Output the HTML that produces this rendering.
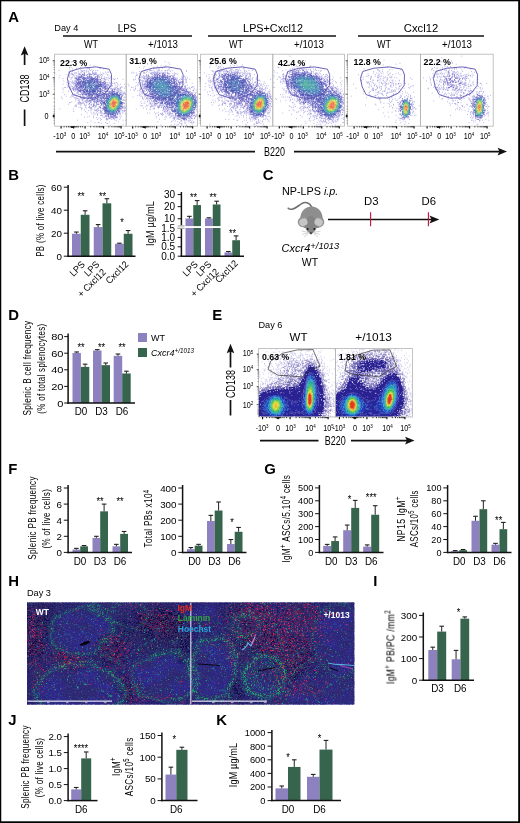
<!DOCTYPE html>
<html lang="en"><head><meta charset="utf-8"><title>Figure</title>
<style>html,body{margin:0;padding:0;background:#fff}svg{display:block}text{font-family:'Liberation Sans', sans-serif}</style>
</head><body>
<svg width="520" height="823" viewBox="0 0 520 823">
<rect x="0" y="0" width="520" height="823" fill="#fff"/>
<defs><filter id="idf" x="0" y="0" width="100%" height="100%" color-interpolation-filters="sRGB"><feOffset dx="0" dy="0"/></filter></defs>
<g filter="url(#idf)">
<text transform="translate(8.2 22.2) scale(1.02 1)" font-size="14.6" font-weight="bold" fill="#000">A</text>
<text transform="translate(8.2 180.4) scale(1.02 1)" font-size="14.6" font-weight="bold" fill="#000">B</text>
<text transform="translate(262.7 180.4) scale(1.02 1)" font-size="14.6" font-weight="bold" fill="#000">C</text>
<text transform="translate(8.2 320.2) scale(1.02 1)" font-size="14.6" font-weight="bold" fill="#000">D</text>
<text transform="translate(212.2 320.2) scale(1.02 1)" font-size="14.6" font-weight="bold" fill="#000">E</text>
<text transform="translate(8.2 474.4) scale(1.02 1)" font-size="14.6" font-weight="bold" fill="#000">F</text>
<text transform="translate(264.2 474.4) scale(1.02 1)" font-size="14.6" font-weight="bold" fill="#000">G</text>
<text transform="translate(8.2 585.7) scale(1.02 1)" font-size="14.6" font-weight="bold" fill="#000">H</text>
<text transform="translate(373.2 585.7) scale(1.02 1)" font-size="14.6" font-weight="bold" fill="#000">I</text>
<text transform="translate(8.2 724.7) scale(1.02 1)" font-size="14.6" font-weight="bold" fill="#000">J</text>
<text transform="translate(216.2 724.7) scale(1.02 1)" font-size="14.6" font-weight="bold" fill="#000">K</text>
<rect x="72" y="233.77" width="8.75" height="22.43" fill="#8e81bf"/>
<line x1="76.38" y1="233.77" x2="76.38" y2="232.05" stroke="#222" stroke-width="1"/>
<line x1="74.08" y1="232.05" x2="78.67" y2="232.05" stroke="#222" stroke-width="1.1"/>
<rect x="80.75" y="214.8" width="8.75" height="41.4" fill="#37644d"/>
<line x1="85.12" y1="214.8" x2="85.12" y2="210.77" stroke="#222" stroke-width="1"/>
<line x1="82.83" y1="210.77" x2="87.42" y2="210.77" stroke="#222" stroke-width="1.1"/>
<rect x="93.75" y="227.1" width="8.75" height="29.09" fill="#8e81bf"/>
<line x1="98.12" y1="227.1" x2="98.12" y2="224.57" stroke="#222" stroke-width="1"/>
<line x1="95.83" y1="224.57" x2="100.42" y2="224.57" stroke="#222" stroke-width="1.1"/>
<rect x="102.5" y="203.3" width="8.75" height="52.9" fill="#37644d"/>
<line x1="106.88" y1="203.3" x2="106.88" y2="198.7" stroke="#222" stroke-width="1"/>
<line x1="104.58" y1="198.7" x2="109.17" y2="198.7" stroke="#222" stroke-width="1.1"/>
<rect x="115" y="243.78" width="8.75" height="12.42" fill="#8e81bf"/>
<line x1="119.38" y1="243.78" x2="119.38" y2="243.2" stroke="#222" stroke-width="1"/>
<line x1="117.08" y1="243.2" x2="121.67" y2="243.2" stroke="#222" stroke-width="1.1"/>
<rect x="123.75" y="233.77" width="8.75" height="22.43" fill="#37644d"/>
<line x1="128.12" y1="233.77" x2="128.12" y2="230.55" stroke="#222" stroke-width="1"/>
<line x1="125.83" y1="230.55" x2="130.43" y2="230.55" stroke="#222" stroke-width="1.1"/>
<line x1="68.1" y1="185" x2="68.1" y2="256.95" stroke="#111" stroke-width="1.5"/>
<line x1="67.35" y1="256.2" x2="135.5" y2="256.2" stroke="#111" stroke-width="1.5"/>
<line x1="63.8" y1="187.2" x2="68" y2="187.2" stroke="#111" stroke-width="1"/>
<text transform="translate(62 190.73)" font-size="9.8" text-anchor="end">60</text>
<line x1="63.8" y1="210.2" x2="68" y2="210.2" stroke="#111" stroke-width="1"/>
<text transform="translate(62 213.73)" font-size="9.8" text-anchor="end">40</text>
<line x1="63.8" y1="233.2" x2="68" y2="233.2" stroke="#111" stroke-width="1"/>
<text transform="translate(62 236.73)" font-size="9.8" text-anchor="end">20</text>
<line x1="63.8" y1="256.2" x2="68" y2="256.2" stroke="#111" stroke-width="1"/>
<text transform="translate(62 259.73)" font-size="9.8" text-anchor="end">0</text>
<text transform="translate(81 200.4) scale(0.88 1)" font-size="10.5" text-anchor="middle">**</text>
<text transform="translate(102.5 200.4) scale(0.88 1)" font-size="10.5" text-anchor="middle">**</text>
<text transform="translate(122 226.4) scale(0.88 1)" font-size="10.5" text-anchor="middle">*</text>
<text transform="translate(43.9 220.5) rotate(-90) scale(0.72 1)" font-size="11" text-anchor="middle" letter-spacing="0.45">PB (% of live cells)</text>
<text transform="translate(85.5 265) rotate(-45) scale(0.95 1)" font-size="9.5" text-anchor="end">LPS</text>
<text transform="translate(100 265) rotate(-45) scale(0.95 1)" font-size="9.5" text-anchor="end">LPS</text>
<text transform="translate(106.5 272.8) rotate(-45) scale(0.95 1)" font-size="9.5" text-anchor="end">+ Cxcl12</text>
<text transform="translate(129 265) rotate(-45) scale(0.95 1)" font-size="9.5" text-anchor="end">Cxcl12</text>
<rect x="185.5" y="218.51" width="7.75" height="37.69" fill="#8e81bf"/>
<line x1="189.38" y1="218.51" x2="189.38" y2="216.33" stroke="#222" stroke-width="1"/>
<line x1="187.07" y1="216.33" x2="191.68" y2="216.33" stroke="#222" stroke-width="1.1"/>
<rect x="193.25" y="205.08" width="7.75" height="51.12" fill="#37644d"/>
<line x1="197.12" y1="205.08" x2="197.12" y2="200.6" stroke="#222" stroke-width="1"/>
<line x1="194.82" y1="200.6" x2="199.43" y2="200.6" stroke="#222" stroke-width="1.1"/>
<rect x="205" y="218.51" width="7.75" height="37.69" fill="#8e81bf"/>
<line x1="208.88" y1="218.51" x2="208.88" y2="217.78" stroke="#222" stroke-width="1"/>
<line x1="206.57" y1="217.78" x2="211.18" y2="217.78" stroke="#222" stroke-width="1.1"/>
<rect x="212.75" y="204.47" width="7.75" height="51.73" fill="#37644d"/>
<line x1="216.62" y1="204.47" x2="216.62" y2="201.21" stroke="#222" stroke-width="1"/>
<line x1="214.32" y1="201.21" x2="218.93" y2="201.21" stroke="#222" stroke-width="1.1"/>
<rect x="224.5" y="252.44" width="7.75" height="3.76" fill="#8e81bf"/>
<line x1="228.38" y1="252.44" x2="228.38" y2="251.5" stroke="#222" stroke-width="1"/>
<line x1="226.07" y1="251.5" x2="230.68" y2="251.5" stroke="#222" stroke-width="1.1"/>
<rect x="232.25" y="240.22" width="7.75" height="15.98" fill="#37644d"/>
<line x1="236.12" y1="240.22" x2="236.12" y2="235.9" stroke="#222" stroke-width="1"/>
<line x1="233.82" y1="235.9" x2="238.43" y2="235.9" stroke="#222" stroke-width="1.1"/>
<line x1="181.4" y1="192" x2="181.4" y2="256.95" stroke="#111" stroke-width="1.5"/>
<line x1="180.65" y1="256.2" x2="244" y2="256.2" stroke="#111" stroke-width="1.5"/>
<line x1="177.7" y1="194.55" x2="181.3" y2="194.55" stroke="#111" stroke-width="1"/>
<text transform="translate(175.1 198.15)" font-size="10" text-anchor="end">30</text>
<line x1="177.7" y1="206.65" x2="181.3" y2="206.65" stroke="#111" stroke-width="1"/>
<text transform="translate(175.1 210.25)" font-size="10" text-anchor="end">20</text>
<line x1="177.7" y1="218.75" x2="181.3" y2="218.75" stroke="#111" stroke-width="1"/>
<text transform="translate(175.1 222.35)" font-size="10" text-anchor="end">10</text>
<line x1="177.7" y1="228" x2="181.3" y2="228" stroke="#111" stroke-width="1"/>
<text transform="translate(175.1 231.6)" font-size="10" text-anchor="end">1.5</text>
<line x1="177.7" y1="237.4" x2="181.3" y2="237.4" stroke="#111" stroke-width="1"/>
<text transform="translate(175.1 241)" font-size="10" text-anchor="end">1.0</text>
<line x1="177.7" y1="246.8" x2="181.3" y2="246.8" stroke="#111" stroke-width="1"/>
<text transform="translate(175.1 250.4)" font-size="10" text-anchor="end">0.5</text>
<line x1="177.7" y1="256.2" x2="181.3" y2="256.2" stroke="#111" stroke-width="1"/>
<text transform="translate(175.1 259.8)" font-size="10" text-anchor="end">0.0</text>
<text transform="translate(193.5 201.4) scale(0.88 1)" font-size="10.5" text-anchor="middle">**</text>
<text transform="translate(213 201.4) scale(0.88 1)" font-size="10.5" text-anchor="middle">**</text>
<text transform="translate(232.5 236.9) scale(0.88 1)" font-size="10.5" text-anchor="middle">**</text>
<rect x="182.2" y="226.1" width="62" height="1.9" fill="#fff"/>
<rect x="177.8" y="225.3" width="6.8" height="3.4" fill="#fff"/>
<rect x="177.8" y="225.5" width="6.8" height="0.9" fill="#8a8a8a"/>
<rect x="177.8" y="227.8" width="6.8" height="0.9" fill="#8a8a8a"/>
<text transform="translate(154.3 223.5) rotate(-90) scale(0.87 1)" font-size="10.5" text-anchor="middle" letter-spacing="0.2">IgM &#181;g/mL</text>
<text transform="translate(198.5 265) rotate(-45) scale(0.95 1)" font-size="9.5" text-anchor="end">LPS</text>
<text transform="translate(212 265) rotate(-45) scale(0.95 1)" font-size="9.5" text-anchor="end">LPS</text>
<text transform="translate(219.5 272.5) rotate(-45) scale(0.95 1)" font-size="9.5" text-anchor="end">+ Cxcl12</text>
<text transform="translate(238.5 264) rotate(-45) scale(0.95 1)" font-size="9.5" text-anchor="end">Cxcl12</text>
<text transform="translate(282 195.2) scale(0.99 1)" font-size="10.9">NP-LPS <tspan font-style="italic">i.p.</tspan></text>
<line x1="328" y1="219.5" x2="433" y2="219.5" stroke="#111" stroke-width="1.4"/>
<path d="M439.3 219.5l-10-3.9 2.4 3.9-2.4 3.9z" fill="#111"/>
<line x1="370.6" y1="212.3" x2="370.6" y2="226.2" stroke="#c20f36" stroke-width="1.1"/>
<line x1="428.4" y1="212.3" x2="428.4" y2="226.2" stroke="#c20f36" stroke-width="1.1"/>
<text transform="translate(371.3 205.4) scale(1.08 1)" font-size="10.5" text-anchor="middle">D3</text>
<text transform="translate(428.8 205.4) scale(1.08 1)" font-size="10.5" text-anchor="middle">D6</text>
<text transform="translate(281.6 252.2) scale(1.02 1)" font-size="10.8" font-style="italic">Cxcr4<tspan font-size="9.2" dy="-3.4">+/1013</tspan></text>
<text transform="translate(310 266)" font-size="10.5" text-anchor="middle">WT</text>
<g id="mouse"><path d="M311.700 206.800c-2.500-4.500-6.500-5.300-10-3.200-3.500 2.200-6 5-9.500 5.600-1.800.300-3.200-.200-4-1" fill="none" stroke="#6e6e6e" stroke-width="1.600" stroke-linecap="round"/><path d="M300.200 219c0-7.500 5-12.600 11.300-12.600s11.300 5.100 11.300 12.600c0 4-2 7-4 9h-14.600c-2-2-4-5-4-9z" fill="#8e8e8e"/><ellipse cx="303.200" cy="222" rx="5.500" ry="5.200" fill="#949494"/><ellipse cx="318.800" cy="222" rx="5.500" ry="5.200" fill="#949494"/><path d="M307.800 217.500c1-2 5.400-2 6.400 0 2.200 3 3.400 7.500 2.400 10.500-1 2.800-3.400 5.400-5.600 6.400-2.200-1-4.600-3.600-5.600-6.400-1-3 .200-7.500 2.400-10.500z" fill="#848484"/><ellipse cx="303.400" cy="222.200" rx="4.200" ry="3.700" fill="#c6c6c6" transform="rotate(-25 303.400 222.200)"/><ellipse cx="318.600" cy="222.200" rx="4.200" ry="3.700" fill="#c6c6c6" transform="rotate(25 318.600 222.200)"/><circle cx="307.700" cy="229" r=".95" fill="#1a1a1a"/><circle cx="314.300" cy="229" r=".95" fill="#1a1a1a"/><path d="M309.700 232.600h2.600l-1.300 1.900z" fill="#2a2a2a"/><path d="M308 232.300l-6.500-1.200M308 233l-5.800 1.300M308.500 233.600l-4.500 3.200M314 232.300l6.500-1.200M314 233l5.800 1.300M313.500 233.600l4.500 3.200" stroke="#b0b0b0" stroke-width=".55" fill="none"/></g>
<rect x="72.5" y="352.95" width="8.4" height="50.05" fill="#8e81bf"/>
<line x1="76.7" y1="352.95" x2="76.7" y2="351.95" stroke="#222" stroke-width="1"/>
<line x1="74.4" y1="351.95" x2="79" y2="351.95" stroke="#222" stroke-width="1.1"/>
<rect x="80.9" y="366.89" width="8.4" height="36.11" fill="#37644d"/>
<line x1="85.1" y1="366.89" x2="85.1" y2="364.16" stroke="#222" stroke-width="1"/>
<line x1="82.8" y1="364.16" x2="87.4" y2="364.16" stroke="#222" stroke-width="1.1"/>
<rect x="93" y="350.54" width="8.5" height="52.46" fill="#8e81bf"/>
<line x1="97.25" y1="350.54" x2="97.25" y2="349.63" stroke="#222" stroke-width="1"/>
<line x1="94.95" y1="349.63" x2="99.55" y2="349.63" stroke="#222" stroke-width="1.1"/>
<rect x="101.5" y="365.15" width="8.5" height="37.85" fill="#37644d"/>
<line x1="105.75" y1="365.15" x2="105.75" y2="362.99" stroke="#222" stroke-width="1"/>
<line x1="103.45" y1="362.99" x2="108.05" y2="362.99" stroke="#222" stroke-width="1.1"/>
<rect x="113.7" y="355.86" width="8.5" height="47.14" fill="#8e81bf"/>
<line x1="117.95" y1="355.86" x2="117.95" y2="354.03" stroke="#222" stroke-width="1"/>
<line x1="115.65" y1="354.03" x2="120.25" y2="354.03" stroke="#222" stroke-width="1.1"/>
<rect x="122.2" y="373.45" width="8.5" height="29.55" fill="#37644d"/>
<line x1="126.45" y1="373.45" x2="126.45" y2="371.21" stroke="#222" stroke-width="1"/>
<line x1="124.15" y1="371.21" x2="128.75" y2="371.21" stroke="#222" stroke-width="1.1"/>
<line x1="68.1" y1="333.5" x2="68.1" y2="403.75" stroke="#111" stroke-width="1.5"/>
<line x1="67.35" y1="403" x2="135" y2="403" stroke="#111" stroke-width="1.5"/>
<line x1="64.2" y1="336.6" x2="68" y2="336.6" stroke="#111" stroke-width="1"/>
<text transform="translate(63.5 340.13) scale(1.13 1)" font-size="9.8" text-anchor="end">80</text>
<line x1="64.2" y1="353.2" x2="68" y2="353.2" stroke="#111" stroke-width="1"/>
<text transform="translate(63.5 356.73) scale(1.13 1)" font-size="9.8" text-anchor="end">60</text>
<line x1="64.2" y1="369.8" x2="68" y2="369.8" stroke="#111" stroke-width="1"/>
<text transform="translate(63.5 373.33) scale(1.13 1)" font-size="9.8" text-anchor="end">40</text>
<line x1="64.2" y1="386.4" x2="68" y2="386.4" stroke="#111" stroke-width="1"/>
<text transform="translate(63.5 389.93) scale(1.13 1)" font-size="9.8" text-anchor="end">20</text>
<line x1="64.2" y1="403" x2="68" y2="403" stroke="#111" stroke-width="1"/>
<text transform="translate(63.5 406.53) scale(1.13 1)" font-size="9.8" text-anchor="end">0</text>
<text transform="translate(81 415.3) scale(0.94 1)" font-size="10.5" text-anchor="middle">D0</text>
<text transform="translate(101.5 415.3) scale(0.94 1)" font-size="10.5" text-anchor="middle">D3</text>
<text transform="translate(122 415.3) scale(0.94 1)" font-size="10.5" text-anchor="middle">D6</text>
<text transform="translate(81 350.9) scale(0.88 1)" font-size="10.5" text-anchor="middle">**</text>
<text transform="translate(101.5 350.9) scale(0.88 1)" font-size="10.5" text-anchor="middle">**</text>
<text transform="translate(122 350.9) scale(0.88 1)" font-size="10.5" text-anchor="middle">**</text>
<text transform="translate(31 368) rotate(-90) scale(0.73 1)" font-size="11.2" text-anchor="middle" letter-spacing="0.45">Splenic B cell frequency</text>
<text transform="translate(44.8 368.6) rotate(-90) scale(0.71 1)" font-size="11.2" text-anchor="middle" letter-spacing="0.45">(% of total splenocytes)</text>
<rect x="138" y="333" width="9" height="9" fill="#8e81bf"/>
<rect x="138" y="348" width="9" height="9" fill="#37644d"/>
<text transform="translate(151 341)" font-size="9">WT</text>
<text transform="translate(151 356.3)" font-size="9" font-style="italic">Cxcr4<tspan font-size="6.3" dy="-3">+/1013</tspan></text>
<rect x="72.5" y="549.58" width="7.7" height="2.82" fill="#8e81bf"/>
<line x1="76.35" y1="549.58" x2="76.35" y2="548.38" stroke="#222" stroke-width="1"/>
<line x1="74.05" y1="548.38" x2="78.65" y2="548.38" stroke="#222" stroke-width="1.1"/>
<rect x="80.2" y="546.36" width="7.8" height="6.04" fill="#37644d"/>
<line x1="84.1" y1="546.36" x2="84.1" y2="545.56" stroke="#222" stroke-width="1"/>
<line x1="81.8" y1="545.56" x2="86.4" y2="545.56" stroke="#222" stroke-width="1.1"/>
<rect x="92.5" y="537.91" width="7.7" height="14.49" fill="#8e81bf"/>
<line x1="96.35" y1="537.91" x2="96.35" y2="536.3" stroke="#222" stroke-width="1"/>
<line x1="94.05" y1="536.3" x2="98.65" y2="536.3" stroke="#222" stroke-width="1.1"/>
<rect x="100.2" y="511.34" width="7.8" height="41.06" fill="#37644d"/>
<line x1="104.1" y1="511.34" x2="104.1" y2="504.1" stroke="#222" stroke-width="1"/>
<line x1="101.8" y1="504.1" x2="106.4" y2="504.1" stroke="#222" stroke-width="1.1"/>
<rect x="112.5" y="546.36" width="7.7" height="6.04" fill="#8e81bf"/>
<line x1="116.35" y1="546.36" x2="116.35" y2="544.35" stroke="#222" stroke-width="1"/>
<line x1="114.05" y1="544.35" x2="118.65" y2="544.35" stroke="#222" stroke-width="1.1"/>
<rect x="120.2" y="533.88" width="7.8" height="18.51" fill="#37644d"/>
<line x1="124.1" y1="533.88" x2="124.1" y2="531.47" stroke="#222" stroke-width="1"/>
<line x1="121.8" y1="531.47" x2="126.4" y2="531.47" stroke="#222" stroke-width="1.1"/>
<line x1="68.1" y1="485" x2="68.1" y2="553.15" stroke="#111" stroke-width="1.5"/>
<line x1="67.35" y1="552.4" x2="132" y2="552.4" stroke="#111" stroke-width="1.5"/>
<line x1="63.8" y1="488" x2="68" y2="488" stroke="#111" stroke-width="1"/>
<text transform="translate(62 491.53)" font-size="9.8" text-anchor="end">8</text>
<line x1="63.8" y1="504.1" x2="68" y2="504.1" stroke="#111" stroke-width="1"/>
<text transform="translate(62 507.63)" font-size="9.8" text-anchor="end">6</text>
<line x1="63.8" y1="520.2" x2="68" y2="520.2" stroke="#111" stroke-width="1"/>
<text transform="translate(62 523.73)" font-size="9.8" text-anchor="end">4</text>
<line x1="63.8" y1="536.3" x2="68" y2="536.3" stroke="#111" stroke-width="1"/>
<text transform="translate(62 539.83)" font-size="9.8" text-anchor="end">2</text>
<line x1="63.8" y1="552.4" x2="68" y2="552.4" stroke="#111" stroke-width="1"/>
<text transform="translate(62 555.93)" font-size="9.8" text-anchor="end">0</text>
<text transform="translate(80 564.8) scale(0.94 1)" font-size="10.5" text-anchor="middle">D0</text>
<text transform="translate(100 564.8) scale(0.94 1)" font-size="10.5" text-anchor="middle">D3</text>
<text transform="translate(120 564.8) scale(0.94 1)" font-size="10.5" text-anchor="middle">D6</text>
<text transform="translate(100 505.4) scale(0.88 1)" font-size="10.5" text-anchor="middle">**</text>
<text transform="translate(120 505.4) scale(0.88 1)" font-size="10.5" text-anchor="middle">**</text>
<text transform="translate(36.4 518) rotate(-90) scale(0.72 1)" font-size="11.2" text-anchor="middle" letter-spacing="0.45">Splenic PB frequency</text>
<text transform="translate(50 518.7) rotate(-90) scale(0.72 1)" font-size="11.2" text-anchor="middle" letter-spacing="0.45">(% of live cells)</text>
<rect x="187" y="549.18" width="7.7" height="3.22" fill="#8e81bf"/>
<line x1="190.85" y1="549.18" x2="190.85" y2="547.57" stroke="#222" stroke-width="1"/>
<line x1="188.55" y1="547.57" x2="193.15" y2="547.57" stroke="#222" stroke-width="1.1"/>
<rect x="194.7" y="545.64" width="7.8" height="6.76" fill="#37644d"/>
<line x1="198.6" y1="545.64" x2="198.6" y2="544.35" stroke="#222" stroke-width="1"/>
<line x1="196.3" y1="544.35" x2="200.9" y2="544.35" stroke="#222" stroke-width="1.1"/>
<rect x="207" y="521" width="7.7" height="31.39" fill="#8e81bf"/>
<line x1="210.85" y1="521" x2="210.85" y2="515.37" stroke="#222" stroke-width="1"/>
<line x1="208.55" y1="515.37" x2="213.15" y2="515.37" stroke="#222" stroke-width="1.1"/>
<rect x="214.7" y="510.54" width="7.8" height="41.86" fill="#37644d"/>
<line x1="218.6" y1="510.54" x2="218.6" y2="502.01" stroke="#222" stroke-width="1"/>
<line x1="216.3" y1="502.01" x2="220.9" y2="502.01" stroke="#222" stroke-width="1.1"/>
<rect x="227" y="544.03" width="7.7" height="8.37" fill="#8e81bf"/>
<line x1="230.85" y1="544.03" x2="230.85" y2="539.52" stroke="#222" stroke-width="1"/>
<line x1="228.55" y1="539.52" x2="233.15" y2="539.52" stroke="#222" stroke-width="1.1"/>
<rect x="234.7" y="531.79" width="7.8" height="20.61" fill="#37644d"/>
<line x1="238.6" y1="531.79" x2="238.6" y2="527.44" stroke="#222" stroke-width="1"/>
<line x1="236.3" y1="527.44" x2="240.9" y2="527.44" stroke="#222" stroke-width="1.1"/>
<line x1="182.6" y1="485" x2="182.6" y2="553.15" stroke="#111" stroke-width="1.5"/>
<line x1="181.85" y1="552.4" x2="246.5" y2="552.4" stroke="#111" stroke-width="1.5"/>
<line x1="178.3" y1="488" x2="182.5" y2="488" stroke="#111" stroke-width="1"/>
<text transform="translate(176.5 491.53)" font-size="9.8" text-anchor="end">400</text>
<line x1="178.3" y1="504.1" x2="182.5" y2="504.1" stroke="#111" stroke-width="1"/>
<text transform="translate(176.5 507.63)" font-size="9.8" text-anchor="end">300</text>
<line x1="178.3" y1="520.2" x2="182.5" y2="520.2" stroke="#111" stroke-width="1"/>
<text transform="translate(176.5 523.73)" font-size="9.8" text-anchor="end">200</text>
<line x1="178.3" y1="536.3" x2="182.5" y2="536.3" stroke="#111" stroke-width="1"/>
<text transform="translate(176.5 539.83)" font-size="9.8" text-anchor="end">100</text>
<line x1="178.3" y1="552.4" x2="182.5" y2="552.4" stroke="#111" stroke-width="1"/>
<text transform="translate(176.5 555.93)" font-size="9.8" text-anchor="end">0</text>
<text transform="translate(194.5 564.8) scale(0.94 1)" font-size="10.5" text-anchor="middle">D0</text>
<text transform="translate(214.5 564.8) scale(0.94 1)" font-size="10.5" text-anchor="middle">D3</text>
<text transform="translate(234.5 564.8) scale(0.94 1)" font-size="10.5" text-anchor="middle">D6</text>
<text transform="translate(232 526.1) scale(0.88 1)" font-size="10.5" text-anchor="middle">*</text>
<text transform="translate(152.3 518.5) rotate(-90) scale(0.73 1)" font-size="11.2" text-anchor="middle" letter-spacing="0.45">Total PBs x10<tspan font-size="8.2" dy="-3.6">4</tspan></text>
<rect x="323.2" y="545.95" width="8" height="6.45" fill="#8e81bf"/>
<line x1="327.2" y1="545.95" x2="327.2" y2="544.4" stroke="#222" stroke-width="1"/>
<line x1="324.9" y1="544.4" x2="329.5" y2="544.4" stroke="#222" stroke-width="1.1"/>
<rect x="331.2" y="541.05" width="7.8" height="11.35" fill="#37644d"/>
<line x1="335.1" y1="541.05" x2="335.1" y2="536.92" stroke="#222" stroke-width="1"/>
<line x1="332.8" y1="536.92" x2="337.4" y2="536.92" stroke="#222" stroke-width="1.1"/>
<rect x="343.2" y="530.21" width="8" height="22.19" fill="#8e81bf"/>
<line x1="347.2" y1="530.21" x2="347.2" y2="525.05" stroke="#222" stroke-width="1"/>
<line x1="344.9" y1="525.05" x2="349.5" y2="525.05" stroke="#222" stroke-width="1.1"/>
<rect x="351.2" y="507.89" width="8" height="44.5" fill="#37644d"/>
<line x1="355.2" y1="507.89" x2="355.2" y2="500.41" stroke="#222" stroke-width="1"/>
<line x1="352.9" y1="500.41" x2="357.5" y2="500.41" stroke="#222" stroke-width="1.1"/>
<rect x="363.2" y="546.6" width="8" height="5.8" fill="#8e81bf"/>
<line x1="367.2" y1="546.6" x2="367.2" y2="544.92" stroke="#222" stroke-width="1"/>
<line x1="364.9" y1="544.92" x2="369.5" y2="544.92" stroke="#222" stroke-width="1.1"/>
<rect x="371.2" y="514.73" width="8" height="37.67" fill="#37644d"/>
<line x1="375.2" y1="514.73" x2="375.2" y2="505.7" stroke="#222" stroke-width="1"/>
<line x1="372.9" y1="505.7" x2="377.5" y2="505.7" stroke="#222" stroke-width="1.1"/>
<line x1="319.4" y1="485" x2="319.4" y2="553.15" stroke="#111" stroke-width="1.5"/>
<line x1="318.65" y1="552.4" x2="383.5" y2="552.4" stroke="#111" stroke-width="1.5"/>
<line x1="315.1" y1="487.9" x2="319.3" y2="487.9" stroke="#111" stroke-width="1"/>
<text transform="translate(313.3 491.43) scale(0.93 1)" font-size="9.8" text-anchor="end">500</text>
<line x1="315.1" y1="500.8" x2="319.3" y2="500.8" stroke="#111" stroke-width="1"/>
<text transform="translate(313.3 504.33) scale(0.93 1)" font-size="9.8" text-anchor="end">400</text>
<line x1="315.1" y1="513.7" x2="319.3" y2="513.7" stroke="#111" stroke-width="1"/>
<text transform="translate(313.3 517.23) scale(0.93 1)" font-size="9.8" text-anchor="end">300</text>
<line x1="315.1" y1="526.6" x2="319.3" y2="526.6" stroke="#111" stroke-width="1"/>
<text transform="translate(313.3 530.13) scale(0.93 1)" font-size="9.8" text-anchor="end">200</text>
<line x1="315.1" y1="539.5" x2="319.3" y2="539.5" stroke="#111" stroke-width="1"/>
<text transform="translate(313.3 543.03) scale(0.93 1)" font-size="9.8" text-anchor="end">100</text>
<line x1="315.1" y1="552.4" x2="319.3" y2="552.4" stroke="#111" stroke-width="1"/>
<text transform="translate(313.3 555.93) scale(0.93 1)" font-size="9.8" text-anchor="end">0</text>
<text transform="translate(331.2 564.8) scale(0.94 1)" font-size="10.5" text-anchor="middle">D0</text>
<text transform="translate(351.2 564.8) scale(0.94 1)" font-size="10.5" text-anchor="middle">D3</text>
<text transform="translate(371.2 564.8) scale(0.94 1)" font-size="10.5" text-anchor="middle">D6</text>
<text transform="translate(349.5 502.9) scale(0.88 1)" font-size="10.5" text-anchor="middle">*</text>
<text transform="translate(371.2 501.4) scale(0.88 1)" font-size="10.5" text-anchor="middle">***</text>
<text transform="translate(289.7 518.7) rotate(-90) scale(0.74 1)" font-size="11.2" text-anchor="middle" letter-spacing="0.45">IgM<tspan font-size="8.2" dy="-3.6">+</tspan><tspan dy="3.6"> ASCs/5.10</tspan><tspan font-size="8.2" dy="-3.6">4</tspan><tspan dy="3.6"> cells</tspan></text>
<rect x="451.2" y="551.11" width="8" height="1.29" fill="#8e81bf"/>
<line x1="455.2" y1="551.11" x2="455.2" y2="550.59" stroke="#222" stroke-width="1"/>
<line x1="452.9" y1="550.59" x2="457.5" y2="550.59" stroke="#222" stroke-width="1.1"/>
<rect x="459.2" y="550.14" width="7.8" height="2.26" fill="#37644d"/>
<line x1="463.1" y1="550.14" x2="463.1" y2="549.5" stroke="#222" stroke-width="1"/>
<line x1="460.8" y1="549.5" x2="465.4" y2="549.5" stroke="#222" stroke-width="1.1"/>
<rect x="471.5" y="520.79" width="8" height="31.61" fill="#8e81bf"/>
<line x1="475.5" y1="520.79" x2="475.5" y2="516.28" stroke="#222" stroke-width="1"/>
<line x1="473.2" y1="516.28" x2="477.8" y2="516.28" stroke="#222" stroke-width="1.1"/>
<rect x="479.5" y="509.18" width="7.7" height="43.22" fill="#37644d"/>
<line x1="483.35" y1="509.18" x2="483.35" y2="500.8" stroke="#222" stroke-width="1"/>
<line x1="481.05" y1="500.8" x2="485.65" y2="500.8" stroke="#222" stroke-width="1.1"/>
<rect x="491.5" y="544.66" width="8" height="7.74" fill="#8e81bf"/>
<line x1="495.5" y1="544.66" x2="495.5" y2="543.37" stroke="#222" stroke-width="1"/>
<line x1="493.2" y1="543.37" x2="497.8" y2="543.37" stroke="#222" stroke-width="1.1"/>
<rect x="499.5" y="529.18" width="7.7" height="23.22" fill="#37644d"/>
<line x1="503.35" y1="529.18" x2="503.35" y2="522.41" stroke="#222" stroke-width="1"/>
<line x1="501.05" y1="522.41" x2="505.65" y2="522.41" stroke="#222" stroke-width="1.1"/>
<line x1="447.6" y1="485" x2="447.6" y2="553.15" stroke="#111" stroke-width="1.5"/>
<line x1="446.85" y1="552.4" x2="511.5" y2="552.4" stroke="#111" stroke-width="1.5"/>
<line x1="443.3" y1="487.9" x2="447.5" y2="487.9" stroke="#111" stroke-width="1"/>
<text transform="translate(441.5 491.43) scale(0.93 1)" font-size="9.8" text-anchor="end">100</text>
<line x1="443.3" y1="500.8" x2="447.5" y2="500.8" stroke="#111" stroke-width="1"/>
<text transform="translate(441.5 504.33) scale(0.93 1)" font-size="9.8" text-anchor="end">80</text>
<line x1="443.3" y1="513.7" x2="447.5" y2="513.7" stroke="#111" stroke-width="1"/>
<text transform="translate(441.5 517.23) scale(0.93 1)" font-size="9.8" text-anchor="end">60</text>
<line x1="443.3" y1="526.6" x2="447.5" y2="526.6" stroke="#111" stroke-width="1"/>
<text transform="translate(441.5 530.13) scale(0.93 1)" font-size="9.8" text-anchor="end">40</text>
<line x1="443.3" y1="539.5" x2="447.5" y2="539.5" stroke="#111" stroke-width="1"/>
<text transform="translate(441.5 543.03) scale(0.93 1)" font-size="9.8" text-anchor="end">20</text>
<line x1="443.3" y1="552.4" x2="447.5" y2="552.4" stroke="#111" stroke-width="1"/>
<text transform="translate(441.5 555.93) scale(0.93 1)" font-size="9.8" text-anchor="end">0</text>
<text transform="translate(459.2 564.8) scale(0.94 1)" font-size="10.5" text-anchor="middle">D0</text>
<text transform="translate(479.5 564.8) scale(0.94 1)" font-size="10.5" text-anchor="middle">D3</text>
<text transform="translate(499.5 564.8) scale(0.94 1)" font-size="10.5" text-anchor="middle">D6</text>
<text transform="translate(498.7 523.6) scale(0.88 1)" font-size="10.5" text-anchor="middle">**</text>
<text transform="translate(405 519) rotate(-90) scale(0.78 1)" font-size="11.2" text-anchor="middle" letter-spacing="0.45">NP15 IgM<tspan font-size="8.2" dy="-3.6">+</tspan></text>
<text transform="translate(417.5 518.7) rotate(-90) scale(0.71 1)" font-size="11.2" text-anchor="middle" letter-spacing="0.45">ASCs/10<tspan font-size="8.2" dy="-3.6">5</tspan><tspan dy="3.6"> cells</tspan></text>
<rect x="428.3" y="649.96" width="8.9" height="30.24" fill="#8e81bf"/>
<line x1="432.75" y1="649.96" x2="432.75" y2="647.15" stroke="#222" stroke-width="1"/>
<line x1="430.45" y1="647.15" x2="435.05" y2="647.15" stroke="#222" stroke-width="1.1"/>
<rect x="437.2" y="631.6" width="9" height="48.6" fill="#37644d"/>
<line x1="441.7" y1="631.6" x2="441.7" y2="626.2" stroke="#222" stroke-width="1"/>
<line x1="439.4" y1="626.2" x2="444" y2="626.2" stroke="#222" stroke-width="1.1"/>
<rect x="451.7" y="659.25" width="8.7" height="20.95" fill="#8e81bf"/>
<line x1="456.05" y1="659.25" x2="456.05" y2="650.39" stroke="#222" stroke-width="1"/>
<line x1="453.75" y1="650.39" x2="458.35" y2="650.39" stroke="#222" stroke-width="1.1"/>
<rect x="460.4" y="618.64" width="8.8" height="61.56" fill="#37644d"/>
<line x1="464.8" y1="618.64" x2="464.8" y2="616.91" stroke="#222" stroke-width="1"/>
<line x1="462.5" y1="616.91" x2="467.1" y2="616.91" stroke="#222" stroke-width="1.1"/>
<line x1="423.3" y1="612.5" x2="423.3" y2="680.95" stroke="#111" stroke-width="1.5"/>
<line x1="422.55" y1="680.2" x2="474" y2="680.2" stroke="#111" stroke-width="1.5"/>
<line x1="419" y1="615.4" x2="423.2" y2="615.4" stroke="#111" stroke-width="1"/>
<text transform="translate(417.2 618.93)" font-size="9.8" text-anchor="end">300</text>
<line x1="419" y1="637" x2="423.2" y2="637" stroke="#111" stroke-width="1"/>
<text transform="translate(417.2 640.53)" font-size="9.8" text-anchor="end">200</text>
<line x1="419" y1="658.6" x2="423.2" y2="658.6" stroke="#111" stroke-width="1"/>
<text transform="translate(417.2 662.13)" font-size="9.8" text-anchor="end">100</text>
<line x1="419" y1="680.2" x2="423.2" y2="680.2" stroke="#111" stroke-width="1"/>
<text transform="translate(417.2 683.73)" font-size="9.8" text-anchor="end">0</text>
<text transform="translate(437.5 692.3) scale(0.94 1)" font-size="10.5" text-anchor="middle">D3</text>
<text transform="translate(460.3 692.3) scale(0.94 1)" font-size="10.5" text-anchor="middle">D6</text>
<text transform="translate(458.5 616.4) scale(0.88 1)" font-size="10.5" text-anchor="middle">*</text>
<text transform="translate(394.4 647) rotate(-90) scale(0.77 1)" font-size="11.2" text-anchor="middle" letter-spacing="0.45">IgM<tspan font-size="8.2" dy="-3.6">+</tspan><tspan dy="3.6"> PB/PC /mm</tspan><tspan font-size="8.2" dy="-3.6">2</tspan></text>
<rect x="71.2" y="789.4" width="10" height="11.2" fill="#8e81bf"/>
<line x1="76.2" y1="789.4" x2="76.2" y2="787.48" stroke="#222" stroke-width="1"/>
<line x1="73.9" y1="787.48" x2="78.5" y2="787.48" stroke="#222" stroke-width="1.1"/>
<rect x="81.2" y="758.36" width="10" height="42.24" fill="#37644d"/>
<line x1="86.2" y1="758.36" x2="86.2" y2="751.96" stroke="#222" stroke-width="1"/>
<line x1="83.9" y1="751.96" x2="88.5" y2="751.96" stroke="#222" stroke-width="1.1"/>
<line x1="68.1" y1="733.5" x2="68.1" y2="801.35" stroke="#111" stroke-width="1.5"/>
<line x1="67.35" y1="800.6" x2="97.5" y2="800.6" stroke="#111" stroke-width="1.5"/>
<line x1="63.8" y1="736.6" x2="68" y2="736.6" stroke="#111" stroke-width="1"/>
<text transform="translate(62 740.13)" font-size="9.8" text-anchor="end">2.0</text>
<line x1="63.8" y1="752.6" x2="68" y2="752.6" stroke="#111" stroke-width="1"/>
<text transform="translate(62 756.13)" font-size="9.8" text-anchor="end">1.5</text>
<line x1="63.8" y1="768.6" x2="68" y2="768.6" stroke="#111" stroke-width="1"/>
<text transform="translate(62 772.13)" font-size="9.8" text-anchor="end">1.0</text>
<line x1="63.8" y1="784.6" x2="68" y2="784.6" stroke="#111" stroke-width="1"/>
<text transform="translate(62 788.13)" font-size="9.8" text-anchor="end">0.5</text>
<line x1="63.8" y1="800.6" x2="68" y2="800.6" stroke="#111" stroke-width="1"/>
<text transform="translate(62 804.13)" font-size="9.8" text-anchor="end">0.0</text>
<text transform="translate(81.2 813.3) scale(0.94 1)" font-size="10.5" text-anchor="middle">D6</text>
<text transform="translate(81 752.4) scale(0.88 1)" font-size="10.5" text-anchor="middle">****</text>
<text transform="translate(28.5 767) rotate(-90) scale(0.72 1)" font-size="11.2" text-anchor="middle" letter-spacing="0.45">Splenic PB frequency</text>
<text transform="translate(42.6 767.5) rotate(-90) scale(0.72 1)" font-size="11.2" text-anchor="middle" letter-spacing="0.45">(% of live cells)</text>
<rect x="165.5" y="774.56" width="10.8" height="26.04" fill="#8e81bf"/>
<line x1="170.9" y1="774.56" x2="170.9" y2="767.18" stroke="#222" stroke-width="1"/>
<line x1="168.6" y1="767.18" x2="173.2" y2="767.18" stroke="#222" stroke-width="1.1"/>
<rect x="176.3" y="749.82" width="11.2" height="50.78" fill="#37644d"/>
<line x1="181.9" y1="749.82" x2="181.9" y2="747.22" stroke="#222" stroke-width="1"/>
<line x1="179.6" y1="747.22" x2="184.2" y2="747.22" stroke="#222" stroke-width="1.1"/>
<line x1="161.9" y1="732.5" x2="161.9" y2="801.35" stroke="#111" stroke-width="1.5"/>
<line x1="161.15" y1="800.6" x2="197.5" y2="800.6" stroke="#111" stroke-width="1.5"/>
<line x1="157.6" y1="735.5" x2="161.8" y2="735.5" stroke="#111" stroke-width="1"/>
<text transform="translate(155.8 739.03)" font-size="9.8" text-anchor="end">150</text>
<line x1="157.6" y1="757.2" x2="161.8" y2="757.2" stroke="#111" stroke-width="1"/>
<text transform="translate(155.8 760.73)" font-size="9.8" text-anchor="end">100</text>
<line x1="157.6" y1="778.9" x2="161.8" y2="778.9" stroke="#111" stroke-width="1"/>
<text transform="translate(155.8 782.43)" font-size="9.8" text-anchor="end">50</text>
<line x1="157.6" y1="800.6" x2="161.8" y2="800.6" stroke="#111" stroke-width="1"/>
<text transform="translate(155.8 804.13)" font-size="9.8" text-anchor="end">0</text>
<text transform="translate(176.3 813.3) scale(0.94 1)" font-size="10.5" text-anchor="middle">D6</text>
<text transform="translate(174.3 742.9) scale(0.88 1)" font-size="10.5" text-anchor="middle">*</text>
<text transform="translate(119.5 766.5) rotate(-90) scale(0.75 1)" font-size="11.2" text-anchor="middle" letter-spacing="0.45">IgM<tspan font-size="8.2" dy="-3.6">+</tspan></text>
<text transform="translate(132.5 766.8) rotate(-90) scale(0.73 1)" font-size="11.2" text-anchor="middle" letter-spacing="0.45">ASCs/10<tspan font-size="8.2" dy="-3.6">5</tspan><tspan dy="3.6"> cells</tspan></text>
<rect x="275.5" y="788.36" width="12.5" height="12.24" fill="#8e81bf"/>
<line x1="281.75" y1="788.36" x2="281.75" y2="785.98" stroke="#222" stroke-width="1"/>
<line x1="279.45" y1="785.98" x2="284.05" y2="785.98" stroke="#222" stroke-width="1.1"/>
<rect x="288" y="766.94" width="12.5" height="33.66" fill="#37644d"/>
<line x1="294.25" y1="766.94" x2="294.25" y2="759.8" stroke="#222" stroke-width="1"/>
<line x1="291.95" y1="759.8" x2="296.55" y2="759.8" stroke="#222" stroke-width="1.1"/>
<rect x="307" y="776.8" width="12.5" height="23.8" fill="#8e81bf"/>
<line x1="313.25" y1="776.8" x2="313.25" y2="774.42" stroke="#222" stroke-width="1"/>
<line x1="310.95" y1="774.42" x2="315.55" y2="774.42" stroke="#222" stroke-width="1.1"/>
<rect x="319.5" y="749.6" width="13" height="51" fill="#37644d"/>
<line x1="326" y1="749.6" x2="326" y2="740.42" stroke="#222" stroke-width="1"/>
<line x1="323.7" y1="740.42" x2="328.3" y2="740.42" stroke="#222" stroke-width="1.1"/>
<line x1="271.9" y1="730" x2="271.9" y2="801.35" stroke="#111" stroke-width="1.5"/>
<line x1="271.15" y1="800.6" x2="341" y2="800.6" stroke="#111" stroke-width="1.5"/>
<line x1="267.6" y1="732.6" x2="271.8" y2="732.6" stroke="#111" stroke-width="1"/>
<text transform="translate(265.4 736.02) scale(0.98 1)" font-size="9.5" text-anchor="end">1000</text>
<line x1="267.6" y1="746.2" x2="271.8" y2="746.2" stroke="#111" stroke-width="1"/>
<text transform="translate(265.4 749.62) scale(0.98 1)" font-size="9.5" text-anchor="end">800</text>
<line x1="267.6" y1="759.8" x2="271.8" y2="759.8" stroke="#111" stroke-width="1"/>
<text transform="translate(265.4 763.22) scale(0.98 1)" font-size="9.5" text-anchor="end">600</text>
<line x1="267.6" y1="773.4" x2="271.8" y2="773.4" stroke="#111" stroke-width="1"/>
<text transform="translate(265.4 776.82) scale(0.98 1)" font-size="9.5" text-anchor="end">400</text>
<line x1="267.6" y1="787" x2="271.8" y2="787" stroke="#111" stroke-width="1"/>
<text transform="translate(265.4 790.42) scale(0.98 1)" font-size="9.5" text-anchor="end">200</text>
<line x1="267.6" y1="800.6" x2="271.8" y2="800.6" stroke="#111" stroke-width="1"/>
<text transform="translate(265.4 804.02) scale(0.98 1)" font-size="9.5" text-anchor="end">0</text>
<text transform="translate(288 813.3) scale(0.94 1)" font-size="10.5" text-anchor="middle">D0</text>
<text transform="translate(319.5 813.3) scale(0.94 1)" font-size="10.5" text-anchor="middle">D6</text>
<text transform="translate(288 760.9) scale(0.88 1)" font-size="10.5" text-anchor="middle">*</text>
<text transform="translate(319.5 741.9) scale(0.88 1)" font-size="10.5" text-anchor="middle">*</text>
<text transform="translate(236.8 765) rotate(-90) scale(0.86 1)" font-size="10.5" text-anchor="middle" letter-spacing="0.2">IgM &#181;g/mL</text>
<defs><filter id="soft" x="-5%" y="-5%" width="110%" height="110%"><feGaussianBlur stdDeviation="0.32"/></filter></defs>
<text transform="translate(54.3 30.6) scale(1.02 1)" font-size="9">Day 4</text>
<text transform="translate(127 32.3) scale(0.86 1)" font-size="11.5" text-anchor="middle">LPS</text>
<text transform="translate(273 32.3) scale(0.94 1)" font-size="11.5" text-anchor="middle">LPS+Cxcl12</text>
<text transform="translate(421 32.3) scale(0.98 1)" font-size="11.5" text-anchor="middle">Cxcl12</text>
<line x1="63" y1="36" x2="192" y2="36" stroke="#111" stroke-width="1.4"/>
<line x1="208" y1="36" x2="336" y2="36" stroke="#111" stroke-width="1.4"/>
<line x1="358" y1="36" x2="484" y2="36" stroke="#111" stroke-width="1.4"/>
<text transform="translate(91 48.2) scale(0.9 1)" font-size="10" text-anchor="middle">WT</text>
<text transform="translate(163 48.2) scale(0.97 1)" font-size="10" text-anchor="middle">+/1013</text>
<text transform="translate(236 48.2) scale(0.9 1)" font-size="10" text-anchor="middle">WT</text>
<text transform="translate(309 48.2) scale(0.97 1)" font-size="10" text-anchor="middle">+/1013</text>
<text transform="translate(384 48.2) scale(0.9 1)" font-size="10" text-anchor="middle">WT</text>
<text transform="translate(457 48.2) scale(0.97 1)" font-size="10" text-anchor="middle">+/1013</text>
<g transform="translate(54.6 54.2)" fill="none" filter="url(#soft)"><path stroke="#5649c0" stroke-width="0.8" stroke-opacity="0.62" d="M28 6.8h0.8M16.8 7.6h0.8M24.8 7.6h0.8M24.8 8.4h0.8M35.2 10.8h0.8M15.2 11.6h0.8M30.4 11.6h0.8M39.2 11.6h0.8M30.4 12.4h0.8M14.4 13.2h0.8M16 13.2h0.8M25.6 13.2h0.8M32 13.2h0.8M21.6 14h0.8M32.8 14h2.4M44.8 14h1.6M14.4 14.8h0.8M17.6 14.8h0.8M32 14.8h0.8M34.4 14.8h0.8M48.8 14.8h0.8M25.6 15.6h0.8M34.4 15.6h0.8M36.8 15.6h0.8M4 16.4h0.8M26.4 16.4h0.8M28 16.4h0.8M29.6 16.4h0.8M31.2 16.4h0.8M35.2 16.4h0.8M38.4 16.4h0.8M40.8 16.4h0.8M42.4 16.4h0.8M15.2 17.2h0.8M17.6 17.2h0.8M23.2 17.2h0.8M27.2 17.2h1.6M32 17.2h0.8M33.6 17.2h0.8M37.6 17.2h0.8M13.6 18h1.6M25.6 18h1.6M29.6 18h0.8M31.2 18h0.8M37.6 18h0.8M40 18h0.8M50.4 18h0.8M52.8 18h1.6M0 18.8h0.8M16.8 18.8h0.8M19.2 18.8h3.2M23.2 18.8h0.8M28.8 18.8h1.6M33.6 18.8h1.6M37.6 18.8h1.6M40 18.8h2.4M45.6 18.8h0.8M48 18.8h0.8M14.4 19.6h0.8M16 19.6h0.8M17.6 19.6h0.8M24 19.6h1.6M27.2 19.6h0.8M33.6 19.6h0.8M37.6 19.6h1.6M40.8 19.6h0.8M48.8 19.6h0.8M51.2 19.6h0.8M12 20.4h0.8M16.8 20.4h2.4M23.2 20.4h0.8M25.6 20.4h0.8M28.8 20.4h1.6M32 20.4h0.8M36 20.4h0.8M39.2 20.4h0.8M40.8 20.4h1.6M43.2 20.4h0.8M44.8 20.4h0.8M46.4 20.4h1.6M52.8 20.4h0.8M4.8 21.2h0.8M14.4 21.2h0.8M18.4 21.2h0.8M20 21.2h0.8M21.6 21.2h0.8M34.4 21.2h0.8M38.4 21.2h0.8M42.4 21.2h1.6M45.6 21.2h0.8M52.8 21.2h0.8M22.4 22h0.8M24 22h2.4M41.6 22h0.8M43.2 22h0.8M47.2 22h0.8M55.2 22h0.8M14.4 22.8h0.8M17.6 22.8h0.8M19.2 22.8h0.8M21.6 22.8h0.8M44.8 22.8h0.8M49.6 22.8h0.8M4 23.6h0.8M12.8 23.6h0.8M16 23.6h1.6M20 23.6h4M44.8 23.6h0.8M51.2 23.6h1.6M53.6 23.6h0.8M55.2 23.6h0.8M8 24.4h0.8M20 24.4h0.8M48 24.4h2.4M54.4 24.4h0.8M58.4 24.4h0.8M62.4 24.4h0.8M16 25.2h0.8M21.6 25.2h0.8M49.6 25.2h1.6M52 25.2h0.8M56.8 25.2h0.8M59.2 25.2h1.6M68 25.2h0.8M21.6 26h0.8M48 26h0.8M50.4 26h0.8M53.6 26h0.8M8.8 26.8h0.8M13.6 26.8h0.8M17.6 26.8h0.8M19.2 26.8h1.6M24.8 26.8h0.8M49.6 26.8h0.8M14.4 27.6h0.8M16 27.6h0.8M17.6 27.6h0.8M50.4 27.6h0.8M12 28.4h0.8M16.8 28.4h0.8M18.4 28.4h1.6M47.2 28.4h0.8M50.4 28.4h1.6M52.8 28.4h0.8M54.4 28.4h0.8M56.8 28.4h0.8M60 28.4h0.8M61.6 28.4h0.8M14.4 29.2h0.8M17.6 29.2h0.8M19.2 29.2h1.6M55.2 29.2h0.8M57.6 29.2h0.8M59.2 29.2h0.8M62.4 29.2h0.8M8 30h0.8M12 30h0.8M16 30h0.8M18.4 30h0.8M49.6 30h2.4M60 30h0.8M65.6 30h0.8M69.6 30h0.8M52.8 30.8h0.8M55.2 30.8h0.8M62.4 30.8h0.8M64 30.8h0.8M12.8 31.6h0.8M16 31.6h0.8M52.8 31.6h0.8M54.4 31.6h0.8M56 31.6h2.4M60.8 31.6h0.8M13.6 32.4h0.8M16.8 32.4h1.6M52.8 32.4h0.8M54.4 32.4h0.8M56 32.4h0.8M62.4 32.4h0.8M66.4 32.4h0.8M70.4 32.4h0.8M9.6 33.2h1.6M12.8 33.2h0.8M15.2 33.2h0.8M18.4 33.2h1.6M52 33.2h1.6M54.4 33.2h0.8M60 33.2h0.8M61.6 33.2h0.8M65.6 33.2h0.8M67.2 33.2h0.8M8 34h0.8M15.2 34h0.8M17.6 34h1.6M20.8 34h0.8M52.8 34h0.8M55.2 34h1.6M60 34h1.6M62.4 34h0.8M64 34h0.8M65.6 34h0.8M69.6 34h0.8M14.4 34.8h0.8M16.8 34.8h1.6M20 34.8h1.6M53.6 34.8h0.8M56.8 34.8h2.4M60.8 34.8h0.8M62.4 34.8h2.4M65.6 34.8h0.8M8 35.6h0.8M18.4 35.6h4M61.6 35.6h0.8M63.2 35.6h0.8M64.8 35.6h0.8M18.4 36.4h0.8M20.8 36.4h0.8M62.4 36.4h0.8M64 36.4h0.8M65.6 36.4h1.6M13.6 37.2h0.8M20 37.2h0.8M22.4 37.2h0.8M51.2 37.2h0.8M53.6 37.2h0.8M63.2 37.2h1.6M67.2 37.2h0.8M8 38h0.8M65.6 38h1.6M69.6 38h0.8M21.6 38.8h0.8M65.6 38.8h0.8M68 38.8h1.6M17.6 39.6h0.8M19.2 39.6h0.8M23.2 39.6h0.8M26.4 39.6h0.8M66.4 39.6h0.8M68 39.6h3.2M9.6 40.4h0.8M17.6 40.4h0.8M20.8 40.4h0.8M24 40.4h1.6M66.4 40.4h1.6M70.4 40.4h0.8M16.8 41.2h0.8M19.2 41.2h0.8M22.4 41.2h0.8M28 41.2h0.8M67.2 41.2h1.6M11.2 42h0.8M17.6 42h1.6M25.6 42h0.8M27.2 42h0.8M6.4 42.8h0.8M15.2 42.8h0.8M16.8 42.8h0.8M21.6 42.8h0.8M24.8 42.8h1.6M29.6 42.8h0.8M69.6 42.8h1.6M19.2 43.6h2.4M26.4 43.6h0.8M28 43.6h0.8M29.6 43.6h0.8M68.8 43.6h0.8M7.2 44.4h0.8M21.6 44.4h2.4M26.4 44.4h1.6M28.8 44.4h0.8M20.8 45.2h0.8M24 45.2h0.8M27.2 45.2h1.6M32.8 45.2h0.8M68.8 45.2h0.8M23.2 46h0.8M24.8 46h0.8M27.2 46h1.6M31.2 46h0.8M68.8 46h2.4M20.8 46.8h0.8M24 46.8h0.8M29.6 46.8h2.4M33.6 46.8h0.8M35.2 46.8h0.8M38.4 46.8h0.8M16.8 47.6h0.8M24 47.6h1.6M28 47.6h0.8M30.4 47.6h0.8M33.6 47.6h0.8M35.2 47.6h0.8M38.4 47.6h0.8M40.8 47.6h0.8M14.4 48.4h1.6M23.2 48.4h0.8M24.8 48.4h1.6M27.2 48.4h0.8M28.8 48.4h0.8M31.2 48.4h0.8M35.2 48.4h1.6M68.8 48.4h0.8M23.2 49.2h1.6M25.6 49.2h2.4M28.8 49.2h0.8M39.2 49.2h0.8M41.6 49.2h0.8M68.8 49.2h1.6M13.6 50h0.8M23.2 50h0.8M24.8 50h0.8M29.6 50h0.8M31.2 50h0.8M33.6 50h1.6M36 50h1.6M39.2 50h0.8M20.8 50.8h1.6M25.6 50.8h1.6M29.6 50.8h0.8M36 50.8h0.8M38.4 50.8h1.6M20 51.6h0.8M30.4 51.6h1.6M34.4 51.6h0.8M36.8 51.6h0.8M39.2 51.6h3.2M69.6 51.6h0.8M20 52.4h0.8M21.6 52.4h0.8M34.4 52.4h0.8M37.6 52.4h1.6M40.8 52.4h0.8M44 52.4h1.6M68.8 52.4h0.8M24 53.2h0.8M25.6 53.2h0.8M30.4 53.2h0.8M33.6 53.2h2.4M36.8 53.2h0.8M40 53.2h0.8M68 53.2h0.8M69.6 53.2h1.6M26.4 54h1.6M31.2 54h0.8M35.2 54h2.4M43.2 54h0.8M45.6 54h0.8M68.8 54h0.8M70.4 54h0.8M4.8 54.8h0.8M18.4 54.8h0.8M35.2 54.8h0.8M40 54.8h0.8M43.2 54.8h0.8M45.6 54.8h0.8M69.6 54.8h0.8M26.4 55.6h0.8M29.6 55.6h0.8M36.8 55.6h0.8M39.2 55.6h0.8M41.6 55.6h0.8M66.4 55.6h0.8M33.6 56.4h0.8M36 56.4h0.8M40 56.4h2.4M43.2 56.4h1.6M45.6 56.4h0.8M47.2 56.4h0.8M67.2 56.4h1.6M69.6 56.4h1.6M18.4 57.2h0.8M30.4 57.2h0.8M42.4 57.2h0.8M45.6 57.2h1.6M68 57.2h0.8M69.6 57.2h0.8M36 58h0.8M39.2 58h0.8M41.6 58h0.8M45.6 58h1.6M64.8 58h0.8M32 58.8h0.8M38.4 58.8h0.8M44 58.8h0.8M45.6 58.8h0.8M47.2 58.8h0.8M65.6 58.8h0.8M67.2 58.8h1.6M36.8 59.6h0.8M40.8 59.6h0.8M42.4 59.6h0.8M46.4 59.6h0.8M50.4 59.6h0.8M64.8 59.6h0.8M70.4 59.6h0.8M26.4 60.4h0.8M39.2 60.4h0.8M42.4 60.4h0.8M65.6 60.4h0.8M42.4 61.2h0.8M45.6 61.2h2.4M50.4 61.2h0.8M34.4 62h0.8M38.4 62h0.8M50.4 62h0.8M56 62h0.8M64.8 62h0.8M66.4 62h0.8M29.6 62.8h0.8M32.8 62.8h0.8M47.2 62.8h0.8M48.8 62.8h1.6M60 62.8h0.8M62.4 62.8h0.8M38.4 63.6h0.8M41.6 63.6h0.8M44 63.6h0.8M54.4 63.6h3.2M58.4 63.6h0.8M60 63.6h3.2M65.6 63.6h0.8M45.6 64.4h0.8M51.2 64.4h1.6M53.6 64.4h2.4M58.4 64.4h1.6M42.4 65.2h0.8M46.4 65.2h0.8M51.2 65.2h2.4M56.8 65.2h0.8M59.2 65.2h0.8M64.8 65.2h0.8M22.4 66h0.8M45.6 66h0.8M52 66h0.8M60 66h0.8M61.6 66h0.8M68 66h0.8M70.4 66h0.8M36 66.8h0.8M54.4 67.6h0.8M63.2 67.6h0.8M32.8 68.4h0.8M40 68.4h0.8M43.2 68.4h1.6M50.4 68.4h0.8M46.4 69.2h0.8M52 69.2h1.6M59.2 69.2h0.8M68 70h0.8M55.2 70.8h0.8M66.4 71.6h0.8"/><path stroke="#3730ae" stroke-width="0.8" stroke-opacity="0.85" d="M29.6 19.6h0.8M35.2 19.6h0.8M39.2 19.6h0.8M24.8 20.4h0.8M27.2 20.4h1.6M32.8 20.4h0.8M34.4 20.4h1.6M36.8 20.4h0.8M40 20.4h0.8M26.4 21.2h0.8M28.8 21.2h1.6M31.2 21.2h0.8M26.4 22h1.6M32.8 22h0.8M34.4 22h0.8M36 22h0.8M42.4 22h0.8M44 22h0.8M23.2 22.8h6.4M32 22.8h5.6M40 22.8h1.6M42.4 22.8h0.8M46.4 22.8h0.8M24 23.6h3.2M28 23.6h1.6M30.4 23.6h1.6M32.8 23.6h0.8M36 23.6h0.8M37.6 23.6h0.8M39.2 23.6h0.8M40.8 23.6h0.8M42.4 23.6h1.6M20.8 24.4h1.6M23.2 24.4h1.6M27.2 24.4h1.6M29.6 24.4h0.8M32.8 24.4h1.6M36 24.4h0.8M37.6 24.4h0.8M40 24.4h0.8M41.6 24.4h1.6M46.4 24.4h0.8M22.4 25.2h4M28 25.2h2.4M41.6 25.2h2.4M44.8 25.2h1.6M20.8 26h0.8M22.4 26h2.4M26.4 26h0.8M33.6 26h0.8M36 26h0.8M23.2 26.8h0.8M25.6 26.8h0.8M29.6 26.8h1.6M40.8 26.8h1.6M44.8 26.8h2.4M20.8 27.6h1.6M23.2 27.6h2.4M26.4 27.6h0.8M45.6 27.6h0.8M48.8 27.6h1.6M21.6 28.4h4M29.6 28.4h0.8M41.6 28.4h0.8M44.8 28.4h2.4M48 28.4h1.6M20.8 29.2h0.8M22.4 29.2h0.8M24 29.2h2.4M28 29.2h0.8M42.4 29.2h0.8M47.2 29.2h0.8M48.8 29.2h2.4M20.8 30h6.4M39.2 30h0.8M46.4 30h1.6M48.8 30h0.8M52.8 30h0.8M20 30.8h0.8M21.6 30.8h2.4M25.6 30.8h0.8M47.2 30.8h1.6M49.6 30.8h0.8M51.2 30.8h0.8M53.6 30.8h0.8M20 31.6h2.4M23.2 31.6h0.8M27.2 31.6h0.8M44.8 31.6h0.8M47.2 31.6h0.8M48.8 31.6h0.8M50.4 31.6h1.6M20 32.4h0.8M21.6 32.4h1.6M25.6 32.4h0.8M28 32.4h0.8M47.2 32.4h0.8M48.8 32.4h3.2M21.6 33.2h0.8M23.2 33.2h4M47.2 33.2h0.8M48.8 33.2h2.4M20 34h0.8M21.6 34h1.6M24 34h1.6M26.4 34h0.8M28 34h0.8M29.6 34h0.8M32.8 34h0.8M40.8 34h0.8M44 34h0.8M47.2 34h0.8M48.8 34h1.6M51.2 34h0.8M53.6 34h0.8M18.4 34.8h0.8M22.4 34.8h2.4M27.2 34.8h0.8M44.8 34.8h1.6M50.4 34.8h3.2M56 34.8h0.8M59.2 34.8h0.8M22.4 35.6h0.8M24 35.6h0.8M26.4 35.6h0.8M42.4 35.6h0.8M44 35.6h0.8M47.2 35.6h0.8M49.6 35.6h1.6M53.6 35.6h0.8M57.6 35.6h0.8M59.2 35.6h1.6M23.2 36.4h3.2M27.2 36.4h1.6M30.4 36.4h0.8M44 36.4h0.8M45.6 36.4h0.8M48.8 36.4h0.8M52 36.4h0.8M56.8 36.4h1.6M24 37.2h1.6M28 37.2h0.8M42.4 37.2h0.8M44 37.2h0.8M46.4 37.2h0.8M49.6 37.2h1.6M52 37.2h1.6M54.4 37.2h0.8M56 37.2h0.8M57.6 37.2h3.2M23.2 38h0.8M25.6 38h1.6M28 38h1.6M44.8 38h0.8M47.2 38h0.8M50.4 38h0.8M54.4 38h1.6M56.8 38h2.4M61.6 38h2.4M22.4 38.8h0.8M28 38.8h1.6M31.2 38.8h0.8M39.2 38.8h0.8M44.8 38.8h1.6M48.8 38.8h0.8M53.6 38.8h1.6M56.8 38.8h1.6M61.6 38.8h0.8M64.8 38.8h0.8M27.2 39.6h0.8M30.4 39.6h0.8M32 39.6h0.8M36.8 39.6h0.8M40 39.6h0.8M44 39.6h0.8M45.6 39.6h1.6M48 39.6h0.8M49.6 39.6h2.4M52.8 39.6h2.4M64.8 39.6h0.8M25.6 40.4h0.8M27.2 40.4h1.6M29.6 40.4h0.8M31.2 40.4h1.6M33.6 40.4h0.8M36 40.4h4M41.6 40.4h0.8M48 40.4h0.8M49.6 40.4h1.6M53.6 40.4h0.8M55.2 40.4h0.8M64.8 40.4h1.6M31.2 41.2h0.8M33.6 41.2h1.6M40 41.2h0.8M41.6 41.2h4M46.4 41.2h0.8M48 41.2h0.8M49.6 41.2h0.8M51.2 41.2h1.6M28 42h0.8M32.8 42h1.6M36 42h1.6M41.6 42h0.8M43.2 42h0.8M44.8 42h1.6M47.2 42h0.8M48.8 42h0.8M51.2 42h1.6M66.4 42h1.6M28.8 42.8h0.8M35.2 42.8h3.2M39.2 42.8h0.8M40.8 42.8h0.8M42.4 42.8h1.6M48 42.8h2.4M66.4 42.8h0.8M25.6 43.6h0.8M28.8 43.6h0.8M30.4 43.6h0.8M32 43.6h0.8M33.6 43.6h1.6M36 43.6h0.8M38.4 43.6h0.8M40 43.6h0.8M42.4 43.6h1.6M44.8 43.6h0.8M47.2 43.6h1.6M50.4 43.6h0.8M66.4 43.6h0.8M29.6 44.4h0.8M32.8 44.4h1.6M35.2 44.4h1.6M37.6 44.4h0.8M40 44.4h3.2M45.6 44.4h0.8M48 44.4h0.8M49.6 44.4h0.8M51.2 44.4h0.8M65.6 44.4h1.6M32 45.2h0.8M36.8 45.2h4M42.4 45.2h1.6M44.8 45.2h0.8M46.4 45.2h0.8M49.6 45.2h0.8M66.4 45.2h0.8M34.4 46h4M39.2 46h0.8M40.8 46h2.4M44 46h0.8M45.6 46h1.6M67.2 46h0.8M32 46.8h1.6M34.4 46.8h0.8M39.2 46.8h0.8M42.4 46.8h0.8M44 46.8h4M48.8 46.8h0.8M36 47.6h0.8M39.2 47.6h1.6M41.6 47.6h3.2M46.4 47.6h0.8M32 48.4h0.8M40 48.4h0.8M41.6 48.4h0.8M45.6 48.4h0.8M47.2 48.4h0.8M67.2 48.4h1.6M34.4 49.2h0.8M45.6 49.2h1.6M48 49.2h0.8M38.4 50h0.8M41.6 50h3.2M46.4 50h1.6M48.8 50h1.6M66.4 50h1.6M48.8 50.8h0.8M67.2 50.8h0.8M38.4 51.6h0.8M45.6 51.6h0.8M48 51.6h0.8M66.4 51.6h0.8M48.8 52.4h1.6M65.6 52.4h2.4M44.8 53.2h1.6M48.8 53.2h0.8M64.8 53.2h0.8M67.2 53.2h0.8M47.2 54h3.2M65.6 54h2.4M42.4 54.8h0.8M48 54.8h2.4M65.6 54.8h0.8M48.8 55.6h2.4M64.8 55.6h0.8M49.6 56.4h0.8M64.8 56.4h0.8M49.6 57.2h1.6M64 57.2h1.6M50.4 58h1.6M63.2 58h1.6M49.6 58.8h2.4M60 58.8h2.4M48 59.6h0.8M49.6 59.6h0.8M51.2 59.6h1.6M59.2 59.6h0.8M60.8 59.6h0.8M62.4 59.6h0.8M64 59.6h0.8M52.8 60.4h0.8M56 60.4h0.8M58.4 60.4h0.8M60.8 60.4h0.8M62.4 60.4h0.8M52 61.2h0.8M53.6 61.2h0.8M56 61.2h0.8M58.4 61.2h3.2M51.2 62h0.8M52.8 62h1.6M56.8 62h1.6M59.2 62h0.8M60.8 62h0.8M51.2 62.8h0.8M53.6 62.8h0.8M55.2 62.8h0.8M56.8 62.8h0.8M58.4 62.8h1.6M60.8 62.8h1.6M57.6 63.6h0.8"/><path stroke="#282ca5" stroke-width="0.8" d="M29.6 23.6h0.8M34.4 23.6h0.8M36.8 23.6h0.8M28.8 24.4h0.8M30.4 24.4h0.8M32 24.4h0.8M35.2 24.4h0.8M36.8 24.4h0.8M38.4 24.4h1.6M34.4 25.2h0.8M36 25.2h3.2M40 25.2h1.6M28.8 26h0.8M30.4 26h1.6M32.8 26h0.8M34.4 26h1.6M36.8 26h1.6M39.2 26h0.8M41.6 26h2.4M26.4 26.8h0.8M28.8 26.8h0.8M32 26.8h2.4M35.2 26.8h1.6M37.6 26.8h3.2M42.4 26.8h0.8M25.6 27.6h0.8M27.2 27.6h4M33.6 27.6h3.2M39.2 27.6h1.6M41.6 27.6h3.2M25.6 28.4h0.8M27.2 28.4h2.4M30.4 28.4h1.6M32.8 28.4h0.8M35.2 28.4h0.8M36.8 28.4h0.8M38.4 28.4h2.4M42.4 28.4h0.8M44 28.4h0.8M23.2 29.2h0.8M27.2 29.2h0.8M29.6 29.2h2.4M32.8 29.2h0.8M34.4 29.2h1.6M37.6 29.2h1.6M40.8 29.2h0.8M43.2 29.2h0.8M45.6 29.2h0.8M27.2 30h2.4M30.4 30h0.8M33.6 30h0.8M35.2 30h0.8M40 30h0.8M41.6 30h0.8M43.2 30h3.2M24 30.8h0.8M26.4 30.8h0.8M28 30.8h3.2M33.6 30.8h0.8M36 30.8h0.8M40 30.8h0.8M42.4 30.8h4.8M48.8 30.8h0.8M24.8 31.6h2.4M30.4 31.6h0.8M32 31.6h0.8M34.4 31.6h0.8M38.4 31.6h0.8M40.8 31.6h3.2M45.6 31.6h1.6M24.8 32.4h0.8M26.4 32.4h1.6M28.8 32.4h0.8M30.4 32.4h0.8M32.8 32.4h0.8M34.4 32.4h0.8M43.2 32.4h2.4M46.4 32.4h0.8M28 33.2h1.6M30.4 33.2h1.6M35.2 33.2h1.6M40 33.2h0.8M41.6 33.2h0.8M43.2 33.2h0.8M27.2 34h0.8M31.2 34h0.8M33.6 34h0.8M35.2 34h0.8M38.4 34h1.6M41.6 34h2.4M44.8 34h1.6M48 34h0.8M50.4 34h0.8M25.6 34.8h0.8M29.6 34.8h0.8M31.2 34.8h0.8M34.4 34.8h0.8M37.6 34.8h0.8M39.2 34.8h2.4M42.4 34.8h0.8M44 34.8h0.8M25.6 35.6h0.8M28 35.6h3.2M32 35.6h1.6M35.2 35.6h0.8M36.8 35.6h0.8M38.4 35.6h0.8M40.8 35.6h1.6M45.6 35.6h1.6M26.4 36.4h0.8M28.8 36.4h0.8M31.2 36.4h2.4M36.8 36.4h4M42.4 36.4h0.8M47.2 36.4h0.8M25.6 37.2h0.8M28.8 37.2h1.6M31.2 37.2h2.4M35.2 37.2h1.6M37.6 37.2h4M43.2 37.2h0.8M44.8 37.2h1.6M29.6 38h2.4M32.8 38h0.8M34.4 38h1.6M36.8 38h3.2M40.8 38h0.8M45.6 38h0.8M48 38h0.8M56 38h0.8M29.6 38.8h0.8M32.8 38.8h4M37.6 38.8h1.6M40 38.8h0.8M41.6 38.8h0.8M47.2 38.8h0.8M59.2 38.8h1.6M62.4 38.8h0.8M28.8 39.6h0.8M31.2 39.6h0.8M32.8 39.6h2.4M36 39.6h0.8M38.4 39.6h1.6M40.8 39.6h1.6M43.2 39.6h0.8M44.8 39.6h0.8M48.8 39.6h0.8M52 39.6h0.8M55.2 39.6h8M30.4 40.4h0.8M34.4 40.4h1.6M40.8 40.4h0.8M42.4 40.4h1.6M44.8 40.4h0.8M47.2 40.4h0.8M51.2 40.4h1.6M56.8 40.4h3.2M60.8 40.4h0.8M62.4 40.4h1.6M35.2 41.2h0.8M36.8 41.2h1.6M48.8 41.2h0.8M53.6 41.2h1.6M56 41.2h0.8M57.6 41.2h0.8M61.6 41.2h0.8M63.2 41.2h2.4M32 42h0.8M34.4 42h0.8M40 42h0.8M42.4 42h0.8M49.6 42h0.8M52.8 42h2.4M56 42h0.8M64 42h1.6M40 42.8h0.8M46.4 42.8h1.6M51.2 42.8h2.4M56 42.8h0.8M64 42.8h1.6M36.8 43.6h0.8M44 43.6h0.8M45.6 43.6h0.8M48.8 43.6h0.8M51.2 43.6h0.8M52.8 43.6h0.8M65.6 43.6h0.8M46.4 44.4h0.8M48.8 44.4h0.8M50.4 44.4h0.8M52 44.4h2.4M64.8 44.4h0.8M48 46h0.8M51.2 46h1.6M48 46.8h0.8M49.6 46.8h1.6M65.6 46.8h0.8M47.2 47.6h0.8M49.6 47.6h0.8M51.2 47.6h0.8M66.4 47.6h0.8M48 48.4h2.4M65.6 48.4h1.6M48.8 49.2h2.4M65.6 49.2h2.4M50.4 50h0.8M65.6 50h0.8M46.4 50.8h0.8M50.4 50.8h1.6M50.4 51.6h0.8M65.6 51.6h0.8M51.2 52.4h0.8M49.6 53.2h2.4M50.4 54h2.4M63.2 54h2.4M50.4 54.8h0.8M63.2 54.8h1.6M51.2 55.6h1.6M63.2 55.6h0.8M50.4 56.4h2.4M62.4 56.4h1.6M51.2 57.2h0.8M53.6 57.2h0.8M61.6 57.2h0.8M63.2 57.2h0.8M52 58h1.6M61.6 58h0.8M56.8 58.8h0.8M62.4 58.8h0.8M52.8 59.6h4M57.6 59.6h1.6M60 59.6h0.8M53.6 60.4h0.8M55.2 60.4h0.8M56.8 60.4h1.6M55.2 62h0.8"/><path stroke="#2050a8" stroke-width="0.8" d="M31.2 25.2h0.8M32 26h0.8M40 26h0.8M28 26.8h0.8M34.4 26.8h0.8M36.8 26.8h0.8M32 27.6h1.6M36.8 27.6h1.6M40.8 27.6h0.8M32 28.4h0.8M33.6 28.4h1.6M36 28.4h0.8M33.6 29.2h0.8M36 29.2h0.8M29.6 30h0.8M31.2 30h1.6M34.4 30h0.8M36.8 30h0.8M34.4 30.8h0.8M36.8 30.8h0.8M38.4 30.8h1.6M40.8 30.8h1.6M28 31.6h2.4M31.2 31.6h0.8M32.8 31.6h1.6M35.2 31.6h3.2M40 31.6h0.8M44 31.6h0.8M31.2 32.4h0.8M33.6 32.4h0.8M36 32.4h1.6M39.2 32.4h4M45.6 32.4h0.8M32.8 33.2h0.8M34.4 33.2h0.8M36.8 33.2h1.6M40.8 33.2h0.8M42.4 33.2h0.8M30.4 34h0.8M36 34h0.8M40 34h0.8M30.4 34.8h0.8M32.8 34.8h0.8M35.2 34.8h2.4M38.4 34.8h0.8M41.6 34.8h0.8M34.4 35.6h0.8M36 35.6h0.8M37.6 35.6h0.8M39.2 35.6h0.8M34.4 36.4h1.6M40.8 36.4h0.8M43.2 36.4h0.8M33.6 37.2h1.6M36.8 37.2h0.8M42.4 38h0.8M42.4 38.8h0.8M60 40.4h0.8M61.6 40.4h0.8M56.8 41.2h0.8M59.2 41.2h1.6M62.4 41.2h0.8M55.2 42h0.8M56.8 42h0.8M62.4 42h0.8M54.4 42.8h0.8M63.2 42.8h0.8M53.6 43.6h2.4M63.2 43.6h2.4M55.2 44.4h0.8M64 44.4h0.8M51.2 45.2h0.8M52.8 45.2h1.6M65.6 45.2h0.8M52.8 46h1.6M51.2 46.8h2.4M52 47.6h1.6M65.6 47.6h0.8M51.2 48.4h1.6M64.8 48.4h0.8M64.8 49.2h0.8M64.8 50h0.8M52 50.8h0.8M64.8 50.8h0.8M51.2 51.6h0.8M64 51.6h1.6M52 53.2h0.8M64 53.2h0.8M52.8 54h0.8M51.2 54.8h1.6M62.4 54.8h0.8M52.8 55.6h0.8M61.6 55.6h0.8M52.8 56.4h0.8M60.8 56.4h0.8M52 57.2h1.6M54.4 57.2h1.6M57.6 57.2h0.8M53.6 58h1.6M56 58h4.8M53.6 58.8h2.4M57.6 58.8h2.4M56.8 59.6h0.8"/><path stroke="#1b72a4" stroke-width="0.8" d="M37.6 30h0.8M35.2 30.8h0.8M32 33.2h0.8M36.8 34h0.8M40 35.6h0.8M58.4 41.2h0.8M57.6 42h4.8M63.2 42h0.8M56.8 42.8h1.6M59.2 42.8h0.8M62.4 42.8h0.8M54.4 45.2h0.8M64 46h1.6M64.8 47.6h0.8M52.8 48.4h1.6M52 49.2h2.4M52 50h0.8M64 50h0.8M52 51.6h2.4M63.2 51.6h0.8M52 52.4h0.8M63.2 52.4h0.8M64.8 52.4h0.8M62.4 54h0.8M53.6 55.6h0.8M60 55.6h0.8M62.4 55.6h0.8M53.6 56.4h3.2M58.4 56.4h1.6M56 57.2h0.8M58.4 57.2h1.6M60.8 57.2h0.8M55.2 58h0.8"/><path stroke="#198e99" stroke-width="0.8" d="M61.6 42.8h0.8M56 43.6h2.4M63.2 44.4h0.8M55.2 45.2h0.8M64.8 45.2h0.8M55.2 46h0.8M53.6 47.6h1.6M52.8 50h0.8M52.8 50.8h0.8M64 50.8h0.8M64 52.4h0.8M52.8 53.2h0.8M61.6 53.2h0.8M63.2 53.2h0.8M53.6 54.8h0.8M61.6 54.8h0.8M54.4 55.6h0.8M56 55.6h0.8M60 56.4h0.8M60 57.2h0.8"/><path stroke="#1f9e7e" stroke-width="0.8" d="M58.4 42.8h0.8M60 42.8h1.6M58.4 43.6h0.8M60 43.6h0.8M61.6 43.6h1.6M56 44.4h0.8M56 45.2h0.8M63.2 45.2h1.6M54.4 46h0.8M63.2 46h0.8M54.4 46.8h0.8M64 46.8h0.8M64 47.6h0.8M64 48.4h0.8M64 49.2h0.8M53.6 50h1.6M53.6 50.8h0.8M52.8 52.4h1.6M53.6 53.2h0.8M62.4 53.2h0.8M53.6 54h0.8M54.4 54.8h1.6M56.8 54.8h0.8M59.2 54.8h0.8M60.8 54.8h0.8M59.2 55.6h0.8M60.8 55.6h0.8M56.8 56.4h0.8M56.8 57.2h0.8"/><path stroke="#2aaa5a" stroke-width="0.8" d="M60.8 43.6h0.8M56.8 44.4h0.8M56.8 45.2h0.8M56 46h0.8M55.2 46.8h1.6M63.2 46.8h0.8M63.2 48.4h0.8M54.4 49.2h0.8M63.2 50h0.8M54.4 50.8h0.8M63.2 50.8h0.8M54.4 51.6h0.8M62.4 51.6h0.8M62.4 52.4h0.8M55.2 53.2h0.8M54.4 54h0.8M56 54h0.8M60.8 54h1.6M57.6 54.8h0.8M55.2 55.6h0.8M56.8 55.6h0.8M58.4 55.6h0.8M57.6 56.4h0.8"/><path stroke="#50b846" stroke-width="0.8" d="M59.2 43.6h0.8M57.6 44.4h0.8M60.8 44.4h1.6M61.6 45.2h0.8M62.4 46h0.8M55.2 48.4h0.8M62.4 48.4h0.8M63.2 49.2h0.8M55.2 51.6h0.8M61.6 52.4h0.8M54.4 53.2h0.8M56 53.2h0.8M60.8 53.2h0.8M55.2 54h0.8M59.2 54h1.6M58.4 54.8h0.8M57.6 55.6h0.8"/><path stroke="#7bc635" stroke-width="0.8" d="M58.4 44.4h0.8M62.4 44.4h0.8M57.6 45.2h0.8M59.2 45.2h0.8M62.4 45.2h0.8M56.8 46h0.8M62.4 50.8h0.8M61.6 51.6h0.8M54.4 52.4h0.8M60.8 52.4h0.8M56.8 54h0.8M56 54.8h0.8M60 54.8h0.8"/><path stroke="#abd32e" stroke-width="0.8" d="M60 44.4h0.8M60.8 45.2h0.8M57.6 46h0.8M62.4 46.8h0.8M55.2 47.6h0.8M63.2 47.6h0.8M54.4 48.4h0.8M56 48.4h0.8M55.2 49.2h0.8M62.4 49.2h0.8M56.8 53.2h0.8M58.4 53.2h1.6"/><path stroke="#dce029" stroke-width="0.8" d="M59.2 44.4h0.8M61.6 46.8h0.8M60.8 50h1.6M56.8 51.6h0.8M58.4 54h0.8"/><path stroke="#ebcc24" stroke-width="0.8" d="M60 46h0.8M61.6 46h0.8M56.8 46.8h0.8M56 47.6h1.6M56.8 48.4h0.8M56 50h0.8M55.2 50.8h0.8M57.6 50.8h0.8M61.6 50.8h0.8M56 51.6h0.8M55.2 52.4h0.8M57.6 53.2h0.8M60 53.2h0.8M57.6 54h0.8"/><path stroke="#f4b01f" stroke-width="0.8" d="M60 45.2h0.8M60 46.8h1.6M61.6 48.4h0.8M61.6 49.2h0.8M62.4 50h0.8M59.2 50.8h0.8M56.8 52.4h0.8"/><path stroke="#f38a1c" stroke-width="0.8" d="M58.4 45.2h0.8M58.4 46h1.6M60.8 46h0.8M57.6 46.8h0.8M59.2 46.8h0.8M60 47.6h3.2M56.8 49.2h0.8M60.8 49.2h0.8M56.8 50.8h0.8M60.8 50.8h0.8M60 51.6h1.6M56 52.4h0.8"/><path stroke="#ee601a" stroke-width="0.8" d="M58.4 47.6h0.8M56 49.2h0.8M59.2 49.2h0.8M55.2 50h0.8M57.6 52.4h0.8M60 52.4h0.8"/><path stroke="#e53e19" stroke-width="0.8" d="M58.4 46.8h0.8M57.6 47.6h0.8M59.2 47.6h0.8M57.6 48.4h4M57.6 49.2h1.6M60 49.2h0.8M56.8 50h4M56 50.8h0.8M58.4 50.8h0.8M60 50.8h0.8M57.6 51.6h2.4M58.4 52.4h1.6"/></g>
<rect x="54.6" y="54.2" width="71.6" height="72" fill="none" stroke="#b4b4b4" stroke-width=".8"/>
<path d="M61.1 126.2v2.2M73.6 126.2v2.2M85.1 126.2v2.2M103.6 126.2v2.2M121.1 126.2v2.2" stroke="#000" stroke-width="1.1" fill="none"/>
<path d="M90.67 126.2v1.2M93.93 126.2v1.2M96.24 126.2v1.2M98.03 126.2v1.2M99.5 126.2v1.2M100.73 126.2v1.2M101.81 126.2v1.2M102.75 126.2v1.2M108.87 126.2v1.2M111.95 126.2v1.2M114.14 126.2v1.2M115.83 126.2v1.2M117.22 126.2v1.2M118.39 126.2v1.2M119.4 126.2v1.2M120.3 126.2v1.2M64.1 126.2v1.2M66.6 126.2v1.2M68.6 126.2v1.2M70.1 126.2v1.2M71.1 126.2v1.2M72.1 126.2v1.2M72.8 126.2v1.2M74.4 126.2v1.2M75.1 126.2v1.2M76.1 126.2v1.2M77.1 126.2v1.2M78.6 126.2v1.2M80.6 126.2v1.2M82.6 126.2v1.2" stroke="#000" stroke-width=".8" fill="none"/>
<path d="M54.6 60.7h-1.9M54.6 77.7h-1.9M54.6 94.2h-1.9M54.6 116.2h-1.9" stroke="#222" stroke-width=".8" fill="none"/>
<path d="M54.6 89.23h-1.1M54.6 86.33h-1.1M54.6 84.27h-1.1M54.6 82.67h-1.1M54.6 81.36h-1.1M54.6 80.26h-1.1M54.6 79.3h-1.1M54.6 78.45h-1.1M54.6 72.58h-1.1M54.6 69.59h-1.1M54.6 67.46h-1.1M54.6 65.82h-1.1M54.6 64.47h-1.1M54.6 63.33h-1.1M54.6 62.35h-1.1M54.6 61.48h-1.1M54.6 98.2h-1.1M54.6 102.2h-1.1M54.6 106.2h-1.1M54.6 109.2h-1.1M54.6 111.7h-1.1M54.6 113.7h-1.1M54.6 115.2h-1.1M54.6 117.2h-1.1M54.6 118.7h-1.1M54.6 120.7h-1.1M54.6 123.2h-1.1" stroke="#444" stroke-width=".5" fill="none"/>
<rect x="71" y="126.4" width="2.6" height="1.5" fill="#111"/>
<rect x="52.9" y="114.7" width="1.5" height="2.6" fill="#111"/>
<path d="M67.4 78.5L69.7 71.5L80.8 68.2L96.2 66.9L109.2 69.2L111.5 74.6L111.2 85.4L105.4 93.1L94.6 98L83.8 98L73.1 94.6L69.2 86.9z" fill="none" stroke="#5a52b0" stroke-width=".9" stroke-linejoin="round"/>
<text transform="translate(60 65.9) scale(0.97 1)" font-size="9.1" font-weight="bold">22.3 %</text>
<text transform="translate(59.8 139) scale(0.85 1)" font-size="8.5" text-anchor="middle">-10<tspan font-size="5.27" dy="-2.6">3</tspan></text>
<text transform="translate(73.3 139) scale(0.85 1)" font-size="8.5" text-anchor="middle">0</text>
<text transform="translate(84.4 139) scale(0.85 1)" font-size="8.5" text-anchor="middle">10<tspan font-size="5.27" dy="-2.6">3</tspan></text>
<text transform="translate(103.1 139) scale(0.85 1)" font-size="8.5" text-anchor="middle">10<tspan font-size="5.27" dy="-2.6">4</tspan></text>
<text transform="translate(119.3 139) scale(0.85 1)" font-size="8.5" text-anchor="middle">10<tspan font-size="5.27" dy="-2.6">5</tspan></text>
<g transform="translate(126.2 54.2)" fill="none" filter="url(#soft)"><path stroke="#5649c0" stroke-width="0.8" stroke-opacity="0.62" d="M26.4 6.8h0.8M38.4 7.6h0.8M41.6 8.4h0.8M20.8 9.2h0.8M20.8 10h0.8M43.2 10h0.8M24.8 10.8h0.8M34.4 11.6h0.8M39.2 11.6h0.8M17.6 12.4h0.8M31.2 12.4h0.8M37.6 12.4h0.8M12.8 13.2h0.8M27.2 13.2h0.8M16.8 14h0.8M27.2 14h0.8M29.6 14h0.8M36 14h0.8M43.2 14h0.8M24 14.8h0.8M27.2 14.8h0.8M32 14.8h1.6M42.4 14.8h0.8M19.2 15.6h0.8M23.2 15.6h0.8M30.4 15.6h0.8M41.6 15.6h0.8M23.2 16.4h2.4M26.4 16.4h0.8M32 16.4h1.6M35.2 16.4h0.8M38.4 16.4h1.6M40.8 16.4h0.8M43.2 16.4h0.8M45.6 16.4h0.8M60 16.4h0.8M12.8 17.2h0.8M16 17.2h0.8M20.8 17.2h0.8M28 17.2h0.8M31.2 17.2h0.8M44 17.2h0.8M60 17.2h0.8M6.4 18h0.8M17.6 18h0.8M20 18h0.8M22.4 18h0.8M25.6 18h0.8M28 18h1.6M32 18h0.8M33.6 18h0.8M35.2 18h0.8M37.6 18h0.8M39.2 18h0.8M40.8 18h0.8M4.8 18.8h0.8M7.2 18.8h0.8M9.6 18.8h0.8M16.8 18.8h2.4M24 18.8h3.2M28.8 18.8h0.8M30.4 18.8h1.6M32.8 18.8h0.8M36 18.8h0.8M38.4 18.8h0.8M40.8 18.8h1.6M48 18.8h0.8M12.8 19.6h0.8M24 19.6h1.6M30.4 19.6h0.8M35.2 19.6h0.8M37.6 19.6h0.8M39.2 19.6h0.8M40.8 19.6h3.2M46.4 19.6h0.8M48.8 19.6h0.8M50.4 19.6h0.8M10.4 20.4h0.8M20 20.4h0.8M21.6 20.4h0.8M48 20.4h0.8M51.2 20.4h0.8M9.6 21.2h1.6M16.8 21.2h0.8M20 21.2h0.8M39.2 21.2h0.8M44.8 21.2h0.8M46.4 21.2h0.8M48 21.2h0.8M12.8 22h0.8M15.2 22h0.8M17.6 22h0.8M19.2 22h1.6M22.4 22h0.8M41.6 22h0.8M45.6 22h0.8M57.6 22h0.8M8.8 22.8h0.8M13.6 22.8h0.8M16 22.8h3.2M20.8 22.8h0.8M22.4 22.8h0.8M41.6 22.8h0.8M55.2 22.8h0.8M57.6 22.8h0.8M59.2 22.8h0.8M12.8 23.6h1.6M15.2 23.6h0.8M17.6 23.6h0.8M20 23.6h1.6M45.6 23.6h0.8M48 23.6h1.6M50.4 23.6h0.8M60.8 23.6h0.8M16.8 24.4h1.6M48.8 24.4h0.8M50.4 24.4h0.8M54.4 24.4h0.8M59.2 24.4h0.8M7.2 25.2h0.8M8.8 25.2h0.8M13.6 25.2h0.8M18.4 25.2h0.8M50.4 25.2h0.8M52.8 25.2h0.8M54.4 25.2h1.6M58.4 25.2h0.8M60 25.2h0.8M63.2 25.2h0.8M7.2 26h0.8M13.6 26h1.6M16 26h0.8M18.4 26h0.8M59.2 26h0.8M15.2 26.8h0.8M51.2 26.8h0.8M53.6 26.8h0.8M60 26.8h0.8M16 27.6h0.8M52 27.6h0.8M53.6 27.6h4M59.2 27.6h0.8M9.6 28.4h0.8M12 28.4h0.8M14.4 28.4h0.8M16 28.4h0.8M20 28.4h0.8M53.6 28.4h3.2M60 28.4h0.8M13.6 29.2h0.8M16 29.2h0.8M54.4 29.2h0.8M58.4 29.2h0.8M65.6 29.2h0.8M1.6 30h0.8M11.2 30h0.8M14.4 30h0.8M16 30h1.6M56.8 30h0.8M12 30.8h0.8M18.4 30.8h0.8M60.8 30.8h0.8M2.4 31.6h0.8M10.4 31.6h0.8M15.2 31.6h0.8M16.8 31.6h1.6M55.2 31.6h0.8M58.4 31.6h1.6M8.8 32.4h0.8M16 32.4h0.8M17.6 32.4h0.8M55.2 32.4h0.8M57.6 32.4h1.6M65.6 32.4h0.8M67.2 32.4h0.8M4.8 33.2h0.8M6.4 33.2h0.8M15.2 33.2h0.8M17.6 33.2h1.6M58.4 33.2h1.6M62.4 33.2h0.8M64.8 33.2h1.6M8.8 34h0.8M13.6 34h0.8M15.2 34h0.8M18.4 34h0.8M58.4 34h0.8M60.8 34h0.8M63.2 34h0.8M68 34h0.8M8.8 34.8h0.8M13.6 34.8h2.4M59.2 34.8h2.4M62.4 34.8h0.8M64 34.8h0.8M4 35.6h0.8M7.2 35.6h0.8M13.6 35.6h0.8M67.2 35.6h0.8M69.6 35.6h0.8M8 36.4h0.8M11.2 36.4h0.8M12.8 36.4h0.8M16.8 36.4h1.6M66.4 36.4h1.6M14.4 37.2h0.8M16 37.2h0.8M63.2 37.2h0.8M14.4 38h0.8M16 38h0.8M64 38h0.8M67.2 38h0.8M69.6 38h0.8M12.8 38.8h0.8M16 38.8h1.6M20.8 38.8h0.8M68.8 38.8h0.8M15.2 39.6h0.8M17.6 39.6h0.8M68.8 39.6h0.8M13.6 40.4h0.8M17.6 40.4h2.4M11.2 41.2h0.8M12.8 41.2h0.8M18.4 41.2h0.8M20 41.2h1.6M22.4 41.2h0.8M13.6 42h0.8M15.2 42h0.8M18.4 42h1.6M20.8 42h1.6M24 42h0.8M6.4 42.8h0.8M16 42.8h0.8M21.6 42.8h0.8M70.4 42.8h0.8M16 43.6h0.8M17.6 43.6h0.8M20 43.6h1.6M23.2 43.6h0.8M69.6 43.6h0.8M16 44.4h0.8M20 44.4h1.6M22.4 44.4h3.2M70.4 44.4h0.8M16.8 45.2h0.8M19.2 45.2h0.8M21.6 45.2h0.8M24 45.2h0.8M23.2 46h0.8M24.8 46h0.8M27.2 46h0.8M69.6 46h0.8M20.8 46.8h0.8M22.4 46.8h0.8M24.8 46.8h0.8M26.4 46.8h0.8M14.4 47.6h0.8M18.4 47.6h0.8M20.8 47.6h0.8M23.2 47.6h0.8M25.6 47.6h0.8M28 47.6h0.8M24 48.4h0.8M28 48.4h0.8M31.2 48.4h0.8M33.6 48.4h0.8M15.2 49.2h0.8M17.6 49.2h0.8M23.2 49.2h1.6M25.6 49.2h0.8M28 49.2h0.8M24 50h1.6M26.4 50h0.8M28 50h1.6M20 50.8h0.8M22.4 50.8h0.8M28 50.8h0.8M30.4 50.8h0.8M32.8 50.8h0.8M13.6 51.6h0.8M15.2 51.6h1.6M20.8 51.6h0.8M24.8 51.6h2.4M28 51.6h1.6M31.2 51.6h0.8M32.8 51.6h0.8M35.2 51.6h0.8M40.8 51.6h0.8M19.2 52.4h0.8M24 52.4h1.6M26.4 52.4h0.8M31.2 52.4h2.4M35.2 52.4h0.8M70.4 52.4h0.8M24 53.2h0.8M31.2 53.2h2.4M34.4 53.2h1.6M70.4 53.2h0.8M16.8 54h0.8M27.2 54h1.6M32 54h0.8M37.6 54h0.8M40.8 54h0.8M9.6 54.8h0.8M20 54.8h0.8M23.2 54.8h0.8M26.4 54.8h0.8M28 54.8h0.8M36.8 54.8h0.8M24 55.6h0.8M36.8 55.6h0.8M39.2 55.6h0.8M40.8 55.6h0.8M42.4 55.6h0.8M36 56.4h0.8M39.2 56.4h0.8M40.8 56.4h1.6M44.8 56.4h0.8M37.6 57.2h1.6M40 57.2h1.6M43.2 57.2h0.8M70.4 57.2h0.8M28 58h0.8M32 58h0.8M37.6 58h0.8M39.2 58h0.8M43.2 58h0.8M20.8 58.8h0.8M23.2 58.8h0.8M30.4 58.8h0.8M36 58.8h0.8M40.8 58.8h1.6M44 58.8h0.8M28.8 59.6h0.8M33.6 59.6h3.2M39.2 59.6h0.8M40.8 59.6h0.8M42.4 59.6h0.8M44 59.6h3.2M66.4 59.6h0.8M68 59.6h0.8M32 60.4h0.8M35.2 60.4h0.8M36.8 60.4h0.8M42.4 60.4h1.6M65.6 60.4h0.8M69.6 60.4h0.8M32 61.2h0.8M36 61.2h0.8M41.6 61.2h0.8M43.2 61.2h0.8M45.6 61.2h0.8M47.2 61.2h0.8M66.4 61.2h2.4M69.6 61.2h0.8M29.6 62h0.8M39.2 62h0.8M64 62h1.6M67.2 62h0.8M68.8 62h1.6M40 62.8h0.8M44 62.8h0.8M46.4 62.8h2.4M64 62.8h0.8M65.6 62.8h0.8M68.8 62.8h0.8M29.6 63.6h0.8M38.4 63.6h0.8M43.2 63.6h0.8M48 63.6h0.8M49.6 63.6h0.8M51.2 63.6h0.8M64 63.6h1.6M68 63.6h0.8M46.4 64.4h2.4M51.2 64.4h1.6M61.6 64.4h0.8M63.2 64.4h0.8M64.8 64.4h1.6M68 64.4h0.8M32.8 65.2h0.8M38.4 65.2h0.8M48 65.2h0.8M50.4 65.2h0.8M52 65.2h2.4M47.2 66h0.8M55.2 66h0.8M57.6 66h0.8M60 66h0.8M62.4 66h2.4M65.6 66h0.8M45.6 66.8h0.8M48.8 66.8h0.8M55.2 66.8h0.8M57.6 66.8h0.8M59.2 66.8h0.8M61.6 66.8h0.8M31.2 67.6h0.8M44.8 67.6h0.8M51.2 67.6h0.8M62.4 67.6h0.8M64.8 67.6h0.8M67.2 67.6h0.8M52.8 68.4h0.8M58.4 68.4h0.8M64 68.4h1.6M66.4 68.4h1.6M53.6 69.2h0.8M55.2 69.2h0.8M58.4 69.2h0.8M48 70h0.8M52 70h0.8M55.2 70h0.8M65.6 70h0.8M34.4 70.8h0.8M44.8 70.8h0.8M49.6 70.8h0.8M51.2 70.8h0.8M55.2 70.8h0.8M60 70.8h0.8M44 71.6h0.8M60 71.6h0.8"/><path stroke="#3730ae" stroke-width="0.8" stroke-opacity="0.85" d="M30.4 18h0.8M27.2 18.8h0.8M36.8 18.8h0.8M28 19.6h0.8M29.6 19.6h0.8M31.2 19.6h0.8M32.8 19.6h1.6M36 19.6h1.6M25.6 20.4h0.8M28 20.4h1.6M30.4 20.4h0.8M36 20.4h0.8M37.6 20.4h1.6M21.6 21.2h0.8M27.2 21.2h0.8M28.8 21.2h0.8M30.4 21.2h1.6M32.8 21.2h1.6M36 21.2h3.2M40.8 21.2h0.8M21.6 22h0.8M25.6 22h0.8M31.2 22h0.8M32.8 22h0.8M36.8 22h1.6M39.2 22h0.8M40.8 22h0.8M42.4 22h2.4M46.4 22h0.8M21.6 22.8h0.8M23.2 22.8h0.8M24.8 22.8h0.8M28 22.8h0.8M29.6 22.8h0.8M39.2 22.8h2.4M43.2 22.8h1.6M46.4 22.8h1.6M24 23.6h0.8M26.4 23.6h0.8M29.6 23.6h0.8M33.6 23.6h0.8M36.8 23.6h1.6M41.6 23.6h0.8M43.2 23.6h0.8M47.2 23.6h0.8M18.4 24.4h0.8M20 24.4h0.8M21.6 24.4h1.6M24.8 24.4h0.8M26.4 24.4h0.8M41.6 24.4h0.8M43.2 24.4h0.8M44.8 24.4h3.2M20.8 25.2h1.6M24 25.2h0.8M41.6 25.2h0.8M43.2 25.2h0.8M44.8 25.2h0.8M46.4 25.2h3.2M20 26h2.4M47.2 26h1.6M49.6 26h1.6M16.8 26.8h0.8M19.2 26.8h0.8M20.8 26.8h0.8M46.4 26.8h2.4M52 26.8h0.8M18.4 27.6h4M45.6 27.6h0.8M48.8 27.6h1.6M20.8 28.4h1.6M47.2 28.4h1.6M49.6 28.4h0.8M52 28.4h1.6M18.4 29.2h0.8M46.4 29.2h0.8M49.6 29.2h1.6M52.8 29.2h0.8M17.6 30h5.6M48 30h0.8M49.6 30h0.8M51.2 30h0.8M52.8 30h1.6M16 30.8h0.8M48 30.8h0.8M49.6 30.8h2.4M19.2 31.6h0.8M48.8 31.6h2.4M52.8 31.6h0.8M18.4 32.4h0.8M20 32.4h0.8M21.6 32.4h0.8M49.6 32.4h4M54.4 32.4h0.8M56 32.4h0.8M20.8 33.2h1.6M48 33.2h0.8M53.6 33.2h0.8M55.2 33.2h0.8M16.8 34h0.8M19.2 34h0.8M22.4 34h0.8M51.2 34h2.4M54.4 34h2.4M17.6 34.8h0.8M19.2 34.8h1.6M22.4 34.8h0.8M50.4 34.8h0.8M52 34.8h0.8M54.4 34.8h0.8M56.8 34.8h2.4M21.6 35.6h1.6M53.6 35.6h4M59.2 35.6h1.6M20 36.4h0.8M21.6 36.4h0.8M23.2 36.4h0.8M55.2 36.4h4M60 36.4h0.8M18.4 37.2h0.8M22.4 37.2h1.6M24.8 37.2h0.8M53.6 37.2h0.8M58.4 37.2h4M20.8 38h0.8M23.2 38h2.4M56 38h0.8M57.6 38h1.6M60 38h4M23.2 38.8h0.8M25.6 38.8h0.8M50.4 38.8h0.8M52.8 38.8h0.8M54.4 38.8h0.8M59.2 38.8h0.8M62.4 38.8h0.8M64.8 38.8h1.6M19.2 39.6h1.6M23.2 39.6h0.8M56.8 39.6h0.8M60 39.6h0.8M61.6 39.6h0.8M64 39.6h0.8M65.6 39.6h0.8M21.6 40.4h0.8M23.2 40.4h4.8M52.8 40.4h0.8M64 40.4h1.6M68 40.4h0.8M25.6 41.2h0.8M27.2 41.2h1.6M66.4 41.2h1.6M68.8 41.2h0.8M24.8 42h3.2M67.2 42h1.6M25.6 42.8h1.6M28.8 42.8h2.4M32 42.8h0.8M67.2 42.8h0.8M68.8 42.8h1.6M24 43.6h0.8M25.6 43.6h0.8M27.2 43.6h0.8M29.6 43.6h2.4M66.4 43.6h0.8M68 43.6h0.8M25.6 44.4h2.4M28.8 44.4h2.4M42.4 44.4h0.8M47.2 44.4h0.8M48.8 44.4h0.8M50.4 44.4h0.8M68.8 44.4h0.8M28 45.2h1.6M30.4 45.2h2.4M35.2 45.2h0.8M38.4 45.2h0.8M42.4 45.2h0.8M68 45.2h1.6M28 46h2.4M31.2 46h1.6M34.4 46h0.8M36.8 46h0.8M70.4 46h0.8M27.2 46.8h0.8M28.8 46.8h2.4M34.4 46.8h1.6M40 46.8h0.8M41.6 46.8h0.8M68.8 46.8h1.6M27.2 47.6h0.8M29.6 47.6h1.6M32.8 47.6h0.8M35.2 47.6h1.6M37.6 47.6h0.8M39.2 47.6h0.8M40.8 47.6h0.8M44.8 47.6h0.8M46.4 47.6h0.8M68 47.6h2.4M32 48.4h0.8M34.4 48.4h0.8M38.4 48.4h3.2M43.2 48.4h1.6M68.8 48.4h2.4M28.8 49.2h1.6M31.2 49.2h0.8M34.4 49.2h2.4M37.6 49.2h2.4M41.6 49.2h0.8M44.8 49.2h2.4M70.4 49.2h0.8M29.6 50h0.8M39.2 50h0.8M41.6 50h3.2M45.6 50h0.8M33.6 50.8h1.6M36 50.8h1.6M38.4 50.8h0.8M40 50.8h1.6M69.6 50.8h0.8M40 51.6h0.8M43.2 51.6h3.2M47.2 51.6h0.8M69.6 51.6h0.8M37.6 52.4h1.6M40 52.4h1.6M42.4 52.4h0.8M46.4 52.4h1.6M68.8 52.4h0.8M36.8 53.2h0.8M39.2 53.2h0.8M40.8 53.2h0.8M42.4 53.2h1.6M44.8 53.2h0.8M46.4 53.2h0.8M68.8 53.2h0.8M36.8 54h0.8M39.2 54h0.8M41.6 54h0.8M44.8 54h0.8M47.2 54h1.6M68.8 54h0.8M40 54.8h0.8M42.4 54.8h0.8M44 54.8h0.8M37.6 55.6h0.8M44.8 55.6h2.4M67.2 55.6h1.6M69.6 55.6h0.8M45.6 56.4h1.6M48 56.4h0.8M65.6 56.4h0.8M45.6 57.2h2.4M67.2 57.2h0.8M46.4 58h0.8M48 58h0.8M66.4 58h2.4M43.2 58.8h0.8M48.8 58.8h1.6M64.8 58.8h3.2M48.8 59.6h0.8M63.2 59.6h0.8M64.8 59.6h1.6M48.8 60.4h0.8M62.4 60.4h0.8M48.8 61.2h0.8M50.4 61.2h0.8M52 61.2h0.8M60.8 61.2h0.8M62.4 61.2h0.8M64.8 61.2h0.8M44.8 62h0.8M50.4 62h1.6M52.8 62h0.8M60.8 62h3.2M48.8 62.8h0.8M52 62.8h1.6M55.2 62.8h1.6M60.8 62.8h0.8M63.2 62.8h0.8M53.6 63.6h0.8M56 63.6h3.2M60 63.6h0.8M61.6 63.6h0.8M55.2 64.4h4.8M56.8 65.2h2.4M60 65.2h0.8M54.4 66.8h0.8"/><path stroke="#282ca5" stroke-width="0.8" d="M32 20.4h0.8M28 22h0.8M30.4 22h0.8M33.6 22h0.8M35.2 22h1.6M26.4 22.8h0.8M28.8 22.8h0.8M30.4 22.8h1.6M32.8 22.8h0.8M34.4 22.8h4M25.6 23.6h0.8M27.2 23.6h2.4M30.4 23.6h3.2M36 23.6h0.8M38.4 23.6h3.2M23.2 24.4h0.8M25.6 24.4h0.8M27.2 24.4h0.8M28.8 24.4h0.8M30.4 24.4h0.8M33.6 24.4h1.6M36 24.4h0.8M39.2 24.4h0.8M25.6 25.2h0.8M27.2 25.2h3.2M31.2 25.2h0.8M37.6 25.2h3.2M23.2 26h3.2M27.2 26h1.6M31.2 26h0.8M33.6 26h0.8M36 26h2.4M43.2 26h2.4M23.2 26.8h1.6M25.6 26.8h1.6M29.6 26.8h0.8M32 26.8h0.8M36.8 26.8h0.8M41.6 26.8h2.4M44.8 26.8h0.8M22.4 27.6h2.4M28 27.6h0.8M31.2 27.6h0.8M41.6 27.6h0.8M43.2 27.6h0.8M44.8 27.6h0.8M46.4 27.6h0.8M48 27.6h0.8M22.4 28.4h2.4M25.6 28.4h0.8M39.2 28.4h1.6M41.6 28.4h3.2M46.4 28.4h0.8M20.8 29.2h0.8M22.4 29.2h2.4M32.8 29.2h0.8M40.8 29.2h0.8M42.4 29.2h1.6M44.8 29.2h1.6M47.2 29.2h1.6M24 30h2.4M43.2 30h0.8M48.8 30h0.8M20.8 30.8h6.4M46.4 30.8h0.8M20 31.6h2.4M24 31.6h0.8M44.8 31.6h1.6M47.2 31.6h1.6M19.2 32.4h0.8M20.8 32.4h0.8M22.4 32.4h2.4M46.4 32.4h3.2M20 33.2h0.8M22.4 33.2h2.4M28.8 33.2h0.8M44.8 33.2h0.8M47.2 33.2h0.8M48.8 33.2h1.6M51.2 33.2h0.8M52.8 33.2h0.8M23.2 34h0.8M24.8 34h0.8M44 34h0.8M45.6 34h2.4M48.8 34h2.4M20.8 34.8h0.8M23.2 34.8h1.6M44.8 34.8h0.8M47.2 34.8h0.8M48.8 34.8h0.8M52.8 34.8h0.8M24 35.6h1.6M26.4 35.6h0.8M30.4 35.6h0.8M44 35.6h0.8M45.6 35.6h1.6M48 35.6h1.6M50.4 35.6h2.4M26.4 36.4h0.8M32.8 36.4h0.8M44 36.4h1.6M47.2 36.4h0.8M49.6 36.4h2.4M25.6 37.2h1.6M29.6 37.2h1.6M32 37.2h0.8M40 37.2h0.8M48 37.2h0.8M49.6 37.2h0.8M51.2 37.2h0.8M52.8 37.2h0.8M26.4 38h0.8M28.8 38h0.8M46.4 38h4.8M52 38h3.2M56.8 38h0.8M26.4 38.8h2.4M29.6 38.8h2.4M33.6 38.8h0.8M42.4 38.8h0.8M46.4 38.8h4M51.2 38.8h0.8M58.4 38.8h0.8M61.6 38.8h0.8M24 39.6h3.2M28 39.6h0.8M29.6 39.6h0.8M33.6 39.6h0.8M36.8 39.6h0.8M40 39.6h0.8M43.2 39.6h2.4M47.2 39.6h2.4M51.2 39.6h1.6M53.6 39.6h0.8M55.2 39.6h1.6M57.6 39.6h0.8M59.2 39.6h0.8M62.4 39.6h0.8M29.6 40.4h0.8M31.2 40.4h1.6M43.2 40.4h0.8M46.4 40.4h0.8M48.8 40.4h0.8M51.2 40.4h1.6M53.6 40.4h1.6M56 40.4h4M60.8 40.4h0.8M63.2 40.4h0.8M65.6 40.4h0.8M28.8 41.2h1.6M32.8 41.2h0.8M40 41.2h0.8M44 41.2h0.8M47.2 41.2h2.4M50.4 41.2h0.8M53.6 41.2h2.4M56.8 41.2h0.8M64 41.2h0.8M65.6 41.2h0.8M28 42h1.6M31.2 42h0.8M32.8 42h1.6M41.6 42h0.8M46.4 42h2.4M51.2 42h2.4M65.6 42h1.6M27.2 42.8h0.8M31.2 42.8h0.8M32.8 42.8h0.8M35.2 42.8h0.8M37.6 42.8h0.8M39.2 42.8h0.8M42.4 42.8h1.6M44.8 42.8h0.8M47.2 42.8h0.8M50.4 42.8h1.6M66.4 42.8h0.8M32 43.6h1.6M34.4 43.6h0.8M36 43.6h0.8M37.6 43.6h1.6M41.6 43.6h2.4M47.2 43.6h0.8M50.4 43.6h1.6M31.2 44.4h0.8M32.8 44.4h0.8M35.2 44.4h0.8M36.8 44.4h3.2M41.6 44.4h0.8M43.2 44.4h1.6M45.6 44.4h1.6M51.2 44.4h0.8M52.8 44.4h0.8M67.2 44.4h0.8M32.8 45.2h0.8M34.4 45.2h0.8M36 45.2h2.4M39.2 45.2h1.6M43.2 45.2h4M50.4 45.2h0.8M67.2 45.2h0.8M32.8 46h1.6M35.2 46h1.6M38.4 46h1.6M41.6 46h4M47.2 46h2.4M50.4 46h1.6M68 46h1.6M36.8 46.8h0.8M38.4 46.8h0.8M40.8 46.8h0.8M43.2 46.8h3.2M48 46.8h1.6M68 46.8h0.8M40 47.6h0.8M41.6 47.6h1.6M48 47.6h2.4M35.2 48.4h1.6M42.4 48.4h0.8M44.8 48.4h3.2M68 48.4h0.8M33.6 49.2h0.8M40.8 49.2h0.8M42.4 49.2h1.6M47.2 49.2h2.4M68 49.2h1.6M40 50h1.6M44.8 50h0.8M46.4 50h0.8M48 50h0.8M49.6 50h1.6M68 50h1.6M42.4 50.8h1.6M44.8 50.8h0.8M46.4 50.8h0.8M48 50.8h1.6M68 50.8h1.6M48.8 51.6h0.8M67.2 51.6h0.8M68.8 51.6h0.8M45.6 52.4h0.8M49.6 52.4h0.8M44 53.2h0.8M45.6 53.2h0.8M48.8 53.2h0.8M67.2 53.2h1.6M45.6 54h0.8M67.2 54h0.8M68 54.8h0.8M48 55.6h1.6M51.2 55.6h0.8M66.4 55.6h0.8M47.2 56.4h0.8M48.8 56.4h0.8M66.4 56.4h0.8M48 57.2h2.4M51.2 57.2h0.8M63.2 57.2h0.8M64.8 57.2h0.8M52 58h0.8M64.8 58h1.6M50.4 58.8h1.6M64 58.8h0.8M49.6 59.6h0.8M51.2 59.6h1.6M62.4 59.6h0.8M52 60.4h0.8M53.6 60.4h0.8M60 60.4h0.8M63.2 60.4h0.8M51.2 61.2h0.8M52.8 61.2h1.6M56 61.2h1.6M58.4 61.2h0.8M60 61.2h0.8M61.6 61.2h0.8M52 62h0.8M53.6 62h1.6M56.8 62h2.4M60 62h0.8M59.2 62.8h0.8M54.4 63.6h0.8"/><path stroke="#2050a8" stroke-width="0.8" d="M38.4 22.8h0.8M35.2 23.6h0.8M29.6 24.4h0.8M31.2 24.4h0.8M32.8 24.4h0.8M36.8 24.4h0.8M40.8 24.4h0.8M30.4 25.2h0.8M32 25.2h5.6M42.4 25.2h0.8M28.8 26h1.6M32.8 26h0.8M34.4 26h1.6M38.4 26h0.8M40.8 26h1.6M24.8 26.8h0.8M28 26.8h0.8M30.4 26.8h1.6M33.6 26.8h2.4M37.6 26.8h1.6M40 26.8h1.6M26.4 27.6h1.6M28.8 27.6h1.6M32 27.6h0.8M34.4 27.6h1.6M38.4 27.6h1.6M40.8 27.6h0.8M42.4 27.6h0.8M26.4 28.4h1.6M29.6 28.4h0.8M31.2 28.4h0.8M36.8 28.4h0.8M38.4 28.4h0.8M40.8 28.4h0.8M24.8 29.2h2.4M28 29.2h0.8M29.6 29.2h1.6M34.4 29.2h0.8M36 29.2h1.6M38.4 29.2h1.6M23.2 30h0.8M26.4 30h1.6M28.8 30h2.4M36 30h2.4M40 30h3.2M44 30h1.6M27.2 30.8h0.8M28.8 30.8h0.8M30.4 30.8h0.8M32 30.8h1.6M34.4 30.8h0.8M37.6 30.8h0.8M40 30.8h3.2M44 30.8h1.6M23.2 31.6h0.8M24.8 31.6h4M29.6 31.6h0.8M38.4 31.6h0.8M40 31.6h0.8M41.6 31.6h1.6M44 31.6h0.8M24.8 32.4h0.8M26.4 32.4h1.6M28.8 32.4h0.8M31.2 32.4h0.8M36.8 32.4h0.8M40.8 32.4h4M45.6 32.4h0.8M25.6 33.2h3.2M29.6 33.2h2.4M32.8 33.2h1.6M36 33.2h0.8M38.4 33.2h0.8M40.8 33.2h0.8M42.4 33.2h2.4M45.6 33.2h1.6M24 34h0.8M26.4 34h1.6M29.6 34h1.6M41.6 34h1.6M44.8 34h0.8M25.6 34.8h2.4M28.8 34.8h0.8M30.4 34.8h1.6M33.6 34.8h0.8M36 34.8h0.8M38.4 34.8h2.4M41.6 34.8h3.2M45.6 34.8h1.6M48 34.8h0.8M25.6 35.6h0.8M27.2 35.6h3.2M31.2 35.6h2.4M34.4 35.6h2.4M37.6 35.6h1.6M40 35.6h0.8M41.6 35.6h0.8M43.2 35.6h0.8M47.2 35.6h0.8M24 36.4h0.8M27.2 36.4h2.4M31.2 36.4h0.8M33.6 36.4h0.8M36 36.4h0.8M37.6 36.4h0.8M39.2 36.4h0.8M41.6 36.4h0.8M45.6 36.4h0.8M48.8 36.4h0.8M27.2 37.2h2.4M31.2 37.2h0.8M32.8 37.2h1.6M35.2 37.2h2.4M39.2 37.2h0.8M41.6 37.2h5.6M50.4 37.2h0.8M28 38h0.8M32 38h4M36.8 38h0.8M38.4 38h0.8M41.6 38h0.8M43.2 38h2.4M28.8 38.8h0.8M32 38.8h0.8M34.4 38.8h1.6M40.8 38.8h0.8M43.2 38.8h2.4M28.8 39.6h0.8M30.4 39.6h1.6M32.8 39.6h0.8M35.2 39.6h1.6M37.6 39.6h2.4M40.8 39.6h2.4M45.6 39.6h0.8M49.6 39.6h1.6M30.4 40.4h0.8M33.6 40.4h0.8M35.2 40.4h0.8M36.8 40.4h4M42.4 40.4h0.8M44 40.4h0.8M45.6 40.4h0.8M55.2 40.4h0.8M62.4 40.4h0.8M32 41.2h0.8M33.6 41.2h3.2M37.6 41.2h1.6M40.8 41.2h1.6M43.2 41.2h0.8M44.8 41.2h2.4M51.2 41.2h2.4M56 41.2h0.8M58.4 41.2h2.4M61.6 41.2h1.6M32 42h0.8M34.4 42h3.2M38.4 42h2.4M43.2 42h3.2M50.4 42h0.8M53.6 42h1.6M56 42h1.6M63.2 42h0.8M33.6 42.8h1.6M36.8 42.8h0.8M38.4 42.8h0.8M40 42.8h0.8M41.6 42.8h0.8M45.6 42.8h0.8M48 42.8h0.8M49.6 42.8h0.8M52 42.8h2.4M61.6 42.8h0.8M64.8 42.8h1.6M35.2 43.6h0.8M36.8 43.6h0.8M39.2 43.6h2.4M44 43.6h0.8M45.6 43.6h1.6M52 43.6h0.8M54.4 43.6h1.6M65.6 43.6h0.8M67.2 43.6h0.8M33.6 44.4h0.8M44.8 44.4h0.8M49.6 44.4h0.8M53.6 44.4h0.8M55.2 44.4h0.8M64.8 44.4h0.8M66.4 44.4h0.8M41.6 45.2h0.8M48 45.2h0.8M49.6 45.2h0.8M51.2 45.2h2.4M66.4 45.2h0.8M45.6 46h0.8M52 46h0.8M53.6 46h0.8M65.6 46h0.8M46.4 46.8h1.6M50.4 46.8h2.4M50.4 47.6h3.2M67.2 47.6h0.8M49.6 48.4h3.2M49.6 49.2h2.4M67.2 49.2h0.8M52.8 50h0.8M67.2 50h0.8M49.6 50.8h3.2M66.4 50.8h1.6M49.6 51.6h2.4M50.4 52.4h1.6M65.6 52.4h1.6M50.4 53.2h0.8M66.4 53.2h0.8M49.6 54h0.8M51.2 54h0.8M66.4 54h0.8M48 54.8h1.6M51.2 54.8h0.8M65.6 54.8h0.8M49.6 55.6h1.6M52.8 55.6h0.8M65.6 55.6h0.8M49.6 56.4h0.8M51.2 56.4h0.8M52.8 56.4h0.8M64 56.4h1.6M52 57.2h0.8M50.4 58h1.6M62.4 58h2.4M52 58.8h2.4M56 58.8h0.8M61.6 58.8h2.4M52.8 59.6h3.2M60.8 59.6h1.6M52.8 60.4h0.8M54.4 60.4h1.6M56.8 60.4h3.2M60.8 60.4h0.8M55.2 61.2h0.8M57.6 61.2h0.8M59.2 61.2h0.8"/><path stroke="#1b72a4" stroke-width="0.8" d="M28.8 26.8h0.8M36 26.8h0.8M30.4 27.6h0.8M32.8 27.6h1.6M36.8 27.6h1.6M40 27.6h0.8M24.8 28.4h0.8M30.4 28.4h0.8M32 28.4h2.4M35.2 28.4h1.6M37.6 28.4h0.8M28.8 29.2h0.8M31.2 29.2h0.8M33.6 29.2h0.8M35.2 29.2h0.8M37.6 29.2h0.8M40 29.2h0.8M31.2 30h4M38.4 30h1.6M28 30.8h0.8M29.6 30.8h0.8M35.2 30.8h2.4M39.2 30.8h0.8M30.4 31.6h2.4M34.4 31.6h4M39.2 31.6h0.8M28 32.4h0.8M30.4 32.4h0.8M32 32.4h2.4M37.6 32.4h0.8M40 32.4h0.8M34.4 33.2h1.6M37.6 33.2h0.8M39.2 33.2h1.6M41.6 33.2h0.8M28.8 34h0.8M31.2 34h1.6M33.6 34h1.6M36 34h0.8M38.4 34h2.4M43.2 34h0.8M29.6 34.8h0.8M32 34.8h1.6M34.4 34.8h1.6M36.8 34.8h1.6M33.6 35.6h0.8M36.8 35.6h0.8M42.4 35.6h0.8M35.2 36.4h0.8M38.4 36.4h0.8M40 36.4h0.8M46.4 36.4h0.8M37.6 37.2h0.8M40.8 37.2h0.8M30.4 38h1.6M37.6 38h0.8M39.2 38h1.6M42.4 38h0.8M36 38.8h3.2M40 38.8h0.8M34.4 39.6h0.8M36 40.4h0.8M40.8 40.4h1.6M44.8 40.4h0.8M50.4 40.4h0.8M57.6 42h0.8M60 42h3.2M36 42.8h0.8M44 42.8h0.8M56 42.8h0.8M59.2 42.8h2.4M53.6 43.6h0.8M56 43.6h1.6M58.4 43.6h0.8M54.4 44.4h0.8M56 44.4h0.8M65.6 44.4h0.8M53.6 45.2h1.6M56 45.2h0.8M65.6 45.2h0.8M55.2 46h0.8M66.4 46h0.8M52.8 46.8h0.8M66.4 46.8h0.8M65.6 48.4h0.8M67.2 48.4h0.8M52 49.2h0.8M51.2 50h1.6M65.6 50.8h0.8M66.4 51.6h0.8M52 52.4h0.8M65.6 54h0.8M50.4 54.8h0.8M52 54.8h1.6M64 54.8h1.6M64 55.6h1.6M52 56.4h0.8M53.6 56.4h0.8M62.4 57.2h0.8M54.4 58h0.8M60 58.8h1.6M56.8 59.6h0.8M58.4 59.6h2.4"/><path stroke="#198e99" stroke-width="0.8" d="M35.2 30h0.8M33.6 30.8h0.8M38.4 30.8h0.8M28.8 31.6h0.8M32.8 31.6h1.6M40.8 31.6h0.8M29.6 32.4h0.8M34.4 32.4h0.8M38.4 32.4h1.6M32 33.2h0.8M36.8 33.2h0.8M32.8 34h0.8M36.8 34h1.6M40.8 34h0.8M40.8 34.8h0.8M39.2 35.6h0.8M34.4 36.4h0.8M36.8 36.4h0.8M40.8 36.4h0.8M60.8 41.2h0.8M59.2 42h0.8M57.6 42.8h1.6M62.4 42.8h2.4M57.6 43.6h0.8M60.8 43.6h0.8M63.2 43.6h0.8M64.8 43.6h0.8M56.8 44.4h0.8M64 44.4h0.8M64.8 45.2h0.8M53.6 46.8h0.8M54.4 47.6h0.8M65.6 47.6h1.6M52.8 48.4h1.6M66.4 48.4h0.8M52.8 50.8h0.8M52 51.6h0.8M53.6 51.6h0.8M65.6 51.6h0.8M52.8 52.4h0.8M52 53.2h0.8M65.6 53.2h0.8M52 54h0.8M64.8 54h0.8M52 55.6h0.8M53.6 55.6h0.8M63.2 56.4h0.8M53.6 57.2h0.8M53.6 58h0.8M60 58h0.8M61.6 58h0.8M54.4 58.8h1.6M56.8 58.8h1.6M59.2 58.8h0.8M57.6 59.6h0.8"/><path stroke="#1f9e7e" stroke-width="0.8" d="M35.2 32.4h0.8M59.2 43.6h0.8M64 43.6h0.8M57.6 44.4h0.8M63.2 44.4h0.8M55.2 45.2h0.8M57.6 45.2h0.8M64 45.2h0.8M56 46h0.8M64 46h1.6M54.4 46.8h0.8M56 46.8h0.8M65.6 46.8h0.8M64.8 47.6h0.8M53.6 49.2h0.8M65.6 49.2h1.6M53.6 50h0.8M66.4 50h0.8M53.6 52.4h0.8M52.8 53.2h0.8M64 53.2h1.6M52.8 54h0.8M53.6 54.8h0.8M63.2 54.8h0.8M63.2 55.6h0.8M62.4 56.4h0.8M54.4 57.2h1.6M59.2 57.2h0.8M61.6 57.2h0.8M55.2 58h1.6M58.4 58h1.6M58.4 58.8h0.8"/><path stroke="#2aaa5a" stroke-width="0.8" d="M60 43.6h0.8M61.6 43.6h0.8M58.4 44.4h2.4M62.4 44.4h0.8M63.2 45.2h0.8M54.4 46h0.8M56.8 46h0.8M64 46.8h0.8M54.4 48.4h0.8M52.8 49.2h0.8M64.8 49.2h0.8M64.8 50h1.6M64.8 50.8h0.8M52.8 51.6h0.8M64.8 51.6h0.8M54.4 52.4h0.8M64.8 52.4h0.8M54.4 53.2h0.8M53.6 54h0.8M63.2 54h1.6M54.4 54.8h0.8M62.4 55.6h0.8M56.8 56.4h0.8M60.8 56.4h1.6M52.8 57.2h0.8M60 57.2h0.8M56.8 58h0.8M60.8 58h0.8"/><path stroke="#50b846" stroke-width="0.8" d="M61.6 44.4h0.8M56.8 45.2h0.8M59.2 45.2h1.6M61.6 45.2h1.6M58.4 46h0.8M61.6 46h2.4M55.2 46.8h0.8M56.8 46.8h0.8M64.8 46.8h0.8M54.4 49.2h0.8M53.6 50.8h0.8M64 52.4h0.8M54.4 54h0.8M54.4 55.6h0.8M54.4 56.4h2.4M60 56.4h0.8M56.8 57.2h0.8M60.8 57.2h0.8M57.6 58h0.8"/><path stroke="#7bc635" stroke-width="0.8" d="M60.8 44.4h0.8M58.4 45.2h0.8M60.8 45.2h0.8M55.2 47.6h0.8M58.4 47.6h0.8M63.2 47.6h1.6M56 48.4h0.8M64 48.4h0.8M54.4 50h0.8M64 50h0.8M64 50.8h0.8M53.6 53.2h0.8M62.4 54h0.8M61.6 54.8h1.6M58.4 55.6h0.8M60.8 55.6h1.6M56 57.2h0.8M58.4 57.2h0.8"/><path stroke="#abd32e" stroke-width="0.8" d="M57.6 46h0.8M59.2 46h2.4M57.6 46.8h0.8M56 47.6h1.6M55.2 48.4h0.8M64.8 48.4h0.8M55.2 50.8h0.8M63.2 50.8h0.8M54.4 51.6h0.8M64 51.6h0.8M55.2 55.6h0.8M60 55.6h0.8M59.2 56.4h0.8"/><path stroke="#dce029" stroke-width="0.8" d="M59.2 46.8h0.8M56.8 48.4h0.8M62.4 48.4h1.6M55.2 49.2h1.6M64 49.2h0.8M55.2 50h0.8M55.2 52.4h0.8M62.4 53.2h1.6M56 54h0.8M60.8 54.8h0.8M59.2 55.6h0.8M57.6 56.4h1.6"/><path stroke="#ebcc24" stroke-width="0.8" d="M58.4 46.8h0.8M57.6 47.6h0.8M59.2 47.6h0.8M63.2 49.2h0.8M56 50h0.8M63.2 50h0.8M54.4 50.8h0.8M55.2 51.6h0.8M63.2 51.6h0.8M56 52.4h0.8M55.2 53.2h1.6M60 53.2h0.8M55.2 54h0.8M55.2 54.8h0.8M60 54.8h0.8M56.8 55.6h0.8M57.6 57.2h0.8"/><path stroke="#f4b01f" stroke-width="0.8" d="M61.6 46.8h0.8M63.2 46.8h0.8M62.4 47.6h0.8M57.6 49.2h0.8M56 50.8h0.8M56.8 52.4h0.8M62.4 52.4h0.8M56.8 53.2h0.8M57.6 54h0.8M60.8 54h0.8M56 54.8h0.8M58.4 54.8h0.8M56 55.6h0.8M57.6 55.6h0.8"/><path stroke="#f38a1c" stroke-width="0.8" d="M60 46.8h0.8M62.4 46.8h0.8M60 47.6h2.4M57.6 48.4h0.8M58.4 49.2h0.8M61.6 50h0.8M56.8 51.6h0.8M61.6 51.6h0.8M63.2 52.4h0.8M61.6 53.2h0.8M57.6 54.8h0.8M59.2 54.8h0.8"/><path stroke="#ee601a" stroke-width="0.8" d="M60.8 46.8h0.8M60 49.2h0.8M62.4 50h0.8M57.6 50.8h0.8M62.4 50.8h0.8M56 51.6h0.8M58.4 52.4h0.8M60.8 52.4h0.8M60.8 53.2h0.8M56.8 54h0.8M61.6 54h0.8"/><path stroke="#e53e19" stroke-width="0.8" d="M58.4 48.4h4M56.8 49.2h0.8M59.2 49.2h0.8M60.8 49.2h2.4M56.8 50h4.8M56.8 50.8h0.8M58.4 50.8h4M57.6 51.6h4M62.4 51.6h0.8M57.6 52.4h0.8M59.2 52.4h1.6M61.6 52.4h0.8M57.6 53.2h2.4M58.4 54h2.4M56.8 54.8h0.8"/></g>
<rect x="126.2" y="54.2" width="71.4" height="72" fill="none" stroke="#b4b4b4" stroke-width=".8"/>
<path d="M132.7 126.2v2.2M145.2 126.2v2.2M156.7 126.2v2.2M175.2 126.2v2.2M192.7 126.2v2.2" stroke="#000" stroke-width="1.1" fill="none"/>
<path d="M162.27 126.2v1.2M165.53 126.2v1.2M167.84 126.2v1.2M169.63 126.2v1.2M171.1 126.2v1.2M172.33 126.2v1.2M173.41 126.2v1.2M174.35 126.2v1.2M180.47 126.2v1.2M183.55 126.2v1.2M185.74 126.2v1.2M187.43 126.2v1.2M188.82 126.2v1.2M189.99 126.2v1.2M191 126.2v1.2M191.9 126.2v1.2M135.7 126.2v1.2M138.2 126.2v1.2M140.2 126.2v1.2M141.7 126.2v1.2M142.7 126.2v1.2M143.7 126.2v1.2M144.4 126.2v1.2M146 126.2v1.2M146.7 126.2v1.2M147.7 126.2v1.2M148.7 126.2v1.2M150.2 126.2v1.2M152.2 126.2v1.2M154.2 126.2v1.2" stroke="#000" stroke-width=".8" fill="none"/>
<rect x="142.6" y="126.4" width="2.6" height="1.5" fill="#111"/>
<path d="M139 78.5L141.3 71.5L152.4 68.2L167.8 66.9L180.8 69.2L183.1 74.6L182.8 85.4L177 93.1L166.2 98L155.4 98L144.7 94.6L140.8 86.9z" fill="none" stroke="#5a52b0" stroke-width=".9" stroke-linejoin="round"/>
<text transform="translate(129.3 64.4) scale(0.97 1)" font-size="9.1" font-weight="bold">31.9 %</text>
<text transform="translate(131.4 139) scale(0.85 1)" font-size="8.5" text-anchor="middle">-10<tspan font-size="5.27" dy="-2.6">3</tspan></text>
<text transform="translate(144.9 139) scale(0.85 1)" font-size="8.5" text-anchor="middle">0</text>
<text transform="translate(156 139) scale(0.85 1)" font-size="8.5" text-anchor="middle">10<tspan font-size="5.27" dy="-2.6">3</tspan></text>
<text transform="translate(174.7 139) scale(0.85 1)" font-size="8.5" text-anchor="middle">10<tspan font-size="5.27" dy="-2.6">4</tspan></text>
<text transform="translate(190.9 139) scale(0.85 1)" font-size="8.5" text-anchor="middle">10<tspan font-size="5.27" dy="-2.6">5</tspan></text>
<g transform="translate(200.6 54.2)" fill="none" filter="url(#soft)"><path stroke="#5649c0" stroke-width="0.8" stroke-opacity="0.62" d="M28.8 6h0.8M28.8 7.6h0.8M31.2 7.6h0.8M30.4 8.4h0.8M34.4 8.4h0.8M24.8 9.2h0.8M34.4 9.2h0.8M15.2 10h0.8M9.6 10.8h0.8M20.8 10.8h0.8M32 10.8h0.8M36 10.8h0.8M41.6 10.8h0.8M15.2 11.6h0.8M29.6 11.6h0.8M33.6 11.6h0.8M17.6 12.4h0.8M19.2 12.4h0.8M40.8 12.4h0.8M8.8 13.2h0.8M18.4 13.2h0.8M22.4 13.2h0.8M30.4 13.2h0.8M32.8 13.2h0.8M16.8 14h1.6M20 14h0.8M28 14h0.8M42.4 14h1.6M49.6 14h0.8M24.8 14.8h1.6M29.6 14.8h0.8M38.4 14.8h0.8M20 15.6h0.8M22.4 15.6h1.6M30.4 15.6h1.6M34.4 15.6h3.2M43.2 15.6h0.8M52 15.6h0.8M11.2 16.4h0.8M16.8 16.4h0.8M20.8 16.4h1.6M24 16.4h0.8M25.6 16.4h0.8M28.8 16.4h1.6M32.8 16.4h0.8M37.6 16.4h0.8M39.2 16.4h0.8M44 16.4h0.8M48 16.4h0.8M51.2 16.4h0.8M11.2 17.2h0.8M12.8 17.2h0.8M16 17.2h1.6M18.4 17.2h2.4M22.4 17.2h0.8M24 17.2h0.8M25.6 17.2h0.8M27.2 17.2h0.8M30.4 17.2h0.8M34.4 17.2h0.8M36.8 17.2h0.8M43.2 17.2h0.8M45.6 17.2h0.8M15.2 18h0.8M17.6 18h1.6M24 18h0.8M28 18h0.8M30.4 18h0.8M33.6 18h0.8M35.2 18h0.8M36.8 18h1.6M40 18h0.8M44 18h0.8M3.2 18.8h0.8M12.8 18.8h0.8M20 18.8h0.8M22.4 18.8h0.8M25.6 18.8h0.8M33.6 18.8h0.8M36.8 18.8h0.8M38.4 18.8h0.8M40 18.8h0.8M41.6 18.8h1.6M44 18.8h0.8M46.4 18.8h0.8M48 18.8h0.8M13.6 19.6h1.6M17.6 19.6h2.4M24 19.6h0.8M36 19.6h0.8M38.4 19.6h1.6M43.2 19.6h1.6M45.6 19.6h0.8M48 19.6h2.4M8 20.4h0.8M11.2 20.4h0.8M14.4 20.4h1.6M18.4 20.4h0.8M41.6 20.4h0.8M46.4 20.4h0.8M48.8 20.4h0.8M53.6 20.4h0.8M12.8 21.2h1.6M15.2 21.2h0.8M42.4 21.2h0.8M44.8 21.2h1.6M49.6 21.2h0.8M5.6 22h0.8M41.6 22h0.8M44.8 22h1.6M48.8 22h1.6M56 22h0.8M8.8 22.8h0.8M12.8 22.8h2.4M47.2 22.8h1.6M12.8 23.6h1.6M44 23.6h1.6M47.2 23.6h0.8M49.6 23.6h0.8M52 23.6h0.8M56 23.6h0.8M8 24.4h0.8M12 24.4h0.8M13.6 24.4h0.8M16.8 24.4h1.6M48 24.4h0.8M51.2 24.4h0.8M55.2 24.4h0.8M15.2 25.2h0.8M44.8 25.2h1.6M51.2 25.2h0.8M55.2 25.2h0.8M69.6 25.2h0.8M7.2 26h0.8M9.6 26h0.8M11.2 26h0.8M13.6 26h0.8M15.2 26h1.6M17.6 26h0.8M56.8 26h2.4M8 26.8h0.8M9.6 26.8h0.8M12 26.8h0.8M14.4 26.8h0.8M46.4 26.8h0.8M51.2 26.8h0.8M56.8 26.8h0.8M59.2 26.8h0.8M8 27.6h0.8M10.4 27.6h0.8M12 27.6h0.8M19.2 27.6h0.8M48.8 27.6h0.8M54.4 27.6h0.8M63.2 27.6h0.8M9.6 28.4h0.8M12.8 28.4h0.8M14.4 28.4h0.8M48 28.4h0.8M51.2 28.4h0.8M53.6 28.4h1.6M4.8 29.2h0.8M12.8 29.2h0.8M14.4 29.2h0.8M16.8 29.2h0.8M50.4 29.2h0.8M56.8 29.2h0.8M58.4 29.2h0.8M64 29.2h0.8M12 30h0.8M52 30h1.6M55.2 30h0.8M59.2 30h0.8M60.8 30h0.8M62.4 30h0.8M8 30.8h0.8M12 30.8h0.8M16 30.8h2.4M52 30.8h1.6M57.6 30.8h0.8M60 30.8h0.8M8.8 31.6h0.8M13.6 31.6h0.8M15.2 31.6h1.6M51.2 31.6h0.8M52.8 31.6h0.8M54.4 31.6h2.4M57.6 31.6h0.8M60 31.6h0.8M63.2 31.6h0.8M65.6 31.6h0.8M67.2 31.6h0.8M4 32.4h0.8M11.2 32.4h0.8M14.4 32.4h0.8M56.8 32.4h0.8M58.4 32.4h0.8M61.6 32.4h0.8M8.8 33.2h0.8M10.4 33.2h0.8M13.6 33.2h2.4M17.6 33.2h1.6M52.8 33.2h2.4M59.2 33.2h0.8M64.8 33.2h0.8M10.4 34h0.8M13.6 34h0.8M15.2 34h2.4M56.8 34h0.8M58.4 34h0.8M60 34h0.8M61.6 34h0.8M64.8 34h0.8M66.4 34h0.8M11.2 34.8h0.8M14.4 34.8h0.8M17.6 34.8h0.8M51.2 34.8h0.8M52.8 34.8h0.8M55.2 34.8h1.6M58.4 34.8h4M63.2 34.8h0.8M64.8 34.8h0.8M4 35.6h0.8M16 35.6h1.6M60.8 35.6h0.8M62.4 35.6h0.8M68.8 35.6h0.8M11.2 36.4h1.6M15.2 36.4h0.8M19.2 36.4h0.8M20.8 36.4h0.8M52 36.4h0.8M56 36.4h0.8M57.6 36.4h1.6M61.6 36.4h0.8M64.8 36.4h0.8M8.8 37.2h0.8M15.2 37.2h0.8M16.8 37.2h0.8M18.4 37.2h0.8M22.4 37.2h0.8M60 37.2h0.8M67.2 37.2h0.8M68.8 37.2h0.8M6.4 38h0.8M17.6 38h1.6M20.8 38h0.8M24 38h0.8M68.8 38h0.8M12 38.8h0.8M23.2 38.8h0.8M66.4 38.8h0.8M68 38.8h0.8M24.8 39.6h0.8M65.6 39.6h1.6M68 39.6h1.6M7.2 40.4h0.8M16 40.4h0.8M18.4 40.4h0.8M23.2 40.4h1.6M69.6 40.4h0.8M9.6 41.2h0.8M13.6 41.2h0.8M20 41.2h0.8M22.4 41.2h0.8M24.8 41.2h2.4M68 41.2h0.8M12 42h0.8M22.4 42h0.8M25.6 42h0.8M68 42h3.2M18.4 42.8h0.8M20 42.8h1.6M23.2 42.8h1.6M28 42.8h1.6M67.2 42.8h0.8M69.6 42.8h0.8M17.6 43.6h0.8M20 43.6h0.8M21.6 43.6h0.8M29.6 43.6h0.8M31.2 43.6h1.6M68.8 43.6h1.6M16.8 44.4h0.8M24 44.4h0.8M28.8 44.4h1.6M31.2 44.4h0.8M40.8 44.4h0.8M69.6 44.4h1.6M17.6 45.2h0.8M29.6 45.2h0.8M70.4 45.2h0.8M12 46h0.8M18.4 46h0.8M24 46h0.8M25.6 46h0.8M30.4 46h0.8M32 46h0.8M68 46h0.8M71.2 46h0.8M14.4 46.8h0.8M17.6 46.8h0.8M20.8 46.8h1.6M26.4 46.8h2.4M29.6 46.8h0.8M31.2 46.8h0.8M69.6 46.8h0.8M23.2 47.6h0.8M27.2 47.6h0.8M30.4 47.6h1.6M70.4 47.6h1.6M10.4 48.4h0.8M12.8 48.4h0.8M22.4 48.4h0.8M24 48.4h0.8M34.4 48.4h0.8M38.4 48.4h0.8M40.8 48.4h0.8M21.6 49.2h0.8M23.2 49.2h2.4M28.8 49.2h2.4M33.6 49.2h0.8M35.2 49.2h3.2M68 49.2h2.4M21.6 50h0.8M28.8 50h0.8M30.4 50h0.8M33.6 50h0.8M35.2 50h0.8M36.8 50h0.8M38.4 50h2.4M69.6 50h0.8M71.2 50h0.8M11.2 50.8h0.8M18.4 50.8h0.8M20.8 50.8h1.6M24.8 50.8h0.8M28.8 50.8h1.6M32.8 50.8h1.6M44 50.8h0.8M17.6 51.6h0.8M32 51.6h0.8M33.6 51.6h2.4M39.2 51.6h1.6M68 51.6h0.8M69.6 51.6h0.8M26.4 52.4h0.8M28.8 52.4h0.8M32 52.4h0.8M33.6 52.4h0.8M36 52.4h1.6M68 52.4h0.8M70.4 52.4h1.6M30.4 53.2h3.2M36 53.2h1.6M41.6 53.2h1.6M67.2 53.2h1.6M32.8 54h0.8M34.4 54h0.8M36 54h0.8M43.2 54h0.8M67.2 54h0.8M69.6 54h0.8M18.4 54.8h0.8M23.2 54.8h0.8M29.6 54.8h0.8M32.8 54.8h0.8M34.4 54.8h0.8M39.2 54.8h0.8M68 54.8h0.8M28.8 55.6h0.8M30.4 55.6h0.8M38.4 55.6h0.8M44.8 55.6h1.6M68.8 55.6h0.8M21.6 56.4h0.8M30.4 56.4h0.8M34.4 56.4h1.6M44 56.4h0.8M48 56.4h0.8M67.2 56.4h0.8M69.6 56.4h0.8M24.8 57.2h0.8M27.2 57.2h0.8M31.2 57.2h0.8M36.8 57.2h0.8M39.2 57.2h0.8M42.4 57.2h1.6M44.8 57.2h1.6M28.8 58h0.8M31.2 58h0.8M36 58h1.6M40 58h2.4M44 58h0.8M45.6 58h0.8M47.2 58h0.8M66.4 58h0.8M68 58h1.6M36 58.8h2.4M40 58.8h0.8M43.2 58.8h1.6M46.4 58.8h0.8M48 58.8h0.8M67.2 58.8h0.8M37.6 59.6h0.8M39.2 59.6h1.6M44 59.6h0.8M45.6 59.6h0.8M63.2 59.6h0.8M66.4 59.6h0.8M68 59.6h0.8M28 60.4h0.8M32 60.4h0.8M48 60.4h0.8M36.8 61.2h0.8M40.8 61.2h0.8M42.4 61.2h0.8M45.6 61.2h0.8M61.6 61.2h0.8M63.2 61.2h2.4M35.2 62h0.8M48.8 62h0.8M58.4 62h0.8M61.6 62h1.6M64.8 62h0.8M67.2 62h0.8M68.8 62h0.8M38.4 62.8h0.8M42.4 62.8h0.8M50.4 62.8h0.8M52.8 62.8h0.8M55.2 62.8h0.8M57.6 62.8h0.8M60 62.8h0.8M62.4 62.8h0.8M65.6 62.8h0.8M45.6 63.6h0.8M48.8 63.6h0.8M50.4 63.6h1.6M54.4 63.6h0.8M56 63.6h1.6M69.6 63.6h0.8M48.8 64.4h0.8M52.8 64.4h2.4M64.8 64.4h0.8M24.8 65.2h0.8M28 65.2h0.8M32.8 65.2h0.8M49.6 65.2h0.8M52 65.2h0.8M54.4 65.2h1.6M57.6 65.2h0.8M62.4 65.2h0.8M64 65.2h0.8M66.4 65.2h0.8M36 66h1.6M43.2 66h0.8M45.6 66h0.8M53.6 66h0.8M57.6 66h0.8M67.2 66h0.8M49.6 66.8h0.8M51.2 66.8h0.8M57.6 66.8h0.8M59.2 66.8h0.8M61.6 66.8h0.8M41.6 67.6h0.8M55.2 67.6h1.6M61.6 67.6h0.8M68 67.6h0.8M46.4 68.4h0.8M55.2 68.4h0.8M57.6 68.4h1.6M55.2 69.2h2.4M60 69.2h0.8M8.8 70h0.8M44.8 70h0.8M52.8 70h1.6M62.4 70h0.8M45.6 70.8h0.8M37.6 71.6h0.8M55.2 71.6h0.8M63.2 71.6h0.8"/><path stroke="#3730ae" stroke-width="0.8" stroke-opacity="0.85" d="M26.4 17.2h0.8M26.4 18h0.8M28.8 18h0.8M32 18h0.8M36 18h0.8M30.4 18.8h0.8M32 18.8h0.8M34.4 18.8h0.8M36 18.8h0.8M23.2 19.6h0.8M24.8 19.6h1.6M27.2 19.6h1.6M29.6 19.6h0.8M31.2 19.6h0.8M33.6 19.6h1.6M36.8 19.6h0.8M20.8 20.4h1.6M24 20.4h1.6M26.4 20.4h0.8M28 20.4h0.8M29.6 20.4h0.8M32 20.4h2.4M36 20.4h0.8M18.4 21.2h0.8M20.8 21.2h0.8M22.4 21.2h3.2M27.2 21.2h0.8M28.8 21.2h1.6M32 21.2h0.8M33.6 21.2h1.6M36.8 21.2h0.8M39.2 21.2h0.8M18.4 22h0.8M20 22h0.8M21.6 22h3.2M26.4 22h2.4M33.6 22h0.8M35.2 22h1.6M39.2 22h2.4M17.6 22.8h0.8M20 22.8h2.4M23.2 22.8h0.8M26.4 22.8h0.8M30.4 22.8h0.8M36 22.8h0.8M37.6 22.8h0.8M44.8 22.8h0.8M18.4 23.6h0.8M22.4 23.6h1.6M24.8 23.6h0.8M34.4 23.6h1.6M39.2 23.6h0.8M16 24.4h0.8M23.2 24.4h1.6M25.6 24.4h0.8M38.4 24.4h3.2M42.4 24.4h0.8M44.8 24.4h2.4M16 25.2h1.6M21.6 25.2h2.4M24.8 25.2h0.8M28.8 25.2h0.8M36 25.2h0.8M41.6 25.2h3.2M47.2 25.2h0.8M48.8 25.2h0.8M19.2 26h1.6M44.8 26h0.8M46.4 26h0.8M49.6 26h0.8M19.2 26.8h1.6M23.2 26.8h1.6M40 26.8h0.8M44.8 26.8h0.8M47.2 26.8h0.8M16 27.6h1.6M20 27.6h1.6M40 27.6h0.8M41.6 27.6h0.8M47.2 27.6h1.6M17.6 28.4h1.6M20 28.4h1.6M23.2 28.4h0.8M45.6 28.4h0.8M48.8 28.4h0.8M21.6 29.2h0.8M23.2 29.2h0.8M42.4 29.2h0.8M44 29.2h0.8M45.6 29.2h0.8M48 29.2h0.8M18.4 30h3.2M42.4 30h0.8M44 30h0.8M45.6 30h0.8M48 30h2.4M20.8 30.8h0.8M23.2 30.8h0.8M44 30.8h0.8M48 30.8h2.4M17.6 31.6h0.8M19.2 31.6h0.8M20.8 31.6h0.8M22.4 31.6h0.8M40.8 31.6h0.8M45.6 31.6h0.8M47.2 31.6h1.6M49.6 31.6h1.6M17.6 32.4h4M22.4 32.4h0.8M30.4 32.4h0.8M45.6 32.4h0.8M47.2 32.4h0.8M49.6 32.4h2.4M20 33.2h0.8M21.6 33.2h0.8M23.2 33.2h0.8M47.2 33.2h1.6M50.4 33.2h1.6M17.6 34h0.8M19.2 34h0.8M22.4 34h0.8M44.8 34h0.8M46.4 34h0.8M48.8 34h4M19.2 34.8h0.8M20.8 34.8h3.2M26.4 34.8h1.6M44 34.8h0.8M48.8 34.8h0.8M53.6 34.8h0.8M19.2 35.6h0.8M20.8 35.6h3.2M27.2 35.6h0.8M28.8 35.6h0.8M41.6 35.6h0.8M45.6 35.6h0.8M47.2 35.6h1.6M49.6 35.6h1.6M53.6 35.6h2.4M20 36.4h0.8M24 36.4h1.6M28 36.4h2.4M44 36.4h0.8M47.2 36.4h2.4M51.2 36.4h0.8M56.8 36.4h0.8M59.2 36.4h0.8M20.8 37.2h0.8M23.2 37.2h3.2M27.2 37.2h0.8M45.6 37.2h1.6M48.8 37.2h3.2M54.4 37.2h0.8M56.8 37.2h3.2M60.8 37.2h0.8M21.6 38h0.8M24.8 38h1.6M27.2 38h1.6M31.2 38h0.8M39.2 38h0.8M45.6 38h0.8M49.6 38h1.6M52 38h2.4M56 38h1.6M58.4 38h2.4M61.6 38h0.8M63.2 38h0.8M24.8 38.8h4.8M32.8 38.8h0.8M41.6 38.8h0.8M43.2 38.8h3.2M49.6 38.8h0.8M51.2 38.8h2.4M55.2 38.8h2.4M58.4 38.8h0.8M60.8 38.8h0.8M62.4 38.8h2.4M27.2 39.6h2.4M31.2 39.6h0.8M41.6 39.6h3.2M45.6 39.6h1.6M48.8 39.6h0.8M50.4 39.6h0.8M53.6 39.6h1.6M58.4 39.6h0.8M62.4 39.6h1.6M64.8 39.6h0.8M25.6 40.4h0.8M28 40.4h0.8M30.4 40.4h0.8M37.6 40.4h0.8M39.2 40.4h0.8M41.6 40.4h0.8M43.2 40.4h0.8M48 40.4h0.8M50.4 40.4h2.4M53.6 40.4h0.8M60.8 40.4h0.8M66.4 40.4h0.8M28 41.2h0.8M30.4 41.2h0.8M34.4 41.2h0.8M36 41.2h0.8M40 41.2h0.8M41.6 41.2h3.2M46.4 41.2h1.6M48.8 41.2h1.6M51.2 41.2h3.2M66.4 41.2h0.8M27.2 42h0.8M28.8 42h3.2M32.8 42h0.8M35.2 42h0.8M36.8 42h1.6M40 42h0.8M41.6 42h4M46.4 42h0.8M48.8 42h0.8M51.2 42h1.6M64.8 42h0.8M66.4 42h0.8M30.4 42.8h2.4M36.8 42.8h2.4M40 42.8h1.6M42.4 42.8h1.6M44.8 42.8h0.8M46.4 42.8h0.8M51.2 42.8h0.8M64.8 42.8h0.8M66.4 42.8h0.8M28 43.6h1.6M32.8 43.6h0.8M38.4 43.6h3.2M44 43.6h0.8M45.6 43.6h2.4M67.2 43.6h0.8M32 44.4h0.8M35.2 44.4h0.8M37.6 44.4h1.6M40 44.4h0.8M42.4 44.4h1.6M45.6 44.4h0.8M47.2 44.4h4M65.6 44.4h2.4M32 45.2h0.8M33.6 45.2h2.4M38.4 45.2h0.8M40 45.2h3.2M44 45.2h2.4M47.2 45.2h1.6M68 45.2h0.8M33.6 46h2.4M39.2 46h4M44 46h0.8M45.6 46h0.8M50.4 46h0.8M36.8 46.8h0.8M39.2 46.8h1.6M41.6 46.8h3.2M45.6 46.8h2.4M68 46.8h0.8M32.8 47.6h0.8M35.2 47.6h0.8M38.4 47.6h0.8M40 47.6h1.6M43.2 47.6h1.6M45.6 47.6h3.2M66.4 47.6h0.8M68 47.6h0.8M33.6 48.4h0.8M36 48.4h0.8M37.6 48.4h0.8M39.2 48.4h0.8M44.8 48.4h0.8M47.2 48.4h1.6M67.2 48.4h0.8M38.4 49.2h1.6M40.8 49.2h0.8M44.8 49.2h2.4M49.6 49.2h0.8M36 50h0.8M41.6 50h0.8M44.8 50h0.8M46.4 50h0.8M48 50h0.8M67.2 50h0.8M36 50.8h0.8M37.6 50.8h0.8M41.6 50.8h0.8M44.8 50.8h1.6M48 50.8h0.8M68 50.8h0.8M40.8 51.6h0.8M43.2 51.6h0.8M46.4 51.6h1.6M67.2 51.6h0.8M43.2 52.4h1.6M47.2 52.4h0.8M66.4 52.4h0.8M40 53.2h0.8M46.4 53.2h0.8M48 53.2h1.6M66.4 53.2h0.8M42.4 54h0.8M45.6 54h1.6M48 54h0.8M65.6 54h0.8M46.4 54.8h0.8M48 54.8h1.6M65.6 54.8h1.6M48 55.6h2.4M64.8 55.6h0.8M46.4 56.4h0.8M49.6 56.4h0.8M64 56.4h0.8M49.6 57.2h0.8M64.8 57.2h0.8M48.8 58h4M64.8 58h0.8M49.6 58.8h0.8M62.4 58.8h1.6M48.8 59.6h0.8M52 59.6h1.6M62.4 59.6h0.8M49.6 60.4h3.2M60 60.4h3.2M52.8 61.2h4M57.6 61.2h0.8M59.2 61.2h1.6M62.4 61.2h0.8M52 62h1.6M55.2 62h0.8M56.8 62h0.8M59.2 62h1.6M53.6 62.8h1.6M61.6 62.8h0.8M52 63.6h0.8M55.2 63.6h0.8"/><path stroke="#282ca5" stroke-width="0.8" d="M27.2 20.4h0.8M31.2 20.4h0.8M28 21.2h0.8M30.4 21.2h0.8M35.2 21.2h0.8M25.6 22h0.8M28.8 22h1.6M31.2 22h2.4M34.4 22h0.8M38.4 22h0.8M24 22.8h0.8M25.6 22.8h0.8M27.2 22.8h0.8M31.2 22.8h3.2M36.8 22.8h0.8M38.4 22.8h0.8M21.6 23.6h0.8M25.6 23.6h0.8M27.2 23.6h1.6M29.6 23.6h4.8M36.8 23.6h1.6M22.4 24.4h0.8M26.4 24.4h1.6M30.4 24.4h1.6M32.8 24.4h0.8M35.2 24.4h3.2M24 25.2h0.8M28 25.2h0.8M29.6 25.2h4M34.4 25.2h1.6M23.2 26h0.8M24.8 26h0.8M26.4 26h1.6M29.6 26h1.6M32 26h1.6M36.8 26h1.6M39.2 26h5.6M20.8 26.8h0.8M24.8 26.8h0.8M26.4 26.8h4.8M32 26.8h0.8M35.2 26.8h0.8M36.8 26.8h0.8M38.4 26.8h1.6M41.6 26.8h0.8M43.2 26.8h1.6M21.6 27.6h0.8M23.2 27.6h4.8M30.4 27.6h1.6M33.6 27.6h0.8M36.8 27.6h0.8M40.8 27.6h0.8M42.4 27.6h3.2M24 28.4h0.8M25.6 28.4h1.6M34.4 28.4h1.6M36.8 28.4h0.8M39.2 28.4h4.8M44.8 28.4h0.8M24 29.2h1.6M27.2 29.2h0.8M28.8 29.2h1.6M32 29.2h0.8M39.2 29.2h0.8M40.8 29.2h1.6M22.4 30h4M27.2 30h0.8M28.8 30h0.8M32 30h0.8M33.6 30h0.8M36 30h1.6M38.4 30h0.8M40 30h0.8M41.6 30h0.8M43.2 30h0.8M44.8 30h0.8M46.4 30h0.8M24 30.8h2.4M30.4 30.8h1.6M32.8 30.8h0.8M37.6 30.8h3.2M41.6 30.8h2.4M46.4 30.8h0.8M23.2 31.6h3.2M28 31.6h0.8M29.6 31.6h0.8M32.8 31.6h0.8M34.4 31.6h0.8M36.8 31.6h1.6M39.2 31.6h0.8M41.6 31.6h4M46.4 31.6h0.8M24 32.4h0.8M26.4 32.4h0.8M28 32.4h2.4M31.2 32.4h0.8M33.6 32.4h0.8M37.6 32.4h2.4M41.6 32.4h1.6M44 32.4h0.8M48.8 32.4h0.8M22.4 33.2h0.8M24 33.2h6.4M31.2 33.2h0.8M36 33.2h0.8M39.2 33.2h1.6M42.4 33.2h1.6M44.8 33.2h1.6M24.8 34h1.6M28 34h1.6M31.2 34h1.6M34.4 34h1.6M36.8 34h0.8M38.4 34h1.6M40.8 34h0.8M42.4 34h0.8M47.2 34h1.6M24.8 34.8h1.6M31.2 34.8h0.8M32.8 34.8h0.8M34.4 34.8h0.8M36.8 34.8h1.6M40 34.8h3.2M44.8 34.8h3.2M24 35.6h2.4M29.6 35.6h1.6M32 35.6h0.8M34.4 35.6h0.8M36 35.6h0.8M38.4 35.6h0.8M42.4 35.6h0.8M44.8 35.6h0.8M46.4 35.6h0.8M25.6 36.4h0.8M30.4 36.4h4M38.4 36.4h0.8M40 36.4h0.8M44.8 36.4h1.6M26.4 37.2h0.8M30.4 37.2h3.2M35.2 37.2h0.8M38.4 37.2h0.8M40 37.2h0.8M41.6 37.2h1.6M44.8 37.2h0.8M47.2 37.2h0.8M26.4 38h0.8M32.8 38h6.4M41.6 38h4M46.4 38h1.6M55.2 38h0.8M31.2 38.8h1.6M34.4 38.8h1.6M36.8 38.8h2.4M40.8 38.8h0.8M47.2 38.8h0.8M59.2 38.8h1.6M61.6 38.8h0.8M34.4 39.6h1.6M36.8 39.6h3.2M40.8 39.6h0.8M44.8 39.6h0.8M56 39.6h2.4M60.8 39.6h1.6M34.4 40.4h0.8M36 40.4h0.8M40 40.4h1.6M46.4 40.4h1.6M48.8 40.4h1.6M56 40.4h0.8M58.4 40.4h0.8M64.8 40.4h0.8M37.6 41.2h2.4M50.4 41.2h0.8M54.4 41.2h0.8M56 41.2h0.8M57.6 41.2h0.8M62.4 41.2h0.8M64 41.2h1.6M33.6 42h1.6M39.2 42h0.8M45.6 42h0.8M53.6 42h2.4M62.4 42h0.8M41.6 42.8h0.8M45.6 42.8h0.8M47.2 42.8h0.8M48.8 42.8h0.8M52 42.8h3.2M64 42.8h0.8M65.6 42.8h0.8M51.2 43.6h0.8M52.8 43.6h0.8M64.8 43.6h0.8M41.6 44.4h0.8M49.6 45.2h2.4M48 46h0.8M65.6 46h1.6M37.6 46.8h0.8M48 46.8h0.8M50.4 46.8h0.8M52 46.8h1.6M65.6 46.8h1.6M51.2 47.6h0.8M65.6 47.6h0.8M49.6 48.4h2.4M65.6 48.4h1.6M48.8 49.2h0.8M50.4 49.2h0.8M49.6 50h1.6M65.6 50h1.6M49.6 50.8h0.8M51.2 50.8h0.8M66.4 50.8h0.8M48.8 51.6h1.6M65.6 51.6h0.8M50.4 52.4h0.8M49.6 53.2h1.6M64.8 53.2h0.8M49.6 54h1.6M50.4 54.8h1.6M64 54.8h1.6M62.4 55.6h0.8M64 55.6h0.8M50.4 56.4h1.6M52.8 56.4h0.8M62.4 56.4h1.6M64.8 56.4h0.8M48.8 57.2h0.8M50.4 57.2h2.4M62.4 57.2h1.6M61.6 58h2.4M50.4 58.8h0.8M52 58.8h0.8M54.4 58.8h0.8M60 58.8h0.8M53.6 59.6h0.8M55.2 59.6h1.6M58.4 59.6h0.8M60 59.6h1.6M52.8 60.4h0.8M55.2 60.4h0.8M56.8 60.4h3.2M56.8 61.2h0.8"/><path stroke="#2050a8" stroke-width="0.8" d="M36.8 22h0.8M29.6 22.8h0.8M36 23.6h0.8M38.4 23.6h0.8M32 24.4h0.8M33.6 24.4h1.6M26.4 25.2h1.6M36.8 25.2h0.8M28 26h1.6M31.2 26h0.8M33.6 26h0.8M35.2 26h1.6M25.6 26.8h0.8M31.2 26.8h0.8M32.8 26.8h1.6M36 26.8h0.8M37.6 26.8h0.8M40.8 26.8h0.8M42.4 26.8h0.8M29.6 27.6h0.8M32.8 27.6h0.8M34.4 27.6h2.4M37.6 27.6h2.4M27.2 28.4h2.4M30.4 28.4h1.6M32.8 28.4h0.8M36 28.4h0.8M38.4 28.4h0.8M26.4 29.2h0.8M28 29.2h0.8M30.4 29.2h1.6M33.6 29.2h2.4M36.8 29.2h0.8M38.4 29.2h0.8M28 30h0.8M29.6 30h2.4M32.8 30h0.8M34.4 30h1.6M37.6 30h0.8M40.8 30h0.8M27.2 30.8h3.2M33.6 30.8h2.4M40.8 30.8h0.8M27.2 31.6h0.8M30.4 31.6h2.4M33.6 31.6h0.8M35.2 31.6h1.6M40 31.6h0.8M24.8 32.4h0.8M32 32.4h1.6M34.4 32.4h1.6M40.8 32.4h0.8M32.8 33.2h0.8M35.2 33.2h0.8M37.6 33.2h1.6M40.8 33.2h1.6M27.2 34h0.8M29.6 34h1.6M32.8 34h1.6M36 34h0.8M37.6 34h0.8M40 34h0.8M28 34.8h0.8M30.4 34.8h0.8M32 34.8h0.8M35.2 34.8h1.6M38.4 34.8h0.8M31.2 35.6h0.8M32.8 35.6h1.6M35.2 35.6h0.8M37.6 35.6h0.8M39.2 35.6h0.8M44 35.6h0.8M34.4 36.4h4M42.4 36.4h0.8M29.6 37.2h0.8M36 37.2h0.8M39.2 37.2h0.8M40.8 37.2h0.8M32 38h0.8M40 39.6h0.8M60 39.6h0.8M57.6 40.4h0.8M59.2 40.4h1.6M55.2 41.2h0.8M58.4 41.2h2.4M61.6 41.2h0.8M63.2 41.2h0.8M56.8 42h2.4M60.8 42h0.8M64 42h0.8M56 42.8h0.8M61.6 42.8h0.8M63.2 42.8h0.8M53.6 43.6h1.6M64 43.6h0.8M51.2 44.4h0.8M52.8 44.4h1.6M64 44.4h1.6M52 45.2h1.6M54.4 45.2h0.8M64.8 45.2h1.6M51.2 46h1.6M64 46h1.6M49.6 46.8h0.8M52 47.6h1.6M64.8 48.4h0.8M51.2 49.2h1.6M64.8 49.2h1.6M51.2 50h0.8M64.8 50h0.8M52 50.8h0.8M64.8 50.8h1.6M50.4 51.6h1.6M64.8 51.6h0.8M49.6 52.4h0.8M51.2 52.4h1.6M64 52.4h1.6M51.2 53.2h0.8M52 54h0.8M63.2 54h1.6M52 54.8h0.8M51.2 55.6h1.6M63.2 55.6h0.8M52 56.4h0.8M53.6 57.2h1.6M60.8 57.2h1.6M52.8 58h0.8M52.8 58.8h1.6M56 58.8h4M54.4 59.6h0.8M57.6 59.6h0.8M56 60.4h0.8"/><path stroke="#1b72a4" stroke-width="0.8" d="M33.6 25.2h0.8M34.4 26.8h0.8M29.6 28.4h0.8M32 28.4h0.8M32.8 29.2h0.8M36 29.2h0.8M36 30.8h0.8M30.4 33.2h0.8M36.8 33.2h0.8M33.6 34.8h0.8M60.8 41.2h0.8M56 42h0.8M59.2 42h1.6M61.6 42h0.8M63.2 42h0.8M57.6 42.8h0.8M59.2 42.8h1.6M62.4 42.8h0.8M55.2 43.6h2.4M63.2 43.6h0.8M54.4 44.4h2.4M63.2 44.4h0.8M64 45.2h0.8M64.8 46.8h0.8M64.8 47.6h0.8M52 48.4h0.8M52.8 49.2h0.8M64 50.8h0.8M52 51.6h0.8M52 53.2h0.8M63.2 53.2h0.8M51.2 54h0.8M52.8 54h0.8M62.4 54h0.8M52.8 54.8h0.8M61.6 54.8h2.4M52.8 55.6h1.6M61.6 55.6h0.8M54.4 56.4h0.8M61.6 56.4h0.8M55.2 57.2h0.8M60 57.2h0.8M56 58h1.6M58.4 58h0.8M60 58h0.8"/><path stroke="#198e99" stroke-width="0.8" d="M38.4 31.6h0.8M56.8 42.8h0.8M58.4 42.8h0.8M60.8 42.8h0.8M60.8 43.6h0.8M62.4 43.6h0.8M56.8 44.4h0.8M62.4 44.4h0.8M56 45.2h0.8M53.6 46h1.6M56 46h0.8M63.2 46.8h1.6M53.6 47.6h0.8M64 47.6h0.8M64 48.4h0.8M52.8 50h0.8M63.2 50h0.8M52.8 51.6h0.8M63.2 52.4h0.8M52.8 53.2h0.8M53.6 54.8h0.8M60.8 55.6h0.8M53.6 56.4h0.8M55.2 56.4h1.6M58.4 56.4h3.2M56 57.2h2.4M59.2 57.2h0.8M55.2 58h0.8M59.2 58h0.8"/><path stroke="#1f9e7e" stroke-width="0.8" d="M57.6 43.6h2.4M61.6 43.6h0.8M60.8 44.4h0.8M55.2 45.2h0.8M63.2 45.2h0.8M55.2 46h0.8M62.4 46h1.6M53.6 46.8h0.8M54.4 47.6h0.8M63.2 47.6h0.8M52.8 48.4h0.8M63.2 48.4h0.8M63.2 49.2h1.6M52.8 50.8h1.6M52.8 52.4h0.8M62.4 52.4h0.8M53.6 53.2h0.8M60 54.8h0.8M54.4 55.6h0.8M56.8 56.4h1.6M58.4 57.2h0.8M57.6 58h0.8"/><path stroke="#2aaa5a" stroke-width="0.8" d="M60.8 45.2h0.8M54.4 46.8h0.8M62.4 46.8h0.8M53.6 48.4h0.8M64 50h0.8M63.2 50.8h0.8M63.2 51.6h0.8M53.6 52.4h0.8M62.4 53.2h0.8M53.6 54h0.8M60.8 54h1.6M59.2 54.8h0.8M55.2 55.6h3.2M60 55.6h0.8"/><path stroke="#50b846" stroke-width="0.8" d="M60 43.6h0.8M61.6 44.4h0.8M56.8 45.2h0.8M55.2 46.8h0.8M56.8 46.8h0.8M54.4 48.4h0.8M56 48.4h0.8M53.6 49.2h2.4M53.6 51.6h0.8M54.4 52.4h0.8M61.6 52.4h0.8M58.4 55.6h1.6"/><path stroke="#7bc635" stroke-width="0.8" d="M57.6 44.4h1.6M58.4 45.2h0.8M60 45.2h0.8M61.6 45.2h1.6M55.2 47.6h0.8M62.4 48.4h0.8M53.6 50h1.6M55.2 53.2h1.6M61.6 53.2h0.8M54.4 54h0.8M54.4 54.8h2.4M60.8 54.8h0.8"/><path stroke="#abd32e" stroke-width="0.8" d="M59.2 44.4h1.6M57.6 45.2h0.8M59.2 45.2h0.8M56.8 46h0.8M56 46.8h0.8M62.4 49.2h0.8M61.6 50h1.6M54.4 50.8h0.8M61.6 50.8h0.8M54.4 51.6h0.8M62.4 51.6h0.8M60.8 53.2h0.8M56.8 54.8h0.8"/><path stroke="#dce029" stroke-width="0.8" d="M57.6 46.8h0.8M56.8 47.6h0.8M55.2 48.4h0.8M61.6 48.4h0.8M62.4 50.8h0.8M54.4 53.2h0.8M57.6 54.8h1.6"/><path stroke="#ebcc24" stroke-width="0.8" d="M57.6 46h0.8M59.2 46.8h0.8M61.6 46.8h0.8M61.6 47.6h1.6M60.8 51.6h1.6M58.4 53.2h0.8M55.2 54h0.8M57.6 54h1.6M60 54h0.8"/><path stroke="#f4b01f" stroke-width="0.8" d="M58.4 46h0.8M60 46h1.6M56 49.2h0.8M58.4 49.2h0.8M60.8 49.2h1.6M55.2 50.8h1.6M60.8 50.8h0.8M55.2 52.4h0.8M56.8 52.4h0.8M58.4 52.4h0.8M60.8 52.4h0.8M57.6 53.2h0.8M60 53.2h0.8"/><path stroke="#f38a1c" stroke-width="0.8" d="M59.2 46h0.8M61.6 46h0.8M58.4 46.8h0.8M60 46.8h0.8M56 47.6h0.8M57.6 47.6h0.8M59.2 47.6h0.8M60 48.4h0.8M60 50h0.8M55.2 51.6h0.8M56 52.4h0.8M57.6 52.4h0.8M60 52.4h0.8M56.8 53.2h0.8M56 54h1.6M59.2 54h0.8"/><path stroke="#ee601a" stroke-width="0.8" d="M60.8 46.8h0.8M60 47.6h1.6M56.8 48.4h0.8M56.8 49.2h0.8M58.4 50.8h0.8M58.4 51.6h1.6M59.2 53.2h0.8"/><path stroke="#e53e19" stroke-width="0.8" d="M58.4 47.6h0.8M57.6 48.4h2.4M60.8 48.4h0.8M57.6 49.2h0.8M59.2 49.2h1.6M55.2 50h4.8M60.8 50h0.8M56.8 50.8h1.6M59.2 50.8h1.6M56 51.6h2.4M60 51.6h0.8M59.2 52.4h0.8"/></g>
<rect x="200.6" y="54.2" width="72.2" height="72" fill="none" stroke="#b4b4b4" stroke-width=".8"/>
<path d="M207.1 126.2v2.2M219.6 126.2v2.2M231.1 126.2v2.2M249.6 126.2v2.2M267.1 126.2v2.2" stroke="#000" stroke-width="1.1" fill="none"/>
<path d="M236.67 126.2v1.2M239.93 126.2v1.2M242.24 126.2v1.2M244.03 126.2v1.2M245.5 126.2v1.2M246.73 126.2v1.2M247.81 126.2v1.2M248.75 126.2v1.2M254.87 126.2v1.2M257.95 126.2v1.2M260.14 126.2v1.2M261.83 126.2v1.2M263.22 126.2v1.2M264.39 126.2v1.2M265.4 126.2v1.2M266.3 126.2v1.2M210.1 126.2v1.2M212.6 126.2v1.2M214.6 126.2v1.2M216.1 126.2v1.2M217.1 126.2v1.2M218.1 126.2v1.2M218.8 126.2v1.2M220.4 126.2v1.2M221.1 126.2v1.2M222.1 126.2v1.2M223.1 126.2v1.2M224.6 126.2v1.2M226.6 126.2v1.2M228.6 126.2v1.2" stroke="#000" stroke-width=".8" fill="none"/>
<path d="M200.6 60.7h-1.9M200.6 77.7h-1.9M200.6 94.2h-1.9M200.6 116.2h-1.9" stroke="#222" stroke-width=".8" fill="none"/>
<path d="M200.6 89.23h-1.1M200.6 86.33h-1.1M200.6 84.27h-1.1M200.6 82.67h-1.1M200.6 81.36h-1.1M200.6 80.26h-1.1M200.6 79.3h-1.1M200.6 78.45h-1.1M200.6 72.58h-1.1M200.6 69.59h-1.1M200.6 67.46h-1.1M200.6 65.82h-1.1M200.6 64.47h-1.1M200.6 63.33h-1.1M200.6 62.35h-1.1M200.6 61.48h-1.1M200.6 98.2h-1.1M200.6 102.2h-1.1M200.6 106.2h-1.1M200.6 109.2h-1.1M200.6 111.7h-1.1M200.6 113.7h-1.1M200.6 115.2h-1.1M200.6 117.2h-1.1M200.6 118.7h-1.1M200.6 120.7h-1.1M200.6 123.2h-1.1" stroke="#444" stroke-width=".5" fill="none"/>
<rect x="217" y="126.4" width="2.6" height="1.5" fill="#111"/>
<rect x="198.9" y="114.7" width="1.5" height="2.6" fill="#111"/>
<path d="M213.4 78.5L215.7 71.5L226.8 68.2L242.2 66.9L255.2 69.2L257.5 74.6L257.2 85.4L251.4 93.1L240.6 98L229.8 98L219.1 94.6L215.2 86.9z" fill="none" stroke="#5a52b0" stroke-width=".9" stroke-linejoin="round"/>
<text transform="translate(209.3 63.8) scale(0.97 1)" font-size="9.1" font-weight="bold">25.6 %</text>
<text transform="translate(205.8 139) scale(0.85 1)" font-size="8.5" text-anchor="middle">-10<tspan font-size="5.27" dy="-2.6">3</tspan></text>
<text transform="translate(219.3 139) scale(0.85 1)" font-size="8.5" text-anchor="middle">0</text>
<text transform="translate(230.4 139) scale(0.85 1)" font-size="8.5" text-anchor="middle">10<tspan font-size="5.27" dy="-2.6">3</tspan></text>
<text transform="translate(249.1 139) scale(0.85 1)" font-size="8.5" text-anchor="middle">10<tspan font-size="5.27" dy="-2.6">4</tspan></text>
<text transform="translate(265.3 139) scale(0.85 1)" font-size="8.5" text-anchor="middle">10<tspan font-size="5.27" dy="-2.6">5</tspan></text>
<g transform="translate(272.8 54.2)" fill="none" filter="url(#soft)"><path stroke="#5649c0" stroke-width="0.8" stroke-opacity="0.62" d="M16.8 2h0.8M32 6.8h0.8M29.6 8.4h0.8M28.8 10h1.6M14.4 10.8h0.8M18.4 10.8h0.8M21.6 10.8h0.8M30.4 10.8h1.6M8.8 11.6h0.8M18.4 11.6h0.8M21.6 11.6h0.8M23.2 11.6h0.8M29.6 11.6h0.8M37.6 11.6h0.8M24 12.4h0.8M25.6 12.4h0.8M36.8 12.4h0.8M4.8 13.2h1.6M30.4 13.2h0.8M36 13.2h0.8M45.6 13.2h0.8M19.2 14h0.8M20.8 14h1.6M24 14h0.8M27.2 14h1.6M40 14h0.8M17.6 14.8h0.8M26.4 14.8h0.8M28 14.8h2.4M31.2 14.8h0.8M33.6 14.8h0.8M36.8 14.8h0.8M42.4 14.8h0.8M12.8 15.6h0.8M16.8 15.6h0.8M19.2 15.6h0.8M24.8 15.6h0.8M26.4 15.6h0.8M29.6 15.6h1.6M32.8 15.6h0.8M35.2 15.6h0.8M37.6 15.6h0.8M40.8 15.6h0.8M42.4 15.6h0.8M0.8 16.4h0.8M9.6 16.4h0.8M20 16.4h0.8M21.6 16.4h0.8M23.2 16.4h3.2M27.2 16.4h0.8M33.6 16.4h0.8M37.6 16.4h0.8M43.2 16.4h0.8M45.6 16.4h0.8M48 16.4h0.8M14.4 17.2h0.8M17.6 17.2h0.8M19.2 17.2h1.6M32 17.2h0.8M33.6 17.2h1.6M38.4 17.2h0.8M40 17.2h0.8M47.2 17.2h0.8M1.6 18h0.8M16.8 18h0.8M18.4 18h0.8M20.8 18h0.8M37.6 18h1.6M40 18h0.8M4 18.8h0.8M13.6 18.8h1.6M16 18.8h1.6M38.4 18.8h0.8M42.4 18.8h2.4M46.4 18.8h0.8M10.4 19.6h0.8M16 19.6h0.8M42.4 19.6h1.6M44.8 19.6h0.8M47.2 19.6h0.8M9.6 20.4h1.6M16.8 20.4h0.8M44.8 20.4h0.8M50.4 20.4h0.8M52.8 20.4h1.6M0.8 21.2h0.8M12 21.2h0.8M48.8 21.2h0.8M54.4 21.2h0.8M9.6 22h1.6M12 22h2.4M52 22h1.6M0.8 22.8h0.8M5.6 22.8h1.6M10.4 22.8h0.8M12.8 22.8h0.8M47.2 22.8h0.8M48.8 22.8h0.8M51.2 22.8h0.8M54.4 22.8h1.6M60 22.8h0.8M7.2 23.6h0.8M10.4 23.6h0.8M49.6 23.6h0.8M52 23.6h0.8M54.4 23.6h0.8M67.2 23.6h0.8M9.6 24.4h4.8M50.4 24.4h0.8M52.8 24.4h0.8M4 25.2h0.8M8 25.2h0.8M9.6 25.2h0.8M53.6 25.2h1.6M57.6 25.2h0.8M59.2 25.2h0.8M10.4 26h0.8M12 26h0.8M53.6 26h1.6M56.8 26h0.8M7.2 26.8h0.8M9.6 26.8h0.8M12.8 26.8h0.8M52.8 26.8h0.8M54.4 26.8h1.6M56.8 26.8h0.8M60 26.8h0.8M68.8 26.8h0.8M8 27.6h0.8M10.4 27.6h1.6M12.8 27.6h0.8M54.4 27.6h1.6M62.4 27.6h0.8M0.8 28.4h0.8M7.2 28.4h0.8M53.6 28.4h1.6M57.6 28.4h0.8M63.2 28.4h0.8M67.2 28.4h0.8M9.6 29.2h0.8M12 29.2h0.8M16 29.2h0.8M56 29.2h2.4M59.2 29.2h0.8M54.4 30h0.8M57.6 30h0.8M68 30h0.8M60 30.8h0.8M13.6 31.6h0.8M60 31.6h0.8M68 31.6h0.8M12.8 32.4h0.8M15.2 32.4h0.8M57.6 32.4h1.6M60 32.4h0.8M64 32.4h0.8M0 33.2h0.8M1.6 33.2h0.8M15.2 33.2h0.8M56.8 33.2h1.6M59.2 33.2h0.8M61.6 33.2h1.6M9.6 34h0.8M13.6 34h2.4M56 34h0.8M60 34h1.6M62.4 34h1.6M11.2 34.8h0.8M14.4 34.8h0.8M16.8 34.8h0.8M63.2 34.8h1.6M65.6 34.8h0.8M68.8 34.8h0.8M10.4 35.6h0.8M64 35.6h0.8M67.2 35.6h0.8M12 36.4h0.8M13.6 36.4h0.8M62.4 36.4h1.6M64.8 36.4h0.8M13.6 37.2h0.8M15.2 37.2h0.8M16.8 37.2h0.8M64.8 37.2h0.8M68.8 37.2h0.8M12.8 38h0.8M16 38h0.8M18.4 38h1.6M66.4 38h1.6M12.8 38.8h0.8M15.2 38.8h1.6M17.6 38.8h0.8M20.8 38.8h0.8M67.2 38.8h0.8M17.6 39.6h2.4M22.4 39.6h1.6M66.4 39.6h0.8M68 39.6h0.8M70.4 39.6h0.8M7.2 40.4h0.8M9.6 40.4h0.8M20 40.4h1.6M70.4 40.4h0.8M17.6 41.2h0.8M19.2 41.2h1.6M21.6 41.2h0.8M68.8 41.2h0.8M16 42h0.8M20.8 42h1.6M67.2 42h0.8M8.8 42.8h0.8M10.4 42.8h0.8M12 42.8h0.8M14.4 42.8h0.8M18.4 42.8h0.8M23.2 42.8h0.8M16 43.6h1.6M24.8 43.6h0.8M68.8 43.6h2.4M2.4 44.4h0.8M20.8 44.4h0.8M24 44.4h0.8M3.2 45.2h0.8M17.6 45.2h0.8M19.2 45.2h0.8M24 45.2h0.8M25.6 45.2h0.8M30.4 45.2h0.8M12.8 46h0.8M17.6 46h0.8M21.6 46h0.8M24.8 46h2.4M7.2 46.8h0.8M16.8 46.8h0.8M24 46.8h1.6M26.4 46.8h0.8M28 46.8h0.8M30.4 46.8h0.8M33.6 46.8h0.8M23.2 47.6h0.8M26.4 47.6h0.8M28 47.6h0.8M19.2 48.4h1.6M27.2 48.4h2.4M31.2 48.4h0.8M70.4 48.4h0.8M26.4 49.2h1.6M36.8 49.2h1.6M70.4 49.2h0.8M21.6 50h0.8M27.2 50h0.8M28.8 50h0.8M30.4 50h1.6M35.2 50h0.8M69.6 50h1.6M30.4 50.8h0.8M16 51.6h0.8M20.8 51.6h0.8M32 51.6h0.8M37.6 51.6h1.6M16.8 52.4h0.8M22.4 52.4h0.8M28 52.4h0.8M29.6 52.4h0.8M31.2 52.4h0.8M35.2 52.4h0.8M39.2 52.4h0.8M69.6 52.4h0.8M18.4 53.2h0.8M20 53.2h0.8M27.2 53.2h0.8M30.4 53.2h0.8M32 53.2h1.6M36 53.2h1.6M70.4 53.2h0.8M26.4 54h0.8M29.6 54h0.8M31.2 54h0.8M33.6 54h0.8M69.6 54h0.8M27.2 54.8h0.8M28.8 54.8h0.8M30.4 54.8h0.8M35.2 54.8h0.8M40.8 54.8h0.8M68.8 54.8h0.8M70.4 54.8h0.8M20 55.6h0.8M36 55.6h0.8M37.6 55.6h0.8M40 55.6h0.8M68.8 55.6h1.6M16 56.4h0.8M20.8 56.4h0.8M28 56.4h0.8M30.4 56.4h0.8M36 56.4h0.8M37.6 56.4h0.8M40 56.4h2.4M44 56.4h0.8M69.6 56.4h1.6M25.6 57.2h0.8M32 57.2h0.8M34.4 57.2h0.8M37.6 57.2h0.8M40 57.2h4M67.2 57.2h0.8M23.2 58h0.8M24.8 58h0.8M31.2 58h0.8M36 58h0.8M41.6 58h0.8M44.8 58h0.8M69.6 58h0.8M9.6 58.8h0.8M30.4 58.8h0.8M37.6 58.8h0.8M41.6 58.8h1.6M44 58.8h1.6M66.4 58.8h1.6M69.6 58.8h0.8M35.2 59.6h0.8M36.8 59.6h2.4M18.4 60.4h0.8M34.4 60.4h0.8M36.8 60.4h0.8M44 60.4h1.6M64.8 60.4h0.8M66.4 60.4h1.6M68.8 60.4h1.6M27.2 61.2h0.8M40 61.2h0.8M41.6 61.2h1.6M44.8 61.2h0.8M64.8 61.2h0.8M66.4 61.2h0.8M68 61.2h0.8M36.8 62h0.8M40 62h0.8M43.2 62h1.6M48 62h0.8M65.6 62h1.6M28.8 62.8h0.8M37.6 62.8h0.8M40 62.8h0.8M41.6 62.8h0.8M43.2 62.8h0.8M46.4 62.8h2.4M60.8 62.8h0.8M64 62.8h1.6M41.6 63.6h0.8M46.4 63.6h0.8M48 63.6h0.8M49.6 63.6h0.8M59.2 63.6h0.8M62.4 63.6h0.8M64.8 63.6h0.8M70.4 63.6h0.8M23.2 64.4h0.8M36 64.4h1.6M43.2 64.4h1.6M48 64.4h1.6M50.4 64.4h2.4M54.4 64.4h0.8M56 64.4h0.8M57.6 64.4h0.8M60 64.4h0.8M65.6 64.4h0.8M68.8 64.4h0.8M41.6 65.2h0.8M54.4 65.2h0.8M56.8 65.2h0.8M58.4 65.2h0.8M60 65.2h0.8M64 65.2h1.6M70.4 65.2h0.8M36 66h0.8M40 66h0.8M45.6 66h0.8M47.2 66h0.8M50.4 66h0.8M52 66h0.8M56 66h0.8M59.2 66h0.8M60.8 66h0.8M62.4 66h0.8M64 66h0.8M37.6 66.8h0.8M48 66.8h0.8M50.4 66.8h0.8M52 66.8h0.8M55.2 66.8h0.8M58.4 66.8h1.6M64.8 66.8h0.8M32 67.6h0.8M46.4 67.6h0.8M48 67.6h0.8M49.6 67.6h0.8M51.2 67.6h2.4M60 67.6h1.6M62.4 67.6h1.6M44 68.4h0.8M49.6 68.4h0.8M53.6 68.4h0.8M56.8 68.4h0.8M60 68.4h0.8M69.6 68.4h1.6M32.8 69.2h0.8M40.8 69.2h0.8M53.6 69.2h0.8M55.2 69.2h0.8M58.4 69.2h0.8M45.6 70h0.8M47.2 70h0.8M28 70.8h0.8M43.2 70.8h0.8M52 70.8h0.8M62.4 70.8h0.8M67.2 70.8h0.8M48 71.6h0.8M59.2 71.6h0.8M64.8 71.6h0.8"/><path stroke="#3730ae" stroke-width="0.8" stroke-opacity="0.85" d="M29.6 16.4h1.6M20.8 17.2h0.8M22.4 17.2h0.8M25.6 17.2h0.8M31.2 17.2h0.8M19.2 18h0.8M21.6 18h0.8M23.2 18h2.4M29.6 18h0.8M31.2 18h0.8M32.8 18h0.8M34.4 18h0.8M19.2 18.8h1.6M21.6 18.8h2.4M26.4 18.8h1.6M28.8 18.8h2.4M32 18.8h4.8M19.2 19.6h4M25.6 19.6h0.8M31.2 19.6h1.6M36.8 19.6h0.8M38.4 19.6h0.8M40.8 19.6h0.8M17.6 20.4h3.2M23.2 20.4h0.8M28 20.4h0.8M30.4 20.4h0.8M36 20.4h1.6M42.4 20.4h0.8M19.2 21.2h0.8M20.8 21.2h0.8M22.4 21.2h0.8M40 21.2h0.8M43.2 21.2h0.8M15.2 22h1.6M19.2 22h0.8M37.6 22h0.8M41.6 22h4M46.4 22h0.8M15.2 22.8h4M20.8 22.8h1.6M43.2 22.8h2.4M48 22.8h0.8M16 23.6h1.6M45.6 23.6h1.6M18.4 24.4h0.8M44 24.4h3.2M48 24.4h1.6M12 25.2h0.8M14.4 25.2h0.8M16 25.2h1.6M44 25.2h0.8M45.6 25.2h1.6M48 25.2h1.6M51.2 25.2h0.8M15.2 26h1.6M17.6 26h1.6M50.4 26h0.8M13.6 26.8h2.4M48 26.8h0.8M51.2 26.8h1.6M13.6 27.6h2.4M16.8 27.6h0.8M49.6 27.6h0.8M51.2 27.6h2.4M13.6 28.4h0.8M15.2 28.4h0.8M16.8 28.4h0.8M49.6 28.4h1.6M13.6 29.2h2.4M51.2 29.2h1.6M14.4 30h2.4M49.6 30h1.6M52 30h1.6M56 30h0.8M14.4 30.8h1.6M18.4 30.8h0.8M52 30.8h2.4M14.4 31.6h2.4M17.6 31.6h0.8M52 31.6h2.4M16 32.4h1.6M19.2 32.4h0.8M52.8 32.4h0.8M56 32.4h0.8M17.6 33.2h1.6M20 33.2h0.8M53.6 33.2h1.6M16.8 34h0.8M18.4 34h1.6M20.8 34h0.8M54.4 34h0.8M57.6 34h2.4M18.4 34.8h0.8M20 34.8h0.8M21.6 34.8h0.8M51.2 34.8h0.8M52.8 34.8h3.2M58.4 34.8h1.6M23.2 35.6h0.8M53.6 35.6h0.8M55.2 35.6h1.6M58.4 35.6h1.6M60.8 35.6h0.8M18.4 36.4h0.8M20.8 36.4h1.6M53.6 36.4h0.8M56 36.4h0.8M57.6 36.4h0.8M59.2 36.4h1.6M22.4 37.2h0.8M50.4 37.2h2.4M54.4 37.2h1.6M56.8 37.2h1.6M60.8 37.2h1.6M63.2 37.2h0.8M20.8 38h1.6M23.2 38h0.8M24.8 38h1.6M52 38h0.8M56.8 38h0.8M60 38h2.4M64.8 38h0.8M21.6 38.8h0.8M23.2 38.8h1.6M26.4 38.8h1.6M60 38.8h0.8M61.6 38.8h0.8M21.6 39.6h0.8M28.8 39.6h0.8M64 39.6h0.8M65.6 39.6h0.8M67.2 39.6h0.8M21.6 40.4h2.4M25.6 40.4h0.8M27.2 40.4h0.8M31.2 40.4h0.8M60 40.4h0.8M64.8 40.4h1.6M23.2 41.2h2.4M27.2 41.2h1.6M32.8 41.2h0.8M39.2 41.2h0.8M51.2 41.2h0.8M64.8 41.2h0.8M66.4 41.2h0.8M24 42h0.8M25.6 42h0.8M27.2 42h0.8M28.8 42h0.8M30.4 42h0.8M32.8 42h1.6M44 42h0.8M52.8 42h0.8M65.6 42h0.8M68 42h0.8M24.8 42.8h0.8M28.8 42.8h1.6M32 42.8h0.8M39.2 42.8h0.8M67.2 42.8h2.4M28 43.6h0.8M29.6 43.6h0.8M31.2 43.6h0.8M33.6 43.6h1.6M36 43.6h0.8M68 43.6h0.8M26.4 44.4h0.8M28.8 44.4h0.8M31.2 44.4h2.4M36.8 44.4h0.8M41.6 44.4h0.8M44.8 44.4h0.8M46.4 44.4h0.8M67.2 44.4h1.6M26.4 45.2h1.6M29.6 45.2h0.8M31.2 45.2h1.6M33.6 45.2h2.4M36.8 45.2h0.8M39.2 45.2h0.8M40.8 45.2h0.8M44 45.2h0.8M46.4 45.2h0.8M67.2 45.2h0.8M68.8 45.2h0.8M27.2 46h0.8M31.2 46h2.4M34.4 46h1.6M37.6 46h0.8M39.2 46h0.8M44 46h0.8M47.2 46h0.8M67.2 46h1.6M70.4 46h0.8M29.6 46.8h0.8M31.2 46.8h0.8M32.8 46.8h0.8M34.4 46.8h0.8M36 46.8h0.8M37.6 46.8h0.8M46.4 46.8h0.8M67.2 46.8h0.8M68.8 46.8h0.8M30.4 47.6h0.8M32 47.6h1.6M36 47.6h1.6M38.4 47.6h0.8M40 47.6h4.8M68 47.6h2.4M29.6 48.4h1.6M32 48.4h1.6M34.4 48.4h1.6M37.6 48.4h0.8M39.2 48.4h0.8M42.4 48.4h0.8M44 48.4h0.8M45.6 48.4h0.8M68.8 48.4h0.8M30.4 49.2h1.6M36 49.2h0.8M39.2 49.2h0.8M40.8 49.2h1.6M44 49.2h0.8M48 49.2h0.8M68.8 49.2h0.8M34.4 50h0.8M37.6 50h3.2M41.6 50h2.4M44.8 50h1.6M37.6 50.8h0.8M39.2 50.8h1.6M44 50.8h0.8M45.6 50.8h1.6M68 50.8h0.8M36 51.6h0.8M40 51.6h0.8M41.6 51.6h1.6M44 51.6h0.8M45.6 51.6h0.8M68 51.6h1.6M40 52.4h0.8M41.6 52.4h2.4M68 52.4h0.8M34.4 53.2h0.8M39.2 53.2h1.6M41.6 53.2h3.2M46.4 53.2h1.6M67.2 53.2h1.6M40 54h0.8M42.4 54h0.8M44.8 54h2.4M67.2 54h0.8M39.2 54.8h0.8M42.4 54.8h0.8M44 54.8h1.6M46.4 54.8h0.8M48.8 54.8h0.8M39.2 55.6h0.8M44.8 55.6h2.4M66.4 55.6h0.8M68 55.6h0.8M43.2 56.4h0.8M44.8 56.4h1.6M47.2 56.4h0.8M66.4 56.4h1.6M44 57.2h4M50.4 57.2h0.8M65.6 57.2h1.6M45.6 58h0.8M47.2 58h0.8M64.8 58h1.6M67.2 58h0.8M45.6 58.8h4M64 58.8h0.8M47.2 59.6h2.4M63.2 59.6h0.8M64.8 59.6h1.6M46.4 60.4h0.8M48.8 60.4h2.4M62.4 60.4h0.8M47.2 61.2h2.4M51.2 61.2h2.4M54.4 61.2h1.6M60 61.2h1.6M62.4 61.2h1.6M49.6 62h0.8M52.8 62h0.8M56 62h0.8M60.8 62h0.8M64.8 62h0.8M52 62.8h2.4M57.6 62.8h3.2M61.6 62.8h0.8M63.2 62.8h0.8M55.2 63.6h1.6M57.6 63.6h0.8M60 63.6h0.8M55.2 64.4h0.8M56.8 64.4h0.8M52.8 65.2h0.8M56 65.2h0.8M57.6 65.2h0.8"/><path stroke="#282ca5" stroke-width="0.8" d="M25.6 18h0.8M24.8 18.8h0.8M28 18.8h0.8M31.2 18.8h0.8M23.2 19.6h0.8M24.8 19.6h0.8M28.8 19.6h2.4M32.8 19.6h0.8M37.6 19.6h0.8M21.6 20.4h1.6M24 20.4h4M28.8 20.4h0.8M31.2 20.4h1.6M34.4 20.4h1.6M37.6 20.4h0.8M21.6 21.2h0.8M23.2 21.2h0.8M24.8 21.2h0.8M26.4 21.2h0.8M28 21.2h0.8M29.6 21.2h2.4M33.6 21.2h0.8M36.8 21.2h2.4M18.4 22h0.8M20 22h3.2M24 22h3.2M28.8 22h3.2M36 22h1.6M38.4 22h0.8M40 22h1.6M19.2 22.8h1.6M22.4 22.8h1.6M30.4 22.8h0.8M34.4 22.8h0.8M36 22.8h1.6M38.4 22.8h2.4M41.6 22.8h1.6M18.4 23.6h0.8M20 23.6h1.6M22.4 23.6h0.8M24 23.6h0.8M27.2 23.6h0.8M36.8 23.6h0.8M38.4 23.6h0.8M41.6 23.6h0.8M43.2 23.6h0.8M44.8 23.6h0.8M19.2 24.4h1.6M22.4 24.4h0.8M40.8 24.4h0.8M42.4 24.4h1.6M17.6 25.2h0.8M22.4 25.2h0.8M40 25.2h1.6M47.2 25.2h0.8M19.2 26h0.8M20.8 26h1.6M40.8 26h0.8M44 26h1.6M16.8 26.8h0.8M18.4 26.8h1.6M20.8 26.8h0.8M43.2 26.8h0.8M45.6 26.8h2.4M20 27.6h3.2M44.8 27.6h1.6M47.2 27.6h1.6M17.6 28.4h2.4M20.8 28.4h2.4M43.2 28.4h0.8M44.8 28.4h0.8M47.2 28.4h2.4M17.6 29.2h3.2M21.6 29.2h0.8M48 29.2h1.6M50.4 29.2h0.8M16.8 30h0.8M18.4 30h0.8M44.8 30h0.8M47.2 30h2.4M51.2 30h0.8M17.6 30.8h0.8M19.2 30.8h2.4M22.4 30.8h1.6M48 30.8h2.4M18.4 31.6h0.8M20 31.6h3.2M24 31.6h0.8M44.8 31.6h0.8M48 31.6h0.8M49.6 31.6h0.8M18.4 32.4h0.8M20.8 32.4h1.6M27.2 32.4h0.8M48.8 32.4h0.8M50.4 32.4h0.8M20.8 33.2h1.6M25.6 33.2h0.8M48 33.2h0.8M49.6 33.2h0.8M21.6 34h2.4M25.6 34h0.8M48 34h0.8M49.6 34h0.8M20.8 34.8h0.8M24.8 34.8h0.8M48 34.8h2.4M52 34.8h0.8M22.4 35.6h0.8M47.2 35.6h6.4M24.8 36.4h2.4M29.6 36.4h1.6M49.6 36.4h1.6M52.8 36.4h0.8M24 37.2h0.8M25.6 37.2h3.2M31.2 37.2h0.8M45.6 37.2h1.6M48.8 37.2h1.6M53.6 37.2h0.8M56 37.2h0.8M26.4 38h0.8M28 38h1.6M30.4 38h0.8M36 38h0.8M44.8 38h0.8M46.4 38h1.6M50.4 38h1.6M52.8 38h0.8M55.2 38h0.8M57.6 38h1.6M62.4 38h0.8M28 38.8h2.4M32.8 38.8h1.6M48 38.8h0.8M52 38.8h0.8M56 38.8h0.8M57.6 38.8h0.8M63.2 38.8h0.8M26.4 39.6h1.6M29.6 39.6h1.6M32 39.6h0.8M33.6 39.6h1.6M36.8 39.6h0.8M39.2 39.6h2.4M44.8 39.6h8M53.6 39.6h0.8M55.2 39.6h0.8M56.8 39.6h3.2M60.8 39.6h0.8M62.4 39.6h1.6M28 40.4h3.2M32 40.4h1.6M35.2 40.4h1.6M43.2 40.4h0.8M45.6 40.4h0.8M47.2 40.4h4.8M53.6 40.4h0.8M56 40.4h0.8M58.4 40.4h1.6M60.8 40.4h0.8M64 40.4h0.8M28.8 41.2h2.4M32 41.2h0.8M33.6 41.2h5.6M40.8 41.2h0.8M42.4 41.2h1.6M44.8 41.2h4M49.6 41.2h0.8M52 41.2h0.8M53.6 41.2h0.8M56 41.2h0.8M58.4 41.2h2.4M61.6 41.2h3.2M31.2 42h0.8M34.4 42h5.6M40.8 42h0.8M42.4 42h1.6M48 42h0.8M49.6 42h1.6M58.4 42h0.8M64.8 42h0.8M66.4 42h0.8M31.2 42.8h0.8M34.4 42.8h0.8M36 42.8h0.8M37.6 42.8h1.6M40.8 42.8h1.6M43.2 42.8h0.8M44.8 42.8h4.8M50.4 42.8h0.8M52 42.8h0.8M64.8 42.8h2.4M32.8 43.6h0.8M35.2 43.6h0.8M37.6 43.6h4.8M43.2 43.6h0.8M46.4 43.6h2.4M49.6 43.6h0.8M64.8 43.6h0.8M66.4 43.6h0.8M34.4 44.4h2.4M37.6 44.4h1.6M40 44.4h1.6M43.2 44.4h1.6M45.6 44.4h0.8M47.2 44.4h0.8M48.8 44.4h2.4M65.6 44.4h0.8M32.8 45.2h0.8M38.4 45.2h0.8M40 45.2h0.8M42.4 45.2h1.6M44.8 45.2h1.6M47.2 45.2h1.6M50.4 45.2h1.6M66.4 45.2h0.8M68 45.2h0.8M36 46h0.8M43.2 46h0.8M44.8 46h2.4M48 46h0.8M38.4 46.8h0.8M40 46.8h1.6M42.4 46.8h0.8M44 46.8h2.4M47.2 46.8h2.4M50.4 46.8h0.8M35.2 47.6h0.8M39.2 47.6h0.8M44.8 47.6h2.4M48 47.6h0.8M67.2 47.6h0.8M41.6 48.4h0.8M46.4 48.4h4M67.2 48.4h0.8M40 49.2h0.8M43.2 49.2h0.8M48.8 49.2h0.8M44 50h0.8M47.2 50h2.4M42.4 50.8h0.8M44.8 50.8h0.8M47.2 50.8h1.6M67.2 50.8h0.8M39.2 51.6h0.8M46.4 51.6h0.8M67.2 51.6h0.8M44.8 52.4h1.6M47.2 52.4h1.6M66.4 52.4h0.8M45.6 53.2h0.8M48 53.2h1.6M66.4 53.2h0.8M49.6 54h0.8M65.6 54h1.6M48 54.8h0.8M49.6 54.8h0.8M47.2 55.6h0.8M48.8 55.6h0.8M48 56.4h3.2M65.6 56.4h0.8M51.2 57.2h0.8M64 57.2h1.6M48.8 58h3.2M63.2 58h0.8M51.2 58.8h0.8M52.8 58.8h0.8M52 59.6h1.6M54.4 59.6h0.8M60 59.6h1.6M62.4 59.6h0.8M51.2 60.4h3.2M55.2 60.4h0.8M56.8 60.4h0.8M60.8 60.4h1.6M53.6 61.2h0.8M56 61.2h1.6M58.4 61.2h0.8M54.4 62h1.6M57.6 62h2.4M55.2 62.8h0.8M56.8 62.8h0.8"/><path stroke="#2050a8" stroke-width="0.8" d="M27.2 21.2h0.8M28.8 21.2h0.8M32 21.2h0.8M34.4 21.2h0.8M27.2 22h1.6M33.6 22h2.4M39.2 22h0.8M24 22.8h0.8M25.6 22.8h1.6M29.6 22.8h0.8M31.2 22.8h1.6M33.6 22.8h0.8M35.2 22.8h0.8M37.6 22.8h0.8M23.2 23.6h0.8M24.8 23.6h2.4M28 23.6h0.8M30.4 23.6h2.4M37.6 23.6h0.8M39.2 23.6h0.8M40.8 23.6h0.8M21.6 24.4h0.8M23.2 24.4h2.4M27.2 24.4h0.8M31.2 24.4h0.8M33.6 24.4h1.6M37.6 24.4h0.8M39.2 24.4h1.6M19.2 25.2h3.2M24 25.2h1.6M27.2 25.2h0.8M33.6 25.2h0.8M35.2 25.2h1.6M41.6 25.2h0.8M43.2 25.2h0.8M20 26h0.8M22.4 26h1.6M33.6 26h0.8M36.8 26h0.8M38.4 26h0.8M42.4 26h0.8M46.4 26h0.8M20 26.8h0.8M28 26.8h0.8M41.6 26.8h0.8M17.6 27.6h0.8M35.2 27.6h0.8M39.2 27.6h0.8M42.4 27.6h2.4M20 28.4h0.8M24.8 28.4h1.6M40.8 28.4h1.6M44 28.4h0.8M46.4 28.4h0.8M22.4 29.2h4.8M36 29.2h0.8M38.4 29.2h0.8M42.4 29.2h0.8M44.8 29.2h2.4M20 30h0.8M21.6 30h0.8M24.8 30h0.8M26.4 30h0.8M44 30h0.8M45.6 30h1.6M21.6 30.8h0.8M24.8 30.8h1.6M37.6 30.8h0.8M44 30.8h1.6M47.2 30.8h0.8M23.2 31.6h0.8M24.8 31.6h0.8M26.4 31.6h0.8M43.2 31.6h1.6M46.4 31.6h0.8M48.8 31.6h0.8M22.4 32.4h3.2M26.4 32.4h0.8M40 32.4h0.8M41.6 32.4h0.8M45.6 32.4h2.4M49.6 32.4h0.8M23.2 33.2h2.4M26.4 33.2h1.6M44 33.2h0.8M46.4 33.2h1.6M48.8 33.2h0.8M26.4 34h0.8M28.8 34h0.8M31.2 34h0.8M37.6 34h0.8M42.4 34h0.8M44 34h4M50.4 34h0.8M24 34.8h0.8M25.6 34.8h3.2M29.6 34.8h0.8M34.4 34.8h0.8M37.6 34.8h0.8M42.4 34.8h0.8M47.2 34.8h0.8M25.6 35.6h4.8M32.8 35.6h0.8M38.4 35.6h0.8M43.2 35.6h1.6M46.4 35.6h0.8M24 36.4h0.8M28 36.4h0.8M31.2 36.4h3.2M39.2 36.4h0.8M42.4 36.4h0.8M45.6 36.4h0.8M47.2 36.4h1.6M29.6 37.2h1.6M32.8 37.2h0.8M35.2 37.2h2.4M43.2 37.2h0.8M47.2 37.2h0.8M31.2 38h0.8M32.8 38h3.2M36.8 38h1.6M40.8 38h0.8M42.4 38h2.4M45.6 38h0.8M48 38h1.6M53.6 38h0.8M30.4 38.8h1.6M35.2 38.8h1.6M37.6 38.8h0.8M39.2 38.8h1.6M42.4 38.8h0.8M44 38.8h4M32.8 39.6h0.8M37.6 39.6h1.6M41.6 39.6h3.2M33.6 40.4h1.6M37.6 40.4h0.8M40 40.4h3.2M44.8 40.4h0.8M46.4 40.4h0.8M54.4 40.4h1.6M40 41.2h0.8M41.6 41.2h0.8M44 41.2h0.8M50.4 41.2h0.8M52.8 41.2h0.8M54.4 41.2h0.8M56.8 41.2h1.6M60.8 41.2h0.8M40 42h0.8M41.6 42h0.8M44.8 42h1.6M47.2 42h0.8M52 42h0.8M53.6 42h0.8M55.2 42h2.4M59.2 42h3.2M64 42h0.8M42.4 42.8h0.8M51.2 42.8h0.8M54.4 42.8h1.6M58.4 42.8h0.8M62.4 42.8h0.8M51.2 43.6h3.2M55.2 43.6h1.6M62.4 43.6h1.6M65.6 43.6h0.8M48 44.4h0.8M51.2 44.4h0.8M52.8 44.4h1.6M49.6 45.2h0.8M52 45.2h2.4M65.6 45.2h0.8M49.6 46h2.4M49.6 46.8h0.8M51.2 46.8h1.6M64.8 46.8h1.6M49.6 47.6h4M66.4 47.6h0.8M49.6 49.2h1.6M52 49.2h0.8M66.4 49.2h0.8M49.6 50h2.4M65.6 50h1.6M48.8 50.8h3.2M66.4 50.8h0.8M50.4 51.6h0.8M66.4 51.6h0.8M50.4 52.4h0.8M65.6 52.4h0.8M67.2 52.4h0.8M49.6 53.2h0.8M65.6 53.2h0.8M47.2 54h2.4M51.2 54h0.8M50.4 54.8h0.8M64 54.8h2.4M49.6 55.6h1.6M52 55.6h0.8M64.8 55.6h0.8M64 56.4h1.6M48.8 57.2h1.6M52 57.2h0.8M63.2 57.2h0.8M52 58h2.4M61.6 58h1.6M52 58.8h0.8M53.6 58.8h1.6M60.8 58.8h1.6M53.6 59.6h0.8M55.2 59.6h0.8M56.8 59.6h1.6M59.2 59.6h0.8M61.6 59.6h0.8M54.4 60.4h0.8M56 60.4h0.8M57.6 60.4h3.2M57.6 61.2h0.8"/><path stroke="#1b72a4" stroke-width="0.8" d="M27.2 22.8h2.4M28.8 23.6h0.8M32.8 23.6h3.2M20.8 24.4h0.8M25.6 24.4h1.6M28 24.4h3.2M32.8 24.4h0.8M35.2 24.4h2.4M38.4 24.4h0.8M41.6 24.4h0.8M25.6 25.2h1.6M28 25.2h0.8M29.6 25.2h0.8M31.2 25.2h2.4M34.4 25.2h0.8M36.8 25.2h2.4M24 26h1.6M28 26h0.8M29.6 26h1.6M34.4 26h0.8M40 26h0.8M41.6 26h0.8M22.4 26.8h0.8M24 26.8h0.8M25.6 26.8h2.4M28.8 26.8h0.8M30.4 26.8h0.8M32.8 26.8h0.8M36.8 26.8h3.2M40.8 26.8h0.8M23.2 27.6h2.4M27.2 27.6h0.8M29.6 27.6h1.6M32.8 27.6h0.8M36 27.6h0.8M37.6 27.6h1.6M40.8 27.6h0.8M24 28.4h0.8M26.4 28.4h4M36.8 28.4h0.8M38.4 28.4h0.8M40 28.4h0.8M42.4 28.4h0.8M32.8 29.2h0.8M37.6 29.2h0.8M39.2 29.2h0.8M40.8 29.2h0.8M22.4 30h2.4M25.6 30h0.8M28 30h0.8M31.2 30h0.8M33.6 30h0.8M35.2 30h0.8M37.6 30h0.8M40 30h0.8M41.6 30h2.4M28.8 30.8h1.6M42.4 30.8h0.8M46.4 30.8h0.8M25.6 31.6h0.8M27.2 31.6h0.8M29.6 31.6h0.8M35.2 31.6h0.8M38.4 31.6h1.6M40.8 31.6h2.4M45.6 31.6h0.8M25.6 32.4h0.8M28 32.4h2.4M32.8 32.4h0.8M36.8 32.4h0.8M38.4 32.4h0.8M40.8 32.4h0.8M42.4 32.4h2.4M48 32.4h0.8M28 33.2h2.4M32 33.2h0.8M34.4 33.2h0.8M42.4 33.2h1.6M27.2 34h1.6M29.6 34h1.6M32 34h0.8M35.2 34h0.8M38.4 34h0.8M40 34h0.8M41.6 34h0.8M43.2 34h0.8M32.8 34.8h1.6M36.8 34.8h0.8M38.4 34.8h3.2M44 34.8h0.8M45.6 34.8h1.6M32 35.6h0.8M34.4 35.6h0.8M39.2 35.6h4M44.8 35.6h1.6M28.8 36.4h0.8M34.4 36.4h3.2M38.4 36.4h0.8M40 36.4h0.8M41.6 36.4h0.8M43.2 36.4h2.4M32 37.2h0.8M37.6 37.2h0.8M39.2 37.2h4M44.8 37.2h0.8M38.4 38h2.4M41.6 38h0.8M38.4 38.8h0.8M43.2 38.8h0.8M54.4 42h0.8M56 42.8h2.4M60 42.8h2.4M63.2 42.8h1.6M56.8 43.6h0.8M56 44.4h1.6M64 44.4h0.8M54.4 45.2h0.8M64.8 45.2h0.8M52.8 46h1.6M64.8 46h1.6M52.8 46.8h1.6M55.2 46.8h0.8M66.4 46.8h0.8M53.6 47.6h0.8M65.6 47.6h0.8M51.2 48.4h0.8M51.2 49.2h0.8M65.6 49.2h0.8M52 50h0.8M65.6 50.8h0.8M49.6 51.6h0.8M51.2 51.6h0.8M65.6 51.6h0.8M51.2 52.4h0.8M50.4 53.2h0.8M52 53.2h0.8M51.2 54.8h1.6M51.2 55.6h0.8M62.4 55.6h0.8M64 55.6h0.8M51.2 56.4h0.8M52.8 56.4h0.8M62.4 56.4h0.8M53.6 57.2h0.8M62.4 57.2h0.8M60.8 58h0.8M55.2 58.8h0.8M56.8 58.8h2.4M60 58.8h0.8M58.4 59.6h0.8"/><path stroke="#198e99" stroke-width="0.8" d="M29.6 23.6h0.8M40 23.6h0.8M32 24.4h0.8M30.4 25.2h0.8M39.2 25.2h0.8M25.6 26h0.8M28.8 26h0.8M31.2 26h2.4M35.2 26h1.6M39.2 26h0.8M29.6 26.8h0.8M32 26.8h0.8M33.6 26.8h0.8M35.2 26.8h1.6M40 26.8h0.8M25.6 27.6h1.6M31.2 27.6h1.6M34.4 27.6h0.8M40 27.6h0.8M41.6 27.6h0.8M30.4 28.4h1.6M33.6 28.4h3.2M37.6 28.4h0.8M39.2 28.4h0.8M27.2 29.2h0.8M28.8 29.2h2.4M34.4 29.2h1.6M36.8 29.2h0.8M40 29.2h0.8M41.6 29.2h0.8M43.2 29.2h0.8M32 30h0.8M36 30h0.8M40.8 30h0.8M24 30.8h0.8M26.4 30.8h1.6M30.4 30.8h1.6M32.8 30.8h1.6M35.2 30.8h1.6M39.2 30.8h0.8M40.8 30.8h0.8M28 31.6h0.8M30.4 31.6h0.8M32 31.6h2.4M40 31.6h0.8M30.4 32.4h2.4M34.4 32.4h0.8M36 32.4h0.8M37.6 32.4h0.8M31.2 33.2h0.8M33.6 33.2h0.8M35.2 33.2h3.2M40 33.2h0.8M41.6 33.2h0.8M44.8 33.2h0.8M24.8 34h0.8M32.8 34h2.4M36.8 34h0.8M30.4 34.8h2.4M35.2 34.8h0.8M41.6 34.8h0.8M43.2 34.8h0.8M30.4 35.6h0.8M33.6 35.6h0.8M35.2 35.6h3.2M34.4 37.2h0.8M59.2 42.8h0.8M57.6 43.6h1.6M55.2 44.4h0.8M57.6 44.4h0.8M55.2 45.2h2.4M62.4 45.2h1.6M54.4 46h1.6M54.4 46.8h0.8M52.8 48.4h0.8M54.4 48.4h0.8M52 50.8h0.8M52 51.6h0.8M64.8 52.4h0.8M51.2 53.2h0.8M52 54h1.6M63.2 54.8h0.8M52 56.4h0.8M63.2 56.4h0.8M52.8 57.2h0.8M54.4 57.2h0.8M60.8 57.2h1.6M54.4 58h0.8M58.4 58h1.6M56 58.8h0.8M59.2 58.8h0.8"/><path stroke="#1f9e7e" stroke-width="0.8" d="M37.6 26h0.8M28 27.6h1.6M33.6 27.6h0.8M36.8 27.6h0.8M32 28.4h1.6M28.8 30h2.4M32.8 30h0.8M34.4 30h0.8M36.8 30h0.8M38.4 30h1.6M34.4 30.8h0.8M36.8 30.8h0.8M38.4 30.8h0.8M31.2 31.6h0.8M34.4 31.6h0.8M36 31.6h2.4M33.6 32.4h0.8M35.2 32.4h0.8M39.2 32.4h0.8M39.2 33.2h0.8M40.8 33.2h0.8M36 34h0.8M39.2 34h0.8M36 34.8h0.8M37.6 36.4h0.8M59.2 43.6h3.2M60.8 44.4h2.4M57.6 45.2h0.8M61.6 45.2h0.8M64 45.2h0.8M56 46h0.8M64 47.6h1.6M53.6 48.4h0.8M63.2 48.4h0.8M64.8 48.4h1.6M52.8 49.2h1.6M64.8 49.2h0.8M52.8 50h0.8M52.8 50.8h1.6M64.8 50.8h0.8M52.8 51.6h0.8M64 51.6h1.6M52 52.4h0.8M52.8 53.2h1.6M64 53.2h1.6M64 54h0.8M52.8 54.8h1.6M52.8 55.6h1.6M63.2 55.6h0.8M53.6 56.4h1.6M60.8 56.4h0.8M56.8 57.2h0.8M60 57.2h0.8M55.2 58h3.2"/><path stroke="#2aaa5a" stroke-width="0.8" d="M34.4 26.8h0.8M28 29.2h0.8M32 29.2h0.8M33.6 29.2h0.8M27.2 30h0.8M32 30.8h0.8M41.6 30.8h0.8M32.8 33.2h0.8M58.4 44.4h0.8M60 44.4h0.8M56.8 46h0.8M64 46h0.8M64 46.8h0.8M54.4 47.6h1.6M55.2 48.4h0.8M64 49.2h0.8M64.8 50h0.8M64 50.8h0.8M53.6 51.6h0.8M63.2 51.6h0.8M52.8 52.4h0.8M63.2 52.4h0.8M54.4 53.2h0.8M53.6 54h0.8M62.4 54h0.8M61.6 54.8h0.8M54.4 55.6h0.8M60.8 55.6h1.6M55.2 56.4h0.8M56.8 56.4h0.8M55.2 57.2h1.6M57.6 57.2h2.4"/><path stroke="#50b846" stroke-width="0.8" d="M31.2 29.2h0.8M59.2 44.4h0.8M58.4 45.2h3.2M62.4 46h0.8M56 46.8h0.8M56 48.4h0.8M53.6 50h1.6M54.4 50.8h0.8M63.2 50.8h0.8M64 52.4h0.8M62.4 53.2h1.6M63.2 54h0.8M62.4 54.8h0.8M56 55.6h0.8M57.6 55.6h0.8M61.6 56.4h0.8"/><path stroke="#7bc635" stroke-width="0.8" d="M63.2 44.4h0.8M57.6 46h1.6M56.8 46.8h0.8M60.8 46.8h0.8M62.4 46.8h0.8M63.2 47.6h0.8M64 48.4h0.8M54.4 49.2h0.8M56 49.2h0.8M63.2 50h0.8M55.2 50.8h0.8M53.6 52.4h0.8M54.4 54.8h0.8M58.4 54.8h0.8M59.2 55.6h1.6M57.6 56.4h0.8M60 56.4h0.8"/><path stroke="#abd32e" stroke-width="0.8" d="M59.2 46h0.8M60.8 46h0.8M58.4 46.8h1.6M56 47.6h0.8M55.2 50h0.8M64 50h0.8M62.4 51.6h0.8M62.4 52.4h0.8M55.2 54h0.8M61.6 54h0.8M55.2 54.8h0.8M60.8 54.8h0.8M56.8 55.6h0.8M56 56.4h0.8M59.2 56.4h0.8"/><path stroke="#dce029" stroke-width="0.8" d="M60 46h0.8M61.6 46h0.8M57.6 46.8h0.8M63.2 46.8h0.8M62.4 47.6h0.8M55.2 49.2h0.8M62.4 49.2h1.6M56 50h0.8M54.4 51.6h1.6M61.6 53.2h0.8M56 54h0.8M56 54.8h0.8M58.4 55.6h0.8M58.4 56.4h0.8"/><path stroke="#ebcc24" stroke-width="0.8" d="M61.6 46.8h0.8M60.8 47.6h0.8M56.8 48.4h1.6M62.4 48.4h0.8M57.6 49.2h0.8M61.6 49.2h0.8M61.6 50h1.6M54.4 52.4h0.8M55.2 53.2h0.8M54.4 54h0.8M57.6 54.8h0.8M59.2 54.8h0.8"/><path stroke="#f4b01f" stroke-width="0.8" d="M60 46.8h0.8M60 47.6h0.8M61.6 47.6h0.8M59.2 48.4h0.8M61.6 48.4h0.8M56.8 49.2h0.8M59.2 50.8h0.8M61.6 51.6h0.8M56 52.4h0.8M56.8 53.2h0.8M60.8 54h0.8M56.8 54.8h0.8M55.2 55.6h0.8"/><path stroke="#f38a1c" stroke-width="0.8" d="M56.8 47.6h0.8M58.4 47.6h0.8M58.4 48.4h0.8M56 50.8h0.8M56 51.6h0.8M57.6 51.6h0.8M60 51.6h0.8M59.2 52.4h0.8M61.6 52.4h0.8M57.6 53.2h0.8"/><path stroke="#ee601a" stroke-width="0.8" d="M57.6 47.6h0.8M59.2 47.6h0.8M60 48.4h0.8M59.2 49.2h0.8M60.8 49.2h0.8M56.8 50h0.8M60.8 50h0.8M57.6 50.8h1.6M61.6 50.8h0.8M56.8 51.6h0.8M60.8 51.6h0.8M60 52.4h1.6M56 53.2h0.8M60.8 53.2h0.8M57.6 54h2.4"/><path stroke="#e53e19" stroke-width="0.8" d="M60.8 48.4h0.8M58.4 49.2h0.8M60 49.2h0.8M57.6 50h3.2M56.8 50.8h0.8M60 50.8h1.6M62.4 50.8h0.8M58.4 51.6h1.6M55.2 52.4h0.8M56.8 52.4h2.4M58.4 53.2h2.4M56.8 54h0.8M60 54h0.8M60 54.8h0.8"/></g>
<rect x="272.8" y="54.2" width="71.6" height="72" fill="none" stroke="#b4b4b4" stroke-width=".8"/>
<path d="M279.3 126.2v2.2M291.8 126.2v2.2M303.3 126.2v2.2M321.8 126.2v2.2M339.3 126.2v2.2" stroke="#000" stroke-width="1.1" fill="none"/>
<path d="M308.87 126.2v1.2M312.13 126.2v1.2M314.44 126.2v1.2M316.23 126.2v1.2M317.7 126.2v1.2M318.93 126.2v1.2M320.01 126.2v1.2M320.95 126.2v1.2M327.07 126.2v1.2M330.15 126.2v1.2M332.34 126.2v1.2M334.03 126.2v1.2M335.42 126.2v1.2M336.59 126.2v1.2M337.6 126.2v1.2M338.5 126.2v1.2M282.3 126.2v1.2M284.8 126.2v1.2M286.8 126.2v1.2M288.3 126.2v1.2M289.3 126.2v1.2M290.3 126.2v1.2M291 126.2v1.2M292.6 126.2v1.2M293.3 126.2v1.2M294.3 126.2v1.2M295.3 126.2v1.2M296.8 126.2v1.2M298.8 126.2v1.2M300.8 126.2v1.2" stroke="#000" stroke-width=".8" fill="none"/>
<rect x="289.2" y="126.4" width="2.6" height="1.5" fill="#111"/>
<path d="M285.6 78.5L287.9 71.5L299 68.2L314.4 66.9L327.4 69.2L329.7 74.6L329.4 85.4L323.6 93.1L312.8 98L302 98L291.3 94.6L287.4 86.9z" fill="none" stroke="#5a52b0" stroke-width=".9" stroke-linejoin="round"/>
<text transform="translate(278 65.9) scale(0.97 1)" font-size="9.1" font-weight="bold">42.4 %</text>
<text transform="translate(278 139) scale(0.85 1)" font-size="8.5" text-anchor="middle">-10<tspan font-size="5.27" dy="-2.6">3</tspan></text>
<text transform="translate(291.5 139) scale(0.85 1)" font-size="8.5" text-anchor="middle">0</text>
<text transform="translate(302.6 139) scale(0.85 1)" font-size="8.5" text-anchor="middle">10<tspan font-size="5.27" dy="-2.6">3</tspan></text>
<text transform="translate(321.3 139) scale(0.85 1)" font-size="8.5" text-anchor="middle">10<tspan font-size="5.27" dy="-2.6">4</tspan></text>
<text transform="translate(337.5 139) scale(0.85 1)" font-size="8.5" text-anchor="middle">10<tspan font-size="5.27" dy="-2.6">5</tspan></text>
<g transform="translate(347.6 54.2)" fill="none" filter="url(#soft)"><path stroke="#5649c0" stroke-width="0.8" stroke-opacity="0.62" d="M13.6 5.2h0.8M36 6h0.8M52 9.2h0.8M48 10h0.8M35.2 10.8h0.8M39.2 13.2h0.8M16 14.8h0.8M29.6 15.6h1.6M34.4 15.6h0.8M41.6 15.6h0.8M44 15.6h0.8M52.8 15.6h0.8M31.2 16.4h0.8M25.6 17.2h0.8M31.2 17.2h0.8M34.4 17.2h0.8M40 17.2h0.8M32.8 18h0.8M25.6 18.8h0.8M28.8 18.8h0.8M35.2 18.8h0.8M39.2 18.8h0.8M42.4 18.8h0.8M50.4 18.8h0.8M20 19.6h0.8M30.4 19.6h0.8M33.6 19.6h0.8M41.6 19.6h0.8M48 19.6h0.8M55.2 19.6h0.8M10.4 20.4h0.8M27.2 20.4h0.8M31.2 20.4h0.8M40.8 20.4h0.8M44.8 20.4h0.8M52 20.4h0.8M20.8 21.2h0.8M30.4 21.2h0.8M40 21.2h0.8M18.4 22h0.8M20 22h0.8M23.2 22h0.8M27.2 22h0.8M29.6 22h0.8M32 22h0.8M33.6 22h0.8M43.2 22h0.8M15.2 22.8h0.8M23.2 22.8h0.8M30.4 22.8h0.8M32 22.8h0.8M35.2 22.8h0.8M37.6 22.8h0.8M41.6 22.8h0.8M44 22.8h0.8M13.6 23.6h0.8M23.2 23.6h0.8M29.6 23.6h1.6M36.8 23.6h0.8M39.2 23.6h0.8M42.4 23.6h1.6M46.4 23.6h0.8M48.8 23.6h0.8M62.4 23.6h0.8M22.4 24.4h0.8M32.8 24.4h0.8M35.2 24.4h0.8M39.2 24.4h0.8M15.2 25.2h0.8M22.4 25.2h0.8M32 25.2h0.8M39.2 25.2h0.8M64 25.2h0.8M13.6 26h0.8M24.8 26h1.6M29.6 26h1.6M35.2 26h0.8M39.2 26h0.8M44 26h1.6M51.2 26h0.8M13.6 26.8h0.8M29.6 26.8h0.8M32 26.8h0.8M35.2 26.8h0.8M38.4 26.8h0.8M41.6 26.8h0.8M47.2 26.8h0.8M51.2 26.8h0.8M56 26.8h0.8M18.4 27.6h0.8M20.8 27.6h0.8M22.4 27.6h0.8M24 27.6h0.8M36.8 27.6h0.8M44.8 27.6h0.8M19.2 28.4h1.6M24.8 28.4h0.8M31.2 28.4h0.8M33.6 28.4h0.8M37.6 28.4h0.8M42.4 28.4h1.6M20 29.2h0.8M21.6 29.2h0.8M25.6 29.2h0.8M33.6 29.2h1.6M36 29.2h0.8M38.4 29.2h0.8M40.8 29.2h0.8M44.8 29.2h1.6M48 29.2h0.8M50.4 29.2h1.6M52.8 29.2h0.8M57.6 29.2h0.8M5.6 30h0.8M21.6 30h0.8M27.2 30h0.8M37.6 30h1.6M40 30h0.8M43.2 30h0.8M48 30h0.8M50.4 30h0.8M60.8 30h0.8M23.2 30.8h0.8M26.4 30.8h0.8M31.2 30.8h0.8M34.4 30.8h0.8M45.6 30.8h0.8M48 30.8h0.8M53.6 30.8h0.8M21.6 31.6h0.8M26.4 31.6h0.8M28.8 31.6h0.8M36.8 31.6h1.6M42.4 31.6h1.6M45.6 31.6h0.8M52 31.6h0.8M64 31.6h0.8M65.6 31.6h0.8M23.2 32.4h0.8M28.8 32.4h0.8M32 32.4h0.8M33.6 32.4h0.8M42.4 32.4h0.8M51.2 32.4h1.6M62.4 32.4h0.8M20.8 33.2h0.8M29.6 33.2h0.8M31.2 33.2h0.8M38.4 33.2h0.8M44 33.2h0.8M48 33.2h0.8M60.8 33.2h0.8M8 34h0.8M24.8 34h1.6M29.6 34h0.8M32 34h0.8M33.6 34h0.8M37.6 34h0.8M51.2 34h0.8M56 34h0.8M61.6 34h0.8M24.8 34.8h0.8M28.8 34.8h0.8M40 34.8h2.4M48.8 34.8h0.8M50.4 34.8h0.8M24 35.6h0.8M25.6 35.6h0.8M27.2 35.6h1.6M33.6 35.6h0.8M37.6 35.6h0.8M44 35.6h0.8M46.4 35.6h0.8M52.8 35.6h0.8M24.8 36.4h1.6M32 36.4h0.8M36.8 36.4h0.8M43.2 36.4h0.8M45.6 36.4h0.8M47.2 36.4h0.8M15.2 37.2h0.8M22.4 37.2h0.8M30.4 37.2h0.8M34.4 37.2h0.8M36 37.2h1.6M44 37.2h0.8M45.6 37.2h0.8M47.2 37.2h0.8M54.4 37.2h0.8M21.6 38h0.8M28 38h0.8M29.6 38h0.8M39.2 38h0.8M41.6 38h1.6M44 38h0.8M50.4 38h0.8M52 38h0.8M57.6 38h0.8M65.6 38h0.8M20.8 38.8h0.8M30.4 38.8h1.6M32.8 38.8h0.8M39.2 38.8h1.6M48 38.8h0.8M59.2 38.8h0.8M15.2 39.6h0.8M33.6 39.6h1.6M38.4 39.6h0.8M45.6 39.6h0.8M54.4 39.6h0.8M21.6 40.4h0.8M29.6 40.4h0.8M34.4 40.4h0.8M45.6 40.4h0.8M48 40.4h0.8M60.8 40.4h0.8M27.2 41.2h1.6M35.2 41.2h0.8M38.4 41.2h0.8M45.6 41.2h0.8M52.8 41.2h0.8M58.4 41.2h0.8M62.4 41.2h0.8M3.2 42h0.8M22.4 42h0.8M44 42h0.8M53.6 42h0.8M62.4 42h0.8M23.2 42.8h0.8M27.2 42.8h0.8M30.4 42.8h0.8M39.2 42.8h1.6M43.2 42.8h0.8M52 42.8h1.6M66.4 42.8h0.8M18.4 43.6h0.8M41.6 43.6h0.8M44 43.6h0.8M52.8 43.6h0.8M62.4 43.6h0.8M31.2 44.4h2.4M47.2 44.4h0.8M51.2 44.4h0.8M62.4 44.4h2.4M31.2 45.2h0.8M41.6 45.2h0.8M44.8 45.2h0.8M32 46h0.8M48 46h0.8M49.6 46h0.8M63.2 46h0.8M41.6 46.8h0.8M44 46.8h0.8M64.8 46.8h0.8M32.8 47.6h0.8M43.2 47.6h0.8M52 47.6h1.6M64.8 47.6h0.8M66.4 47.6h0.8M32.8 48.4h0.8M42.4 48.4h0.8M49.6 48.4h1.6M64.8 48.4h0.8M36 49.2h0.8M40 49.2h0.8M64 49.2h0.8M27.2 50h0.8M41.6 50h0.8M45.6 50h0.8M51.2 50h1.6M64 50h0.8M65.6 50h0.8M17.6 50.8h0.8M28 50.8h0.8M45.6 50.8h0.8M50.4 50.8h0.8M52 50.8h0.8M64.8 50.8h0.8M43.2 51.6h0.8M71.2 51.6h0.8M41.6 52.4h0.8M51.2 52.4h0.8M64.8 52.4h0.8M35.2 53.2h0.8M44.8 53.2h0.8M64.8 53.2h0.8M66.4 53.2h0.8M44.8 54h0.8M48.8 54h0.8M65.6 54h0.8M50.4 54.8h0.8M64.8 54.8h0.8M67.2 54.8h1.6M30.4 55.6h0.8M52 55.6h0.8M64 55.6h0.8M47.2 56.4h0.8M48 57.2h0.8M50.4 57.2h0.8M65.6 57.2h0.8M40 58h0.8M44 58h0.8M64.8 58h0.8M35.2 58.8h0.8M64.8 58.8h0.8M51.2 59.6h0.8M52 60.4h1.6M48 61.2h0.8M62.4 61.2h0.8M64 61.2h0.8M66.4 61.2h0.8M68 61.2h0.8M36.8 62h0.8M40.8 62.8h0.8M53.6 62.8h0.8M50.4 63.6h0.8M52 64.4h2.4M60 64.4h0.8M54.4 65.2h0.8M61.6 65.2h0.8M48 66h0.8M52 66h0.8M55.2 66.8h0.8M57.6 67.6h0.8M48 68.4h0.8M52.8 68.4h0.8M60.8 69.2h0.8M56.8 70h0.8"/><path stroke="#3730ae" stroke-width="0.8" stroke-opacity="0.85" d="M56.8 42.8h0.8M60 42.8h0.8M54.4 44.4h0.8M54.4 46h0.8M61.6 46h0.8M53.6 46.8h1.6M61.6 46.8h1.6M52.8 48.4h0.8M52 49.2h0.8M63.2 50h0.8M53.6 50.8h0.8M63.2 50.8h0.8M64 51.6h0.8M52 52.4h1.6M52 54h1.6M52 54.8h0.8M63.2 55.6h0.8M52 56.4h1.6M52.8 57.2h0.8M62.4 58h0.8M52.8 59.6h0.8M62.4 59.6h0.8M60.8 60.4h1.6M53.6 61.2h0.8M60 62h0.8M59.2 62.8h2.4M54.4 63.6h3.2M56.8 64.4h0.8M56 65.2h0.8"/><path stroke="#282ca5" stroke-width="0.8" d="M59.2 44.4h0.8M55.2 46h0.8M56.8 46h1.6M55.2 46.8h1.6M55.2 47.6h1.6M61.6 48.4h0.8M54.4 49.2h0.8M61.6 50h1.6M52.8 51.6h0.8M62.4 52.4h0.8M52.8 53.2h1.6M62.4 53.2h0.8M62.4 54h0.8M53.6 54.8h0.8M61.6 54.8h1.6M53.6 55.6h0.8M60.8 58.8h1.6M54.4 60.4h0.8M55.2 62h0.8M56 62.8h0.8"/><path stroke="#2050a8" stroke-width="0.8" d="M56.8 45.2h0.8M59.2 45.2h0.8M58.4 46h1.6M56.8 46.8h0.8M59.2 46.8h0.8M55.2 48.4h1.6M60.8 49.2h1.6M54.4 50h0.8M61.6 50.8h0.8M53.6 52.4h0.8M61.6 52.4h0.8M54.4 53.2h0.8M61.6 53.2h0.8M54.4 54h0.8M61.6 55.6h0.8M60.8 56.4h1.6M54.4 57.2h0.8M61.6 57.2h0.8M54.4 58h0.8M60.8 58h1.6M54.4 58.8h0.8M54.4 59.6h0.8M60.8 59.6h0.8M60 60.4h0.8M59.2 61.2h0.8M58.4 62h0.8M57.6 62.8h1.6"/><path stroke="#1b72a4" stroke-width="0.8" d="M57.6 46.8h1.6M60 47.6h0.8M56.8 48.4h0.8M60.8 48.4h0.8M56 49.2h0.8M55.2 50h0.8M55.2 50.8h0.8M60.8 51.6h1.6M54.4 52.4h0.8M60.8 54h1.6M54.4 54.8h0.8M54.4 55.6h0.8M55.2 58.8h0.8M55.2 59.6h0.8M60 59.6h0.8M55.2 60.4h0.8M58.4 60.4h1.6M56 61.2h0.8M57.6 61.2h0.8M56.8 62h0.8"/><path stroke="#198e99" stroke-width="0.8" d="M56.8 47.6h2.4M60 48.4h0.8M60.8 50h0.8M60.8 50.8h0.8M60.8 52.4h0.8M55.2 53.2h0.8M60.8 53.2h0.8M60.8 54.8h0.8M60.8 57.2h0.8M55.2 58h0.8M60 58h0.8M60 58.8h0.8M59.2 59.6h0.8M56 60.4h0.8M57.6 60.4h0.8M56.8 61.2h0.8M58.4 61.2h0.8"/><path stroke="#1f9e7e" stroke-width="0.8" d="M59.2 47.6h0.8M59.2 48.4h0.8M60 49.2h0.8M56 50h0.8M60 50.8h0.8M55.2 51.6h0.8M55.2 52.4h0.8M55.2 54h0.8M55.2 55.6h0.8M60.8 55.6h0.8M55.2 57.2h0.8M60 57.2h0.8M56 59.6h1.6M57.6 62h0.8"/><path stroke="#2aaa5a" stroke-width="0.8" d="M58.4 48.4h0.8M56.8 49.2h0.8M59.2 49.2h0.8M59.2 50h0.8M56 50.8h0.8M60 51.6h0.8M56 52.4h0.8M56 54h0.8M55.2 54.8h0.8M60 55.6h0.8M59.2 57.2h0.8M56 58h0.8M59.2 58h0.8M57.6 59.6h1.6"/><path stroke="#50b846" stroke-width="0.8" d="M57.6 48.4h0.8M58.4 49.2h0.8M57.6 50h0.8M56 56.4h0.8M60 56.4h0.8M56 57.2h0.8M59.2 58.8h0.8M56.8 60.4h0.8"/><path stroke="#7bc635" stroke-width="0.8" d="M57.6 49.2h0.8M60 50h0.8M56.8 50.8h0.8M59.2 50.8h0.8M60 52.4h0.8M60 53.2h0.8M59.2 55.6h0.8M59.2 56.4h0.8M56 58.8h0.8M58.4 58.8h0.8"/><path stroke="#abd32e" stroke-width="0.8" d="M56.8 50h0.8M58.4 50h0.8M57.6 50.8h0.8M56 51.6h0.8M59.2 51.6h0.8M56.8 52.4h0.8M56 53.2h0.8M60 54h0.8M60 54.8h0.8M56.8 55.6h0.8M56.8 56.4h0.8M57.6 57.2h0.8"/><path stroke="#dce029" stroke-width="0.8" d="M56 55.6h0.8M56.8 57.2h0.8M56.8 58h0.8M58.4 58h0.8"/><path stroke="#ebcc24" stroke-width="0.8" d="M56.8 51.6h0.8M57.6 54.8h0.8M57.6 58h0.8"/><path stroke="#f4b01f" stroke-width="0.8" d="M58.4 50.8h0.8M58.4 54h0.8M57.6 56.4h0.8M58.4 57.2h0.8M57.6 58.8h0.8"/><path stroke="#f38a1c" stroke-width="0.8" d="M58.4 51.6h0.8M59.2 52.4h0.8M57.6 53.2h0.8M56.8 54h1.6M59.2 54h0.8M56.8 54.8h0.8M58.4 54.8h1.6M56.8 58.8h0.8"/><path stroke="#ee601a" stroke-width="0.8" d="M58.4 53.2h0.8M56 54.8h0.8M57.6 55.6h0.8M58.4 56.4h0.8"/><path stroke="#e53e19" stroke-width="0.8" d="M57.6 51.6h0.8M57.6 52.4h1.6M56.8 53.2h0.8M59.2 53.2h0.8M58.4 55.6h0.8"/></g>
<rect x="347.6" y="54.2" width="73" height="72" fill="none" stroke="#b4b4b4" stroke-width=".8"/>
<path d="M354.1 126.2v2.2M366.6 126.2v2.2M378.1 126.2v2.2M396.6 126.2v2.2M414.1 126.2v2.2" stroke="#000" stroke-width="1.1" fill="none"/>
<path d="M383.67 126.2v1.2M386.93 126.2v1.2M389.24 126.2v1.2M391.03 126.2v1.2M392.5 126.2v1.2M393.73 126.2v1.2M394.81 126.2v1.2M395.75 126.2v1.2M401.87 126.2v1.2M404.95 126.2v1.2M407.14 126.2v1.2M408.83 126.2v1.2M410.22 126.2v1.2M411.39 126.2v1.2M412.4 126.2v1.2M413.3 126.2v1.2M357.1 126.2v1.2M359.6 126.2v1.2M361.6 126.2v1.2M363.1 126.2v1.2M364.1 126.2v1.2M365.1 126.2v1.2M365.8 126.2v1.2M367.4 126.2v1.2M368.1 126.2v1.2M369.1 126.2v1.2M370.1 126.2v1.2M371.6 126.2v1.2M373.6 126.2v1.2M375.6 126.2v1.2" stroke="#000" stroke-width=".8" fill="none"/>
<path d="M347.6 60.7h-1.9M347.6 77.7h-1.9M347.6 94.2h-1.9M347.6 116.2h-1.9" stroke="#222" stroke-width=".8" fill="none"/>
<path d="M347.6 89.23h-1.1M347.6 86.33h-1.1M347.6 84.27h-1.1M347.6 82.67h-1.1M347.6 81.36h-1.1M347.6 80.26h-1.1M347.6 79.3h-1.1M347.6 78.45h-1.1M347.6 72.58h-1.1M347.6 69.59h-1.1M347.6 67.46h-1.1M347.6 65.82h-1.1M347.6 64.47h-1.1M347.6 63.33h-1.1M347.6 62.35h-1.1M347.6 61.48h-1.1M347.6 98.2h-1.1M347.6 102.2h-1.1M347.6 106.2h-1.1M347.6 109.2h-1.1M347.6 111.7h-1.1M347.6 113.7h-1.1M347.6 115.2h-1.1M347.6 117.2h-1.1M347.6 118.7h-1.1M347.6 120.7h-1.1M347.6 123.2h-1.1" stroke="#444" stroke-width=".5" fill="none"/>
<rect x="364" y="126.4" width="2.6" height="1.5" fill="#111"/>
<rect x="345.9" y="114.7" width="1.5" height="2.6" fill="#111"/>
<path d="M360.4 78.5L362.7 71.5L373.8 68.2L389.2 66.9L402.2 69.2L404.5 74.6L404.2 85.4L398.4 93.1L387.6 98L376.8 98L366.1 94.6L362.2 86.9z" fill="none" stroke="#5a52b0" stroke-width=".9" stroke-linejoin="round"/>
<text transform="translate(353.5 65.2) scale(0.97 1)" font-size="9.1" font-weight="bold">12.8 %</text>
<text transform="translate(352.8 139) scale(0.85 1)" font-size="8.5" text-anchor="middle">-10<tspan font-size="5.27" dy="-2.6">3</tspan></text>
<text transform="translate(366.3 139) scale(0.85 1)" font-size="8.5" text-anchor="middle">0</text>
<text transform="translate(377.4 139) scale(0.85 1)" font-size="8.5" text-anchor="middle">10<tspan font-size="5.27" dy="-2.6">3</tspan></text>
<text transform="translate(396.1 139) scale(0.85 1)" font-size="8.5" text-anchor="middle">10<tspan font-size="5.27" dy="-2.6">4</tspan></text>
<text transform="translate(412.3 139) scale(0.85 1)" font-size="8.5" text-anchor="middle">10<tspan font-size="5.27" dy="-2.6">5</tspan></text>
<g transform="translate(420.6 54.2)" fill="none" filter="url(#soft)"><path stroke="#5649c0" stroke-width="0.8" stroke-opacity="0.62" d="M40.8 2h0.8M20.8 3.6h0.8M9.6 6h0.8M30.4 6.8h0.8M16 7.6h0.8M19.2 7.6h0.8M20.8 7.6h0.8M24.8 7.6h0.8M31.2 8.4h0.8M16 9.2h0.8M31.2 9.2h0.8M27.2 10h1.6M35.2 10h0.8M23.2 10.8h1.6M16 11.6h0.8M20 11.6h0.8M24 12.4h0.8M26.4 12.4h0.8M29.6 12.4h0.8M44.8 12.4h0.8M13.6 13.2h0.8M21.6 13.2h0.8M11.2 14h0.8M15.2 14h0.8M16.8 14h0.8M27.2 14h0.8M33.6 14h0.8M35.2 14h0.8M39.2 14h0.8M43.2 14h0.8M11.2 14.8h0.8M19.2 14.8h0.8M21.6 14.8h0.8M24.8 14.8h1.6M28.8 14.8h0.8M31.2 14.8h0.8M33.6 14.8h0.8M35.2 14.8h0.8M49.6 14.8h0.8M10.4 15.6h0.8M23.2 15.6h0.8M40.8 15.6h0.8M12.8 16.4h0.8M16 16.4h0.8M17.6 16.4h0.8M20 16.4h0.8M24 16.4h0.8M25.6 16.4h0.8M28 16.4h0.8M30.4 16.4h0.8M27.2 17.2h1.6M32 17.2h0.8M33.6 17.2h0.8M36.8 17.2h0.8M41.6 17.2h0.8M50.4 17.2h0.8M16 18h0.8M20.8 18h0.8M24.8 18h0.8M32 18h1.6M35.2 18h0.8M53.6 18h0.8M16 18.8h0.8M19.2 18.8h0.8M28.8 18.8h0.8M33.6 18.8h1.6M36 18.8h0.8M37.6 18.8h0.8M40 18.8h0.8M12 19.6h0.8M15.2 19.6h0.8M17.6 19.6h0.8M19.2 19.6h0.8M20.8 19.6h1.6M39.2 19.6h0.8M47.2 19.6h0.8M51.2 19.6h0.8M56.8 19.6h0.8M15.2 20.4h0.8M16.8 20.4h0.8M26.4 20.4h0.8M31.2 20.4h1.6M36.8 20.4h0.8M44 20.4h0.8M45.6 20.4h0.8M12.8 21.2h0.8M37.6 21.2h0.8M39.2 21.2h0.8M40.8 21.2h0.8M42.4 21.2h0.8M47.2 21.2h1.6M49.6 21.2h0.8M52 21.2h0.8M12.8 22h0.8M16 22h0.8M18.4 22h0.8M20.8 22h0.8M23.2 22h0.8M25.6 22h0.8M33.6 22h0.8M40 22h1.6M44 22h2.4M49.6 22h0.8M13.6 22.8h0.8M16.8 22.8h0.8M19.2 22.8h0.8M24 22.8h0.8M36.8 22.8h2.4M44.8 22.8h0.8M46.4 22.8h0.8M51.2 22.8h0.8M2.4 23.6h0.8M8.8 23.6h0.8M11.2 23.6h0.8M16.8 23.6h0.8M20 23.6h0.8M36 23.6h1.6M41.6 23.6h2.4M44.8 23.6h0.8M34.4 24.4h0.8M38.4 24.4h0.8M43.2 24.4h0.8M44.8 24.4h1.6M47.2 24.4h0.8M9.6 25.2h0.8M19.2 25.2h1.6M41.6 25.2h0.8M44 25.2h0.8M56.8 25.2h0.8M9.6 26h0.8M16 26h0.8M21.6 26h0.8M29.6 26h0.8M37.6 26h1.6M44.8 26h0.8M48.8 26h0.8M5.6 26.8h0.8M18.4 26.8h0.8M44.8 26.8h0.8M18.4 27.6h0.8M24 27.6h0.8M41.6 27.6h0.8M48.8 27.6h0.8M52 27.6h0.8M9.6 28.4h0.8M20 28.4h0.8M40 28.4h1.6M43.2 28.4h0.8M44.8 28.4h0.8M52 28.4h0.8M56.8 28.4h0.8M16 29.2h0.8M22.4 29.2h0.8M24.8 29.2h0.8M43.2 29.2h0.8M44.8 29.2h0.8M59.2 29.2h1.6M65.6 29.2h0.8M10.4 30h0.8M18.4 30h0.8M24.8 30h0.8M40 30h0.8M42.4 30h0.8M44.8 30h0.8M47.2 30h0.8M52 30h0.8M10.4 30.8h0.8M14.4 30.8h0.8M17.6 30.8h0.8M22.4 30.8h1.6M43.2 30.8h0.8M44.8 30.8h0.8M48 30.8h0.8M49.6 30.8h0.8M52.8 30.8h0.8M60.8 30.8h0.8M17.6 31.6h0.8M20 31.6h0.8M28.8 31.6h0.8M31.2 31.6h0.8M35.2 31.6h0.8M45.6 31.6h0.8M49.6 31.6h1.6M56.8 31.6h0.8M13.6 32.4h0.8M22.4 32.4h0.8M35.2 32.4h0.8M42.4 32.4h0.8M47.2 32.4h1.6M57.6 32.4h0.8M12.8 33.2h0.8M15.2 33.2h2.4M18.4 33.2h0.8M20.8 33.2h0.8M22.4 33.2h0.8M25.6 33.2h0.8M36 33.2h0.8M43.2 33.2h0.8M59.2 33.2h0.8M7.2 34h0.8M14.4 34h0.8M16 34h0.8M23.2 34h0.8M28 34h0.8M42.4 34h0.8M45.6 34h0.8M47.2 34h0.8M56 34h0.8M59.2 34h0.8M61.6 34h0.8M7.2 34.8h0.8M14.4 34.8h0.8M17.6 34.8h3.2M21.6 34.8h1.6M25.6 34.8h2.4M31.2 34.8h0.8M36 34.8h0.8M49.6 34.8h0.8M16 35.6h1.6M22.4 35.6h0.8M24 35.6h1.6M31.2 35.6h0.8M33.6 35.6h0.8M40 35.6h2.4M60 35.6h0.8M17.6 36.4h0.8M26.4 36.4h1.6M32 36.4h0.8M33.6 36.4h0.8M36 36.4h0.8M39.2 36.4h0.8M40.8 36.4h0.8M44 36.4h1.6M47.2 36.4h0.8M49.6 36.4h1.6M52.8 36.4h0.8M18.4 37.2h0.8M35.2 37.2h0.8M48 37.2h1.6M50.4 37.2h0.8M52.8 37.2h0.8M56 37.2h0.8M58.4 37.2h1.6M60.8 37.2h0.8M62.4 37.2h0.8M18.4 38h0.8M21.6 38h0.8M37.6 38h0.8M40.8 38h0.8M42.4 38h0.8M48 38h0.8M49.6 38h0.8M62.4 38h0.8M11.2 38.8h0.8M24.8 38.8h0.8M27.2 38.8h0.8M30.4 38.8h0.8M32 38.8h0.8M34.4 38.8h1.6M36.8 38.8h0.8M42.4 38.8h1.6M51.2 38.8h0.8M57.6 38.8h1.6M24 39.6h0.8M28.8 39.6h0.8M42.4 39.6h0.8M44 39.6h0.8M46.4 39.6h0.8M48.8 39.6h0.8M61.6 39.6h0.8M20.8 40.4h0.8M23.2 40.4h0.8M25.6 40.4h0.8M30.4 40.4h0.8M32 40.4h0.8M33.6 40.4h0.8M36 40.4h0.8M39.2 40.4h0.8M45.6 40.4h0.8M47.2 40.4h2.4M29.6 41.2h0.8M31.2 41.2h0.8M32.8 41.2h1.6M39.2 41.2h2.4M45.6 41.2h0.8M48.8 41.2h0.8M52.8 41.2h0.8M64 41.2h0.8M69.6 41.2h0.8M23.2 42h0.8M27.2 42h0.8M30.4 42h0.8M36 42h0.8M39.2 42h1.6M42.4 42h1.6M51.2 42h0.8M52.8 42h1.6M66.4 42h1.6M18.4 42.8h0.8M27.2 42.8h0.8M35.2 42.8h0.8M36.8 42.8h0.8M44.8 42.8h0.8M51.2 42.8h0.8M52.8 42.8h1.6M36 43.6h0.8M39.2 43.6h0.8M42.4 43.6h0.8M47.2 43.6h0.8M52 43.6h0.8M64 43.6h0.8M21.6 44.4h0.8M31.2 44.4h0.8M37.6 44.4h0.8M40 44.4h1.6M43.2 44.4h0.8M48.8 44.4h0.8M67.2 44.4h0.8M20.8 45.2h0.8M27.2 45.2h0.8M38.4 45.2h1.6M48 45.2h0.8M51.2 45.2h1.6M64.8 45.2h0.8M31.2 46h0.8M34.4 46h0.8M40.8 46h0.8M48.8 46h1.6M12.8 46.8h0.8M32 46.8h1.6M36.8 46.8h0.8M64 46.8h1.6M26.4 47.6h0.8M49.6 47.6h1.6M52 47.6h0.8M36.8 48.4h1.6M40 48.4h0.8M65.6 48.4h0.8M28.8 49.2h0.8M31.2 49.2h0.8M33.6 49.2h1.6M34.4 50h0.8M36 50h0.8M45.6 50h0.8M64.8 50h0.8M29.6 50.8h0.8M46.4 50.8h0.8M66.4 50.8h0.8M36.8 51.6h0.8M40.8 51.6h1.6M49.6 51.6h0.8M41.6 52.4h0.8M48.8 52.4h0.8M50.4 52.4h0.8M64.8 52.4h1.6M67.2 52.4h1.6M38.4 53.2h0.8M43.2 53.2h0.8M36 54h0.8M39.2 54h0.8M66.4 54h0.8M36.8 54.8h0.8M48 54.8h0.8M34.4 55.6h0.8M38.4 55.6h0.8M40.8 55.6h0.8M64.8 55.6h0.8M44 56.4h0.8M66.4 56.4h0.8M47.2 57.2h0.8M50.4 57.2h0.8M64 57.2h0.8M49.6 58h0.8M51.2 58h0.8M68 58h0.8M49.6 58.8h0.8M51.2 58.8h0.8M66.4 58.8h1.6M51.2 59.6h0.8M65.6 59.6h0.8M46.4 60.4h0.8M49.6 60.4h0.8M62.4 60.4h0.8M67.2 60.4h0.8M29.6 61.2h0.8M64 61.2h0.8M50.4 62h0.8M63.2 62h0.8M67.2 62h0.8M49.6 63.6h0.8M51.2 63.6h1.6M56 65.2h0.8M64.8 65.2h0.8M50.4 66h1.6M52.8 66h0.8M58.4 66h1.6M61.6 66h0.8M68 66h0.8M54.4 66.8h0.8M58.4 66.8h0.8M52.8 67.6h0.8M48 68.4h0.8M62.4 68.4h0.8M56.8 70h0.8M56 70.8h0.8"/><path stroke="#3730ae" stroke-width="0.8" stroke-opacity="0.85" d="M27.2 18h0.8M27.2 18.8h1.6M23.2 19.6h0.8M31.2 19.6h1.6M28 20.4h0.8M33.6 20.4h0.8M36 20.4h0.8M28.8 21.2h0.8M33.6 21.2h0.8M22.4 22h0.8M26.4 22h0.8M28 22h1.6M31.2 22h1.6M35.2 22h0.8M23.2 22.8h0.8M24.8 22.8h0.8M28 22.8h0.8M33.6 22.8h0.8M30.4 23.6h1.6M34.4 23.6h1.6M24.8 24.4h1.6M27.2 24.4h0.8M28.8 24.4h1.6M35.2 24.4h0.8M36.8 24.4h0.8M39.2 24.4h0.8M41.6 24.4h0.8M24 25.2h0.8M25.6 25.2h0.8M28.8 25.2h1.6M33.6 25.2h0.8M38.4 25.2h0.8M23.2 26h0.8M25.6 26h1.6M28 26h1.6M31.2 26h0.8M33.6 26h0.8M20 26.8h0.8M25.6 26.8h0.8M30.4 26.8h1.6M32.8 26.8h0.8M34.4 26.8h0.8M37.6 26.8h0.8M40 26.8h0.8M22.4 27.6h1.6M24.8 27.6h0.8M26.4 27.6h0.8M29.6 27.6h0.8M31.2 27.6h1.6M36 27.6h0.8M37.6 27.6h0.8M24 28.4h0.8M26.4 28.4h1.6M28.8 28.4h1.6M32 28.4h0.8M34.4 28.4h1.6M39.2 28.4h0.8M26.4 29.2h0.8M28 29.2h0.8M38.4 29.2h2.4M22.4 30h0.8M27.2 30h0.8M29.6 30h1.6M37.6 30h0.8M41.6 30h0.8M43.2 30h0.8M26.4 30.8h1.6M28.8 30.8h0.8M31.2 30.8h2.4M35.2 30.8h0.8M38.4 30.8h0.8M30.4 31.6h0.8M33.6 31.6h0.8M39.2 31.6h0.8M44 31.6h0.8M29.6 32.4h1.6M32 32.4h0.8M36.8 32.4h0.8M27.2 33.2h2.4M32 33.2h1.6M40 33.2h0.8M34.4 34h2.4M38.4 34h0.8M32.8 34.8h0.8M34.4 35.6h0.8M37.6 35.6h1.6M44 35.6h0.8M36.8 36.4h0.8M40 38h0.8M56 38.8h0.8M56 40.4h1.6M56.8 41.2h3.2M60.8 41.2h0.8M61.6 42h0.8M55.2 42.8h1.6M54.4 43.6h1.6M62.4 43.6h1.6M52.8 44.4h0.8M63.2 44.4h0.8M52.8 45.2h0.8M54.4 45.2h0.8M63.2 45.2h0.8M52 46h0.8M64 46h0.8M52 46.8h1.6M53.6 47.6h0.8M52 48.4h0.8M53.6 48.4h0.8M64 48.4h0.8M50.4 49.2h1.6M64 49.2h0.8M52 50h1.6M64 50h0.8M51.2 50.8h1.6M52 51.6h1.6M63.2 51.6h0.8M51.2 52.4h0.8M52.8 52.4h0.8M51.2 53.2h0.8M52 54.8h0.8M64 55.6h0.8M52.8 56.4h0.8M63.2 56.4h1.6M52.8 57.2h0.8M52.8 58h0.8M52.8 58.8h0.8M62.4 58.8h1.6M52.8 59.6h0.8M61.6 59.6h1.6M52.8 60.4h0.8M54.4 60.4h0.8M63.2 60.4h0.8M61.6 61.2h0.8M52.8 62h0.8M54.4 62h0.8M54.4 62.8h0.8M60 62.8h2.4M55.2 63.6h0.8M56.8 63.6h0.8M59.2 63.6h1.6M54.4 64.4h0.8M60 64.4h0.8M56.8 65.2h1.6"/><path stroke="#282ca5" stroke-width="0.8" d="M32.8 27.6h0.8M60 42h0.8M56.8 42.8h0.8M58.4 42.8h4M56 43.6h0.8M60 43.6h0.8M56 44.4h0.8M53.6 45.2h0.8M56 45.2h0.8M62.4 45.2h0.8M56 46h0.8M54.4 46.8h0.8M62.4 46.8h1.6M54.4 47.6h1.6M63.2 48.4h0.8M52.8 49.2h0.8M63.2 49.2h0.8M53.6 50h1.6M53.6 50.8h0.8M53.6 52.4h0.8M53.6 53.2h0.8M52.8 54.8h0.8M63.2 54.8h0.8M53.6 56.4h0.8M53.6 58h1.6M62.4 58h1.6M54.4 61.2h0.8M60.8 61.2h0.8M55.2 62h1.6M60.8 62h0.8M56.8 62.8h0.8M59.2 62.8h0.8M58.4 63.6h0.8"/><path stroke="#2050a8" stroke-width="0.8" d="M57.6 43.6h0.8M56.8 44.4h0.8M58.4 44.4h1.6M60.8 44.4h0.8M55.2 45.2h0.8M56.8 45.2h1.6M60 45.2h1.6M55.2 46h0.8M56.8 46h0.8M62.4 46h0.8M61.6 46.8h0.8M55.2 48.4h0.8M62.4 48.4h0.8M61.6 50h0.8M62.4 50.8h1.6M54.4 51.6h0.8M62.4 51.6h0.8M62.4 52.4h0.8M62.4 53.2h0.8M62.4 54h0.8M62.4 54.8h0.8M53.6 55.6h0.8M54.4 56.4h0.8M62.4 56.4h0.8M61.6 57.2h0.8M61.6 58h0.8M54.4 58.8h1.6M61.6 58.8h0.8M54.4 59.6h0.8M56 60.4h0.8M55.2 61.2h3.2M59.2 61.2h1.6M56.8 62h0.8M59.2 62h0.8M57.6 62.8h0.8"/><path stroke="#1b72a4" stroke-width="0.8" d="M59.2 43.6h0.8M57.6 44.4h0.8M56 46.8h0.8M62.4 49.2h0.8M55.2 51.6h0.8M54.4 52.4h0.8M54.4 54h0.8M54.4 54.8h0.8M61.6 55.6h0.8M61.6 56.4h0.8M54.4 57.2h1.6M60.8 58.8h0.8M56 59.6h0.8M60 59.6h0.8M60 60.4h0.8M58.4 62h0.8"/><path stroke="#198e99" stroke-width="0.8" d="M60 44.4h0.8M58.4 45.2h1.6M59.2 46h1.6M60.8 46.8h0.8M56 47.6h0.8M61.6 47.6h0.8M56 48.4h0.8M55.2 50h0.8M55.2 50.8h0.8M61.6 50.8h0.8M61.6 51.6h0.8M61.6 52.4h0.8M55.2 53.2h0.8M61.6 53.2h0.8M55.2 54h0.8M54.4 55.6h0.8M55.2 56.4h0.8M60.8 58h0.8M59.2 59.6h0.8M56.8 60.4h0.8M58.4 61.2h0.8"/><path stroke="#1f9e7e" stroke-width="0.8" d="M55.2 46.8h0.8M60.8 47.6h0.8M56.8 48.4h0.8M60.8 48.4h0.8M56 49.2h0.8M56 50h0.8M61.6 54h0.8M55.2 54.8h0.8M60.8 54.8h1.6M55.2 55.6h0.8M56 56.4h0.8M56 57.2h0.8M55.2 58h0.8M60 58h0.8M56.8 58.8h0.8M59.2 58.8h1.6M56.8 59.6h0.8M58.4 60.4h1.6"/><path stroke="#2aaa5a" stroke-width="0.8" d="M58.4 46h0.8M59.2 46.8h0.8M56.8 47.6h0.8M60.8 49.2h0.8M56 54h0.8M60.8 55.6h0.8M60.8 56.4h0.8M56 58h0.8M56 58.8h0.8M57.6 59.6h1.6M57.6 60.4h0.8"/><path stroke="#50b846" stroke-width="0.8" d="M57.6 46.8h0.8M60 46.8h0.8M57.6 47.6h0.8M56.8 49.2h0.8M56.8 50h0.8M60.8 50h0.8M60.8 50.8h0.8M60.8 51.6h0.8M55.2 52.4h0.8M60.8 52.4h0.8M56 53.2h0.8M60.8 53.2h0.8M59.2 58h0.8"/><path stroke="#7bc635" stroke-width="0.8" d="M58.4 46.8h0.8M58.4 47.6h2.4M57.6 48.4h0.8M59.2 48.4h0.8M60 50.8h0.8M56 51.6h1.6M56 52.4h0.8M60.8 54h0.8M60 54.8h0.8M56.8 56.4h0.8M56.8 57.2h0.8M57.6 58h1.6"/><path stroke="#abd32e" stroke-width="0.8" d="M60 48.4h0.8M57.6 49.2h0.8M60 49.2h0.8M56 50.8h0.8M56 54.8h0.8M60 55.6h0.8M60 56.4h0.8M60 57.2h0.8M57.6 58.8h0.8"/><path stroke="#dce029" stroke-width="0.8" d="M60 51.6h0.8M57.6 53.2h0.8M56.8 54.8h0.8M57.6 57.2h0.8"/><path stroke="#ebcc24" stroke-width="0.8" d="M58.4 48.4h0.8M58.4 49.2h1.6M59.2 50h0.8M57.6 50.8h0.8M58.4 52.4h0.8M60 52.4h0.8M60 53.2h0.8M56 55.6h0.8M58.4 56.4h1.6M58.4 57.2h1.6"/><path stroke="#f4b01f" stroke-width="0.8" d="M60 50h0.8M56.8 50.8h0.8M58.4 54h0.8M57.6 54.8h0.8M56.8 55.6h1.6M59.2 55.6h0.8M56.8 58h0.8"/><path stroke="#f38a1c" stroke-width="0.8" d="M57.6 50h1.6M58.4 50.8h0.8M56.8 52.4h0.8M56.8 53.2h0.8M56.8 54h0.8M59.2 54h1.6M58.4 54.8h1.6M57.6 56.4h0.8"/><path stroke="#ee601a" stroke-width="0.8" d="M59.2 50.8h0.8M58.4 51.6h1.6"/><path stroke="#e53e19" stroke-width="0.8" d="M57.6 51.6h0.8M57.6 52.4h0.8M59.2 52.4h0.8M58.4 53.2h1.6M57.6 54h0.8M58.4 55.6h0.8"/></g>
<rect x="420.6" y="54.2" width="72.6" height="72" fill="none" stroke="#b4b4b4" stroke-width=".8"/>
<path d="M427.1 126.2v2.2M439.6 126.2v2.2M451.1 126.2v2.2M469.6 126.2v2.2M487.1 126.2v2.2" stroke="#000" stroke-width="1.1" fill="none"/>
<path d="M456.67 126.2v1.2M459.93 126.2v1.2M462.24 126.2v1.2M464.03 126.2v1.2M465.5 126.2v1.2M466.73 126.2v1.2M467.81 126.2v1.2M468.75 126.2v1.2M474.87 126.2v1.2M477.95 126.2v1.2M480.14 126.2v1.2M481.83 126.2v1.2M483.22 126.2v1.2M484.39 126.2v1.2M485.4 126.2v1.2M486.3 126.2v1.2M430.1 126.2v1.2M432.6 126.2v1.2M434.6 126.2v1.2M436.1 126.2v1.2M437.1 126.2v1.2M438.1 126.2v1.2M438.8 126.2v1.2M440.4 126.2v1.2M441.1 126.2v1.2M442.1 126.2v1.2M443.1 126.2v1.2M444.6 126.2v1.2M446.6 126.2v1.2M448.6 126.2v1.2" stroke="#000" stroke-width=".8" fill="none"/>
<rect x="437" y="126.4" width="2.6" height="1.5" fill="#111"/>
<path d="M433.4 78.5L435.7 71.5L446.8 68.2L462.2 66.9L475.2 69.2L477.5 74.6L477.2 85.4L471.4 93.1L460.6 98L449.8 98L439.1 94.6L435.2 86.9z" fill="none" stroke="#5a52b0" stroke-width=".9" stroke-linejoin="round"/>
<text transform="translate(423.5 64.6) scale(0.97 1)" font-size="9.1" font-weight="bold">22.2 %</text>
<text transform="translate(425.8 139) scale(0.85 1)" font-size="8.5" text-anchor="middle">-10<tspan font-size="5.27" dy="-2.6">3</tspan></text>
<text transform="translate(439.3 139) scale(0.85 1)" font-size="8.5" text-anchor="middle">0</text>
<text transform="translate(450.4 139) scale(0.85 1)" font-size="8.5" text-anchor="middle">10<tspan font-size="5.27" dy="-2.6">3</tspan></text>
<text transform="translate(469.1 139) scale(0.85 1)" font-size="8.5" text-anchor="middle">10<tspan font-size="5.27" dy="-2.6">4</tspan></text>
<text transform="translate(485.3 139) scale(0.85 1)" font-size="8.5" text-anchor="middle">10<tspan font-size="5.27" dy="-2.6">5</tspan></text>
<text transform="translate(49.5 63.3) scale(0.85 1)" font-size="8.5" text-anchor="end">10<tspan font-size="5.27" dy="-2.6">5</tspan></text>
<text transform="translate(49.5 80.3) scale(0.85 1)" font-size="8.5" text-anchor="end">10<tspan font-size="5.27" dy="-2.6">4</tspan></text>
<text transform="translate(49.5 96.8) scale(0.85 1)" font-size="8.5" text-anchor="end">10<tspan font-size="5.27" dy="-2.6">3</tspan></text>
<text transform="translate(48.5 119) scale(0.85 1)" font-size="8.5" text-anchor="end">0</text>
<line x1="24.6" y1="53" x2="24.6" y2="65" stroke="#111" stroke-width="1.7"/>
<path d="M24.600 46.200l3.800 9.400-3.800-1.800-3.800 1.800z" fill="#111"/>
<line x1="24.6" y1="109.5" x2="24.6" y2="126" stroke="#111" stroke-width="1.7"/>
<text transform="translate(28.7 88.5) rotate(-90) scale(0.75 1)" font-size="12" text-anchor="middle">CD138</text>
<line x1="56" y1="151.6" x2="255" y2="151.6" stroke="#111" stroke-width="1.7"/>
<text transform="translate(274.5 155.6) scale(0.75 1)" font-size="12" text-anchor="middle">B220</text>
<line x1="294" y1="151.6" x2="500" y2="151.6" stroke="#111" stroke-width="1.7"/>
<path d="M507 151.600l-9.400-3.800 1.800 3.800-1.800 3.800z" fill="#111"/>
<text transform="translate(258.5 328) scale(1.02 1)" font-size="9">Day 6</text>
<text transform="translate(298.5 341)" font-size="11.5" text-anchor="middle">WT</text>
<text transform="translate(373.6 341) scale(1.03 1)" font-size="11.5" text-anchor="middle">+/1013</text>
<g transform="translate(258.6 348.6)" fill="none" filter="url(#soft)"><path stroke="#584ab9" stroke-width="0.8" stroke-opacity="0.42" d="M12 0.4h0.8M57.6 0.4h0.8M17.6 1.2h0.8M40 1.2h0.8M42.4 1.2h0.8M48.8 1.2h0.8M52 1.2h0.8M54.4 1.2h0.8M75.2 1.2h0.8M42.4 2h0.8M50.4 2h0.8M62.4 2h0.8M8 2.8h0.8M20 2.8h0.8M24 2.8h0.8M48 2.8h0.8M49.6 2.8h0.8M60 2.8h0.8M14.4 3.6h0.8M16 3.6h0.8M20.8 3.6h0.8M31.2 3.6h0.8M41.6 3.6h0.8M61.6 3.6h0.8M23.2 4.4h0.8M32 4.4h2.4M35.2 4.4h0.8M46.4 4.4h0.8M60 4.4h0.8M35.2 5.2h2.4M41.6 5.2h1.6M53.6 5.2h0.8M21.6 6h0.8M24 6h0.8M26.4 6h1.6M30.4 6h0.8M33.6 6h0.8M43.2 6h0.8M46.4 6h0.8M48 6h1.6M53.6 6h0.8M55.2 6h0.8M9.6 6.8h0.8M34.4 6.8h0.8M36.8 6.8h0.8M39.2 6.8h0.8M40.8 6.8h1.6M43.2 6.8h1.6M50.4 6.8h0.8M52.8 6.8h0.8M58.4 6.8h0.8M16 7.6h0.8M19.2 7.6h0.8M22.4 7.6h0.8M26.4 7.6h0.8M32 7.6h1.6M41.6 7.6h0.8M50.4 7.6h0.8M52.8 7.6h0.8M61.6 7.6h0.8M15.2 8.4h0.8M23.2 8.4h1.6M28 8.4h0.8M32.8 8.4h0.8M37.6 8.4h0.8M40 8.4h1.6M44 8.4h0.8M48 8.4h1.6M52 8.4h2.4M57.6 8.4h0.8M22.4 9.2h0.8M26.4 9.2h0.8M28.8 9.2h0.8M30.4 9.2h0.8M32 9.2h0.8M38.4 9.2h2.4M44 9.2h0.8M57.6 9.2h0.8M60 9.2h0.8M62.4 9.2h0.8M65.6 9.2h0.8M15.2 10h0.8M16.8 10h0.8M18.4 10h0.8M21.6 10h0.8M28.8 10h0.8M32 10h2.4M36 10h0.8M41.6 10h0.8M44.8 10h1.6M52.8 10h0.8M18.4 10.8h0.8M20 10.8h0.8M21.6 10.8h0.8M27.2 10.8h0.8M31.2 10.8h0.8M41.6 10.8h0.8M57.6 10.8h0.8M59.2 10.8h0.8M60.8 10.8h0.8M62.4 10.8h0.8M74.4 10.8h0.8M16 11.6h0.8M17.6 11.6h0.8M25.6 11.6h0.8M27.2 11.6h0.8M63.2 11.6h0.8M72 11.6h0.8M9.6 12.4h0.8M20.8 12.4h0.8M24.8 12.4h0.8M26.4 12.4h0.8M30.4 12.4h0.8M59.2 12.4h1.6M63.2 12.4h0.8M3.2 13.2h0.8M21.6 13.2h0.8M28 13.2h0.8M58.4 13.2h0.8M62.4 13.2h0.8M20.8 14h0.8M22.4 14h0.8M24 14h0.8M25.6 14h0.8M28 14h0.8M29.6 14h0.8M58.4 14h0.8M60.8 14h0.8M62.4 14h0.8M5.6 14.8h0.8M10.4 14.8h0.8M12 14.8h0.8M16.8 14.8h0.8M21.6 14.8h1.6M25.6 14.8h0.8M60.8 14.8h0.8M62.4 14.8h0.8M64 14.8h0.8M65.6 14.8h0.8M5.6 15.6h0.8M12 15.6h0.8M19.2 15.6h0.8M24 15.6h0.8M25.6 15.6h0.8M60.8 15.6h1.6M17.6 16.4h0.8M19.2 16.4h2.4M22.4 16.4h0.8M24.8 16.4h0.8M65.6 16.4h0.8M6.4 17.2h0.8M12 17.2h0.8M18.4 17.2h0.8M63.2 17.2h0.8M9.6 18h0.8M13.6 18h0.8M19.2 18h0.8M63.2 18h1.6M65.6 18h0.8M68.8 18h0.8M8.8 18.8h0.8M18.4 18.8h0.8M23.2 18.8h0.8M14.4 19.6h0.8M20 19.6h0.8M22.4 19.6h0.8M64 19.6h0.8M65.6 19.6h0.8M67.2 19.6h0.8M4 20.4h0.8M6.4 20.4h0.8M16.8 20.4h0.8M19.2 20.4h0.8M21.6 20.4h0.8M64 20.4h0.8M75.2 20.4h0.8M5.6 21.2h0.8M11.2 21.2h1.6M14.4 21.2h0.8M17.6 21.2h1.6M20 21.2h0.8M64 21.2h1.6M70.4 21.2h0.8M5.6 22h0.8M12 22h1.6M68.8 22h0.8M19.2 22.8h0.8M21.6 22.8h0.8M0.8 23.6h0.8M11.2 23.6h1.6M17.6 23.6h0.8M19.2 23.6h0.8M21.6 23.6h1.6M64.8 23.6h0.8M70.4 23.6h0.8M0 24.4h0.8M4 24.4h0.8M9.6 24.4h0.8M15.2 24.4h1.6M18.4 24.4h0.8M24 24.4h0.8M66.4 24.4h0.8M12 25.2h0.8M13.6 25.2h1.6M16 25.2h0.8M19.2 25.2h0.8M64.8 25.2h1.6M68 25.2h1.6M73.6 25.2h0.8M0.8 26h0.8M4.8 26h0.8M12.8 26h0.8M17.6 26h0.8M65.6 26h0.8M12 26.8h0.8M16.8 26.8h0.8M19.2 26.8h0.8M69.6 26.8h0.8M0.8 27.6h0.8M66.4 27.6h0.8M9.6 28.4h0.8M16 28.4h0.8M17.6 28.4h1.6M0.8 29.2h0.8M4.8 29.2h0.8M11.2 29.2h3.2M2.4 30h0.8M15.2 30h0.8M16.8 30h1.6M6.4 30.8h0.8M8 30.8h0.8M10.4 30.8h1.6M12.8 30.8h0.8M66.4 30.8h0.8M69.6 30.8h1.6M7.2 31.6h0.8M13.6 31.6h0.8M67.2 31.6h1.6M2.4 32.4h0.8M8 32.4h0.8M10.4 32.4h1.6M15.2 32.4h0.8M67.2 32.4h1.6M6.4 33.2h0.8M8.8 33.2h0.8M13.6 33.2h1.6M3.2 34h0.8M69.6 34h1.6M75.2 34h0.8M4 34.8h1.6M6.4 34.8h0.8M1.6 35.6h0.8M3.2 35.6h1.6M6.4 35.6h0.8M72.8 35.6h0.8M4 36.4h0.8M1.6 37.2h0.8M73.6 37.2h0.8M1.6 38h0.8M72 38h0.8M68.8 38.8h1.6M69.6 39.6h0.8M68.8 41.2h0.8M73.6 41.2h0.8M74.4 42h0.8M70.4 42.8h0.8M76 42.8h0.8M70.4 43.6h0.8M72.8 43.6h0.8M72 44.4h0.8M75.2 44.4h0.8M70.4 45.2h0.8M72 45.2h2.4M75.2 45.2h0.8M70.4 46h0.8M73.6 46h0.8M70.4 46.8h0.8M74.4 46.8h0.8M73.6 47.6h0.8M71.2 48.4h0.8M72 49.2h1.6M74.4 49.2h0.8M76 49.2h0.8M72 50h0.8M75.2 50h0.8M73.6 50.8h1.6M74.4 51.6h0.8M74.4 52.4h0.8M76 52.4h0.8M74.4 53.2h0.8M76 53.2h0.8M76 54h0.8M73.6 54.8h1.6M74.4 55.6h1.6M73.6 56.4h0.8M74.4 57.2h1.6M74.4 58h1.6M75.2 60.4h0.8M73.6 61.2h0.8M75.2 62h0.8M73.6 62.8h0.8M75.2 63.6h0.8M72.8 67.6h0.8M76 67.6h0.8"/><path stroke="#37299b" stroke-width="0.8" stroke-opacity="0.62" d="M35.2 10h0.8M51.2 10h0.8M34.4 10.8h0.8M48.8 10.8h0.8M51.2 10.8h0.8M52.8 10.8h1.6M34.4 11.6h0.8M37.6 11.6h0.8M41.6 11.6h0.8M44 11.6h0.8M45.6 11.6h3.2M52 11.6h0.8M55.2 11.6h0.8M31.2 12.4h0.8M32.8 12.4h1.6M35.2 12.4h0.8M36.8 12.4h0.8M38.4 12.4h0.8M40 12.4h0.8M43.2 12.4h0.8M47.2 12.4h4M55.2 12.4h1.6M57.6 12.4h0.8M28.8 13.2h0.8M30.4 13.2h0.8M32 13.2h0.8M36.8 13.2h0.8M43.2 13.2h1.6M48.8 13.2h3.2M52.8 13.2h0.8M54.4 13.2h0.8M32.8 14h0.8M36.8 14h2.4M40 14h0.8M42.4 14h0.8M46.4 14h1.6M50.4 14h0.8M52 14h1.6M55.2 14h0.8M56.8 14h0.8M28.8 14.8h2.4M32 14.8h0.8M35.2 14.8h0.8M39.2 14.8h0.8M40.8 14.8h0.8M43.2 14.8h2.4M48 14.8h2.4M53.6 14.8h2.4M56.8 14.8h0.8M27.2 15.6h0.8M29.6 15.6h0.8M31.2 15.6h0.8M32.8 15.6h1.6M35.2 15.6h1.6M37.6 15.6h0.8M39.2 15.6h0.8M41.6 15.6h0.8M44 15.6h0.8M47.2 15.6h1.6M55.2 15.6h0.8M56.8 15.6h1.6M29.6 16.4h0.8M32.8 16.4h0.8M34.4 16.4h1.6M38.4 16.4h2.4M41.6 16.4h0.8M43.2 16.4h0.8M46.4 16.4h1.6M57.6 16.4h0.8M27.2 17.2h1.6M32 17.2h1.6M34.4 17.2h0.8M36.8 17.2h4M43.2 17.2h1.6M45.6 17.2h3.2M59.2 17.2h2.4M25.6 18h1.6M29.6 18h2.4M32.8 18h0.8M34.4 18h0.8M38.4 18h1.6M40.8 18h0.8M44.8 18h2.4M60 18h1.6M24 18.8h1.6M28.8 18.8h0.8M32 18.8h0.8M33.6 18.8h1.6M36 18.8h2.4M43.2 18.8h2.4M59.2 18.8h1.6M25.6 19.6h0.8M28 19.6h0.8M30.4 19.6h0.8M35.2 19.6h1.6M41.6 19.6h0.8M44 19.6h1.6M26.4 20.4h0.8M28.8 20.4h0.8M30.4 20.4h0.8M32.8 20.4h1.6M36 20.4h0.8M38.4 20.4h1.6M42.4 20.4h1.6M60 20.4h0.8M28 21.2h1.6M32.8 21.2h0.8M35.2 21.2h3.2M40.8 21.2h1.6M61.6 21.2h0.8M21.6 22h0.8M24.8 22h1.6M27.2 22h3.2M33.6 22h0.8M36 22h1.6M38.4 22h5.6M60.8 22h1.6M63.2 22h0.8M25.6 22.8h0.8M28.8 22.8h1.6M32 22.8h0.8M34.4 22.8h0.8M36 22.8h1.6M39.2 22.8h1.6M41.6 22.8h0.8M44 22.8h0.8M24 23.6h0.8M25.6 23.6h0.8M27.2 23.6h1.6M33.6 23.6h0.8M40 23.6h0.8M42.4 23.6h1.6M61.6 23.6h0.8M63.2 23.6h0.8M20.8 24.4h0.8M28 24.4h1.6M32 24.4h2.4M35.2 24.4h1.6M37.6 24.4h0.8M40 24.4h0.8M42.4 24.4h0.8M62.4 24.4h1.6M21.6 25.2h0.8M23.2 25.2h1.6M26.4 25.2h1.6M28.8 25.2h0.8M33.6 25.2h0.8M35.2 25.2h2.4M41.6 25.2h0.8M64 25.2h0.8M25.6 26h0.8M28.8 26h1.6M31.2 26h2.4M34.4 26h1.6M38.4 26h1.6M41.6 26h0.8M62.4 26h2.4M21.6 26.8h2.4M25.6 26.8h4M30.4 26.8h0.8M32.8 26.8h2.4M37.6 26.8h0.8M41.6 26.8h0.8M63.2 26.8h2.4M22.4 27.6h0.8M25.6 27.6h0.8M27.2 27.6h1.6M31.2 27.6h2.4M36.8 27.6h1.6M64.8 27.6h0.8M19.2 28.4h0.8M22.4 28.4h0.8M24.8 28.4h0.8M27.2 28.4h1.6M29.6 28.4h0.8M31.2 28.4h0.8M33.6 28.4h4.8M39.2 28.4h1.6M63.2 28.4h2.4M21.6 29.2h0.8M23.2 29.2h0.8M26.4 29.2h0.8M28 29.2h2.4M31.2 29.2h2.4M34.4 29.2h0.8M36 29.2h0.8M39.2 29.2h0.8M40.8 29.2h0.8M64 29.2h0.8M19.2 30h2.4M24 30h1.6M27.2 30h0.8M28.8 30h0.8M30.4 30h1.6M32.8 30h1.6M36 30h0.8M38.4 30h1.6M64 30h0.8M19.2 30.8h1.6M21.6 30.8h0.8M23.2 30.8h0.8M27.2 30.8h0.8M30.4 30.8h5.6M37.6 30.8h0.8M40 30.8h0.8M64 30.8h1.6M16 31.6h0.8M20 31.6h4M24.8 31.6h0.8M26.4 31.6h0.8M29.6 31.6h0.8M31.2 31.6h0.8M33.6 31.6h0.8M36.8 31.6h0.8M65.6 31.6h0.8M18.4 32.4h0.8M22.4 32.4h0.8M24 32.4h0.8M28.8 32.4h1.6M31.2 32.4h1.6M65.6 32.4h1.6M17.6 33.2h4.8M24 33.2h0.8M25.6 33.2h1.6M28 33.2h0.8M64.8 33.2h0.8M67.2 33.2h0.8M12.8 34h0.8M16 34h2.4M20 34h0.8M24.8 34h0.8M12.8 34.8h1.6M15.2 34.8h1.6M17.6 34.8h0.8M20 34.8h4M24.8 34.8h0.8M8.8 35.6h0.8M10.4 35.6h3.2M15.2 35.6h0.8M16.8 35.6h0.8M18.4 35.6h2.4M23.2 35.6h0.8M65.6 35.6h0.8M8.8 36.4h0.8M12 36.4h1.6M16.8 36.4h0.8M65.6 36.4h1.6M8 37.2h2.4M11.2 37.2h0.8M14.4 37.2h0.8M16 37.2h0.8M19.2 37.2h0.8M20.8 37.2h0.8M65.6 37.2h1.6M68 37.2h0.8M8.8 38h1.6M11.2 38h1.6M13.6 38h0.8M65.6 38h1.6M2.4 38.8h0.8M4.8 38.8h0.8M6.4 38.8h5.6M66.4 38.8h0.8M0.8 39.6h1.6M3.2 39.6h0.8M5.6 39.6h0.8M7.2 39.6h0.8M0 40.4h0.8M3.2 40.4h2.4M66.4 40.4h2.4M0 41.2h0.8M2.4 41.2h1.6M67.2 41.2h0.8M0 42h0.8M67.2 42h1.6M0 42.8h0.8M66.4 43.6h0.8M68 43.6h1.6M66.4 44.4h0.8M68 45.2h0.8M69.6 45.2h0.8M68 46h0.8M69.6 46h0.8M68.8 46.8h0.8M67.2 47.6h0.8M68 48.4h1.6M70.4 48.4h0.8M68 49.2h1.6M70.4 49.2h1.6M68.8 50h0.8M70.4 50h0.8M68 50.8h3.2M72 51.6h0.8M66.4 52.4h0.8M68.8 52.4h2.4M68.8 53.2h0.8M71.2 53.2h0.8M68.8 54h1.6M72 54h0.8M69.6 54.8h1.6M68 55.6h0.8M71.2 55.6h1.6M68.8 56.4h2.4M72 56.4h0.8M68.8 57.2h3.2M69.6 58h0.8M71.2 58h2.4M67.2 58.8h0.8M68.8 58.8h1.6M68.8 60.4h0.8M72 60.4h0.8M68 61.2h0.8M69.6 61.2h0.8M71.2 61.2h1.6M68 62h0.8M70.4 62h2.4M67.2 62.8h1.6M69.6 62.8h0.8M71.2 62.8h0.8M68 63.6h2.4M70.4 64.4h0.8M67.2 65.2h0.8M69.6 65.2h0.8M71.2 65.2h0.8M67.2 66h0.8M65.6 66.8h1.6M68 66.8h0.8M69.6 66.8h0.8M65.6 67.6h1.6M69.6 67.6h0.8M71.2 67.6h0.8"/><path stroke="#2f2393" stroke-width="0.8" stroke-opacity="0.85" d="M51.2 14h0.8M50.4 14.8h0.8M52.8 14.8h0.8M49.6 15.6h0.8M52 15.6h0.8M53.6 15.6h1.6M48.8 16.4h3.2M52.8 16.4h1.6M55.2 16.4h0.8M49.6 17.2h0.8M55.2 17.2h1.6M48 18h0.8M54.4 18h2.4M57.6 18h0.8M47.2 18.8h1.6M56 18.8h0.8M57.6 18.8h0.8M47.2 19.6h1.6M57.6 19.6h0.8M47.2 20.4h1.6M57.6 20.4h2.4M45.6 21.2h1.6M57.6 21.2h2.4M45.6 22h1.6M58.4 22h0.8M60 22h0.8M45.6 22.8h1.6M58.4 22.8h2.4M44 23.6h2.4M59.2 23.6h2.4M44 24.4h2.4M60 24.4h2.4M43.2 25.2h0.8M44.8 25.2h1.6M60.8 25.2h0.8M44.8 26h0.8M60.8 26h0.8M42.4 26.8h0.8M44.8 26.8h0.8M61.6 26.8h0.8M41.6 27.6h0.8M44 27.6h1.6M62.4 27.6h0.8M42.4 28.4h2.4M61.6 28.4h0.8M41.6 29.2h3.2M61.6 29.2h1.6M40 30h3.2M62.4 30h0.8M39.2 30.8h0.8M40.8 30.8h1.6M62.4 30.8h0.8M32 31.6h0.8M35.2 31.6h1.6M40.8 31.6h2.4M63.2 31.6h1.6M27.2 32.4h0.8M32.8 32.4h1.6M36 32.4h2.4M39.2 32.4h1.6M29.6 33.2h4M34.4 33.2h0.8M36.8 33.2h0.8M38.4 33.2h0.8M40.8 33.2h0.8M63.2 33.2h0.8M26.4 34h0.8M28 34h4M35.2 34h0.8M38.4 34h2.4M63.2 34h1.6M30.4 34.8h0.8M32 34.8h1.6M35.2 34.8h2.4M39.2 34.8h1.6M63.2 34.8h1.6M24 35.6h1.6M26.4 35.6h5.6M33.6 35.6h5.6M40 35.6h0.8M63.2 35.6h1.6M20 36.4h0.8M21.6 36.4h0.8M24.8 36.4h1.6M28 36.4h3.2M32 36.4h0.8M34.4 36.4h1.6M38.4 36.4h1.6M64 36.4h1.6M20 37.2h0.8M22.4 37.2h1.6M28 37.2h4M33.6 37.2h3.2M38.4 37.2h1.6M64 37.2h1.6M14.4 38h0.8M16 38h1.6M18.4 38h4.8M26.4 38h3.2M31.2 38h0.8M32.8 38h0.8M34.4 38h0.8M36 38h1.6M64.8 38h0.8M12 38.8h0.8M13.6 38.8h2.4M16.8 38.8h5.6M23.2 38.8h0.8M24.8 38.8h0.8M28 38.8h2.4M64.8 38.8h0.8M8 39.6h0.8M10.4 39.6h2.4M13.6 39.6h1.6M16 39.6h4.8M22.4 39.6h1.6M64.8 39.6h1.6M5.6 40.4h4.8M11.2 40.4h0.8M13.6 40.4h0.8M65.6 40.4h0.8M4 41.2h2.4M7.2 41.2h1.6M9.6 41.2h0.8M64.8 41.2h1.6M2.4 42h5.6M65.6 42h0.8M0.8 42.8h1.6M3.2 42.8h0.8M4.8 42.8h0.8M64.8 42.8h0.8M0 43.6h1.6M2.4 43.6h1.6M64.8 43.6h1.6M0 44.4h0.8M1.6 44.4h0.8M64.8 44.4h0.8M0 45.2h1.6M64.8 45.2h0.8M65.6 46h1.6M64.8 46.8h1.6M66.4 47.6h0.8M66.4 48.4h0.8M65.6 49.2h1.6M65.6 50h2.4M66.4 50.8h0.8M65.6 51.6h2.4M67.2 52.4h0.8M65.6 53.2h3.2M67.2 54h1.6M67.2 54.8h0.8M68.8 54.8h0.8M66.4 55.6h0.8M66.4 56.4h2.4M65.6 57.2h1.6M65.6 58h3.2M66.4 58.8h0.8M68 59.6h0.8M64.8 60.4h1.6M64.8 61.2h0.8M66.4 61.2h0.8M64 62h4M64.8 62.8h0.8M66.4 62.8h0.8M64.8 63.6h0.8M64 64.4h0.8M65.6 64.4h1.6M63.2 65.2h2.4M64.8 66.8h0.8M61.6 67.6h0.8M63.2 67.6h2.4"/><path stroke="#2a2092" stroke-width="1.05" d="M52 16.4h0.8M50.4 17.2h2.4M53.6 17.2h0.8M49.6 18h0.8M51.2 18h1.6M49.6 18.8h6.4M48.8 19.6h8M49.6 20.4h7.2M48 21.2h8M48 22h10.4M47.2 22.8h10.4M46.4 23.6h4.8M52 23.6h7.2M46.4 24.4h4.8M52.8 24.4h7.2M46.4 25.2h3.2M55.2 25.2h3.2M59.2 25.2h0.8M45.6 26h1.6M48 26h1.6M54.4 26h2.4M57.6 26h0.8M59.2 26h1.6M45.6 26.8h4M55.2 26.8h5.6M45.6 27.6h3.2M56 27.6h1.6M58.4 27.6h2.4M44.8 28.4h3.2M56 28.4h4.8M44.8 29.2h4M56 29.2h5.6M43.2 30h0.8M44.8 30h3.2M56.8 30h5.6M43.2 30.8h2.4M46.4 30.8h1.6M56.8 30.8h5.6M43.2 31.6h4.8M57.6 31.6h3.2M61.6 31.6h0.8M42.4 32.4h4.8M57.6 32.4h5.6M42.4 33.2h4.8M58.4 33.2h4.8M41.6 34h2.4M44.8 34h2.4M58.4 34h4.8M40.8 34.8h1.6M43.2 34.8h4M58.4 34.8h4M40.8 35.6h5.6M58.4 35.6h3.2M40 36.4h6.4M58.4 36.4h4M63.2 36.4h0.8M36.8 37.2h1.6M40 37.2h5.6M59.2 37.2h4.8M35.2 38h0.8M37.6 38h2.4M41.6 38h4M59.2 38h5.6M25.6 38.8h0.8M27.2 38.8h0.8M30.4 38.8h6.4M37.6 38.8h0.8M39.2 38.8h6.4M60 38.8h3.2M64 38.8h0.8M21.6 39.6h0.8M24 39.6h1.6M28 39.6h0.8M30.4 39.6h2.4M34.4 39.6h11.2M60 39.6h4.8M14.4 40.4h0.8M16.8 40.4h1.6M19.2 40.4h2.4M22.4 40.4h4M27.2 40.4h4M32 40.4h4.8M37.6 40.4h2.4M40.8 40.4h4.8M60 40.4h4M12 41.2h8.8M21.6 41.2h2.4M24.8 41.2h4.8M30.4 41.2h14.4M59.2 41.2h5.6M8.8 42h8M17.6 42h0.8M19.2 42h25.6M60 42h4.8M6.4 42.8h0.8M8 42.8h3.2M12 42.8h2.4M15.2 42.8h15.2M31.2 42.8h1.6M33.6 42.8h6.4M41.6 42.8h3.2M60 42.8h4.8M4 43.6h4.8M9.6 43.6h1.6M12 43.6h10.4M23.2 43.6h21.6M60 43.6h4.8M3.2 44.4h4.8M8.8 44.4h12.8M22.4 44.4h2.4M25.6 44.4h4.8M32 44.4h6.4M39.2 44.4h5.6M61.6 44.4h3.2M1.6 45.2h16.8M19.2 45.2h24M60 45.2h4.8M1.6 46h12.8M22.4 46h20.8M60.8 46h0.8M62.4 46h0.8M64 46h1.6M0 46.8h10.4M23.2 46.8h9.6M33.6 46.8h10.4M60 46.8h4.8M0 47.6h0.8M2.4 47.6h7.2M25.6 47.6h16.8M60.8 47.6h4M0 48.4h9.6M25.6 48.4h17.6M60 48.4h4.8M0 49.2h8M28 49.2h14.4M60.8 49.2h0.8M62.4 49.2h2.4M0 50h5.6M27.2 50h0.8M28.8 50h12M60 50h5.6M0 50.8h5.6M29.6 50.8h0.8M31.2 50.8h11.2M60 50.8h2.4M63.2 50.8h3.2M0.8 51.6h4M31.2 51.6h2.4M34.4 51.6h6.4M60 51.6h2.4M63.2 51.6h1.6M0 52.4h4M28.8 52.4h0.8M32.8 52.4h0.8M34.4 52.4h2.4M37.6 52.4h1.6M60 52.4h4.8M0 53.2h2.4M3.2 53.2h0.8M33.6 53.2h0.8M36.8 53.2h0.8M40.8 53.2h0.8M60 53.2h4.8M0 54h3.2M32.8 54h0.8M36 54h0.8M37.6 54h1.6M60 54h5.6M0 54.8h1.6M32.8 54.8h0.8M34.4 54.8h0.8M36.8 54.8h0.8M60 54.8h5.6M0 55.6h1.6M32.8 55.6h0.8M38.4 55.6h0.8M59.2 55.6h6.4M0 56.4h1.6M39.2 56.4h0.8M60 56.4h1.6M62.4 56.4h2.4M0 57.2h2.4M35.2 57.2h0.8M60 57.2h5.6M0 58h2.4M58.4 58h6.4M0 58.8h2.4M59.2 58.8h6.4M0 59.6h1.6M58.4 59.6h7.2M0.8 60.4h1.6M31.2 60.4h0.8M58.4 60.4h6.4M0 61.2h3.2M37.6 61.2h0.8M57.6 61.2h7.2M0 62h2.4M36.8 62h0.8M38.4 62h0.8M56.8 62h7.2M0 62.8h3.2M32 62.8h0.8M33.6 62.8h0.8M38.4 62.8h0.8M40 62.8h0.8M56.8 62.8h8M0 63.6h4M33.6 63.6h0.8M35.2 63.6h1.6M38.4 63.6h0.8M40 63.6h0.8M42.4 63.6h0.8M56.8 63.6h2.4M60 63.6h3.2M0 64.4h4M4.8 64.4h0.8M30.4 64.4h0.8M32 64.4h1.6M34.4 64.4h0.8M36 64.4h0.8M37.6 64.4h2.4M40.8 64.4h1.6M44 64.4h0.8M55.2 64.4h4.8M60.8 64.4h0.8M62.4 64.4h1.6M0 65.2h5.6M28 65.2h0.8M31.2 65.2h1.6M33.6 65.2h5.6M40.8 65.2h4.8M54.4 65.2h8.8M0 66h4.8M5.6 66h1.6M26.4 66h1.6M28.8 66h6.4M36 66h8.8M45.6 66h0.8M55.2 66h4.8M61.6 66h0.8M0 66.8h6.4M26.4 66.8h20.8M52.8 66.8h10.4M0 67.6h1.6M2.4 67.6h7.2M22.4 67.6h0.8M24 67.6h11.2M36 67.6h13.6M52 67.6h1.6M54.4 67.6h5.6M60.8 67.6h0.8"/><path stroke="#26289d" stroke-width="1.05" d="M51.2 23.6h0.8M51.2 24.4h1.6M49.6 25.2h2.4M52.8 25.2h2.4M49.6 26h1.6M53.6 26h0.8M49.6 26.8h0.8M54.4 26.8h0.8M48.8 27.6h0.8M54.4 27.6h1.6M48 28.4h1.6M55.2 28.4h0.8M55.2 29.2h0.8M48 30h0.8M55.2 30h1.6M48 30.8h0.8M56 30.8h0.8M56 31.6h1.6M47.2 32.4h0.8M56.8 32.4h0.8M47.2 33.2h0.8M56.8 33.2h1.6M47.2 34h0.8M56.8 34h1.6M57.6 34.8h0.8M46.4 35.6h0.8M57.6 35.6h0.8M57.6 36.4h0.8M45.6 37.2h1.6M57.6 37.2h1.6M45.6 38h0.8M57.6 38h1.6M45.6 38.8h0.8M57.6 38.8h2.4M45.6 39.6h0.8M57.6 39.6h2.4M45.6 40.4h0.8M58.4 40.4h1.6M44.8 41.2h1.6M58.4 41.2h0.8M44.8 42h0.8M58.4 42h1.6M44.8 42.8h0.8M59.2 42.8h0.8M44.8 43.6h0.8M58.4 43.6h1.6M44.8 44.4h1.6M59.2 44.4h1.6M18.4 45.2h0.8M43.2 45.2h2.4M59.2 45.2h0.8M14.4 46h8M43.2 46h1.6M58.4 46h2.4M10.4 46.8h4M15.2 46.8h0.8M16.8 46.8h1.6M20 46.8h3.2M44 46.8h0.8M58.4 46.8h1.6M9.6 47.6h1.6M22.4 47.6h3.2M42.4 47.6h2.4M59.2 47.6h1.6M9.6 48.4h1.6M23.2 48.4h2.4M43.2 48.4h1.6M58.4 48.4h1.6M8 49.2h2.4M23.2 49.2h4.8M42.4 49.2h2.4M59.2 49.2h1.6M5.6 50h4M25.6 50h1.6M28 50h0.8M40.8 50h4M59.2 50h0.8M5.6 50.8h2.4M25.6 50.8h4M30.4 50.8h0.8M42.4 50.8h0.8M58.4 50.8h1.6M4.8 51.6h3.2M25.6 51.6h5.6M33.6 51.6h0.8M40.8 51.6h3.2M59.2 51.6h0.8M4 52.4h2.4M26.4 52.4h2.4M29.6 52.4h3.2M33.6 52.4h0.8M36.8 52.4h0.8M39.2 52.4h4M44 52.4h0.8M58.4 52.4h1.6M2.4 53.2h0.8M4 53.2h0.8M5.6 53.2h0.8M27.2 53.2h6.4M34.4 53.2h2.4M37.6 53.2h3.2M41.6 53.2h3.2M57.6 53.2h2.4M3.2 54h2.4M28.8 54h4M33.6 54h2.4M36.8 54h0.8M39.2 54h4.8M58.4 54h1.6M1.6 54.8h4M28 54.8h4.8M33.6 54.8h0.8M35.2 54.8h1.6M37.6 54.8h6.4M58.4 54.8h1.6M2.4 55.6h2.4M27.2 55.6h5.6M33.6 55.6h4.8M39.2 55.6h4M44.8 55.6h0.8M57.6 55.6h1.6M1.6 56.4h4M29.6 56.4h9.6M40 56.4h3.2M57.6 56.4h2.4M2.4 57.2h1.6M28 57.2h0.8M29.6 57.2h5.6M36 57.2h8M57.6 57.2h2.4M2.4 58h3.2M27.2 58h0.8M29.6 58h14.4M57.6 58h0.8M2.4 58.8h0.8M4 58.8h0.8M28 58.8h16M56.8 58.8h2.4M1.6 59.6h4M28.8 59.6h0.8M30.4 59.6h14.4M56.8 59.6h1.6M2.4 60.4h2.4M29.6 60.4h1.6M32 60.4h13.6M56 60.4h2.4M3.2 61.2h1.6M5.6 61.2h0.8M28.8 61.2h0.8M30.4 61.2h7.2M38.4 61.2h7.2M56 61.2h1.6M2.4 62h3.2M6.4 62h0.8M28.8 62h8M37.6 62h0.8M39.2 62h5.6M46.4 62h0.8M56 62h0.8M3.2 62.8h3.2M26.4 62.8h5.6M32.8 62.8h0.8M34.4 62.8h4M39.2 62.8h0.8M40.8 62.8h2.4M44 62.8h2.4M54.4 62.8h2.4M4 63.6h3.2M26.4 63.6h7.2M34.4 63.6h0.8M36.8 63.6h1.6M39.2 63.6h0.8M40.8 63.6h1.6M43.2 63.6h3.2M53.6 63.6h3.2M5.6 64.4h1.6M25.6 64.4h4.8M31.2 64.4h0.8M33.6 64.4h0.8M35.2 64.4h0.8M36.8 64.4h0.8M40 64.4h0.8M42.4 64.4h1.6M44.8 64.4h2.4M53.6 64.4h1.6M5.6 65.2h3.2M24.8 65.2h3.2M28.8 65.2h2.4M39.2 65.2h1.6M45.6 65.2h2.4M52.8 65.2h0.8M4.8 66h0.8M7.2 66h3.2M24 66h2.4M28 66h0.8M35.2 66h0.8M44.8 66h0.8M46.4 66h3.2M51.2 66h4M6.4 66.8h4.8M22.4 66.8h0.8M24 66.8h2.4M47.2 66.8h5.6M9.6 67.6h4.8M19.2 67.6h3.2M23.2 67.6h0.8M49.6 67.6h2.4M53.6 67.6h0.8"/><path stroke="#223bb2" stroke-width="1.05" d="M52 25.2h0.8M51.2 26h2.4M50.4 26.8h0.8M52 26.8h2.4M49.6 27.6h1.6M53.6 27.6h0.8M54.4 28.4h0.8M48.8 29.2h0.8M48.8 30h0.8M54.4 30h0.8M54.4 30.8h1.6M48 31.6h0.8M55.2 31.6h0.8M48 32.4h0.8M56 32.4h0.8M55.2 33.2h1.6M56 34h0.8M47.2 34.8h0.8M56 34.8h1.6M47.2 35.6h0.8M56 35.6h1.6M46.4 36.4h1.6M56.8 36.4h0.8M47.2 37.2h0.8M56.8 37.2h0.8M46.4 38h0.8M56.8 38h0.8M46.4 38.8h0.8M46.4 39.6h0.8M56.8 39.6h0.8M46.4 40.4h0.8M56.8 40.4h1.6M46.4 41.2h0.8M57.6 41.2h0.8M45.6 42h0.8M57.6 42h0.8M45.6 42.8h1.6M56.8 42.8h2.4M45.6 43.6h0.8M56.8 43.6h1.6M57.6 44.4h1.6M45.6 45.2h0.8M57.6 45.2h1.6M44.8 46h1.6M57.6 46h0.8M14.4 46.8h0.8M16 46.8h0.8M18.4 46.8h1.6M44.8 46.8h1.6M57.6 46.8h0.8M11.2 47.6h4.8M18.4 47.6h4M44.8 47.6h1.6M57.6 47.6h1.6M11.2 48.4h1.6M20.8 48.4h2.4M44.8 48.4h1.6M57.6 48.4h0.8M10.4 49.2h1.6M21.6 49.2h1.6M44.8 49.2h0.8M56.8 49.2h2.4M9.6 50h1.6M23.2 50h2.4M44.8 50h0.8M57.6 50h1.6M8 50.8h2.4M24 50.8h1.6M43.2 50.8h2.4M56.8 50.8h1.6M8 51.6h2.4M24.8 51.6h0.8M44 51.6h1.6M56.8 51.6h2.4M6.4 52.4h2.4M24.8 52.4h1.6M43.2 52.4h0.8M44.8 52.4h1.6M56.8 52.4h1.6M4.8 53.2h0.8M6.4 53.2h2.4M25.6 53.2h1.6M44.8 53.2h1.6M56.8 53.2h0.8M5.6 54h2.4M26.4 54h2.4M44 54h1.6M57.6 54h0.8M5.6 54.8h1.6M26.4 54.8h1.6M44 54.8h0.8M56.8 54.8h1.6M4.8 55.6h1.6M26.4 55.6h0.8M43.2 55.6h1.6M45.6 55.6h0.8M56.8 55.6h0.8M5.6 56.4h1.6M25.6 56.4h0.8M27.2 56.4h2.4M43.2 56.4h2.4M56 56.4h1.6M4 57.2h1.6M6.4 57.2h0.8M25.6 57.2h2.4M28.8 57.2h0.8M44 57.2h2.4M56 57.2h1.6M5.6 58h1.6M26.4 58h0.8M28 58h1.6M44 58h2.4M55.2 58h2.4M3.2 58.8h0.8M4.8 58.8h2.4M25.6 58.8h2.4M44 58.8h3.2M55.2 58.8h1.6M5.6 59.6h0.8M25.6 59.6h3.2M29.6 59.6h0.8M44.8 59.6h1.6M55.2 59.6h1.6M4.8 60.4h1.6M8 60.4h0.8M25.6 60.4h4M45.6 60.4h0.8M55.2 60.4h0.8M4.8 61.2h0.8M6.4 61.2h1.6M25.6 61.2h0.8M27.2 61.2h1.6M29.6 61.2h0.8M45.6 61.2h1.6M54.4 61.2h1.6M5.6 62h0.8M7.2 62h1.6M24 62h1.6M26.4 62h2.4M44.8 62h1.6M54.4 62h1.6M6.4 62.8h1.6M8.8 62.8h0.8M24.8 62.8h1.6M46.4 62.8h2.4M53.6 62.8h0.8M7.2 63.6h2.4M24 63.6h0.8M25.6 63.6h0.8M46.4 63.6h2.4M7.2 64.4h4M23.2 64.4h2.4M47.2 64.4h2.4M52 64.4h1.6M8.8 65.2h3.2M21.6 65.2h3.2M48 65.2h4.8M53.6 65.2h0.8M10.4 66h1.6M20 66h0.8M21.6 66h2.4M49.6 66h1.6M11.2 66.8h2.4M14.4 66.8h1.6M16.8 66.8h0.8M18.4 66.8h4M23.2 66.8h0.8M14.4 67.6h4.8"/><path stroke="#1e5ac2" stroke-width="1.05" d="M51.2 26.8h0.8M51.2 27.6h2.4M49.6 28.4h1.6M52 28.4h2.4M49.6 29.2h5.6M49.6 30h0.8M52 30h2.4M48.8 30.8h1.6M53.6 30.8h0.8M48.8 31.6h0.8M54.4 31.6h0.8M48.8 32.4h0.8M55.2 32.4h0.8M48 33.2h1.6M54.4 33.2h0.8M48 34h0.8M55.2 34h0.8M48 34.8h0.8M55.2 34.8h0.8M48 35.6h0.8M55.2 35.6h0.8M56 36.4h0.8M56 37.2h0.8M47.2 38h0.8M56 38h0.8M47.2 38.8h0.8M56 38.8h1.6M47.2 39.6h0.8M56 39.6h0.8M47.2 41.2h0.8M56 41.2h1.6M46.4 42h0.8M56.8 42h0.8M56 42.8h0.8M46.4 43.6h0.8M46.4 44.4h0.8M56.8 44.4h0.8M46.4 45.2h0.8M56 45.2h1.6M46.4 46h0.8M56 46h1.6M46.4 46.8h0.8M56.8 46.8h0.8M16 47.6h2.4M56 47.6h1.6M12.8 48.4h2.4M16 48.4h0.8M17.6 48.4h3.2M56.8 48.4h0.8M12 49.2h2.4M20.8 49.2h0.8M45.6 49.2h1.6M56 49.2h0.8M11.2 50h1.6M20.8 50h2.4M45.6 50h1.6M56.8 50h0.8M10.4 50.8h1.6M22.4 50.8h1.6M45.6 50.8h0.8M56 50.8h0.8M10.4 51.6h1.6M22.4 51.6h2.4M45.6 51.6h0.8M56 51.6h0.8M8.8 52.4h2.4M23.2 52.4h1.6M56 52.4h0.8M8.8 53.2h1.6M23.2 53.2h2.4M46.4 53.2h0.8M56 53.2h0.8M8 54h2.4M23.2 54h3.2M45.6 54h1.6M56 54h1.6M7.2 54.8h3.2M24 54.8h2.4M45.6 54.8h0.8M55.2 54.8h1.6M6.4 55.6h3.2M24.8 55.6h1.6M46.4 55.6h0.8M55.2 55.6h1.6M7.2 56.4h2.4M24 56.4h1.6M26.4 56.4h0.8M45.6 56.4h1.6M55.2 56.4h0.8M5.6 57.2h0.8M7.2 57.2h2.4M24.8 57.2h0.8M46.4 57.2h0.8M55.2 57.2h0.8M7.2 58h2.4M24.8 58h1.6M46.4 58h0.8M54.4 58h0.8M7.2 58.8h1.6M24.8 58.8h0.8M47.2 58.8h0.8M6.4 59.6h3.2M24 59.6h1.6M46.4 59.6h0.8M54.4 59.6h0.8M6.4 60.4h1.6M8.8 60.4h1.6M23.2 60.4h2.4M46.4 60.4h1.6M53.6 60.4h1.6M8 61.2h2.4M24 61.2h1.6M26.4 61.2h0.8M47.2 61.2h0.8M53.6 61.2h0.8M8.8 62h2.4M23.2 62h0.8M25.6 62h0.8M47.2 62h1.6M52.8 62h1.6M8 62.8h0.8M9.6 62.8h2.4M22.4 62.8h2.4M48.8 62.8h0.8M52.8 62.8h0.8M9.6 63.6h3.2M22.4 63.6h1.6M24.8 63.6h0.8M48.8 63.6h1.6M51.2 63.6h2.4M11.2 64.4h1.6M20.8 64.4h2.4M49.6 64.4h2.4M12 65.2h2.4M19.2 65.2h0.8M20.8 65.2h0.8M12 66h5.6M18.4 66h1.6M20.8 66h0.8M13.6 66.8h0.8M16 66.8h0.8M17.6 66.8h0.8"/><path stroke="#1c82c9" stroke-width="1.05" d="M51.2 28.4h0.8M50.4 30h1.6M50.4 30.8h1.6M52.8 30.8h0.8M49.6 31.6h0.8M52 31.6h0.8M53.6 31.6h0.8M49.6 32.4h0.8M53.6 32.4h1.6M48.8 34h0.8M54.4 34h0.8M48.8 34.8h0.8M54.4 35.6h0.8M48 36.4h0.8M55.2 36.4h0.8M48 37.2h0.8M54.4 37.2h1.6M48 38h0.8M55.2 38h0.8M55.2 38.8h0.8M55.2 39.6h0.8M47.2 40.4h0.8M55.2 40.4h1.6M47.2 42h0.8M56 42h0.8M47.2 42.8h0.8M47.2 43.6h0.8M56 43.6h0.8M56 44.4h0.8M47.2 45.2h0.8M55.2 46h0.8M55.2 46.8h1.6M46.4 47.6h0.8M15.2 48.4h0.8M16.8 48.4h0.8M46.4 48.4h0.8M56 48.4h0.8M14.4 49.2h1.6M18.4 49.2h2.4M12.8 50h1.6M55.2 50h1.6M12 50.8h1.6M20.8 50.8h1.6M46.4 50.8h0.8M55.2 50.8h0.8M12 51.6h0.8M21.6 51.6h0.8M46.4 51.6h0.8M11.2 52.4h1.6M22.4 52.4h0.8M46.4 52.4h0.8M55.2 52.4h0.8M10.4 53.2h0.8M55.2 53.2h0.8M10.4 54h0.8M55.2 54h0.8M23.2 54.8h0.8M46.4 54.8h0.8M9.6 55.6h1.6M24 55.6h0.8M9.6 56.4h0.8M23.2 56.4h0.8M54.4 56.4h0.8M9.6 57.2h0.8M24 57.2h0.8M54.4 57.2h0.8M9.6 58h0.8M24 58h0.8M8.8 58.8h1.6M23.2 58.8h1.6M54.4 58.8h0.8M9.6 59.6h0.8M47.2 59.6h0.8M53.6 59.6h0.8M10.4 60.4h0.8M10.4 61.2h0.8M22.4 61.2h1.6M48 61.2h0.8M52.8 61.2h0.8M11.2 62h0.8M48.8 62h0.8M12 62.8h0.8M21.6 62.8h0.8M49.6 62.8h0.8M51.2 62.8h1.6M12.8 63.6h0.8M20.8 63.6h1.6M50.4 63.6h0.8M12.8 64.4h1.6M19.2 64.4h1.6M14.4 65.2h2.4M17.6 65.2h1.6M20 65.2h0.8M17.6 66h0.8"/><path stroke="#1c9cb8" stroke-width="1.05" d="M52 30.8h0.8M50.4 31.6h1.6M52.8 31.6h0.8M50.4 32.4h3.2M49.6 33.2h2.4M52.8 33.2h1.6M49.6 34h0.8M53.6 34h0.8M49.6 34.8h0.8M54.4 34.8h0.8M48.8 35.6h0.8M53.6 35.6h0.8M48.8 36.4h0.8M54.4 36.4h0.8M48.8 37.2h0.8M54.4 38h0.8M48 38.8h1.6M54.4 38.8h0.8M48 39.6h0.8M54.4 39.6h0.8M48 40.4h0.8M54.4 40.4h0.8M48 41.2h0.8M55.2 41.2h0.8M55.2 42h0.8M55.2 42.8h0.8M55.2 43.6h0.8M47.2 44.4h0.8M54.4 44.4h1.6M55.2 45.2h0.8M47.2 46h0.8M47.2 46.8h0.8M47.2 47.6h0.8M55.2 47.6h0.8M47.2 48.4h0.8M55.2 48.4h0.8M16 49.2h2.4M55.2 49.2h0.8M14.4 50h6.4M47.2 50h0.8M13.6 50.8h0.8M19.2 50.8h1.6M47.2 50.8h0.8M12.8 51.6h0.8M20.8 51.6h0.8M47.2 51.6h0.8M55.2 51.6h0.8M21.6 52.4h0.8M47.2 52.4h0.8M11.2 53.2h1.6M21.6 53.2h1.6M11.2 54h1.6M22.4 54h0.8M10.4 54.8h1.6M22.4 54.8h0.8M47.2 54.8h0.8M54.4 54.8h0.8M11.2 55.6h0.8M22.4 55.6h1.6M47.2 55.6h0.8M54.4 55.6h0.8M10.4 56.4h1.6M47.2 56.4h0.8M10.4 57.2h1.6M22.4 57.2h1.6M47.2 57.2h0.8M10.4 58h1.6M23.2 58h0.8M47.2 58h0.8M53.6 58h0.8M10.4 58.8h0.8M22.4 58.8h0.8M48 58.8h0.8M53.6 58.8h0.8M10.4 59.6h1.6M22.4 59.6h1.6M48 59.6h0.8M11.2 60.4h0.8M21.6 60.4h1.6M48 60.4h1.6M52.8 60.4h0.8M11.2 61.2h1.6M21.6 61.2h0.8M48.8 61.2h0.8M52 61.2h0.8M12 62h1.6M21.6 62h1.6M49.6 62h3.2M12.8 62.8h0.8M20.8 62.8h0.8M50.4 62.8h0.8M13.6 63.6h0.8M16.8 63.6h0.8M19.2 63.6h1.6M14.4 64.4h4.8M16.8 65.2h0.8"/><path stroke="#22aa8d" stroke-width="1.05" d="M52 33.2h0.8M50.4 34h3.2M50.4 34.8h0.8M52 34.8h2.4M49.6 35.6h4M49.6 36.4h0.8M52.8 36.4h1.6M49.6 37.2h0.8M53.6 37.2h0.8M48.8 38h0.8M53.6 38h0.8M53.6 38.8h0.8M48.8 39.6h0.8M54.4 41.2h0.8M48 42h1.6M54.4 42h0.8M48 42.8h0.8M54.4 42.8h0.8M48 43.6h0.8M54.4 43.6h0.8M54.4 45.2h0.8M47.2 49.2h0.8M54.4 49.2h0.8M14.4 50.8h1.6M17.6 50.8h1.6M54.4 50.8h0.8M13.6 51.6h1.6M19.2 51.6h1.6M12.8 52.4h1.6M20.8 52.4h0.8M12.8 53.2h0.8M47.2 53.2h0.8M54.4 53.2h0.8M21.6 54h0.8M47.2 54h0.8M54.4 54h0.8M12 54.8h0.8M21.6 54.8h0.8M12 56.4h0.8M22.4 56.4h0.8M53.6 56.4h0.8M12 57.2h0.8M48 57.2h0.8M53.6 57.2h0.8M12 58h0.8M22.4 58h0.8M48 58h0.8M11.2 58.8h1.6M21.6 58.8h0.8M52.8 58.8h0.8M21.6 59.6h0.8M48.8 59.6h0.8M52.8 59.6h0.8M12 60.4h0.8M20.8 60.4h0.8M52 60.4h0.8M12.8 61.2h0.8M20.8 61.2h0.8M49.6 61.2h2.4M13.6 62h0.8M20.8 62h0.8M13.6 62.8h2.4M16.8 62.8h0.8M19.2 62.8h1.6M14.4 63.6h2.4M17.6 63.6h1.6"/><path stroke="#2ab26c" stroke-width="1.05" d="M51.2 34.8h0.8M50.4 36.4h0.8M52 36.4h0.8M50.4 37.2h3.2M49.6 38h0.8M52.8 38h0.8M52.8 38.8h0.8M49.6 39.6h0.8M53.6 39.6h0.8M48.8 40.4h0.8M48.8 41.2h0.8M53.6 41.2h0.8M48.8 42.8h0.8M48 44.4h0.8M48 45.2h0.8M48 46h0.8M54.4 46h0.8M54.4 46.8h0.8M54.4 47.6h0.8M54.4 48.4h0.8M54.4 50h0.8M16 50.8h1.6M16 51.6h0.8M18.4 51.6h0.8M54.4 51.6h0.8M20 52.4h0.8M54.4 52.4h0.8M13.6 53.2h0.8M20.8 53.2h0.8M12.8 54h0.8M20.8 54h0.8M12 55.6h0.8M21.6 55.6h0.8M53.6 55.6h0.8M21.6 56.4h0.8M21.6 57.2h0.8M21.6 58h0.8M52.8 58h0.8M20.8 58.8h0.8M12 59.6h0.8M52 59.6h0.8M12.8 60.4h0.8M49.6 60.4h1.6M13.6 61.2h0.8M20 61.2h0.8M19.2 62h1.6M17.6 62.8h1.6"/><path stroke="#36b752" stroke-width="1.05" d="M51.2 36.4h0.8M50.4 38h0.8M52 38h0.8M49.6 38.8h0.8M52 38.8h0.8M52.8 39.6h0.8M49.6 40.4h0.8M53.6 40.4h0.8M53.6 42h0.8M53.6 42.8h0.8M48.8 44.4h0.8M53.6 44.4h0.8M48 46.8h0.8M48 47.6h0.8M48 48.4h0.8M15.2 51.6h0.8M16.8 51.6h1.6M14.4 52.4h1.6M20 53.2h0.8M13.6 54h0.8M53.6 54h0.8M12.8 54.8h0.8M20.8 54.8h0.8M53.6 54.8h0.8M12.8 55.6h0.8M20.8 55.6h0.8M48 55.6h0.8M12.8 56.4h0.8M48 56.4h0.8M52.8 57.2h0.8M20.8 58h0.8M12.8 58.8h0.8M48.8 58.8h0.8M12.8 59.6h0.8M20.8 59.6h0.8M13.6 60.4h0.8M20 60.4h0.8M51.2 60.4h0.8M14.4 62h1.6M16.8 62h0.8M16 62.8h0.8"/><path stroke="#53bf41" stroke-width="1.05" d="M51.2 38h0.8M50.4 38.8h1.6M51.2 39.6h1.6M52.8 40.4h0.8M49.6 41.2h0.8M52.8 42h0.8M48.8 43.6h0.8M53.6 43.6h0.8M48.8 45.2h0.8M48 49.2h0.8M48 50h0.8M48 50.8h0.8M16.8 52.4h3.2M48 52.4h0.8M14.4 53.2h0.8M16 53.2h0.8M19.2 53.2h0.8M48 53.2h0.8M53.6 53.2h0.8M20 54h0.8M48 54h0.8M48 54.8h0.8M13.6 55.6h0.8M20.8 56.4h0.8M52.8 56.4h0.8M12.8 57.2h0.8M20.8 57.2h0.8M12.8 58h0.8M48.8 58h0.8M49.6 58.8h0.8M52 58.8h0.8M20 59.6h0.8M49.6 59.6h2.4M19.2 60.4h0.8M15.2 61.2h0.8M16.8 61.2h0.8M18.4 61.2h1.6M17.6 62h1.6"/><path stroke="#7fca37" stroke-width="1.05" d="M50.4 39.6h0.8M50.4 40.4h0.8M52 40.4h0.8M50.4 41.2h3.2M49.6 42h0.8M49.6 42.8h0.8M52.8 42.8h0.8M52.8 43.6h0.8M53.6 45.2h0.8M48.8 46h0.8M53.6 46.8h0.8M53.6 48.4h0.8M53.6 49.2h0.8M53.6 50h0.8M53.6 50.8h0.8M48 51.6h0.8M53.6 51.6h0.8M16 52.4h0.8M15.2 53.2h0.8M17.6 53.2h1.6M14.4 54h0.8M19.2 54h0.8M13.6 54.8h0.8M20 54.8h0.8M20 55.6h0.8M13.6 56.4h0.8M48.8 56.4h0.8M20 57.2h0.8M48.8 57.2h0.8M13.6 58h0.8M20 58h0.8M49.6 58h0.8M13.6 58.8h0.8M19.2 58.8h1.6M51.2 58.8h0.8M13.6 59.6h1.6M18.4 59.6h1.6M14.4 60.4h0.8M14.4 61.2h0.8M16 62h0.8"/><path stroke="#abd530" stroke-width="1.05" d="M51.2 40.4h0.8M50.4 42h0.8M52 42h0.8M50.4 42.8h0.8M52 42.8h0.8M49.6 43.6h0.8M53.6 46h0.8M53.6 47.6h0.8M53.6 52.4h0.8M14.4 54.8h1.6M52.8 54.8h0.8M14.4 55.6h1.6M19.2 55.6h0.8M19.2 56.4h1.6M13.6 57.2h1.6M52 57.2h0.8M19.2 58h0.8M52 58h0.8M18.4 58.8h0.8M50.4 58.8h0.8M15.2 59.6h0.8M15.2 60.4h1.6M17.6 60.4h1.6M16 61.2h0.8M17.6 61.2h0.8"/><path stroke="#d4df2a" stroke-width="1.05" d="M51.2 42h0.8M51.2 42.8h0.8M51.2 43.6h0.8M49.6 44.4h0.8M52.8 44.4h0.8M49.6 45.2h0.8M52.8 45.2h0.8M52.8 46h0.8M48.8 46.8h0.8M48.8 47.6h0.8M16.8 53.2h0.8M15.2 54h4M18.4 54.8h1.6M48.8 55.6h0.8M52.8 55.6h0.8M14.4 56.4h0.8M52 56.4h0.8M19.2 57.2h0.8M49.6 57.2h0.8M14.4 58h0.8M50.4 58h0.8M14.4 58.8h0.8M16 58.8h1.6M16.8 59.6h0.8"/><path stroke="#ebd526" stroke-width="1.05" d="M50.4 43.6h0.8M52 43.6h0.8M52.8 46.8h0.8M48.8 48.4h0.8M48.8 51.6h0.8M48.8 53.2h0.8M48.8 54h0.8M16 54.8h1.6M48.8 54.8h0.8M17.6 55.6h1.6M15.2 56.4h1.6M17.6 56.4h1.6M49.6 56.4h0.8M15.2 57.2h0.8M18.4 57.2h0.8M15.2 58h0.8M18.4 58h0.8M51.2 58h0.8M15.2 58.8h0.8M16 59.6h0.8M17.6 59.6h0.8M16.8 60.4h0.8"/><path stroke="#f2b621" stroke-width="1.05" d="M52 44.4h0.8M48.8 49.2h0.8M48.8 50h0.8M52.8 50h0.8M48.8 52.4h0.8M52.8 53.2h0.8M52.8 54h0.8M17.6 54.8h0.8M16 55.6h1.6M52 55.6h0.8M16.8 56.4h0.8M16 57.2h1.6M51.2 57.2h0.8M16.8 58h1.6M17.6 58.8h0.8"/><path stroke="#f28e1d" stroke-width="1.05" d="M50.4 44.4h1.6M50.4 45.2h0.8M52 45.2h0.8M49.6 46h0.8M52 46h0.8M52.8 47.6h0.8M52.8 48.4h0.8M52.8 49.2h0.8M48.8 50.8h0.8M52.8 50.8h0.8M52.8 52.4h0.8M52 54.8h0.8M49.6 55.6h0.8M51.2 56.4h0.8M17.6 57.2h0.8M50.4 57.2h0.8M16 58h0.8"/><path stroke="#eb641b" stroke-width="1.05" d="M51.2 45.2h0.8M49.6 46.8h0.8M52 47.6h0.8M52.8 51.6h0.8M50.4 56.4h0.8"/><path stroke="#df3c19" stroke-width="1.05" d="M50.4 46h1.6M50.4 46.8h2.4M49.6 47.6h2.4M49.6 48.4h3.2M49.6 49.2h3.2M49.6 50h3.2M49.6 50.8h3.2M49.6 51.6h3.2M49.6 52.4h3.2M49.6 53.2h3.2M49.6 54h3.2M49.6 54.8h2.4M50.4 55.6h1.6"/></g>
<rect x="258.6" y="348.6" width="76.8" height="68.4" fill="none" stroke="#b4b4b4" stroke-width=".8"/>
<path d="M262.6 417v2.2M278.1 417v2.2M290.1 417v2.2M310.1 417v2.2M328.1 417v2.2" stroke="#000" stroke-width="1.1" fill="none"/>
<path d="M296.12 417v1.2M299.64 417v1.2M302.14 417v1.2M304.08 417v1.2M305.66 417v1.2M307 417v1.2M308.16 417v1.2M309.18 417v1.2M315.52 417v1.2M318.69 417v1.2M320.94 417v1.2M322.68 417v1.2M324.11 417v1.2M325.31 417v1.2M326.36 417v1.2M327.28 417v1.2M266.6 417v1.2M269.6 417v1.2M272.1 417v1.2M274.1 417v1.2M275.6 417v1.2M276.6 417v1.2M277.4 417v1.2M278.8 417v1.2M279.6 417v1.2M280.6 417v1.2M282.1 417v1.2M284.1 417v1.2M286.6 417v1.2" stroke="#000" stroke-width=".8" fill="none"/>
<path d="M258.6 354.1h-1.9M258.6 369.6h-1.9M258.6 386.6h-1.9M258.6 404.6h-1.9" stroke="#222" stroke-width=".8" fill="none"/>
<path d="M258.6 381.48h-1.1M258.6 378.49h-1.1M258.6 376.36h-1.1M258.6 374.72h-1.1M258.6 373.37h-1.1M258.6 372.23h-1.1M258.6 371.25h-1.1M258.6 370.38h-1.1M258.6 364.93h-1.1M258.6 362.2h-1.1M258.6 360.27h-1.1M258.6 358.77h-1.1M258.6 357.54h-1.1M258.6 356.5h-1.1M258.6 355.6h-1.1M258.6 354.81h-1.1M258.6 399.18h-1.1M258.6 396.01h-1.1M258.6 393.76h-1.1M258.6 392.02h-1.1M258.6 390.59h-1.1M258.6 389.39h-1.1M258.6 388.34h-1.1M258.6 387.42h-1.1M258.6 406.6h-1.1M258.6 408.1h-1.1M258.6 409.6h-1.1M258.6 410.6h-1.1M258.6 411.6h-1.1M258.6 412.6h-1.1M258.6 413.6h-1.1M258.6 414.6h-1.1" stroke="#444" stroke-width=".5" fill="none"/>
<rect x="276.6" y="417.2" width="2.8" height="1.5" fill="#111"/>
<path d="M268.1 369.5L270.5 361.3L282.8 353.2L297.5 349.9L313 349.6L320 366.2L311.4 369.5L302.4 376.9L290.1 376L277.9 375.2z" fill="none" stroke="#333" stroke-width=".7"/>
<text transform="translate(261.9 360.3) scale(0.97 1)" font-size="9.1" font-weight="bold">0.63 %</text>
<text transform="translate(262.1 431) scale(0.85 1)" font-size="8.5" text-anchor="middle">-10<tspan font-size="5.27" dy="-2.6">3</tspan></text>
<text transform="translate(278.1 431) scale(0.85 1)" font-size="8.5" text-anchor="middle">0</text>
<text transform="translate(290.6 431) scale(0.85 1)" font-size="8.5" text-anchor="middle">10<tspan font-size="5.27" dy="-2.6">3</tspan></text>
<text transform="translate(310.6 431) scale(0.85 1)" font-size="8.5" text-anchor="middle">10<tspan font-size="5.27" dy="-2.6">4</tspan></text>
<text transform="translate(328.6 431) scale(0.85 1)" font-size="8.5" text-anchor="middle">10<tspan font-size="5.27" dy="-2.6">5</tspan></text>
<g transform="translate(335.4 348.6)" fill="none" filter="url(#soft)"><path stroke="#584ab9" stroke-width="0.8" stroke-opacity="0.42" d="M20 0.4h0.8M28 0.4h0.8M38.4 0.4h0.8M48 0.4h0.8M59.2 0.4h1.6M24 1.2h0.8M25.6 1.2h1.6M28 1.2h0.8M34.4 1.2h0.8M41.6 1.2h0.8M47.2 1.2h2.4M52.8 1.2h0.8M55.2 1.2h0.8M6.4 2h0.8M16 2h0.8M24 2h0.8M33.6 2h0.8M35.2 2h0.8M42.4 2h0.8M47.2 2h0.8M49.6 2h1.6M58.4 2h0.8M62.4 2h0.8M65.6 2h0.8M18.4 2.8h0.8M20.8 2.8h0.8M32 2.8h0.8M48.8 2.8h0.8M50.4 2.8h2.4M54.4 2.8h0.8M12.8 3.6h0.8M16.8 3.6h1.6M21.6 3.6h0.8M24 3.6h0.8M26.4 3.6h0.8M28 3.6h0.8M32.8 3.6h0.8M52.8 3.6h1.6M21.6 4.4h0.8M25.6 4.4h1.6M53.6 4.4h1.6M56.8 4.4h1.6M59.2 4.4h0.8M70.4 4.4h0.8M7.2 5.2h0.8M9.6 5.2h0.8M16.8 5.2h0.8M20 5.2h0.8M57.6 5.2h0.8M2.4 6h0.8M10.4 6h0.8M12 6h0.8M57.6 6h0.8M15.2 6.8h0.8M60.8 6.8h0.8M68.8 6.8h0.8M2.4 7.6h0.8M73.6 7.6h0.8M12 8.4h0.8M60 8.4h1.6M4 9.2h1.6M12.8 9.2h0.8M14.4 9.2h0.8M65.6 9.2h0.8M70.4 9.2h0.8M0 10h0.8M5.6 10h0.8M10.4 10h0.8M13.6 10h0.8M4 10.8h0.8M12 10.8h1.6M63.2 10.8h0.8M68.8 10.8h0.8M71.2 10.8h0.8M11.2 11.6h0.8M62.4 11.6h0.8M64.8 11.6h0.8M1.6 12.4h0.8M7.2 12.4h0.8M8.8 12.4h0.8M11.2 12.4h0.8M63.2 12.4h0.8M64.8 12.4h0.8M72.8 12.4h0.8M0 13.2h0.8M6.4 13.2h0.8M9.6 13.2h0.8M63.2 13.2h0.8M0.8 14h0.8M4.8 14h0.8M6.4 14h0.8M68.8 14h0.8M71.2 14h0.8M9.6 14.8h0.8M63.2 14.8h0.8M71.2 14.8h0.8M8.8 15.6h0.8M64.8 15.6h0.8M75.2 15.6h0.8M1.6 16.4h0.8M9.6 16.4h0.8M63.2 16.4h0.8M65.6 16.4h0.8M69.6 16.4h0.8M74.4 16.4h0.8M2.4 17.2h0.8M6.4 17.2h1.6M9.6 17.2h0.8M64 17.2h0.8M2.4 18h1.6M7.2 18h0.8M65.6 18h1.6M73.6 18h0.8M4 18.8h0.8M5.6 18.8h0.8M72 18.8h0.8M6.4 19.6h2.4M9.6 19.6h0.8M64.8 19.6h0.8M68.8 19.6h0.8M2.4 20.4h0.8M4 20.4h0.8M9.6 20.4h0.8M70.4 20.4h0.8M8.8 21.2h0.8M68 21.2h0.8M72.8 21.2h0.8M1.6 22h0.8M5.6 22h0.8M8.8 22h0.8M66.4 22.8h0.8M4 23.6h0.8M7.2 23.6h0.8M66.4 23.6h0.8M69.6 23.6h0.8M71.2 23.6h0.8M73.6 23.6h0.8M4.8 24.4h0.8M6.4 24.4h1.6M67.2 24.4h0.8M4.8 25.2h0.8M67.2 25.2h0.8M71.2 25.2h1.6M4.8 26h0.8M0.8 26.8h0.8M68.8 26.8h0.8M4 27.6h0.8M68.8 27.6h1.6M71.2 27.6h0.8M75.2 27.6h0.8M4.8 28.4h0.8M69.6 28.4h0.8M0 29.2h0.8M3.2 29.2h1.6M70.4 29.2h1.6M0 30h0.8M2.4 31.6h0.8M0 32.4h0.8M2.4 32.4h0.8M4 32.4h0.8M73.6 32.4h0.8M72 33.2h0.8M75.2 33.2h0.8M0 34h0.8M1.6 34h0.8M0.8 34.8h1.6M3.2 34.8h0.8M0 35.6h0.8M72.8 35.6h0.8M0.8 36.4h1.6M76 36.4h0.8M0.8 37.2h0.8M0.8 38h0.8M0 38.8h0.8M72.8 38.8h0.8M76 38.8h0.8M72.8 40.4h1.6M73.6 41.2h0.8M74.4 43.6h0.8M75.2 44.4h0.8M73.6 45.2h0.8M75.2 45.2h0.8M75.2 46h0.8M74.4 46.8h0.8M75.2 48.4h1.6M74.4 51.6h1.6M76 52.4h0.8M75.2 54.8h0.8M75.2 56.4h1.6M75.2 59.6h0.8M75.2 60.4h1.6M75.2 62h1.6M76 63.6h0.8M75.2 65.2h0.8M72.8 67.6h0.8M74.4 67.6h0.8"/><path stroke="#37299b" stroke-width="0.8" stroke-opacity="0.62" d="M38.4 2.8h2.4M41.6 2.8h0.8M43.2 2.8h1.6M33.6 3.6h0.8M36 3.6h0.8M40 3.6h0.8M43.2 3.6h1.6M47.2 3.6h0.8M48.8 3.6h3.2M29.6 4.4h0.8M32 4.4h0.8M34.4 4.4h1.6M36.8 4.4h0.8M39.2 4.4h0.8M42.4 4.4h0.8M45.6 4.4h0.8M49.6 4.4h0.8M24 5.2h0.8M26.4 5.2h0.8M30.4 5.2h0.8M32 5.2h1.6M35.2 5.2h2.4M39.2 5.2h0.8M40.8 5.2h0.8M44.8 5.2h1.6M48 5.2h1.6M52.8 5.2h0.8M20.8 6h0.8M26.4 6h0.8M28.8 6h0.8M30.4 6h2.4M33.6 6h3.2M38.4 6h0.8M42.4 6h0.8M44 6h2.4M47.2 6h4M52.8 6h1.6M20 6.8h1.6M24.8 6.8h0.8M28 6.8h3.2M32.8 6.8h2.4M36.8 6.8h0.8M38.4 6.8h0.8M40 6.8h0.8M47.2 6.8h0.8M49.6 6.8h1.6M17.6 7.6h0.8M20.8 7.6h0.8M23.2 7.6h2.4M29.6 7.6h0.8M31.2 7.6h0.8M46.4 7.6h0.8M56 7.6h2.4M19.2 8.4h3.2M23.2 8.4h1.6M25.6 8.4h0.8M32 8.4h0.8M52 8.4h0.8M53.6 8.4h2.4M56.8 8.4h2.4M19.2 9.2h1.6M21.6 9.2h0.8M52 9.2h0.8M53.6 9.2h0.8M58.4 9.2h0.8M16 10h0.8M18.4 10h0.8M20 10h0.8M22.4 10h0.8M54.4 10h4M59.2 10h0.8M16 10.8h2.4M19.2 10.8h0.8M56.8 10.8h0.8M60.8 10.8h0.8M12.8 11.6h0.8M16 11.6h1.6M20 11.6h0.8M56.8 11.6h0.8M58.4 11.6h0.8M60 11.6h0.8M61.6 11.6h0.8M12.8 12.4h0.8M16 12.4h2.4M55.2 12.4h0.8M57.6 12.4h1.6M60.8 12.4h0.8M16 13.2h0.8M17.6 13.2h0.8M57.6 13.2h0.8M60.8 13.2h1.6M12.8 14h0.8M17.6 14h0.8M56.8 14h0.8M14.4 14.8h0.8M56.8 14.8h1.6M60 14.8h1.6M13.6 15.6h0.8M15.2 15.6h2.4M59.2 15.6h1.6M10.4 16.4h0.8M13.6 16.4h0.8M58.4 16.4h0.8M60 16.4h0.8M62.4 16.4h0.8M11.2 17.2h0.8M14.4 17.2h1.6M56.8 17.2h0.8M59.2 17.2h2.4M62.4 17.2h0.8M13.6 18h0.8M15.2 18h0.8M57.6 18h0.8M60.8 18h0.8M63.2 18h0.8M11.2 18.8h1.6M13.6 18.8h0.8M16.8 18.8h0.8M58.4 18.8h0.8M60 18.8h0.8M61.6 18.8h1.6M11.2 19.6h0.8M12.8 19.6h0.8M14.4 19.6h0.8M60.8 19.6h1.6M63.2 19.6h0.8M13.6 20.4h0.8M59.2 20.4h0.8M60.8 20.4h0.8M62.4 20.4h1.6M13.6 21.2h1.6M60.8 21.2h1.6M63.2 21.2h1.6M10.4 22h4M60.8 22h1.6M63.2 22h2.4M11.2 22.8h1.6M13.6 22.8h1.6M16 22.8h0.8M61.6 22.8h0.8M64 22.8h0.8M8.8 23.6h0.8M12 23.6h0.8M13.6 23.6h2.4M62.4 23.6h0.8M10.4 24.4h0.8M12 24.4h1.6M62.4 24.4h1.6M66.4 24.4h0.8M8.8 25.2h1.6M13.6 25.2h0.8M63.2 25.2h4M9.6 26h0.8M11.2 26h1.6M64 26h1.6M66.4 26h1.6M6.4 26.8h0.8M8.8 26.8h0.8M40.8 26.8h1.6M43.2 26.8h0.8M67.2 26.8h0.8M6.4 27.6h2.4M38.4 27.6h0.8M40 27.6h2.4M6.4 28.4h0.8M10.4 28.4h0.8M36 28.4h1.6M38.4 28.4h0.8M40 28.4h0.8M42.4 28.4h1.6M67.2 28.4h0.8M7.2 29.2h0.8M32 29.2h0.8M35.2 29.2h1.6M37.6 29.2h2.4M40.8 29.2h0.8M44 29.2h0.8M67.2 29.2h0.8M8 30h0.8M9.6 30h0.8M32.8 30h1.6M36.8 30h3.2M40.8 30h0.8M66.4 30h3.2M5.6 30.8h2.4M32.8 30.8h0.8M34.4 30.8h0.8M37.6 30.8h0.8M39.2 30.8h0.8M40.8 30.8h0.8M68 30.8h1.6M34.4 31.6h0.8M36.8 31.6h0.8M40.8 31.6h1.6M68 31.6h0.8M8.8 32.4h0.8M32.8 32.4h0.8M35.2 32.4h3.2M39.2 32.4h1.6M41.6 32.4h0.8M67.2 32.4h2.4M32 33.2h0.8M34.4 33.2h0.8M36 33.2h5.6M68 33.2h0.8M4.8 34h1.6M35.2 34h0.8M38.4 34h0.8M40.8 34h0.8M69.6 34h0.8M4 34.8h0.8M35.2 34.8h2.4M4.8 35.6h0.8M6.4 35.6h0.8M68.8 35.6h0.8M4.8 36.4h0.8M6.4 36.4h0.8M5.6 37.2h0.8M68.8 37.2h0.8M3.2 38h1.6M5.6 38h0.8M68.8 38h1.6M0.8 38.8h0.8M4.8 38.8h0.8M69.6 38.8h0.8M1.6 39.6h2.4M69.6 39.6h0.8M2.4 40.4h0.8M69.6 40.4h0.8M0 41.2h0.8M71.2 41.2h0.8M0 42h0.8M1.6 42h0.8M69.6 42h1.6M69.6 42.8h1.6M69.6 43.6h0.8M72 43.6h0.8M70.4 44.4h1.6M71.2 45.2h0.8M70.4 46h1.6M70.4 46.8h0.8M72.8 47.6h0.8M69.6 48.4h3.2M70.4 49.2h1.6M70.4 50h2.4M70.4 50.8h2.4M73.6 50.8h0.8M70.4 51.6h0.8M72 51.6h0.8M70.4 52.4h1.6M75.2 52.4h0.8M70.4 53.2h0.8M72.8 53.2h2.4M71.2 54.8h0.8M70.4 55.6h0.8M74.4 55.6h0.8M72.8 56.4h0.8M71.2 58h1.6M72.8 58.8h0.8M70.4 59.6h0.8M72 59.6h0.8M73.6 60.4h0.8M71.2 61.2h3.2M70.4 62h0.8M73.6 62h0.8M69.6 62.8h0.8M72 62.8h2.4M69.6 63.6h1.6M72 63.6h2.4M69.6 64.4h0.8M72 64.4h0.8M69.6 65.2h1.6M68.8 66h0.8M73.6 66h0.8M70.4 66.8h2.4M68 67.6h0.8M70.4 67.6h0.8"/><path stroke="#2f2393" stroke-width="0.8" stroke-opacity="0.85" d="M40.8 6.8h0.8M27.2 7.6h0.8M37.6 7.6h0.8M40 7.6h4.8M47.2 7.6h2.4M24.8 8.4h0.8M29.6 8.4h0.8M31.2 8.4h0.8M33.6 8.4h1.6M36 8.4h0.8M37.6 8.4h0.8M42.4 8.4h1.6M46.4 8.4h3.2M51.2 8.4h0.8M24 9.2h1.6M27.2 9.2h1.6M29.6 9.2h0.8M31.2 9.2h0.8M33.6 9.2h1.6M36 9.2h1.6M40 9.2h0.8M42.4 9.2h0.8M45.6 9.2h0.8M47.2 9.2h0.8M50.4 9.2h1.6M21.6 10h0.8M24 10h0.8M27.2 10h0.8M28.8 10h4.8M35.2 10h6.4M42.4 10h0.8M44 10h4.8M49.6 10h0.8M53.6 10h0.8M21.6 10.8h0.8M26.4 10.8h0.8M28 10.8h1.6M32 10.8h2.4M35.2 10.8h2.4M39.2 10.8h1.6M44 10.8h0.8M49.6 10.8h4M55.2 10.8h0.8M23.2 11.6h1.6M26.4 11.6h0.8M28 11.6h0.8M34.4 11.6h0.8M36 11.6h0.8M44.8 11.6h0.8M50.4 11.6h2.4M54.4 11.6h1.6M21.6 12.4h6.4M28.8 12.4h0.8M30.4 12.4h0.8M32.8 12.4h0.8M44 12.4h0.8M47.2 12.4h0.8M49.6 12.4h1.6M52 12.4h3.2M56 12.4h0.8M18.4 13.2h0.8M20 13.2h0.8M21.6 13.2h2.4M24.8 13.2h0.8M52 13.2h3.2M18.4 14h0.8M20 14h2.4M23.2 14h1.6M48.8 14h0.8M51.2 14h0.8M54.4 14h1.6M17.6 14.8h6.4M51.2 14.8h1.6M54.4 14.8h1.6M17.6 15.6h4M26.4 15.6h0.8M52.8 15.6h0.8M54.4 15.6h0.8M56 15.6h0.8M57.6 15.6h0.8M16 16.4h0.8M18.4 16.4h0.8M20 16.4h0.8M21.6 16.4h0.8M49.6 16.4h0.8M52 16.4h0.8M53.6 16.4h0.8M55.2 16.4h2.4M16 17.2h4M52 17.2h1.6M54.4 17.2h1.6M16 18h1.6M18.4 18h4M48.8 18h0.8M51.2 18h2.4M54.4 18h2.4M17.6 18.8h2.4M21.6 18.8h0.8M51.2 18.8h2.4M55.2 18.8h0.8M15.2 19.6h0.8M16.8 19.6h4M23.2 19.6h0.8M40.8 19.6h0.8M46.4 19.6h1.6M48.8 19.6h0.8M50.4 19.6h3.2M54.4 19.6h0.8M56.8 19.6h2.4M17.6 20.4h1.6M20 20.4h0.8M21.6 20.4h0.8M42.4 20.4h1.6M44.8 20.4h0.8M47.2 20.4h0.8M49.6 20.4h0.8M51.2 20.4h3.2M55.2 20.4h1.6M57.6 20.4h1.6M15.2 21.2h0.8M19.2 21.2h0.8M21.6 21.2h4M40 21.2h0.8M41.6 21.2h0.8M43.2 21.2h1.6M45.6 21.2h1.6M48 21.2h3.2M52 21.2h0.8M53.6 21.2h0.8M56 21.2h2.4M59.2 21.2h0.8M14.4 22h5.6M20.8 22h0.8M32.8 22h0.8M39.2 22h1.6M42.4 22h1.6M45.6 22h8M54.4 22h1.6M56.8 22h0.8M58.4 22h1.6M15.2 22.8h0.8M17.6 22.8h2.4M21.6 22.8h0.8M29.6 22.8h0.8M33.6 22.8h0.8M36.8 22.8h0.8M39.2 22.8h12M52 22.8h6.4M59.2 22.8h2.4M16.8 23.6h2.4M21.6 23.6h0.8M27.2 23.6h0.8M28.8 23.6h0.8M30.4 23.6h0.8M32.8 23.6h5.6M39.2 23.6h0.8M46.4 23.6h1.6M48.8 23.6h0.8M50.4 23.6h0.8M52 23.6h4M56.8 23.6h0.8M60 23.6h2.4M13.6 24.4h0.8M16 24.4h0.8M17.6 24.4h1.6M20 24.4h2.4M24 24.4h0.8M25.6 24.4h1.6M28 24.4h2.4M32 24.4h1.6M36 24.4h4M41.6 24.4h3.2M45.6 24.4h6.4M53.6 24.4h0.8M59.2 24.4h3.2M14.4 25.2h0.8M16 25.2h4.8M23.2 25.2h1.6M27.2 25.2h1.6M29.6 25.2h3.2M33.6 25.2h1.6M36.8 25.2h0.8M38.4 25.2h0.8M40 25.2h0.8M42.4 25.2h2.4M45.6 25.2h1.6M48 25.2h3.2M52.8 25.2h0.8M60.8 25.2h1.6M13.6 26h0.8M15.2 26h0.8M16.8 26h1.6M19.2 26h1.6M24.8 26h1.6M27.2 26h0.8M29.6 26h0.8M31.2 26h1.6M33.6 26h1.6M36.8 26h0.8M46.4 26h5.6M61.6 26h2.4M12.8 26.8h0.8M16 26.8h2.4M20.8 26.8h0.8M26.4 26.8h0.8M28 26.8h2.4M32 26.8h0.8M34.4 26.8h0.8M36 26.8h1.6M39.2 26.8h1.6M44.8 26.8h1.6M47.2 26.8h0.8M50.4 26.8h0.8M12.8 27.6h1.6M16 27.6h1.6M20.8 27.6h0.8M25.6 27.6h4M31.2 27.6h4M44.8 27.6h3.2M48.8 27.6h0.8M63.2 27.6h0.8M64.8 27.6h0.8M11.2 28.4h4.8M24.8 28.4h0.8M26.4 28.4h0.8M29.6 28.4h4.8M44.8 28.4h0.8M47.2 28.4h3.2M64.8 28.4h0.8M12.8 29.2h2.4M23.2 29.2h0.8M25.6 29.2h0.8M27.2 29.2h1.6M29.6 29.2h1.6M34.4 29.2h0.8M45.6 29.2h0.8M47.2 29.2h0.8M48.8 29.2h0.8M64 29.2h1.6M10.4 30h0.8M12 30h0.8M14.4 30h0.8M25.6 30h0.8M27.2 30h1.6M29.6 30h3.2M44 30h4M64 30h1.6M9.6 30.8h0.8M11.2 30.8h1.6M29.6 30.8h2.4M42.4 30.8h0.8M44.8 30.8h1.6M65.6 30.8h0.8M9.6 31.6h3.2M27.2 31.6h1.6M29.6 31.6h0.8M32 31.6h1.6M42.4 31.6h1.6M44.8 31.6h0.8M64.8 31.6h0.8M11.2 32.4h0.8M28.8 32.4h2.4M33.6 32.4h0.8M44.8 32.4h0.8M8 33.2h1.6M10.4 33.2h1.6M28 33.2h2.4M31.2 33.2h0.8M43.2 33.2h0.8M44.8 33.2h0.8M65.6 33.2h2.4M8.8 34h1.6M11.2 34h0.8M27.2 34h4M32.8 34h0.8M39.2 34h0.8M42.4 34h1.6M65.6 34h2.4M8 34.8h2.4M28 34.8h0.8M31.2 34.8h3.2M37.6 34.8h0.8M40 34.8h1.6M43.2 34.8h0.8M66.4 34.8h0.8M68 34.8h0.8M7.2 35.6h1.6M9.6 35.6h0.8M11.2 35.6h0.8M30.4 35.6h1.6M34.4 35.6h0.8M36 35.6h2.4M40 35.6h2.4M67.2 35.6h0.8M7.2 36.4h1.6M28 36.4h0.8M29.6 36.4h0.8M31.2 36.4h0.8M32.8 36.4h4M37.6 36.4h4.8M67.2 36.4h1.6M6.4 37.2h0.8M8 37.2h2.4M30.4 37.2h2.4M33.6 37.2h1.6M36 37.2h0.8M37.6 37.2h1.6M40 37.2h0.8M67.2 37.2h0.8M6.4 38h0.8M8.8 38h1.6M29.6 38h0.8M33.6 38h3.2M38.4 38h2.4M67.2 38h1.6M5.6 38.8h3.2M30.4 38.8h0.8M32.8 38.8h5.6M40 38.8h0.8M68 38.8h0.8M4 39.6h1.6M6.4 39.6h0.8M31.2 39.6h0.8M34.4 39.6h3.2M68 39.6h0.8M3.2 40.4h1.6M5.6 40.4h0.8M7.2 40.4h0.8M34.4 40.4h0.8M67.2 40.4h2.4M2.4 41.2h0.8M4 41.2h0.8M5.6 41.2h0.8M68 41.2h1.6M4.8 42h0.8M68 42h0.8M0.8 42.8h0.8M2.4 42.8h0.8M4 42.8h0.8M68 42.8h1.6M67.2 43.6h0.8M68.8 43.6h0.8M0.8 44.4h0.8M68 44.4h1.6M0 45.2h0.8M68.8 45.2h0.8M68 46h2.4M68.8 46.8h0.8M68.8 47.6h0.8M68.8 48.4h0.8M68 49.2h1.6M68.8 50h1.6M68 50.8h0.8M69.6 50.8h0.8M68 52.4h2.4M68.8 53.2h0.8M70.4 54h0.8M69.6 54.8h1.6M68 55.6h2.4M70.4 56.4h0.8M68 57.2h2.4M68 58h1.6M67.2 58.8h2.4M68 59.6h1.6M69.6 60.4h0.8M68.8 61.2h2.4M66.4 62h1.6M66.4 62.8h1.6M68.8 62.8h0.8M66.4 63.6h1.6M68.8 63.6h0.8M65.6 64.4h1.6M68.8 64.4h0.8M64.8 65.2h3.2M68.8 65.2h0.8M66.4 66h1.6M63.2 66.8h2.4M63.2 67.6h1.6M65.6 67.6h1.6"/><path stroke="#2a2092" stroke-width="1.05" d="M30.4 10.8h0.8M34.4 10.8h0.8M37.6 10.8h0.8M41.6 10.8h0.8M43.2 10.8h0.8M28.8 11.6h0.8M30.4 11.6h0.8M32 11.6h0.8M33.6 11.6h0.8M36.8 11.6h0.8M38.4 11.6h4.8M44 11.6h0.8M45.6 11.6h2.4M31.2 12.4h1.6M33.6 12.4h1.6M36 12.4h1.6M38.4 12.4h0.8M40 12.4h0.8M42.4 12.4h0.8M44.8 12.4h2.4M48 12.4h0.8M24 13.2h0.8M25.6 13.2h7.2M33.6 13.2h14.4M48.8 13.2h1.6M24.8 14h0.8M26.4 14h0.8M28 14h1.6M30.4 14h4.8M36 14h1.6M38.4 14h4M43.2 14h5.6M49.6 14h1.6M24 14.8h9.6M34.4 14.8h4.8M40 14.8h7.2M48.8 14.8h2.4M21.6 15.6h0.8M23.2 15.6h3.2M28.8 15.6h17.6M47.2 15.6h1.6M49.6 15.6h0.8M51.2 15.6h0.8M22.4 16.4h0.8M27.2 16.4h0.8M28.8 16.4h1.6M31.2 16.4h4M36 16.4h3.2M40 16.4h1.6M43.2 16.4h1.6M45.6 16.4h4M51.2 16.4h0.8M21.6 17.2h0.8M23.2 17.2h11.2M35.2 17.2h8M44.8 17.2h5.6M22.4 18h1.6M24.8 18h8.8M34.4 18h14.4M49.6 18h0.8M22.4 18.8h4M28 18.8h0.8M29.6 18.8h2.4M32.8 18.8h4M37.6 18.8h0.8M39.2 18.8h0.8M40.8 18.8h3.2M44.8 18.8h0.8M46.4 18.8h4M21.6 19.6h1.6M24 19.6h4M28.8 19.6h6.4M36 19.6h3.2M42.4 19.6h3.2M48 19.6h0.8M22.4 20.4h2.4M25.6 20.4h0.8M27.2 20.4h0.8M29.6 20.4h3.2M33.6 20.4h8.8M45.6 20.4h0.8M48 20.4h1.6M20.8 21.2h0.8M26.4 21.2h1.6M28.8 21.2h8M37.6 21.2h0.8M39.2 21.2h0.8M40.8 21.2h0.8M22.4 22h1.6M24.8 22h2.4M28 22h2.4M31.2 22h1.6M33.6 22h2.4M40.8 22h0.8M44 22h0.8M20 22.8h0.8M25.6 22.8h4M31.2 22.8h1.6M35.2 22.8h0.8M20 23.6h1.6M22.4 23.6h4M32 23.6h0.8M22.4 24.4h0.8M24.8 24.4h0.8M54.4 24.4h0.8M56 24.4h3.2M21.6 25.2h0.8M26.4 25.2h0.8M54.4 25.2h1.6M57.6 25.2h2.4M20.8 26h1.6M23.2 26h1.6M52.8 26h3.2M56.8 26h4.8M18.4 26.8h0.8M20 26.8h0.8M21.6 26.8h1.6M24.8 26.8h1.6M27.2 26.8h0.8M51.2 26.8h2.4M54.4 26.8h0.8M56 26.8h2.4M59.2 26.8h1.6M18.4 27.6h1.6M21.6 27.6h0.8M23.2 27.6h0.8M49.6 27.6h1.6M52 27.6h9.6M17.6 28.4h0.8M19.2 28.4h5.6M51.2 28.4h12M15.2 29.2h3.2M19.2 29.2h0.8M21.6 29.2h1.6M24 29.2h1.6M48 29.2h0.8M49.6 29.2h7.2M57.6 29.2h6.4M13.6 30h0.8M15.2 30h8.8M26.4 30h0.8M48 30h0.8M49.6 30h14.4M13.6 30.8h3.2M17.6 30.8h2.4M20.8 30.8h3.2M47.2 30.8h3.2M51.2 30.8h4.8M56.8 30.8h8M13.6 31.6h0.8M15.2 31.6h3.2M19.2 31.6h3.2M23.2 31.6h0.8M24.8 31.6h1.6M46.4 31.6h2.4M49.6 31.6h4M59.2 31.6h3.2M63.2 31.6h1.6M12.8 32.4h9.6M24 32.4h0.8M25.6 32.4h0.8M45.6 32.4h0.8M47.2 32.4h6.4M60.8 32.4h4M13.6 33.2h2.4M17.6 33.2h4.8M23.2 33.2h3.2M45.6 33.2h3.2M49.6 33.2h3.2M60.8 33.2h4.8M12 34h4.8M17.6 34h4M22.4 34h2.4M26.4 34h0.8M44.8 34h1.6M47.2 34h4.8M61.6 34h4M12 34.8h5.6M18.4 34.8h9.6M44.8 34.8h1.6M47.2 34.8h4M62.4 34.8h3.2M10.4 35.6h0.8M12 35.6h6.4M19.2 35.6h8.8M28.8 35.6h0.8M43.2 35.6h1.6M45.6 35.6h4.8M62.4 35.6h3.2M9.6 36.4h0.8M11.2 36.4h3.2M15.2 36.4h4.8M20.8 36.4h4M25.6 36.4h0.8M28.8 36.4h0.8M42.4 36.4h7.2M62.4 36.4h4M11.2 37.2h16.8M29.6 37.2h0.8M40.8 37.2h2.4M44 37.2h5.6M62.4 37.2h4M11.2 38h18.4M41.6 38h0.8M43.2 38h5.6M63.2 38h4M8.8 38.8h0.8M10.4 38.8h10.4M21.6 38.8h2.4M24.8 38.8h4.8M31.2 38.8h1.6M39.2 38.8h0.8M40.8 38.8h7.2M63.2 38.8h4M7.2 39.6h0.8M11.2 39.6h3.2M15.2 39.6h4.8M20.8 39.6h4.8M26.4 39.6h4.8M32 39.6h1.6M38.4 39.6h0.8M40 39.6h3.2M44 39.6h3.2M63.2 39.6h4.8M8.8 40.4h12.8M22.4 40.4h4.8M28 40.4h2.4M31.2 40.4h1.6M33.6 40.4h0.8M35.2 40.4h12M63.2 40.4h4M6.4 41.2h0.8M8 41.2h7.2M16 41.2h8.8M26.4 41.2h11.2M38.4 41.2h0.8M40 41.2h7.2M63.2 41.2h4.8M5.6 42h22.4M28.8 42h16M45.6 42h0.8M63.2 42h4.8M4.8 42.8h0.8M6.4 42.8h2.4M9.6 42.8h20.8M31.2 42.8h2.4M34.4 42.8h0.8M36 42.8h9.6M64 42.8h3.2M2.4 43.6h4.8M8 43.6h26.4M35.2 43.6h10.4M63.2 43.6h4M1.6 44.4h1.6M4 44.4h11.2M20 44.4h6.4M27.2 44.4h12.8M40.8 44.4h4M64 44.4h1.6M66.4 44.4h1.6M1.6 45.2h10.4M12.8 45.2h0.8M22.4 45.2h17.6M40.8 45.2h4M63.2 45.2h4.8M0.8 46h10.4M24 46h18.4M43.2 46h0.8M63.2 46h1.6M65.6 46h1.6M0 46.8h6.4M7.2 46.8h2.4M24.8 46.8h18.4M64 46.8h3.2M0.8 47.6h8M26.4 47.6h15.2M64 47.6h4M0 48.4h7.2M26.4 48.4h5.6M32.8 48.4h8.8M63.2 48.4h5.6M0 49.2h5.6M28 49.2h1.6M30.4 49.2h8.8M63.2 49.2h4M0 50h4.8M28 50h0.8M29.6 50h10.4M63.2 50h5.6M0 50.8h4.8M30.4 50.8h0.8M32 50.8h5.6M38.4 50.8h1.6M63.2 50.8h4.8M0 51.6h0.8M1.6 51.6h2.4M33.6 51.6h0.8M36 51.6h1.6M38.4 51.6h0.8M62.4 51.6h4M67.2 51.6h1.6M0 52.4h3.2M31.2 52.4h0.8M32.8 52.4h1.6M63.2 52.4h4.8M0 53.2h3.2M32 53.2h0.8M34.4 53.2h0.8M63.2 53.2h5.6M0 54h2.4M32 54h0.8M62.4 54h5.6M0 54.8h1.6M62.4 54.8h6.4M0 55.6h0.8M61.6 55.6h6.4M0.8 56.4h1.6M61.6 56.4h6.4M0 57.2h1.6M61.6 57.2h3.2M66.4 57.2h1.6M0 58h0.8M60.8 58h6.4M0 58.8h1.6M60.8 58.8h5.6M0 59.6h1.6M60 59.6h4M64.8 59.6h3.2M0 60.4h2.4M59.2 60.4h7.2M0 61.2h2.4M59.2 61.2h6.4M0 62h2.4M58.4 62h3.2M62.4 62h1.6M64.8 62h1.6M0 62.8h3.2M58.4 62.8h5.6M64.8 62.8h0.8M0 63.6h0.8M1.6 63.6h1.6M32.8 63.6h0.8M57.6 63.6h1.6M60 63.6h2.4M63.2 63.6h0.8M65.6 63.6h0.8M0 64.4h4M35.2 64.4h0.8M56.8 64.4h6.4M64 64.4h1.6M0 65.2h4.8M30.4 65.2h0.8M33.6 65.2h0.8M36 65.2h0.8M44 65.2h0.8M56 65.2h8.8M0 66h6.4M26.4 66h0.8M28.8 66h0.8M30.4 66h3.2M36 66h2.4M39.2 66h0.8M40.8 66h1.6M43.2 66h0.8M55.2 66h6.4M62.4 66h0.8M64 66h0.8M0 66.8h5.6M6.4 66.8h0.8M24.8 66.8h0.8M28 66.8h3.2M32 66.8h6.4M39.2 66.8h4M44 66.8h1.6M53.6 66.8h5.6M60 66.8h3.2M0 67.6h2.4M3.2 67.6h5.6M24.8 67.6h16.8M42.4 67.6h15.2M58.4 67.6h3.2M62.4 67.6h0.8"/><path stroke="#26289d" stroke-width="1.05" d="M56 30.8h0.8M53.6 31.6h5.6M53.6 32.4h1.6M58.4 32.4h2.4M52.8 33.2h0.8M59.2 33.2h1.6M52 34h2.4M60 34h1.6M51.2 34.8h1.6M60 34.8h2.4M50.4 35.6h0.8M60.8 35.6h1.6M49.6 36.4h1.6M60.8 36.4h1.6M49.6 37.2h0.8M61.6 37.2h0.8M48.8 38h1.6M61.6 38h1.6M48 38.8h1.6M61.6 38.8h1.6M47.2 39.6h1.6M62.4 39.6h0.8M47.2 40.4h1.6M62.4 40.4h0.8M47.2 41.2h0.8M46.4 42h1.6M62.4 42h0.8M45.6 42.8h2.4M62.4 42.8h1.6M45.6 43.6h1.6M62.4 43.6h0.8M15.2 44.4h4.8M44.8 44.4h1.6M63.2 44.4h0.8M12 45.2h0.8M14.4 45.2h0.8M16.8 45.2h0.8M18.4 45.2h4M44.8 45.2h1.6M11.2 46h2.4M20.8 46h3.2M42.4 46h0.8M44 46h1.6M62.4 46h0.8M9.6 46.8h3.2M21.6 46.8h3.2M43.2 46.8h2.4M62.4 46.8h1.6M8.8 47.6h1.6M23.2 47.6h3.2M41.6 47.6h3.2M62.4 47.6h1.6M7.2 48.4h3.2M24 48.4h2.4M41.6 48.4h2.4M61.6 48.4h1.6M5.6 49.2h1.6M8.8 49.2h0.8M25.6 49.2h2.4M29.6 49.2h0.8M39.2 49.2h4.8M62.4 49.2h0.8M4.8 50h3.2M25.6 50h2.4M28.8 50h0.8M40 50h4M62.4 50h0.8M4.8 50.8h2.4M27.2 50.8h3.2M31.2 50.8h0.8M37.6 50.8h0.8M40 50.8h4M62.4 50.8h0.8M4 51.6h2.4M27.2 51.6h6.4M34.4 51.6h1.6M37.6 51.6h0.8M39.2 51.6h4M61.6 51.6h0.8M3.2 52.4h2.4M28 52.4h3.2M32 52.4h0.8M34.4 52.4h8M43.2 52.4h0.8M60.8 52.4h2.4M3.2 53.2h1.6M28 53.2h4M32.8 53.2h1.6M35.2 53.2h6.4M43.2 53.2h0.8M60.8 53.2h2.4M2.4 54h1.6M28 54h0.8M29.6 54h2.4M32.8 54h8M41.6 54h0.8M61.6 54h0.8M1.6 54.8h3.2M30.4 54.8h11.2M60.8 54.8h1.6M1.6 55.6h3.2M30.4 55.6h0.8M32 55.6h10.4M60 55.6h1.6M2.4 56.4h2.4M30.4 56.4h1.6M32.8 56.4h2.4M36 56.4h5.6M60.8 56.4h0.8M1.6 57.2h2.4M32 57.2h8.8M60 57.2h1.6M0.8 58h3.2M31.2 58h8M40 58h0.8M60 58h0.8M1.6 58.8h3.2M30.4 58.8h3.2M34.4 58.8h4.8M40.8 58.8h0.8M59.2 58.8h1.6M1.6 59.6h3.2M31.2 59.6h0.8M33.6 59.6h8M58.4 59.6h1.6M2.4 60.4h2.4M29.6 60.4h2.4M32.8 60.4h6.4M40 60.4h0.8M41.6 60.4h0.8M58.4 60.4h0.8M2.4 61.2h1.6M29.6 61.2h1.6M32 61.2h0.8M33.6 61.2h0.8M36 61.2h6.4M57.6 61.2h1.6M2.4 62h3.2M29.6 62h11.2M44 62h0.8M56.8 62h1.6M3.2 62.8h3.2M28 62.8h16M44.8 62.8h0.8M56.8 62.8h1.6M3.2 63.6h3.2M25.6 63.6h0.8M27.2 63.6h5.6M33.6 63.6h11.2M45.6 63.6h1.6M55.2 63.6h2.4M4 64.4h2.4M24.8 64.4h1.6M27.2 64.4h7.2M36 64.4h9.6M47.2 64.4h0.8M49.6 64.4h0.8M54.4 64.4h2.4M4.8 65.2h2.4M8 65.2h0.8M25.6 65.2h4.8M31.2 65.2h2.4M35.2 65.2h0.8M36.8 65.2h7.2M44.8 65.2h4.8M51.2 65.2h4.8M6.4 66h3.2M24.8 66h1.6M27.2 66h1.6M29.6 66h0.8M33.6 66h2.4M38.4 66h0.8M40 66h0.8M42.4 66h0.8M44 66h11.2M5.6 66.8h0.8M7.2 66.8h4M21.6 66.8h3.2M25.6 66.8h2.4M31.2 66.8h0.8M38.4 66.8h0.8M43.2 66.8h0.8M45.6 66.8h8M8.8 67.6h3.2M13.6 67.6h0.8M20 67.6h4.8M41.6 67.6h0.8"/><path stroke="#223bb2" stroke-width="1.05" d="M55.2 32.4h3.2M53.6 33.2h5.6M54.4 34h0.8M58.4 34h1.6M52.8 34.8h1.6M59.2 34.8h0.8M51.2 35.6h1.6M60 35.6h0.8M51.2 36.4h1.6M60 36.4h0.8M50.4 37.2h1.6M60 37.2h1.6M50.4 38h0.8M60.8 38h0.8M49.6 38.8h0.8M60.8 38.8h0.8M48.8 39.6h1.6M60.8 39.6h1.6M48.8 40.4h0.8M60.8 40.4h1.6M48 41.2h0.8M61.6 41.2h1.6M48 42h1.6M61.6 42h0.8M48 42.8h0.8M61.6 42.8h0.8M47.2 43.6h1.6M61.6 43.6h0.8M46.4 44.4h1.6M60.8 44.4h2.4M13.6 45.2h0.8M15.2 45.2h1.6M17.6 45.2h0.8M46.4 45.2h0.8M61.6 45.2h1.6M13.6 46h2.4M16.8 46h4M45.6 46h1.6M61.6 46h0.8M12.8 46.8h0.8M20 46.8h1.6M45.6 46.8h1.6M61.6 46.8h0.8M10.4 47.6h2.4M20 47.6h0.8M21.6 47.6h1.6M44.8 47.6h2.4M61.6 47.6h0.8M10.4 48.4h1.6M21.6 48.4h2.4M44 48.4h3.2M7.2 49.2h1.6M9.6 49.2h1.6M23.2 49.2h2.4M44 49.2h2.4M61.6 49.2h0.8M8 50h2.4M23.2 50h2.4M44 50h2.4M61.6 50h0.8M7.2 50.8h2.4M24 50.8h3.2M44 50.8h1.6M60.8 50.8h1.6M6.4 51.6h2.4M25.6 51.6h1.6M43.2 51.6h2.4M60.8 51.6h0.8M5.6 52.4h1.6M26.4 52.4h1.6M42.4 52.4h0.8M44 52.4h2.4M4.8 53.2h1.6M7.2 53.2h0.8M25.6 53.2h2.4M41.6 53.2h1.6M44 53.2h0.8M60 53.2h0.8M4 54h2.4M27.2 54h0.8M28.8 54h0.8M40.8 54h0.8M42.4 54h4M60 54h1.6M4.8 54.8h1.6M7.2 54.8h0.8M27.2 54.8h3.2M41.6 54.8h4M60 54.8h0.8M4.8 55.6h1.6M28 55.6h2.4M31.2 55.6h0.8M42.4 55.6h1.6M45.6 55.6h0.8M4.8 56.4h1.6M27.2 56.4h3.2M32 56.4h0.8M35.2 56.4h0.8M41.6 56.4h4M59.2 56.4h1.6M4 57.2h2.4M28 57.2h4M40.8 57.2h4.8M59.2 57.2h0.8M4 58h2.4M27.2 58h4M39.2 58h0.8M40.8 58h4.8M58.4 58h1.6M4.8 58.8h1.6M27.2 58.8h3.2M33.6 58.8h0.8M39.2 58.8h1.6M41.6 58.8h4M58.4 58.8h0.8M4.8 59.6h2.4M26.4 59.6h4.8M32 59.6h1.6M41.6 59.6h4.8M57.6 59.6h0.8M4.8 60.4h1.6M7.2 60.4h0.8M26.4 60.4h3.2M32 60.4h0.8M39.2 60.4h0.8M40.8 60.4h0.8M42.4 60.4h4.8M56.8 60.4h1.6M4 61.2h3.2M26.4 61.2h3.2M31.2 61.2h0.8M32.8 61.2h0.8M34.4 61.2h1.6M42.4 61.2h5.6M56 61.2h1.6M5.6 62h1.6M8 62h0.8M25.6 62h4M40.8 62h3.2M44.8 62h3.2M55.2 62h1.6M6.4 62.8h2.4M25.6 62.8h2.4M44 62.8h0.8M45.6 62.8h3.2M51.2 62.8h0.8M55.2 62.8h1.6M6.4 63.6h1.6M8.8 63.6h0.8M24.8 63.6h0.8M26.4 63.6h0.8M44.8 63.6h0.8M47.2 63.6h3.2M51.2 63.6h0.8M52.8 63.6h2.4M6.4 64.4h3.2M23.2 64.4h1.6M26.4 64.4h0.8M45.6 64.4h1.6M48 64.4h1.6M50.4 64.4h4M7.2 65.2h0.8M8.8 65.2h3.2M22.4 65.2h3.2M34.4 65.2h0.8M49.6 65.2h1.6M9.6 66h3.2M20.8 66h4M11.2 66.8h2.4M19.2 66.8h2.4M12 67.6h1.6M14.4 67.6h2.4M18.4 67.6h1.6"/><path stroke="#1e5ac2" stroke-width="1.05" d="M55.2 34h3.2M54.4 34.8h4.8M52.8 35.6h4.8M59.2 35.6h0.8M52.8 36.4h2.4M56 36.4h4M52 37.2h2.4M59.2 37.2h0.8M51.2 38h1.6M50.4 38.8h1.6M60 38.8h0.8M50.4 39.6h0.8M60 39.6h0.8M49.6 40.4h1.6M48.8 41.2h2.4M60 41.2h1.6M60 42h1.6M48.8 42.8h1.6M60 42.8h1.6M48.8 43.6h0.8M60.8 43.6h0.8M48 44.4h1.6M47.2 45.2h1.6M60.8 45.2h0.8M16 46h0.8M47.2 46h1.6M60.8 46h0.8M13.6 46.8h1.6M16 46.8h4M47.2 46.8h1.6M60.8 46.8h0.8M12.8 47.6h1.6M19.2 47.6h0.8M20.8 47.6h0.8M47.2 47.6h1.6M60 47.6h1.6M12 48.4h0.8M20.8 48.4h0.8M47.2 48.4h0.8M60.8 48.4h0.8M11.2 49.2h1.6M21.6 49.2h1.6M46.4 49.2h1.6M60.8 49.2h0.8M10.4 50h1.6M22.4 50h0.8M46.4 50h0.8M60 50h1.6M9.6 50.8h1.6M23.2 50.8h0.8M45.6 50.8h0.8M60 50.8h0.8M8.8 51.6h1.6M23.2 51.6h2.4M45.6 51.6h1.6M60 51.6h0.8M7.2 52.4h3.2M23.2 52.4h3.2M46.4 52.4h0.8M60 52.4h0.8M6.4 53.2h0.8M8 53.2h1.6M24 53.2h1.6M44.8 53.2h2.4M59.2 53.2h0.8M6.4 54h3.2M24.8 54h2.4M46.4 54h0.8M59.2 54h0.8M6.4 54.8h0.8M8 54.8h0.8M24.8 54.8h2.4M45.6 54.8h2.4M59.2 54.8h0.8M6.4 55.6h2.4M24.8 55.6h3.2M44 55.6h1.6M46.4 55.6h1.6M58.4 55.6h1.6M6.4 56.4h2.4M24.8 56.4h2.4M45.6 56.4h2.4M58.4 56.4h0.8M6.4 57.2h3.2M24.8 57.2h3.2M45.6 57.2h2.4M57.6 57.2h1.6M6.4 58h1.6M24.8 58h2.4M45.6 58h2.4M57.6 58h0.8M6.4 58.8h1.6M24.8 58.8h2.4M45.6 58.8h3.2M56.8 58.8h1.6M7.2 59.6h2.4M24.8 59.6h1.6M46.4 59.6h2.4M56.8 59.6h0.8M6.4 60.4h0.8M8 60.4h1.6M24 60.4h2.4M47.2 60.4h2.4M55.2 60.4h1.6M7.2 61.2h2.4M24 61.2h2.4M48 61.2h1.6M54.4 61.2h1.6M7.2 62h0.8M8.8 62h0.8M23.2 62h2.4M48 62h4M52.8 62h2.4M8.8 62.8h2.4M22.4 62.8h3.2M48.8 62.8h2.4M52 62.8h3.2M8 63.6h0.8M9.6 63.6h0.8M23.2 63.6h1.6M50.4 63.6h0.8M52 63.6h0.8M9.6 64.4h2.4M20.8 64.4h2.4M12 65.2h1.6M20 65.2h2.4M12.8 66h2.4M19.2 66h1.6M13.6 66.8h5.6M16.8 67.6h1.6"/><path stroke="#1c82c9" stroke-width="1.05" d="M57.6 35.6h1.6M56 37.2h0.8M57.6 37.2h1.6M52.8 38h1.6M58.4 38h2.4M52 38.8h1.6M58.4 38.8h1.6M51.2 39.6h1.6M58.4 39.6h1.6M51.2 40.4h0.8M59.2 40.4h1.6M51.2 41.2h0.8M49.6 42h1.6M49.6 43.6h0.8M60 43.6h0.8M60 44.4h0.8M48.8 45.2h0.8M60 45.2h0.8M48.8 46h0.8M60 46h0.8M15.2 46.8h0.8M48.8 46.8h0.8M60 46.8h0.8M14.4 47.6h1.6M16.8 47.6h2.4M12.8 48.4h0.8M19.2 48.4h1.6M48 48.4h0.8M60 48.4h0.8M20.8 49.2h0.8M48 49.2h0.8M60 49.2h0.8M12 50h0.8M21.6 50h0.8M47.2 50h1.6M59.2 50h0.8M11.2 50.8h0.8M21.6 50.8h1.6M46.4 50.8h2.4M59.2 50.8h0.8M10.4 51.6h0.8M22.4 51.6h0.8M47.2 51.6h1.6M59.2 51.6h0.8M10.4 52.4h0.8M47.2 52.4h0.8M59.2 52.4h0.8M9.6 53.2h0.8M47.2 53.2h1.6M58.4 53.2h0.8M9.6 54h0.8M24 54h0.8M47.2 54h1.6M58.4 54h0.8M8.8 54.8h0.8M23.2 54.8h1.6M48 54.8h0.8M58.4 54.8h0.8M8.8 55.6h1.6M24 55.6h0.8M48 55.6h0.8M57.6 55.6h0.8M8.8 56.4h1.6M24 56.4h0.8M57.6 56.4h0.8M24 57.2h0.8M48 57.2h0.8M56.8 57.2h0.8M8 58h2.4M24 58h0.8M48 58h1.6M56 58h1.6M8 58.8h2.4M24 58.8h0.8M48.8 58.8h0.8M56 58.8h0.8M9.6 59.6h0.8M23.2 59.6h1.6M48.8 59.6h0.8M55.2 59.6h1.6M9.6 60.4h0.8M49.6 60.4h0.8M54.4 60.4h0.8M9.6 61.2h1.6M22.4 61.2h1.6M49.6 61.2h4.8M9.6 62h1.6M22.4 62h0.8M52 62h0.8M11.2 62.8h1.6M10.4 63.6h1.6M21.6 63.6h1.6M12 64.4h1.6M20 64.4h0.8M13.6 65.2h1.6M19.2 65.2h0.8M15.2 66h4"/><path stroke="#1c9cb8" stroke-width="1.05" d="M55.2 36.4h0.8M54.4 37.2h1.6M56.8 37.2h0.8M54.4 38h4M53.6 38.8h4.8M52.8 39.6h1.6M57.6 39.6h0.8M52 40.4h1.6M58.4 40.4h0.8M52 41.2h0.8M58.4 41.2h1.6M51.2 42h0.8M59.2 42h0.8M50.4 42.8h1.6M59.2 42.8h0.8M50.4 43.6h0.8M59.2 43.6h0.8M49.6 44.4h0.8M59.2 44.4h0.8M49.6 45.2h0.8M59.2 45.2h0.8M49.6 46h0.8M59.2 46h0.8M49.6 46.8h0.8M59.2 46.8h0.8M16 47.6h0.8M48.8 47.6h0.8M59.2 47.6h0.8M13.6 48.4h1.6M16.8 48.4h2.4M48.8 48.4h0.8M59.2 48.4h0.8M12.8 49.2h1.6M19.2 49.2h1.6M48.8 49.2h0.8M59.2 49.2h0.8M12.8 50h0.8M20 50h1.6M48.8 50h0.8M12 50.8h0.8M20.8 50.8h0.8M48.8 50.8h0.8M11.2 51.6h0.8M21.6 51.6h0.8M58.4 51.6h0.8M22.4 52.4h0.8M48 52.4h1.6M58.4 52.4h0.8M10.4 53.2h0.8M21.6 53.2h2.4M48.8 53.2h0.8M10.4 54h0.8M22.4 54h1.6M48.8 54h0.8M57.6 54h0.8M9.6 54.8h1.6M22.4 54.8h0.8M48.8 54.8h0.8M57.6 54.8h0.8M10.4 55.6h0.8M23.2 55.6h0.8M48.8 55.6h0.8M23.2 56.4h0.8M48 56.4h1.6M56.8 56.4h0.8M9.6 57.2h1.6M23.2 57.2h0.8M48.8 57.2h1.6M10.4 58h0.8M23.2 58h0.8M49.6 58h0.8M10.4 58.8h0.8M22.4 58.8h1.6M49.6 58.8h1.6M55.2 58.8h0.8M10.4 59.6h0.8M49.6 59.6h0.8M54.4 59.6h0.8M10.4 60.4h1.6M22.4 60.4h1.6M50.4 60.4h2.4M53.6 60.4h0.8M11.2 61.2h0.8M11.2 62h1.6M21.6 62h0.8M20.8 62.8h1.6M12 63.6h2.4M20.8 63.6h0.8M13.6 64.4h1.6M18.4 64.4h0.8M15.2 65.2h4"/><path stroke="#22aa8d" stroke-width="1.05" d="M54.4 39.6h3.2M53.6 40.4h0.8M55.2 40.4h0.8M56.8 40.4h1.6M52.8 41.2h0.8M56.8 41.2h1.6M52 42h1.6M58.4 42h0.8M52 42.8h0.8M57.6 42.8h1.6M51.2 43.6h1.6M58.4 43.6h0.8M50.4 44.4h1.6M50.4 45.2h1.6M58.4 45.2h0.8M50.4 46h0.8M58.4 46h0.8M49.6 47.6h0.8M58.4 47.6h0.8M15.2 48.4h1.6M49.6 48.4h0.8M14.4 49.2h0.8M18.4 49.2h0.8M49.6 49.2h0.8M58.4 49.2h0.8M58.4 50h0.8M12.8 50.8h0.8M20 50.8h0.8M58.4 50.8h0.8M12 51.6h0.8M20 51.6h1.6M48.8 51.6h0.8M11.2 52.4h1.6M21.6 52.4h0.8M49.6 52.4h0.8M11.2 53.2h0.8M57.6 53.2h0.8M11.2 54h0.8M21.6 54h0.8M49.6 54h0.8M11.2 54.8h0.8M49.6 54.8h0.8M11.2 55.6h0.8M22.4 55.6h0.8M49.6 55.6h0.8M56.8 55.6h0.8M10.4 56.4h0.8M22.4 56.4h0.8M22.4 57.2h0.8M56 57.2h0.8M11.2 58h0.8M22.4 58h0.8M11.2 58.8h0.8M54.4 58.8h0.8M11.2 59.6h0.8M22.4 59.6h0.8M50.4 59.6h2.4M53.6 59.6h0.8M21.6 60.4h0.8M52.8 60.4h0.8M12 61.2h0.8M21.6 61.2h0.8M12.8 62.8h1.6M14.4 63.6h0.8M19.2 63.6h1.6M15.2 64.4h0.8M17.6 64.4h0.8M19.2 64.4h0.8"/><path stroke="#2ab26c" stroke-width="1.05" d="M54.4 40.4h0.8M56 40.4h0.8M53.6 41.2h1.6M56 41.2h0.8M53.6 42h0.8M57.6 42h0.8M52.8 42.8h0.8M57.6 43.6h0.8M50.4 46.8h0.8M58.4 46.8h0.8M50.4 48.4h0.8M58.4 48.4h0.8M16 49.2h1.6M19.2 50h0.8M49.6 50h0.8M49.6 50.8h0.8M49.6 51.6h0.8M57.6 51.6h0.8M20.8 52.4h0.8M57.6 52.4h0.8M49.6 53.2h0.8M56.8 54h0.8M21.6 54.8h0.8M56.8 54.8h0.8M11.2 56.4h0.8M49.6 56.4h0.8M56 56.4h0.8M11.2 57.2h0.8M21.6 57.2h0.8M50.4 57.2h0.8M21.6 58h0.8M50.4 58h0.8M55.2 58h0.8M21.6 58.8h0.8M51.2 58.8h0.8M53.6 58.8h0.8M12 59.6h0.8M21.6 59.6h0.8M52.8 59.6h0.8M12 60.4h0.8M12.8 61.2h0.8M20.8 61.2h0.8M12.8 62h0.8M20.8 62h0.8M14.4 62.8h0.8M15.2 63.6h1.6M18.4 63.6h0.8M16 64.4h1.6"/><path stroke="#36b752" stroke-width="1.05" d="M55.2 41.2h0.8M54.4 42h2.4M56.8 42.8h0.8M52.8 43.6h0.8M57.6 44.4h1.6M57.6 46h0.8M50.4 47.6h0.8M15.2 49.2h0.8M17.6 49.2h0.8M13.6 50h1.6M18.4 50h0.8M57.6 50h0.8M13.6 50.8h0.8M19.2 50.8h0.8M57.6 50.8h0.8M12.8 51.6h0.8M12 53.2h0.8M20.8 53.2h0.8M56.8 53.2h0.8M20.8 54h0.8M12 54.8h0.8M21.6 55.6h0.8M56 55.6h0.8M21.6 56.4h0.8M50.4 56.4h0.8M55.2 56.4h0.8M12 57.2h0.8M55.2 57.2h0.8M20.8 58h0.8M51.2 58h0.8M54.4 58h0.8M52 58.8h1.6M20.8 60.4h0.8M13.6 62h1.6M20 62h0.8M19.2 62.8h1.6M16.8 63.6h1.6"/><path stroke="#53bf41" stroke-width="1.05" d="M56.8 42h0.8M53.6 42.8h0.8M56 42.8h0.8M52 44.4h1.6M52 45.2h0.8M57.6 45.2h0.8M51.2 46h1.6M51.2 46.8h0.8M57.6 46.8h0.8M51.2 47.6h0.8M57.6 47.6h0.8M57.6 48.4h0.8M50.4 49.2h0.8M57.6 49.2h0.8M15.2 50h3.2M50.4 50h0.8M14.4 50.8h0.8M18.4 50.8h0.8M13.6 51.6h0.8M19.2 51.6h0.8M50.4 51.6h0.8M12.8 52.4h0.8M20 52.4h0.8M50.4 52.4h0.8M12.8 53.2h0.8M12 54h0.8M20.8 54.8h0.8M12 55.6h0.8M50.4 55.6h0.8M12 56.4h0.8M51.2 56.4h0.8M51.2 57.2h0.8M12 58h0.8M52 58h1.6M12 58.8h0.8M12.8 59.6h0.8M20.8 59.6h0.8M12.8 60.4h0.8M13.6 61.2h0.8M20 61.2h0.8M19.2 62h0.8M15.2 62.8h1.6M18.4 62.8h0.8"/><path stroke="#7fca37" stroke-width="1.05" d="M54.4 42.8h1.6M53.6 43.6h4M53.6 44.4h0.8M56.8 44.4h0.8M52.8 45.2h0.8M56.8 45.2h0.8M51.2 49.2h0.8M15.2 50.8h0.8M50.4 50.8h0.8M14.4 51.6h0.8M18.4 51.6h0.8M19.2 52.4h0.8M56.8 52.4h0.8M20 53.2h0.8M50.4 53.2h0.8M12.8 54h0.8M20 54h0.8M50.4 54h0.8M56 54h0.8M50.4 54.8h0.8M20.8 55.6h0.8M54.4 56.4h0.8M20.8 57.2h0.8M54.4 57.2h0.8M12.8 58h0.8M53.6 58h0.8M20.8 58.8h0.8M20 60.4h0.8M14.4 61.2h0.8M19.2 61.2h0.8M18.4 62h0.8M16.8 62.8h1.6"/><path stroke="#abd530" stroke-width="1.05" d="M56 44.4h0.8M52 46.8h0.8M56.8 46.8h0.8M51.2 48.4h0.8M56.8 50h0.8M16 50.8h0.8M17.6 50.8h0.8M56.8 50.8h0.8M56.8 51.6h0.8M13.6 52.4h0.8M56 54.8h0.8M12.8 55.6h0.8M51.2 55.6h0.8M55.2 55.6h0.8M20.8 56.4h0.8M52 57.2h2.4M12.8 58.8h0.8M13.6 59.6h0.8M20 59.6h0.8M13.6 60.4h1.6M18.4 61.2h0.8M15.2 62h0.8M17.6 62h0.8"/><path stroke="#d4df2a" stroke-width="1.05" d="M55.2 44.4h0.8M55.2 45.2h0.8M56 46h1.6M52 47.6h0.8M56.8 47.6h0.8M56.8 48.4h0.8M56.8 49.2h0.8M51.2 50h0.8M16.8 50.8h0.8M14.4 52.4h0.8M13.6 53.2h0.8M19.2 53.2h0.8M56 53.2h0.8M51.2 54h0.8M12.8 54.8h0.8M51.2 54.8h0.8M20 55.6h0.8M12.8 56.4h0.8M52 56.4h1.6M12.8 57.2h0.8M20 58h0.8M16 62h1.6"/><path stroke="#ebd526" stroke-width="1.05" d="M54.4 44.4h0.8M53.6 45.2h1.6M52.8 46h0.8M52.8 46.8h0.8M15.2 51.6h0.8M17.6 51.6h0.8M51.2 51.6h0.8M56 51.6h0.8M15.2 52.4h0.8M17.6 52.4h0.8M56 52.4h0.8M13.6 54h0.8M55.2 54h0.8M20 54.8h0.8M55.2 54.8h0.8M20 56.4h0.8M53.6 56.4h0.8M13.6 58h0.8M20 58.8h0.8M19.2 60.4h0.8"/><path stroke="#f2b621" stroke-width="1.05" d="M56 45.2h0.8M56 46.8h0.8M56 47.6h0.8M51.2 50.8h0.8M16 51.6h0.8M18.4 52.4h0.8M51.2 52.4h0.8M51.2 53.2h0.8M14.4 54h0.8M19.2 54h0.8M13.6 54.8h0.8M52 54.8h0.8M52 55.6h0.8M54.4 55.6h0.8M13.6 56.4h0.8M13.6 57.2h0.8M20 57.2h0.8M13.6 58.8h0.8M15.2 60.4h0.8M18.4 60.4h0.8M15.2 61.2h0.8M16.8 61.2h1.6"/><path stroke="#f28e1d" stroke-width="1.05" d="M52.8 47.6h0.8M52 48.4h0.8M56 48.4h0.8M52 49.2h0.8M16.8 51.6h0.8M14.4 53.2h0.8M18.4 53.2h0.8M55.2 53.2h0.8M19.2 54.8h0.8M54.4 54.8h0.8M13.6 55.6h0.8M52.8 55.6h1.6M19.2 56.4h0.8M19.2 58h0.8M19.2 58.8h0.8M14.4 59.6h0.8M19.2 59.6h0.8M16 60.4h0.8M16 61.2h0.8"/><path stroke="#eb641b" stroke-width="1.05" d="M53.6 46h2.4M56 50h0.8M16.8 52.4h0.8M18.4 54h0.8M52 54h0.8M14.4 57.2h0.8M19.2 57.2h0.8M14.4 58.8h0.8M18.4 58.8h0.8M15.2 59.6h0.8M16.8 59.6h0.8M18.4 59.6h0.8M16.8 60.4h1.6"/><path stroke="#df3c19" stroke-width="1.05" d="M53.6 46.8h2.4M53.6 47.6h2.4M52.8 48.4h3.2M52.8 49.2h4M52 50h4M52 50.8h4.8M52 51.6h4M16 52.4h0.8M52 52.4h4M15.2 53.2h3.2M52 53.2h3.2M15.2 54h3.2M52.8 54h2.4M14.4 54.8h4.8M52.8 54.8h1.6M14.4 55.6h5.6M14.4 56.4h4.8M15.2 57.2h4M14.4 58h4.8M15.2 58.8h3.2M16 59.6h0.8M17.6 59.6h0.8"/></g>
<rect x="335.4" y="348.6" width="77" height="68.4" fill="none" stroke="#b4b4b4" stroke-width=".8"/>
<path d="M339.4 417v2.2M354.9 417v2.2M366.9 417v2.2M386.9 417v2.2M404.9 417v2.2" stroke="#000" stroke-width="1.1" fill="none"/>
<path d="M372.92 417v1.2M376.44 417v1.2M378.94 417v1.2M380.88 417v1.2M382.46 417v1.2M383.8 417v1.2M384.96 417v1.2M385.98 417v1.2M392.32 417v1.2M395.49 417v1.2M397.74 417v1.2M399.48 417v1.2M400.91 417v1.2M402.11 417v1.2M403.16 417v1.2M404.08 417v1.2M343.4 417v1.2M346.4 417v1.2M348.9 417v1.2M350.9 417v1.2M352.4 417v1.2M353.4 417v1.2M354.2 417v1.2M355.6 417v1.2M356.4 417v1.2M357.4 417v1.2M358.9 417v1.2M360.9 417v1.2M363.4 417v1.2" stroke="#000" stroke-width=".8" fill="none"/>
<rect x="353.4" y="417.2" width="2.8" height="1.5" fill="#111"/>
<path d="M345.1 371.1L346.7 361.3L356.5 355.1L372.9 350.2L390 349.9L396.5 366.2L387.6 371.1L378.6 376.9L364.7 375.2L353.2 374.4z" fill="none" stroke="#333" stroke-width=".7"/>
<text transform="translate(338.7 360.3) scale(0.97 1)" font-size="9.1" font-weight="bold">1.81 %</text>
<text transform="translate(338.9 431) scale(0.85 1)" font-size="8.5" text-anchor="middle">-10<tspan font-size="5.27" dy="-2.6">3</tspan></text>
<text transform="translate(354.9 431) scale(0.85 1)" font-size="8.5" text-anchor="middle">0</text>
<text transform="translate(367.4 431) scale(0.85 1)" font-size="8.5" text-anchor="middle">10<tspan font-size="5.27" dy="-2.6">3</tspan></text>
<text transform="translate(387.4 431) scale(0.85 1)" font-size="8.5" text-anchor="middle">10<tspan font-size="5.27" dy="-2.6">4</tspan></text>
<text transform="translate(405.4 431) scale(0.85 1)" font-size="8.5" text-anchor="middle">10<tspan font-size="5.27" dy="-2.6">5</tspan></text>
<text transform="translate(253.3 356.3) scale(0.85 1)" font-size="8.5" text-anchor="end">10<tspan font-size="5.27" dy="-2.6">5</tspan></text>
<text transform="translate(253.3 371.9) scale(0.85 1)" font-size="8.5" text-anchor="end">10<tspan font-size="5.27" dy="-2.6">4</tspan></text>
<text transform="translate(253.3 388.7) scale(0.85 1)" font-size="8.5" text-anchor="end">10<tspan font-size="5.27" dy="-2.6">3</tspan></text>
<text transform="translate(253.3 407.5) scale(0.85 1)" font-size="8.5" text-anchor="end">10<tspan font-size="5.27" dy="-2.6">2</tspan></text>
<line x1="230.5" y1="351" x2="230.5" y2="367.5" stroke="#111" stroke-width="1.7"/>
<path d="M230.500 343.800l3.800 9.400-3.800-1.800-3.800 1.800z" fill="#111"/>
<line x1="230.5" y1="400" x2="230.5" y2="415.5" stroke="#111" stroke-width="1.7"/>
<text transform="translate(235.2 384) rotate(-90) scale(0.75 1)" font-size="12" text-anchor="middle">CD138</text>
<line x1="260" y1="440.6" x2="318.5" y2="440.6" stroke="#111" stroke-width="1.7"/>
<text transform="translate(335.2 444.8) scale(0.75 1)" font-size="12" text-anchor="middle">B220</text>
<line x1="351" y1="440.6" x2="408" y2="440.6" stroke="#111" stroke-width="1.7"/>
<path d="M414.500 440.600l-9.400-3.800 1.800 3.800-1.800 3.800z" fill="#111"/>
<text transform="translate(27 596.3) scale(1.02 1)" font-size="9">Day 3</text>
<defs><clipPath id="mclip"><rect x="27" y="602.6" width="327.3" height="101.8"/></clipPath><filter id="b3" x="-20%" y="-20%" width="140%" height="140%"><feGaussianBlur stdDeviation="3"/></filter><filter id="b2" x="-20%" y="-20%" width="140%" height="140%"><feGaussianBlur stdDeviation="1.6"/></filter><filter id="b1" x="-20%" y="-20%" width="140%" height="140%"><feGaussianBlur stdDeviation="0.45"/></filter><filter id="warp" x="-5%" y="-10%" width="110%" height="120%" color-interpolation-filters="sRGB"><feTurbulence type="fractalNoise" baseFrequency="0.035 0.045" numOctaves="2" seed="9" result="t"/><feDisplacementMap in="SourceGraphic" in2="t" scale="13" xChannelSelector="R" yChannelSelector="G"/></filter><filter id="grain" x="0" y="0" width="100%" height="100%"><feTurbulence type="fractalNoise" baseFrequency="0.7" numOctaves="2" seed="5" result="n"/><feColorMatrix in="n" type="matrix" values="0 0 0 0 0.03  0 0 0 0 0.02  0 0 0 0 0.16  6.5 0 0 0 -2.75"/></filter><filter id="blotch" x="0" y="0" width="100%" height="100%"><feTurbulence type="fractalNoise" baseFrequency="0.045 0.06" numOctaves="3" seed="23" result="n"/><feColorMatrix in="n" type="matrix" values="0 0 0 0 0.02  0 0 0 0 0.02  0 0 0 0 0.10  0 4.5 0 0 -1.9"/></filter><filter id="grainL" x="0" y="0" width="100%" height="100%"><feTurbulence type="fractalNoise" baseFrequency="0.7" numOctaves="2" seed="11" result="n"/><feColorMatrix in="n" type="matrix" values="0 0 0 0 0.28  0 0 0 0 0.30  0 0 0 0 0.86  0 3.0 0 0 -1.55"/></filter></defs>
<g clip-path="url(#mclip)">
<rect x="27" y="602.6" width="327.3" height="101.8" fill="#1d1a6c"/>
<g filter="url(#warp)">
<rect x="15" y="590.6" width="351.3" height="125.8" fill="#1d1a6c"/>
<g filter="url(#b3)" fill="#2c2aa6" opacity=".85">
<ellipse cx="80" cy="631" rx="30" ry="21" transform="rotate(-8 80 631)"/>
<ellipse cx="78" cy="690" rx="42" ry="25" transform="rotate(0 78 690)"/>
<ellipse cx="165" cy="677" rx="31" ry="24" transform="rotate(0 165 677)"/>
<ellipse cx="130" cy="614" rx="17" ry="12" transform="rotate(0 130 614)"/>
<ellipse cx="213" cy="668" rx="21" ry="31" transform="rotate(8 213 668)"/>
<ellipse cx="265" cy="677" rx="17" ry="16" transform="rotate(0 265 677)"/>
<ellipse cx="338" cy="640" rx="22" ry="36" transform="rotate(0 338 640)"/>
<ellipse cx="332" cy="692" rx="30" ry="16" transform="rotate(0 332 692)"/>
<ellipse cx="208" cy="614" rx="14" ry="9" transform="rotate(0 208 614)"/>
<ellipse cx="300" cy="699" rx="25" ry="9" transform="rotate(0 300 699)"/>
</g>
<g filter="url(#b3)" fill="#07061f">
<ellipse cx="38" cy="618" rx="14" ry="16" opacity="0.6" transform="rotate(0 38 618)"/>
<ellipse cx="32" cy="650" rx="9" ry="18" opacity="0.5" transform="rotate(0 32 650)"/>
<ellipse cx="150" cy="630" rx="38" ry="20" opacity="0.55" transform="rotate(15 150 630)"/>
<ellipse cx="60" cy="640" rx="30" ry="10" opacity="0" transform="rotate(0 60 640)"/>
<ellipse cx="270" cy="645" rx="40" ry="30" opacity="0.35" transform="rotate(25 270 645)"/>
<ellipse cx="34" cy="636" rx="8" ry="26" opacity="0.81" transform="rotate(0 34 636)"/>
<ellipse cx="68" cy="661" rx="20" ry="6" opacity="0.81" transform="rotate(10 68 661)"/>
<ellipse cx="112" cy="650" rx="12" ry="16" opacity="0.74" transform="rotate(-20 112 650)"/>
<ellipse cx="162" cy="622" rx="26" ry="14" opacity="0.88" transform="rotate(15 162 622)"/>
<ellipse cx="125" cy="690" rx="8" ry="14" opacity="0.68" transform="rotate(-20 125 690)"/>
<ellipse cx="184" cy="640" rx="8" ry="22" opacity="0.61" transform="rotate(0 184 640)"/>
<ellipse cx="40" cy="606" rx="14" ry="4" opacity="0.54" transform="rotate(0 40 606)"/>
<ellipse cx="258" cy="638" rx="28" ry="20" opacity="0.68" transform="rotate(30 258 638)"/>
<ellipse cx="292" cy="660" rx="18" ry="26" opacity="0.54" transform="rotate(20 292 660)"/>
<ellipse cx="245" cy="612" rx="25" ry="7" opacity="0.54" transform="rotate(0 245 612)"/>
<ellipse cx="300" cy="615" rx="20" ry="9" opacity="0.41" transform="rotate(0 300 615)"/>
<ellipse cx="238" cy="692" rx="7" ry="12" opacity="0.54" transform="rotate(0 238 692)"/>
</g>
<rect x="27" y="602.6" width="327.3" height="101.8" filter="url(#blotch)" opacity=".6"/>
<g filter="url(#b2)" fill="#8a1040" opacity=".35">
<ellipse cx="34" cy="634" rx="7" ry="22" opacity="0.5" transform="rotate(0 34 634)"/>
<ellipse cx="66" cy="661" rx="17" ry="5" opacity="0.6" transform="rotate(10 66 661)"/>
<ellipse cx="114" cy="650" rx="9" ry="14" opacity="0.5" transform="rotate(-20 114 650)"/>
<ellipse cx="160" cy="622" rx="22" ry="10" opacity="0.45" transform="rotate(15 160 622)"/>
<ellipse cx="150" cy="700" rx="25" ry="4" opacity="0.4" transform="rotate(0 150 700)"/>
<ellipse cx="36" cy="676" rx="5" ry="12" opacity="0.35" transform="rotate(0 36 676)"/>
<ellipse cx="128" cy="688" rx="6" ry="12" opacity="0.3" transform="rotate(-20 128 688)"/>
<ellipse cx="262" cy="632" rx="26" ry="19" opacity="0.5" transform="rotate(30 262 632)"/>
<ellipse cx="292" cy="656" rx="17" ry="27" opacity="0.42" transform="rotate(20 292 656)"/>
<ellipse cx="250" cy="612" rx="20" ry="7" opacity="0.4" transform="rotate(0 250 612)"/>
<ellipse cx="300" cy="618" rx="22" ry="11" opacity="0.5" transform="rotate(0 300 618)"/>
<ellipse cx="232" cy="652" rx="5" ry="14" opacity="0.35" transform="rotate(0 232 652)"/>
<ellipse cx="300" cy="690" rx="16" ry="7" opacity="0.3" transform="rotate(0 300 690)"/>
</g>
<g filter="url(#b2)" fill="none" stroke="#169a7c" opacity=".7">
<ellipse cx="80" cy="631" rx="32" ry="23" stroke-width="3.12" opacity="0.66" transform="rotate(-8 80 631)"/>
<ellipse cx="78" cy="690" rx="44" ry="27" stroke-width="3.12" opacity="0.72" transform="rotate(0 78 690)"/>
<ellipse cx="165" cy="677" rx="33" ry="26" stroke-width="3.12" opacity="0.66" transform="rotate(0 165 677)"/>
<ellipse cx="130" cy="614" rx="19" ry="14" stroke-width="2.64" opacity="0.48" transform="rotate(0 130 614)"/>
<ellipse cx="213" cy="668" rx="23" ry="33" stroke-width="3.6" opacity="0.78" transform="rotate(8 213 668)"/>
<ellipse cx="265" cy="677" rx="20" ry="19" stroke-width="4.32" opacity="0.96" transform="rotate(0 265 677)"/>
<ellipse cx="265" cy="677" rx="12" ry="11" stroke-width="2.64" opacity="0.6" transform="rotate(0 265 677)"/>
<ellipse cx="246" cy="625" rx="14" ry="10" stroke-width="2.88" opacity="0.6" transform="rotate(0 246 625)"/>
<ellipse cx="338" cy="640" rx="24" ry="38" stroke-width="2.64" opacity="0.42" transform="rotate(0 338 640)"/>
</g>
<g filter="url(#b1)" fill="none" stroke="#18b060" opacity="1">
<ellipse cx="80" cy="631" rx="32" ry="23" stroke-width="1.3" stroke-dasharray="5 3 2 4" opacity="0.55" transform="rotate(-8 80 631)"/>
<ellipse cx="78" cy="690" rx="44" ry="27" stroke-width="1.3" stroke-dasharray="6 3 3 5" opacity="0.6" transform="rotate(0 78 690)"/>
<ellipse cx="165" cy="677" rx="33" ry="26" stroke-width="1.3" stroke-dasharray="4 4 7 3" opacity="0.55" transform="rotate(0 165 677)"/>
<ellipse cx="130" cy="614" rx="19" ry="14" stroke-width="1.1" stroke-dasharray="3 5" opacity="0.4" transform="rotate(0 130 614)"/>
<ellipse cx="213" cy="668" rx="23" ry="33" stroke-width="1.5" stroke-dasharray="6 3 2 3" opacity="0.65" transform="rotate(8 213 668)"/>
<ellipse cx="265" cy="677" rx="20" ry="19" stroke-width="1.8" stroke-dasharray="8 2 3 2" opacity="0.8" transform="rotate(0 265 677)"/>
<ellipse cx="265" cy="677" rx="12" ry="11" stroke-width="1.1" stroke-dasharray="3 4" opacity="0.5" transform="rotate(0 265 677)"/>
<ellipse cx="246" cy="625" rx="14" ry="10" stroke-width="1.2" stroke-dasharray="4 3" opacity="0.5" transform="rotate(0 246 625)"/>
<ellipse cx="338" cy="640" rx="24" ry="38" stroke-width="1.1" stroke-dasharray="3 6" opacity="0.35" transform="rotate(0 338 640)"/>
<path d="M262 604l14 22 10 30M228 700l8-30M283 700l12-28 22-20M95 652l20 8 8 12M100 690l12 10" stroke-width="1.5" stroke-dasharray="5 3" opacity=".7"/>
</g>
<path d="M235.5 602.5h1M261.5 602.5h1M161 602.5h1M305.5 603h1M313 603h1M77 603h1M250.5 603h1M229 603.5h1M225 603.5h1M243 603.5h1M259 603.5h1M171.5 603.5h1M263 603.5h1M236.5 603.5h1M129.5 603.5h1M281 604h1M303.5 604h1M278 604h1M143 604h1M275 604h1M265 604h1M125 604h1M155 604.5h1M274.5 604.5h1M237.5 604.5h1M248.5 604.5h1M286 604.5h1M142 604.5h1M224 604.5h1M248.5 604.5h1M124.5 605h1M131 605h1M251.5 605h1M222.5 605h1M298 605h1M136.5 605h1M303 605h1M42 605h1M255 605h1M274 605h1M35 605.5h1M139 605.5h1M294.5 605.5h1M250 605.5h1M225.5 605.5h1M235.5 605.5h1M285 605.5h1M291.5 605.5h1M267 605.5h1M142 605.5h1M256 605.5h1M29 605.5h1M257.5 605.5h1M159 606h1M305 606h1M242.5 606h1M269 606h1M303.5 606h1M247.5 606h1M278.5 606h1M147.5 606h1M212.5 606h1M156.5 606h1M254 606h1M245 606h1M242 606h1M229.5 606h1M255 606h1M162.5 606h1M130.5 606.5h1M306 606.5h1M230.5 606.5h1M309.5 606.5h1M250.5 606.5h1M132.5 606.5h1M263.5 606.5h1M279 606.5h1M232.5 606.5h1M305 606.5h1M221.5 606.5h1M309.5 606.5h1M328 606.5h1M307.5 606.5h1M317 606.5h1M316 606.5h1M42.5 607h1M258 607h1M34 607h1M266.5 607h1M254.5 607h1M312 607h1M261 607h1M263.5 607h1M257.5 607h1M253.5 607h1M290 607.5h1M137.5 607.5h1M265.5 607.5h1M257.5 607.5h1M246 607.5h1M312 607.5h1M169 607.5h1M264.5 607.5h1M300.5 607.5h1M149 607.5h1M326 608h1M264.5 608h1M233 608h1M304.5 608h1M46 608h1M313.5 608h1M267.5 608h1M246 608h1M248.5 608h1M264 608h1M273 608h1M292.5 608h1M256 608h1M164.5 608h1M155 608h1M218.5 608h1M146.5 608h1M249 608.5h1M161.5 608.5h1M284 608.5h1M300 608.5h1M312.5 608.5h1M235.5 608.5h1M277 608.5h1M136 608.5h1M259 608.5h1M253 608.5h1M266.5 608.5h1M267 608.5h1M276 608.5h1M30.5 608.5h1M268.5 608.5h1M235 608.5h1M268 609h1M278.5 609h1M286.5 609h1M341 609h1M261.5 609h1M259 609h1M220.5 609h1M228 609h1M247.5 609h1M311 609h1M226 609h1M284 609h1M248.5 609h1M300.5 609h1M311.5 609h1M239.5 609h1M254 609h1M259.5 609h1M134.5 609h1M34 609h1M272.5 609h1M255 609.5h1M192 609.5h1M158 609.5h1M291.5 609.5h1M256.5 609.5h1M264 609.5h1M313 609.5h1M162.5 609.5h1M242.5 609.5h1M154.5 609.5h1M245.5 609.5h1M252.5 610h1M158 610h1M284.5 610h1M242 610h1M248 610h1M300.5 610h1M289 610h1M229 610h1M268.5 610h1M251.5 610h1M185 610h1M78.5 610h1M253.5 610h1M154.5 610h1M248 610h1M316.5 610h1M300.5 610h1M268 610h1M268 610h1M280.5 610h1M30.5 610h1M174.5 610h1M324 610h1M304 610h1M256 610.5h1M262 610.5h1M261.5 610.5h1M287 610.5h1M270 610.5h1M151.5 610.5h1M310 610.5h1M272 610.5h1M269 610.5h1M146.5 610.5h1M242.5 610.5h1M148.5 610.5h1M257.5 610.5h1M166 610.5h1M167.5 610.5h1M249 610.5h1M271.5 610.5h1M246.5 610.5h1M252.5 610.5h1M132 610.5h1M279.5 611h1M232.5 611h1M270 611h1M245 611h1M300 611h1M288 611h1M307.5 611h1M218.5 611h1M288 611h1M226 611h1M249.5 611h1M274.5 611h1M243.5 611h1M246.5 611h1M97 611h1M291.5 611h1M299.5 611h1M27.5 611.5h1M43.5 611.5h1M254.5 611.5h1M258.5 611.5h1M227.5 611.5h1M325 611.5h1M327.5 611.5h1M315 611.5h1M168 611.5h1M267 611.5h1M38.5 611.5h1M259 611.5h1M168 611.5h1M193.5 611.5h1M228 611.5h1M262 612h1M252.5 612h1M317.5 612h1M35 612h1M249.5 612h1M226 612h1M194 612h1M245 612h1M248 612h1M153 612h1M258.5 612h1M274.5 612h1M244.5 612h1M247 612h1M240 612h1M279 612.5h1M145 612.5h1M249 612.5h1M243.5 612.5h1M288.5 612.5h1M230.5 612.5h1M309.5 612.5h1M229 612.5h1M238 612.5h1M217 612.5h1M330 612.5h1M33 612.5h1M34.5 612.5h1M272 612.5h1M292 612.5h1M311.5 612.5h1M293.5 612.5h1M286 612.5h1M230.5 612.5h1M237 612.5h1M279 612.5h1M288.5 612.5h1M239 613h1M246 613h1M275.5 613h1M300 613h1M238 613h1M283 613h1M153 613h1M263.5 613h1M256 613h1M302 613h1M262 613h1M296.5 613h1M262.5 613h1M287.5 613h1M250 613h1M330.5 613h1M311.5 613h1M161 613h1M231.5 613h1M266 613h1M251.5 613h1M308 613h1M255 613h1M33 613h1M294.5 613h1M244.5 613h1M237 613h1M257.5 613.5h1M32 613.5h1M313 613.5h1M279 613.5h1M233 613.5h1M115.5 613.5h1M288 613.5h1M159.5 613.5h1M273 613.5h1M334 613.5h1M132.5 613.5h1M155 613.5h1M271 613.5h1M264.5 613.5h1M331 613.5h1M184.5 613.5h1M255.5 613.5h1M293.5 613.5h1M269.5 613.5h1M258.5 614h1M155.5 614h1M322 614h1M34.5 614h1M332 614h1M175 614h1M257.5 614h1M142.5 614h1M241 614h1M318 614h1M257 614h1M142.5 614h1M268.5 614h1M285.5 614h1M254.5 614h1M282 614h1M196 614h1M279 614h1M174.5 614h1M266 614h1M316.5 614h1M252.5 614h1M158.5 614.5h1M159 614.5h1M34 614.5h1M302 614.5h1M138 614.5h1M164 614.5h1M245 614.5h1M147.5 614.5h1M307.5 614.5h1M161 614.5h1M140.5 614.5h1M290.5 614.5h1M297 614.5h1M241.5 614.5h1M145 614.5h1M262.5 614.5h1M163 614.5h1M282 614.5h1M287 614.5h1M299 614.5h1M316 614.5h1M334 614.5h1M254.5 614.5h1M243.5 614.5h1M233.5 614.5h1M164.5 614.5h1M337 614.5h1M259.5 614.5h1M150.5 614.5h1M243.5 614.5h1M155 614.5h1M243 614.5h1M138.5 614.5h1M264.5 614.5h1M288 615h1M317.5 615h1M227 615h1M236 615h1M251 615h1M261 615h1M259 615h1M246.5 615h1M249.5 615h1M231.5 615h1M278.5 615h1M256.5 615h1M149 615h1M163.5 615h1M39 615h1M235.5 615h1M313 615h1M276 615h1M242.5 615h1M235.5 615h1M306 615h1M331 615h1M241 615h1M307 615h1M308 615.5h1M282.5 615.5h1M295 615.5h1M257 615.5h1M314 615.5h1M264.5 615.5h1M270.5 615.5h1M319.5 615.5h1M34 615.5h1M310.5 615.5h1M293 615.5h1M31.5 615.5h1M146.5 615.5h1M274.5 615.5h1M267 615.5h1M276 615.5h1M317.5 615.5h1M251.5 615.5h1M248.5 615.5h1M308 615.5h1M290.5 615.5h1M266 615.5h1M295 615.5h1M322 615.5h1M256 615.5h1M33 616h1M166.5 616h1M193 616h1M266 616h1M33 616h1M285.5 616h1M316.5 616h1M230 616h1M323 616h1M292 616h1M231.5 616h1M258 616h1M290 616h1M155 616h1M274 616h1M161.5 616h1M251.5 616h1M285.5 616h1M179 616h1M260 616h1M292 616.5h1M222.5 616.5h1M304.5 616.5h1M295.5 616.5h1M258.5 616.5h1M307 616.5h1M236.5 616.5h1M39.5 616.5h1M267 616.5h1M151 616.5h1M27 616.5h1M206.5 616.5h1M157.5 616.5h1M162.5 616.5h1M288.5 616.5h1M285 616.5h1M288.5 616.5h1M252 616.5h1M290 616.5h1M281 616.5h1M157.5 616.5h1M34.5 616.5h1M318.5 616.5h1M219 616.5h1M147.5 616.5h1M176 617h1M273.5 617h1M311.5 617h1M313.5 617h1M279 617h1M262 617h1M293 617h1M273 617h1M271.5 617h1M41.5 617h1M150 617h1M135 617h1M246.5 617h1M210 617h1M32 617h1M329 617h1M298 617h1M290.5 617.5h1M260.5 617.5h1M300 617.5h1M32.5 617.5h1M292 617.5h1M28 617.5h1M265.5 617.5h1M321 617.5h1M170 617.5h1M313 617.5h1M251 617.5h1M296.5 617.5h1M249.5 617.5h1M271.5 617.5h1M280.5 617.5h1M266 617.5h1M286 617.5h1M314 617.5h1M256 618h1M295.5 618h1M168.5 618h1M249.5 618h1M213 618h1M276.5 618h1M35.5 618h1M254 618h1M273.5 618h1M229 618h1M280 618h1M297.5 618h1M342.5 618h1M183.5 618h1M254.5 618h1M157 618.5h1M247 618.5h1M256 618.5h1M241.5 618.5h1M322 618.5h1M231 618.5h1M263.5 618.5h1M312.5 618.5h1M141 618.5h1M183 618.5h1M317 618.5h1M153 618.5h1M82 618.5h1M261 618.5h1M254 618.5h1M261 618.5h1M300.5 618.5h1M260 618.5h1M263 618.5h1M280.5 618.5h1M305 619h1M158.5 619h1M283.5 619h1M142 619h1M28 619h1M243.5 619h1M40.5 619h1M293 619h1M295.5 619h1M308 619h1M310 619h1M313 619h1M275.5 619h1M226.5 619h1M150.5 619h1M33.5 619h1M256.5 619h1M305 619h1M312 619h1M270 619h1M306 619h1M284 619.5h1M196 619.5h1M35 619.5h1M275.5 619.5h1M300 619.5h1M235 619.5h1M199.5 619.5h1M309 619.5h1M35.5 619.5h1M245 619.5h1M263 619.5h1M224.5 619.5h1M262.5 619.5h1M156 619.5h1M270 619.5h1M291.5 619.5h1M272.5 619.5h1M251.5 619.5h1M237.5 619.5h1M281 619.5h1M257.5 620h1M158.5 620h1M241 620h1M143 620h1M306.5 620h1M318 620h1M296 620h1M276 620h1M147.5 620h1M305.5 620h1M158 620h1M243.5 620h1M290.5 620h1M180 620h1M234.5 620h1M300.5 620h1M146 620h1M172 620h1M254.5 620h1M146 620h1M263.5 620.5h1M329 620.5h1M266.5 620.5h1M157.5 620.5h1M295.5 620.5h1M161 620.5h1M274.5 620.5h1M249 620.5h1M305.5 620.5h1M166.5 620.5h1M173 620.5h1M160 620.5h1M279 620.5h1M175 620.5h1M220 620.5h1M299.5 620.5h1M313 620.5h1M294 620.5h1M159.5 620.5h1M244 620.5h1M283.5 621h1M264 621h1M238.5 621h1M298.5 621h1M166 621h1M283.5 621h1M288.5 621h1M249.5 621h1M269.5 621h1M288.5 621h1M311.5 621h1M191 621h1M300.5 621h1M227 621h1M205 621h1M179 621h1M149.5 621h1M329.5 621h1M242 621.5h1M304.5 621.5h1M32 621.5h1M235.5 621.5h1M274 621.5h1M42.5 621.5h1M328.5 621.5h1M315 621.5h1M129 621.5h1M44 621.5h1M280 621.5h1M274 621.5h1M262 621.5h1M287.5 621.5h1M137.5 621.5h1M275.5 621.5h1M165.5 621.5h1M301.5 621.5h1M148 621.5h1M159 621.5h1M285.5 621.5h1M28 621.5h1M248.5 621.5h1M301.5 621.5h1M142 622h1M156 622h1M302 622h1M246.5 622h1M168 622h1M283.5 622h1M295.5 622h1M260.5 622h1M294.5 622h1M309.5 622h1M279 622h1M286.5 622h1M293.5 622h1M153.5 622h1M33 622h1M155.5 622.5h1M290.5 622.5h1M248.5 622.5h1M332.5 622.5h1M227.5 622.5h1M29 622.5h1M174.5 622.5h1M319.5 622.5h1M31 622.5h1M242.5 622.5h1M247.5 622.5h1M158.5 622.5h1M281 622.5h1M270.5 622.5h1M300 622.5h1M250.5 622.5h1M306.5 622.5h1M252 622.5h1M161 622.5h1M153.5 622.5h1M190.5 622.5h1M239 623h1M305.5 623h1M254.5 623h1M171 623h1M269 623h1M233 623h1M34.5 623h1M301.5 623h1M269.5 623h1M288 623h1M311.5 623h1M224.5 623h1M176.5 623h1M323 623h1M227.5 623h1M33.5 623h1M268.5 623h1M262.5 623h1M254.5 623h1M279 623h1M284.5 623.5h1M248 623.5h1M195 623.5h1M248 623.5h1M129 623.5h1M313.5 623.5h1M276 623.5h1M288 623.5h1M307.5 623.5h1M323 623.5h1M309.5 623.5h1M177.5 623.5h1M36.5 623.5h1M343 623.5h1M282.5 623.5h1M270 623.5h1M286 623.5h1M141.5 623.5h1M165.5 623.5h1M283.5 623.5h1M301 623.5h1M302.5 623.5h1M179.5 623.5h1M301 623.5h1M152 623.5h1M313 623.5h1M288 624h1M182.5 624h1M257 624h1M274.5 624h1M321 624h1M40.5 624h1M161 624h1M153.5 624h1M179 624h1M268 624h1M147 624h1M309 624h1M264 624h1M209 624h1M269.5 624h1M267.5 624h1M147.5 624h1M166.5 624h1M252.5 624h1M296 624.5h1M117 624.5h1M180 624.5h1M145.5 624.5h1M312 624.5h1M243.5 624.5h1M281.5 624.5h1M284 624.5h1M298.5 624.5h1M162 624.5h1M236.5 624.5h1M234.5 624.5h1M303 624.5h1M31.5 624.5h1M240 624.5h1M332.5 624.5h1M42 624.5h1M29 624.5h1M273 624.5h1M288.5 624.5h1M290.5 624.5h1M333.5 625h1M252.5 625h1M260 625h1M290 625h1M246.5 625h1M243 625h1M169.5 625h1M321.5 625h1M291 625h1M320 625h1M284.5 625h1M145.5 625h1M281.5 625h1M247 625h1M278 625h1M315.5 625h1M40.5 625h1M316 625h1M318 625h1M252.5 625h1M311.5 625h1M270.5 625h1M320 625.5h1M286.5 625.5h1M35 625.5h1M276 625.5h1M209.5 625.5h1M301.5 625.5h1M225.5 625.5h1M277.5 625.5h1M242 625.5h1M304 625.5h1M274 625.5h1M175 625.5h1M258.5 625.5h1M164.5 625.5h1M34 625.5h1M284 626h1M305 626h1M149.5 626h1M270 626h1M316 626h1M145.5 626h1M278.5 626h1M258 626h1M259 626h1M269.5 626h1M284.5 626h1M296.5 626h1M150.5 626h1M168 626h1M257.5 626h1M165.5 626h1M178 626h1M248 626h1M293 626h1M253.5 626h1M329.5 626h1M145.5 626h1M161 626h1M235.5 626h1M246 626h1M162.5 626h1M312.5 626.5h1M159.5 626.5h1M311 626.5h1M295 626.5h1M204 626.5h1M157.5 626.5h1M257 626.5h1M247.5 626.5h1M295.5 626.5h1M334.5 626.5h1M289 626.5h1M294.5 626.5h1M303.5 626.5h1M163.5 626.5h1M266 626.5h1M187 626.5h1M284 626.5h1M285 626.5h1M281 626.5h1M30.5 626.5h1M274 626.5h1M153 627h1M215.5 627h1M134.5 627h1M135.5 627h1M269.5 627h1M273.5 627h1M165.5 627h1M152 627h1M323 627h1M129.5 627h1M207.5 627h1M171.5 627h1M265 627h1M314.5 627h1M267.5 627h1M269 627h1M300 627h1M32 627h1M313 627h1M278 627h1M149 627h1M166.5 627h1M257.5 627h1M288 627h1M268.5 627h1M265 627.5h1M216 627.5h1M306 627.5h1M251.5 627.5h1M106.5 627.5h1M306 627.5h1M233.5 627.5h1M293 627.5h1M204 627.5h1M191.5 627.5h1M280 627.5h1M101.5 627.5h1M185.5 627.5h1M273 627.5h1M274 627.5h1M173.5 627.5h1M295.5 627.5h1M31.5 627.5h1M287 627.5h1M289.5 627.5h1M254 628h1M102 628h1M211.5 628h1M152.5 628h1M295 628h1M328 628h1M202 628h1M310 628h1M266 628h1M30 628h1M144.5 628h1M165.5 628h1M310 628h1M155 628h1M134.5 628h1M263 628h1M177.5 628h1M157.5 628h1M231.5 628h1M43 628h1M259.5 628h1M139.5 628h1M262.5 628.5h1M318 628.5h1M265.5 628.5h1M267 628.5h1M31.5 628.5h1M37.5 628.5h1M229.5 628.5h1M32 628.5h1M181.5 628.5h1M261 628.5h1M274 628.5h1M260.5 628.5h1M260 628.5h1M316 628.5h1M173.5 628.5h1M300.5 628.5h1M317.5 628.5h1M289 628.5h1M117.5 628.5h1M264.5 629h1M184 629h1M165 629h1M295 629h1M33.5 629h1M303.5 629h1M243 629h1M291.5 629h1M99 629h1M161.5 629h1M157.5 629h1M307 629h1M168 629h1M289 629.5h1M35.5 629.5h1M233.5 629.5h1M282 629.5h1M168.5 629.5h1M284.5 629.5h1M188 629.5h1M140 629.5h1M183 629.5h1M270.5 629.5h1M129.5 629.5h1M311 629.5h1M101.5 629.5h1M270.5 629.5h1M263.5 629.5h1M134.5 629.5h1M154.5 629.5h1M295 629.5h1M31.5 630h1M252.5 630h1M161.5 630h1M255.5 630h1M252.5 630h1M258.5 630h1M144 630h1M321 630h1M299 630h1M271 630h1M156 630h1M327 630h1M247.5 630h1M260.5 630h1M265 630h1M33 630h1M35.5 630h1M276.5 630h1M241.5 630h1M32.5 630h1M256.5 630h1M236.5 630.5h1M265 630.5h1M255 630.5h1M45.5 630.5h1M30.5 630.5h1M265 630.5h1M38.5 630.5h1M289 630.5h1M255 630.5h1M319 630.5h1M157 630.5h1M35 630.5h1M275.5 630.5h1M268.5 630.5h1M230.5 630.5h1M306.5 630.5h1M301 630.5h1M163 630.5h1M269 630.5h1M267 630.5h1M279.5 630.5h1M273.5 630.5h1M32.5 630.5h1M309 631h1M271.5 631h1M284 631h1M182 631h1M265 631h1M243.5 631h1M266.5 631h1M292 631h1M284 631h1M322.5 631h1M304.5 631h1M339 631h1M277 631h1M244.5 631h1M283 631h1M265.5 631h1M292.5 631h1M294.5 631h1M293.5 631h1M41.5 631h1M265.5 631h1M295.5 631h1M292 631.5h1M279 631.5h1M138.5 631.5h1M245 631.5h1M31 631.5h1M40 631.5h1M117 631.5h1M66 631.5h1M287 631.5h1M286 631.5h1M265 631.5h1M258 631.5h1M251.5 631.5h1M37 631.5h1M293.5 631.5h1M269 631.5h1M236.5 631.5h1M280.5 631.5h1M238 631.5h1M302 631.5h1M281.5 631.5h1M156.5 631.5h1M292.5 631.5h1M36 631.5h1M268.5 632h1M187.5 632h1M30.5 632h1M294.5 632h1M286 632h1M149.5 632h1M315 632h1M279 632h1M128.5 632h1M287.5 632h1M191.5 632h1M265.5 632h1M226.5 632h1M31 632h1M184.5 632h1M110.5 632h1M275 632h1M285.5 632.5h1M39.5 632.5h1M150.5 632.5h1M228.5 632.5h1M262 632.5h1M35 632.5h1M241.5 632.5h1M169.5 632.5h1M28 632.5h1M181.5 632.5h1M285 632.5h1M271.5 632.5h1M224.5 632.5h1M271 632.5h1M295.5 632.5h1M262.5 632.5h1M165.5 632.5h1M252 632.5h1M181 633h1M286 633h1M263.5 633h1M171 633h1M35.5 633h1M142.5 633h1M317.5 633h1M27 633h1M271.5 633h1M34.5 633h1M269 633h1M298.5 633h1M299.5 633h1M254.5 633h1M301 633h1M281.5 633h1M135 633h1M230.5 633h1M279.5 633h1M235 633h1M32 633h1M275 633.5h1M246.5 633.5h1M294.5 633.5h1M253.5 633.5h1M35.5 633.5h1M106.5 633.5h1M278 633.5h1M231 633.5h1M290.5 633.5h1M326.5 633.5h1M270.5 633.5h1M193 633.5h1M264 633.5h1M276.5 633.5h1M256 633.5h1M314 633.5h1M309.5 633.5h1M239 633.5h1M249 633.5h1M300 633.5h1M285 633.5h1M231.5 634h1M335.5 634h1M282.5 634h1M275 634h1M291 634h1M282 634h1M263.5 634h1M306 634h1M183 634h1M242.5 634h1M234 634h1M299 634h1M254.5 634h1M30.5 634h1M297 634h1M272 634h1M324 634h1M287 634h1M105 634h1M288 634h1M303.5 634h1M39.5 634h1M250 634.5h1M264.5 634.5h1M235.5 634.5h1M325 634.5h1M33 634.5h1M265 634.5h1M273.5 634.5h1M166.5 634.5h1M300.5 634.5h1M273 634.5h1M300 634.5h1M255 634.5h1M270 634.5h1M297 634.5h1M313 634.5h1M279 634.5h1M40 634.5h1M253.5 634.5h1M324 634.5h1M32.5 634.5h1M280 634.5h1M298.5 634.5h1M103.5 634.5h1M254.5 634.5h1M169 635h1M127 635h1M35.5 635h1M274 635h1M101 635h1M42 635h1M303 635h1M252 635h1M285.5 635h1M267 635h1M228 635h1M33 635h1M253.5 635h1M37.5 635h1M304 635h1M277.5 635h1M115 635h1M302 635h1M299 635h1M285.5 635h1M34.5 635h1M174.5 635h1M323 635h1M37 635.5h1M241 635.5h1M259.5 635.5h1M239.5 635.5h1M34 635.5h1M245 635.5h1M293.5 635.5h1M245 635.5h1M251 635.5h1M143 635.5h1M169 635.5h1M33.5 635.5h1M115.5 635.5h1M306.5 635.5h1M114.5 635.5h1M173 635.5h1M108 635.5h1M289 635.5h1M222.5 636h1M236.5 636h1M230 636h1M322.5 636h1M269.5 636h1M238 636h1M308 636h1M239 636h1M158.5 636h1M281 636h1M32.5 636h1M38 636h1M263.5 636h1M303.5 636h1M260.5 636h1M254 636h1M33.5 636h1M294.5 636h1M241 636h1M110 636h1M240.5 636h1M39 636h1M304 636h1M280.5 636.5h1M114.5 636.5h1M302 636.5h1M310.5 636.5h1M285 636.5h1M239 636.5h1M148 636.5h1M282 636.5h1M224 636.5h1M255 636.5h1M294.5 636.5h1M275 637h1M174.5 637h1M265 637h1M260.5 637h1M105 637h1M270 637h1M236.5 637h1M280 637h1M40.5 637h1M269 637h1M281.5 637h1M271.5 637h1M311.5 637h1M178.5 637h1M297.5 637h1M189 637.5h1M291 637.5h1M278.5 637.5h1M64.5 637.5h1M265.5 637.5h1M124.5 637.5h1M273.5 637.5h1M201.5 637.5h1M257.5 637.5h1M264.5 637.5h1M290 637.5h1M277.5 637.5h1M30.5 637.5h1M108.5 637.5h1M179.5 637.5h1M40 637.5h1M250 637.5h1M313 637.5h1M133 637.5h1M111 637.5h1M296 637.5h1M270.5 637.5h1M250 637.5h1M229 638h1M314 638h1M283.5 638h1M270 638h1M329 638h1M159 638h1M287.5 638h1M261 638h1M230.5 638h1M291 638h1M285.5 638h1M269 638h1M230 638h1M37.5 638h1M248.5 638h1M302.5 638h1M305.5 638h1M276.5 638h1M266 638h1M96.5 638h1M227 638.5h1M281 638.5h1M122.5 638.5h1M163 638.5h1M234.5 638.5h1M300.5 638.5h1M273 638.5h1M247 638.5h1M256 638.5h1M189 638.5h1M274 638.5h1M300 638.5h1M262.5 638.5h1M300 638.5h1M277 638.5h1M309 638.5h1M114 638.5h1M295 639h1M261.5 639h1M282.5 639h1M113 639h1M230.5 639h1M223.5 639h1M259.5 639h1M271.5 639h1M281.5 639h1M273 639h1M276.5 639h1M303 639h1M165 639h1M299.5 639h1M305 639h1M315 639h1M167 639.5h1M292 639.5h1M251.5 639.5h1M273 639.5h1M312.5 639.5h1M107 639.5h1M261.5 639.5h1M114 639.5h1M35.5 639.5h1M176 639.5h1M34 639.5h1M164.5 639.5h1M262.5 639.5h1M120 639.5h1M228 639.5h1M115.5 640h1M294.5 640h1M287.5 640h1M283.5 640h1M293.5 640h1M245 640h1M309.5 640h1M28 640h1M280 640h1M255.5 640h1M322.5 640h1M225.5 640h1M326 640h1M257 640h1M306.5 640h1M41 640.5h1M110 640.5h1M27.5 640.5h1M36 640.5h1M251.5 640.5h1M271.5 640.5h1M115 640.5h1M265 640.5h1M111 640.5h1M261.5 640.5h1M296 640.5h1M108.5 640.5h1M290.5 640.5h1M286.5 640.5h1M37 640.5h1M304 641h1M290.5 641h1M27.5 641h1M254 641h1M118.5 641h1M280 641h1M265 641h1M207 641h1M263 641h1M90 641h1M243.5 641h1M231 641h1M271 641h1M260 641h1M283 641h1M275.5 641.5h1M297.5 641.5h1M120.5 641.5h1M285.5 641.5h1M317 641.5h1M280.5 641.5h1M209.5 641.5h1M333.5 641.5h1M300 641.5h1M315 641.5h1M33.5 641.5h1M120.5 641.5h1M280.5 641.5h1M105 641.5h1M206 642h1M286.5 642h1M307.5 642h1M107 642h1M103 642h1M116 642h1M256 642h1M112.5 642h1M192 642h1M284 642h1M306.5 642h1M121 642h1M232.5 642h1M231.5 642h1M183 642h1M245 642h1M119.5 642h1M291 642h1M286.5 642h1M110.5 642h1M281 642h1M233 642.5h1M127.5 642.5h1M279.5 642.5h1M283.5 642.5h1M322 642.5h1M117.5 642.5h1M29.5 642.5h1M288.5 642.5h1M117 642.5h1M98.5 642.5h1M275.5 642.5h1M112 642.5h1M157 642.5h1M300.5 642.5h1M270 642.5h1M277.5 642.5h1M267 642.5h1M311 643h1M246.5 643h1M220.5 643h1M232 643h1M248.5 643h1M278 643h1M280 643h1M234 643h1M252.5 643h1M230.5 643h1M306 643h1M281 643h1M275.5 643h1M281.5 643h1M35 643h1M309 643h1M290 643h1M130 643.5h1M154.5 643.5h1M288.5 643.5h1M297.5 643.5h1M304.5 643.5h1M278 643.5h1M303.5 643.5h1M262.5 643.5h1M248 643.5h1M220 643.5h1M279 643.5h1M225.5 643.5h1M262.5 643.5h1M28 643.5h1M251 643.5h1M293 643.5h1M112 643.5h1M261 643.5h1M299.5 643.5h1M244.5 643.5h1M295 643.5h1M330 643.5h1M38 643.5h1M290.5 643.5h1M232 644h1M182 644h1M283 644h1M304 644h1M306 644h1M112.5 644h1M265 644h1M160 644h1M102.5 644h1M111.5 644h1M318.5 644h1M315 644h1M274 644h1M244 644h1M96 644.5h1M118.5 644.5h1M35.5 644.5h1M43 644.5h1M290.5 644.5h1M117.5 644.5h1M283 644.5h1M240 644.5h1M226.5 644.5h1M270.5 644.5h1M276 644.5h1M225 644.5h1M107.5 644.5h1M124.5 644.5h1M268 644.5h1M117 644.5h1M294.5 644.5h1M269 644.5h1M38 644.5h1M256 644.5h1M97.5 644.5h1M152 644.5h1M283 644.5h1M258 644.5h1M118 645h1M297 645h1M34.5 645h1M29.5 645h1M276.5 645h1M291 645h1M303 645h1M34 645h1M293 645h1M252 645h1M128.5 645h1M254 645h1M311.5 645.5h1M271.5 645.5h1M279 645.5h1M286 645.5h1M292 645.5h1M226.5 645.5h1M309.5 645.5h1M266 645.5h1M283 645.5h1M121 645.5h1M279.5 646h1M306 646h1M107 646h1M125 646h1M236.5 646h1M258 646h1M232 646h1M292.5 646h1M293.5 646h1M248 646h1M293 646h1M266 646h1M267.5 646h1M41 646h1M120.5 646.5h1M294 646.5h1M270.5 646.5h1M296 646.5h1M216 646.5h1M242 646.5h1M33.5 646.5h1M34 646.5h1M111 646.5h1M91.5 646.5h1M230.5 646.5h1M283.5 646.5h1M308.5 646.5h1M272 646.5h1M41 646.5h1M122 646.5h1M33 647h1M294 647h1M232 647h1M294.5 647h1M237.5 647h1M41.5 647h1M301 647h1M253.5 647h1M118.5 647h1M288 647h1M269 647h1M34 647h1M218.5 647h1M311 647h1M39 647h1M173.5 647h1M119 647.5h1M280 647.5h1M314.5 647.5h1M239.5 647.5h1M289 647.5h1M228.5 647.5h1M121.5 647.5h1M293 647.5h1M278.5 647.5h1M221 647.5h1M114.5 647.5h1M103.5 647.5h1M278 647.5h1M228 647.5h1M278 647.5h1M268.5 647.5h1M277 647.5h1M108.5 648h1M281 648h1M271 648h1M204.5 648h1M266.5 648h1M290 648h1M31.5 648h1M107.5 648h1M115.5 648h1M248 648h1M265.5 648h1M216 648h1M285.5 648h1M107.5 648h1M306 648.5h1M261.5 648.5h1M303.5 648.5h1M275.5 648.5h1M301.5 648.5h1M31 648.5h1M298 648.5h1M254.5 648.5h1M278.5 648.5h1M262 648.5h1M29 648.5h1M37 648.5h1M288.5 648.5h1M293 648.5h1M302 648.5h1M104.5 648.5h1M88 648.5h1M125.5 648.5h1M118.5 649h1M308 649h1M141 649h1M34 649h1M287.5 649h1M290 649h1M301 649h1M297.5 649h1M102 649h1M293 649h1M248 649.5h1M244.5 649.5h1M274 649.5h1M106 649.5h1M273.5 649.5h1M113.5 649.5h1M232 649.5h1M120 649.5h1M99.5 649.5h1M291.5 649.5h1M284 649.5h1M303.5 649.5h1M285.5 649.5h1M285 649.5h1M268.5 649.5h1M281.5 649.5h1M267 649.5h1M34 649.5h1M108 649.5h1M229 650h1M302 650h1M272 650h1M106 650h1M111.5 650h1M276.5 650h1M66 650h1M294.5 650h1M239 650h1M125 650h1M278.5 650h1M258.5 650h1M110.5 650h1M27 650h1M117 650h1M286 650.5h1M50 650.5h1M287 650.5h1M37 650.5h1M33.5 650.5h1M239 650.5h1M295.5 650.5h1M240 650.5h1M115.5 650.5h1M257.5 650.5h1M34 650.5h1M29 650.5h1M280.5 650.5h1M271.5 650.5h1M116.5 650.5h1M279 650.5h1M271 650.5h1M277.5 650.5h1M260.5 651h1M120.5 651h1M280 651h1M80.5 651h1M329 651h1M55 651h1M110.5 651h1M265 651h1M286.5 651h1M307.5 651h1M272 651h1M230.5 651h1M233 651h1M298.5 651h1M264 651h1M261 651h1M231 651h1M281 651h1M39.5 651h1M107 651h1M114.5 651h1M39 651h1M275.5 651.5h1M100.5 651.5h1M313 651.5h1M79 651.5h1M233 651.5h1M87 651.5h1M288 651.5h1M285.5 651.5h1M100.5 651.5h1M278.5 651.5h1M265.5 651.5h1M124.5 651.5h1M260.5 651.5h1M292.5 651.5h1M257.5 651.5h1M263 651.5h1M279 651.5h1M63.5 651.5h1M62.5 651.5h1M246.5 651.5h1M36.5 651.5h1M112.5 652h1M269.5 652h1M280.5 652h1M264 652h1M301.5 652h1M103 652h1M110.5 652h1M112.5 652h1M273.5 652h1M267 652h1M234 652h1M274.5 652h1M262 652.5h1M115.5 652.5h1M124.5 652.5h1M309 652.5h1M134 652.5h1M252.5 652.5h1M255 652.5h1M88 652.5h1M265.5 652.5h1M293.5 652.5h1M272 652.5h1M35.5 652.5h1M114 652.5h1M275.5 653h1M44.5 653h1M58 653h1M262 653h1M113 653h1M52.5 653h1M277 653h1M232 653h1M228.5 653h1M258.5 653.5h1M291.5 653.5h1M125 653.5h1M280.5 653.5h1M118.5 653.5h1M32 653.5h1M66.5 653.5h1M302.5 654h1M107.5 654h1M114.5 654h1M40.5 654h1M34 654h1M315 654h1M31.5 654h1M63 654h1M224.5 654h1M102 654h1M90 654h1M122 654h1M74 654h1M305.5 654h1M284 654.5h1M237 654.5h1M158 654.5h1M303.5 654.5h1M287 654.5h1M293 654.5h1M239 654.5h1M69.5 654.5h1M126.5 654.5h1M264.5 654.5h1M30 654.5h1M286.5 654.5h1M274.5 654.5h1M269.5 654.5h1M276.5 654.5h1M287.5 654.5h1M112 654.5h1M214 654.5h1M278.5 655h1M279.5 655h1M236.5 655h1M248 655h1M121 655h1M47.5 655h1M292.5 655h1M305.5 655h1M48 655h1M63.5 655h1M321.5 655h1M315 655h1M190.5 655h1M51 655h1M70 655h1M56.5 655h1M42 655h1M283.5 655h1M57.5 655.5h1M114.5 655.5h1M116 655.5h1M199.5 655.5h1M39.5 655.5h1M75 655.5h1M286 655.5h1M236 655.5h1M123.5 655.5h1M313.5 655.5h1M298 655.5h1M290 655.5h1M62.5 655.5h1M32.5 655.5h1M287 655.5h1M116 655.5h1M111 655.5h1M267 655.5h1M72.5 655.5h1M237.5 655.5h1M218.5 655.5h1M265 656h1M242 656h1M111 656h1M264.5 656h1M58 656h1M275.5 656h1M299.5 656h1M55 656h1M61.5 656h1M319.5 656h1M238 656h1M294.5 656h1M302 656h1M46.5 656h1M120 656h1M296 656h1M182 656h1M121 656h1M295.5 656h1M68 656h1M279 656h1M40.5 656h1M294.5 656.5h1M257.5 656.5h1M66 656.5h1M58 656.5h1M281.5 656.5h1M323.5 656.5h1M70 656.5h1M66 656.5h1M203 656.5h1M318 656.5h1M114.5 656.5h1M299.5 656.5h1M115.5 656.5h1M273 656.5h1M291.5 657h1M282 657h1M319 657h1M228.5 657h1M120 657h1M238 657h1M83.5 657h1M272.5 657h1M122 657h1M120.5 657h1M264 657h1M264 657h1M111 657h1M227 657h1M44 657h1M228 657h1M39.5 657h1M291.5 657h1M309 657.5h1M301.5 657.5h1M82 657.5h1M269 657.5h1M307.5 657.5h1M83 657.5h1M71.5 657.5h1M119 657.5h1M288.5 657.5h1M288 657.5h1M315.5 657.5h1M54.5 657.5h1M306.5 657.5h1M305.5 657.5h1M72 657.5h1M288.5 657.5h1M111.5 658h1M70.5 658h1M52.5 658h1M74.5 658h1M59 658h1M293.5 658h1M46.5 658h1M50 658h1M273 658h1M62.5 658h1M73 658h1M270 658h1M107 658h1M300 658h1M271.5 658h1M63 658h1M76 658h1M277 658h1M287.5 658h1M287 658.5h1M57 658.5h1M276.5 658.5h1M275.5 658.5h1M291 658.5h1M281.5 658.5h1M33 658.5h1M290.5 658.5h1M115.5 658.5h1M227.5 658.5h1M274 658.5h1M284 658.5h1M273.5 658.5h1M272.5 658.5h1M103.5 658.5h1M292.5 658.5h1M232 658.5h1M65.5 658.5h1M266.5 658.5h1M232.5 658.5h1M55 659h1M64.5 659h1M64 659h1M289 659h1M272.5 659h1M313.5 659h1M311 659h1M247 659h1M291.5 659h1M287.5 659h1M266.5 659h1M78.5 659h1M260 659h1M34.5 659h1M287.5 659h1M228 659h1M81.5 659h1M301.5 659h1M257.5 659h1M310 659h1M301.5 659.5h1M75 659.5h1M42 659.5h1M331 659.5h1M119 659.5h1M253 659.5h1M300 659.5h1M57.5 659.5h1M58.5 659.5h1M297.5 659.5h1M156.5 659.5h1M80.5 659.5h1M289 659.5h1M313 659.5h1M290.5 659.5h1M224 659.5h1M67.5 659.5h1M53.5 659.5h1M49.5 660h1M110 660h1M297.5 660h1M143.5 660h1M117.5 660h1M60.5 660h1M271 660h1M82.5 660h1M52.5 660h1M256.5 660h1M302.5 660h1M235.5 660h1M73.5 660h1M80.5 660.5h1M280.5 660.5h1M313 660.5h1M245 660.5h1M65 660.5h1M64 660.5h1M290 660.5h1M327 660.5h1M235.5 660.5h1M279.5 660.5h1M301 660.5h1M307.5 660.5h1M79.5 660.5h1M287 660.5h1M234 660.5h1M72 660.5h1M46.5 661h1M116 661h1M250 661h1M69.5 661h1M246.5 661h1M269.5 661h1M310.5 661h1M283 661h1M41.5 661h1M64.5 661h1M78.5 661h1M300.5 661h1M71.5 661h1M270 661h1M43 661h1M56 661h1M117.5 661h1M285 661h1M299.5 661h1M233.5 661.5h1M44 661.5h1M292.5 661.5h1M115 661.5h1M282.5 661.5h1M78 661.5h1M305.5 661.5h1M94 661.5h1M69.5 661.5h1M88 661.5h1M284 661.5h1M78 661.5h1M30 661.5h1M55 661.5h1M69.5 661.5h1M68 661.5h1M309 661.5h1M34 661.5h1M117.5 661.5h1M281.5 661.5h1M34.5 661.5h1M297.5 662h1M45 662h1M120.5 662h1M282.5 662h1M229 662h1M234.5 662h1M67 662h1M278 662h1M294.5 662h1M52 662h1M55.5 662h1M294 662h1M74.5 662h1M65 662h1M298 662h1M238.5 662h1M69 662h1M290 662.5h1M89 662.5h1M74.5 662.5h1M31.5 662.5h1M47.5 662.5h1M228 662.5h1M264 662.5h1M102 662.5h1M71.5 662.5h1M32.5 662.5h1M40.5 662.5h1M232 662.5h1M81 662.5h1M34 662.5h1M84.5 662.5h1M282 662.5h1M283.5 662.5h1M85.5 663h1M299 663h1M50.5 663h1M282.5 663h1M272.5 663h1M64 663h1M100.5 663h1M236.5 663h1M332 663h1M68 663h1M296 663h1M63.5 663h1M72.5 663h1M45.5 663.5h1M69.5 663.5h1M110.5 663.5h1M259.5 663.5h1M280.5 663.5h1M115.5 663.5h1M276.5 663.5h1M299 663.5h1M126 663.5h1M294 663.5h1M252.5 663.5h1M231.5 663.5h1M282.5 664h1M62.5 664h1M301.5 664h1M64.5 664h1M244.5 664h1M30 664h1M278 664h1M297.5 664h1M135 664h1M294.5 664h1M299 664h1M293.5 664h1M273 664h1M60 664h1M134.5 664h1M30.5 664h1M92.5 664.5h1M277.5 664.5h1M51 664.5h1M60 664.5h1M74.5 664.5h1M121 664.5h1M349 664.5h1M80 664.5h1M34 664.5h1M304 664.5h1M89 664.5h1M64.5 664.5h1M274.5 664.5h1M276.5 664.5h1M288.5 664.5h1M210 664.5h1M295 664.5h1M284 664.5h1M36.5 665h1M78.5 665h1M291.5 665h1M59 665h1M314.5 665h1M69.5 665h1M92.5 665h1M31 665h1M82 665h1M298.5 665h1M109 665.5h1M282 665.5h1M309.5 665.5h1M288.5 665.5h1M250 665.5h1M35 665.5h1M312 665.5h1M273 665.5h1M80.5 665.5h1M281 666h1M232.5 666h1M294 666h1M119.5 666h1M307 666h1M290 666h1M118.5 666h1M231.5 666.5h1M64.5 666.5h1M306 666.5h1M289 666.5h1M294.5 666.5h1M308 666.5h1M138 666.5h1M268 666.5h1M39.5 666.5h1M304.5 666.5h1M285 666.5h1M36.5 666.5h1M102 666.5h1M295.5 666.5h1M239 667h1M284 667h1M293 667h1M84.5 667h1M296 667h1M122.5 667h1M73.5 667h1M111 667h1M128.5 667h1M121 667h1M64.5 667h1M278 667h1M68 667h1M282 667h1M236.5 667h1M73 667h1M135.5 667.5h1M320 667.5h1M282 667.5h1M296 667.5h1M295.5 667.5h1M320 667.5h1M37.5 667.5h1M277.5 667.5h1M115 668h1M274 668h1M277 668h1M282.5 668h1M172.5 668h1M301.5 668h1M39 668h1M34.5 668.5h1M290 668.5h1M281.5 668.5h1M40.5 668.5h1M285.5 668.5h1M282 668.5h1M256 668.5h1M298.5 669h1M32.5 669h1M301.5 669h1M280 669h1M37 669h1M68.5 669h1M248 669h1M291 669h1M40 669h1M325.5 669h1M297.5 669h1M39 669h1M342.5 669.5h1M240 669.5h1M61.5 669.5h1M239.5 669.5h1M122.5 669.5h1M143.5 669.5h1M102.5 669.5h1M277 669.5h1M74.5 670h1M297 670h1M309.5 670h1M241.5 670h1M287 670h1M308.5 670.5h1M271 670.5h1M40.5 670.5h1M296.5 670.5h1M275.5 670.5h1M296.5 670.5h1M296 670.5h1M249 671h1M267 671h1M307 671h1M319 671h1M238.5 671h1M42 671h1M261.5 671h1M127.5 671h1M129 671h1M285.5 671.5h1M273 671.5h1M237.5 671.5h1M286 671.5h1M30 671.5h1M77.5 671.5h1M243 671.5h1M300 671.5h1M262 671.5h1M189 671.5h1M300.5 671.5h1M275 671.5h1M36.5 671.5h1M255 671.5h1M111 672h1M296 672h1M266.5 672h1M343 672h1M291 672h1M303 672.5h1M33 672.5h1M314 672.5h1M72 672.5h1M292.5 672.5h1M78 672.5h1M252.5 672.5h1M272.5 673h1M282.5 673h1M131.5 673h1M291 673h1M271.5 673h1M91 673h1M250.5 673h1M306 673h1M291.5 673h1M315 673h1M271.5 673.5h1M290.5 673.5h1M292 673.5h1M39 673.5h1M308 673.5h1M281 674h1M284 674h1M268.5 674h1M272 674h1M295 674h1M32.5 674.5h1M268 674.5h1M262 674.5h1M291.5 674.5h1M288.5 674.5h1M85 675h1M41.5 675h1M130 675h1M39 675h1M282 675.5h1M127.5 675.5h1M274 675.5h1M309 675.5h1M125 675.5h1M283 675.5h1M109.5 676h1M231 676h1M135 676h1M121 676h1M279.5 676h1M289.5 676h1M35 676h1M120 676h1M286.5 676h1M295.5 676h1M277.5 676h1M283.5 676h1M38 676h1M122 676.5h1M286 676.5h1M283.5 676.5h1M285.5 676.5h1M279 676.5h1M277 676.5h1M282 676.5h1M45.5 677h1M129 677h1M285 677h1M265.5 677h1M290 677h1M37.5 677h1M296 677h1M128 677h1M284 677h1M286 677h1M275.5 677.5h1M255 677.5h1M273 677.5h1M42 677.5h1M256 677.5h1M255.5 677.5h1M159.5 678h1M283.5 678h1M134 678h1M123 678h1M268.5 678.5h1M282 678.5h1M32.5 678.5h1M262.5 678.5h1M284.5 679h1M126.5 679h1M37.5 679h1M307.5 679h1M279 679h1M105 679h1M44 679h1M277 679h1M272.5 679.5h1M121.5 679.5h1M310 679.5h1M310.5 679.5h1M279 679.5h1M276.5 679.5h1M34.5 680h1M31 680h1M298 680h1M306.5 680h1M29.5 680h1M272 680h1M285 680.5h1M318 680.5h1M180 680.5h1M312 680.5h1M40 680.5h1M43.5 681h1M294.5 681h1M287 681h1M293 681h1M179 681h1M315 681.5h1M322.5 681.5h1M131 681.5h1M281 681.5h1M282.5 681.5h1M135.5 681.5h1M110 681.5h1M316.5 682h1M286 682h1M279 682h1M134.5 682.5h1M288.5 682.5h1M106.5 682.5h1M30.5 682.5h1M294 683h1M307 683h1M283.5 683h1M123 683h1M256.5 683h1M325 683h1M290.5 683h1M41 683h1M138.5 683.5h1M284 683.5h1M297 683.5h1M332 683.5h1M299.5 683.5h1M280 683.5h1M270 684h1M35 684h1M136 684h1M299.5 684h1M273 684h1M87.5 684h1M33.5 684h1M317.5 684.5h1M310 684.5h1M308 684.5h1M86.5 684.5h1M300 684.5h1M327.5 684.5h1M293.5 685h1M279 685h1M289 685h1M252 685h1M309 685h1M321 685h1M296 685h1M156 685h1M300.5 685h1M130 685h1M311 685.5h1M213 685.5h1M134.5 685.5h1M132.5 685.5h1M32 685.5h1M126.5 685.5h1M283.5 685.5h1M320.5 685.5h1M261.5 686h1M106.5 686h1M125 686h1M123.5 686h1M285.5 686h1M139 686h1M34 686.5h1M294 686.5h1M32.5 686.5h1M307.5 686.5h1M129 686.5h1M295.5 687h1M277.5 687h1M258.5 687h1M275.5 687h1M306 687h1M52 687h1M292.5 687h1M134 687h1M300 687.5h1M41 687.5h1M116.5 687.5h1M33 687.5h1M277 687.5h1M303 687.5h1M294.5 687.5h1M307.5 687.5h1M307 687.5h1M189.5 687.5h1M281.5 687.5h1M299.5 687.5h1M39.5 688h1M126.5 688h1M129 688h1M125 688h1M274.5 688h1M307 688h1M136 688h1M296.5 688h1M238.5 688h1M293 688h1M127.5 688h1M287 688.5h1M125.5 688.5h1M311.5 688.5h1M326 688.5h1M275 688.5h1M284 688.5h1M296 688.5h1M317.5 688.5h1M301 689h1M304 689h1M281.5 689h1M272 689h1M317.5 689h1M123 689.5h1M302.5 689.5h1M326.5 689.5h1M130 690h1M290 690h1M132 690h1M294.5 690h1M136 690h1M295.5 690h1M294.5 690h1M316 690h1M229 690h1M123.5 690.5h1M37 690.5h1M130.5 690.5h1M300 691h1M298 691h1M310 691h1M334.5 691h1M132 691h1M282.5 691h1M302.5 691h1M52.5 691h1M297.5 691h1M295 691h1M294 691h1M182.5 691.5h1M276 691.5h1M287.5 691.5h1M302 692h1M274 692h1M320.5 692h1M133 692h1M311 692h1M281.5 692h1M288.5 692.5h1M313.5 692.5h1M288 692.5h1M145 692.5h1M314.5 692.5h1M152 692.5h1M291.5 693h1M311.5 693h1M312.5 693h1M302 693h1M269.5 693.5h1M285 693.5h1M294 693.5h1M293.5 693.5h1M134.5 693.5h1M283.5 693.5h1M123.5 693.5h1M41 693.5h1M294.5 693.5h1M293 693.5h1M132 694h1M306 694h1M302 694h1M292 694h1M119 694h1M159 694h1M306.5 694h1M300.5 694h1M284.5 694.5h1M302.5 694.5h1M29.5 695h1M316.5 695h1M285.5 695h1M160 695h1M163 695h1M125.5 695h1M303.5 695h1M160.5 695h1M303 695.5h1M125.5 695.5h1M291 695.5h1M258.5 695.5h1M113.5 695.5h1M282.5 695.5h1M173.5 695.5h1M169 695.5h1M207.5 696h1M292.5 696h1M180 696h1M283.5 696h1M136.5 696h1M150 696h1M183.5 696h1M118.5 696h1M128 696h1M278 696h1M293.5 696h1M300.5 696.5h1M313.5 696.5h1M175 696.5h1M281.5 696.5h1M272.5 696.5h1M128.5 696.5h1M314 696.5h1M184 697h1M123 697h1M156.5 697h1M157 697h1M131 697h1M159 697h1M159 697h1M131.5 697h1M102 697h1M169 697h1M128 697h1M306 697h1M129 697.5h1M290.5 697.5h1M129 697.5h1M139.5 697.5h1M275.5 697.5h1M178.5 697.5h1M137.5 697.5h1M256.5 697.5h1M177 697.5h1M135.5 698h1M290.5 698h1M284 698h1M142 698h1M141.5 698h1M133.5 698h1M143 698h1M167.5 698.5h1M126.5 698.5h1M152.5 698.5h1M144 698.5h1M145.5 698.5h1M136 698.5h1M122.5 698.5h1M168.5 698.5h1M277.5 698.5h1M166 699h1M114 699h1M36.5 699h1M33.5 699h1M159 699h1M141.5 699h1M140.5 699h1M324 699h1M123.5 699h1M107 699.5h1M151.5 699.5h1M138 699.5h1M132 699.5h1M287.5 699.5h1M329.5 699.5h1M164 699.5h1M151 699.5h1M158 699.5h1M164.5 699.5h1M126.5 699.5h1M138 699.5h1M147.5 700h1M136 700h1M132.5 700h1M273 700h1M128.5 700h1M93.5 700h1M170.5 700h1M164 700h1M135.5 700h1M323 700h1M149 700.5h1M134 700.5h1M156 700.5h1M147 700.5h1M164 700.5h1M139 700.5h1M193.5 700.5h1M181 701h1M130 701h1M299.5 701h1M275.5 701h1M185.5 701h1M145 701.5h1M152.5 701.5h1M130.5 701.5h1M148 702h1M162.5 702h1M191 702h1M303 702h1M125 702h1M196.5 702.5h1M310 702.5h1M144.5 702.5h1M139.5 702.5h1M142.5 702.5h1M159 702.5h1M140.5 702.5h1M182.5 703h1M332 703.5h1M110 703.5h1M157 703.5h1M157.5 703.5h1M155 703.5h1M275 703.5h1M139 704h1M40 704h1M145.5 704h1M193 704h1M153 704h1M106.5 704h1M158 704.5h1M148.5 704.5h1" stroke="#e3224c" stroke-width="1" stroke-opacity="0.95" fill="none"/>
<path d="M292.5 603.5h1M261 603.5h1M270.5 604.5h1M295 604.5h1M251 605h1M30.5 605.5h1M30 606.5h1M287.5 607.5h1M303 608h1M301.5 608h1M342.5 608.5h1M254 609h1M36 609h1M273.5 609h1M253.5 609.5h1M264.5 610h1M303.5 610.5h1M280 610.5h1M41.5 612.5h1M37 613.5h1M291.5 613.5h1M280.5 614h1M34 615h1M274.5 615h1M303 615.5h1M275.5 615.5h1M29 616.5h1M326 617h1M205.5 617h1M32 617.5h1M261 618h1M222 620h1M275 620h1M278.5 620h1M260 620h1M321.5 620.5h1M288.5 621h1M290.5 621.5h1M285.5 622h1M269.5 622h1M34.5 622h1M41.5 622.5h1M29 623h1M326.5 623h1M303.5 623h1M31.5 623.5h1M270.5 624.5h1M246.5 624.5h1M33 625h1M294 625.5h1M302.5 626h1M345 626.5h1M222 627h1M266.5 627h1M273.5 627.5h1M242.5 628h1M300 628.5h1M36 629h1M40 629h1M34 629.5h1M251 629.5h1M271 630.5h1M297 631h1M256.5 631h1M36.5 631h1M33.5 631.5h1M275 632h1M248 632h1M284.5 632.5h1M290.5 632.5h1M299.5 633h1M249 633h1M256.5 633h1M224 633.5h1M314.5 634h1M285.5 634h1M251 634.5h1M32.5 634.5h1M303 634.5h1M35 634.5h1M307.5 634.5h1M319 635h1M31.5 635h1M327.5 635h1M289.5 635h1M31.5 635.5h1M258 636.5h1M38 636.5h1M241.5 636.5h1M243.5 636.5h1M340.5 636.5h1M290 639h1M281.5 639h1M286.5 639h1M29 639h1M29.5 639.5h1M230.5 639.5h1M228.5 639.5h1M299 641h1M268 641.5h1M33 642h1M292.5 642h1M276.5 642.5h1M284.5 643.5h1M322 643.5h1M304.5 643.5h1M296.5 643.5h1M271 644h1M282.5 644h1M263 644.5h1M298.5 645.5h1M284.5 645.5h1M277.5 645.5h1M255.5 646h1M39.5 646h1M35 646h1M275.5 646h1M302 646.5h1M51 647h1M269.5 647h1M274 647h1M52 647.5h1M264.5 647.5h1M281.5 647.5h1M275 648h1M29 648.5h1M286.5 648.5h1M300 648.5h1M45 648.5h1M54 649h1M32 649h1M301 649h1M273 649.5h1M250.5 649.5h1M255.5 650.5h1M286 650.5h1M273.5 650.5h1M55 650.5h1M28.5 651h1M223 651h1M62 651h1M275 651h1M49.5 651.5h1M61.5 651.5h1M32 652h1M55 652h1M53.5 652h1M240.5 652.5h1M52 652.5h1M45 652.5h1M269 653h1M216.5 653.5h1M31.5 653.5h1M268.5 653.5h1M62.5 654h1M272.5 654h1M40 654.5h1M304 654.5h1M57.5 655h1M64 655.5h1M38.5 655.5h1M61.5 655.5h1M205 656h1M286.5 656h1M28 656h1M278.5 656h1M259.5 656.5h1M38 656.5h1M231.5 656.5h1M42.5 657h1M298.5 657h1M67.5 657h1M334 657h1M59 657h1M63.5 657.5h1M241.5 658h1M47 658h1M72.5 658h1M75 658.5h1M41.5 658.5h1M49.5 658.5h1M350 658.5h1M42 659h1M312 659h1M81.5 659h1M266.5 659h1M69 659.5h1M54.5 660h1M54.5 660h1M76.5 660h1M33.5 660.5h1M70 661h1M72.5 661h1M70.5 661.5h1M251.5 661.5h1M72 661.5h1M53.5 662h1M282.5 662h1M84.5 662h1M50.5 662.5h1M48 662.5h1M108 662.5h1M85 663h1M250.5 663.5h1M34.5 663.5h1M77.5 664h1M48.5 664h1M292 664h1M269.5 664h1M260 664.5h1M233 664.5h1M64 664.5h1M50.5 664.5h1M235.5 664.5h1M76 664.5h1M256 664.5h1M54.5 665h1M253.5 665h1M95 665h1M76.5 666h1M258.5 666.5h1M279 666.5h1M264.5 666.5h1M74 667h1M270 667h1M69.5 667h1M82 667h1M69 667h1M297 667.5h1M321 667.5h1M261.5 668h1M95 668h1M249 668.5h1M32 669h1M68.5 669.5h1M270.5 669.5h1M272.5 669.5h1M232 669.5h1M295.5 670h1M314 671h1M286 674.5h1M326 676h1M275.5 683h1M284 687.5h1M267.5 693h1M251.5 693.5h1M297 698h1M250.5 699h1" stroke="#c83090" stroke-width="1" stroke-opacity="0.9" fill="none"/>
<path d="M347 602.5h0.9M131 602.5h0.9M98.5 602.5h0.9M115 602.5h0.9M199.5 603h0.9M329.5 603h0.9M117.5 603h0.9M119 603.5h0.9M114 603.5h0.9M145 603.5h0.9M260 603.5h0.9M107 603.5h0.9M80 603.5h0.9M342 603.5h0.9M230.5 603.5h0.9M275.5 603.5h0.9M346 604h0.9M142 604h0.9M77 604h0.9M119 604h0.9M138.5 604h0.9M115.5 604.5h0.9M268 604.5h0.9M328 604.5h0.9M336.5 605h0.9M337.5 605h0.9M117.5 605h0.9M62.5 605h0.9M341.5 605h0.9M338.5 605h0.9M118.5 605.5h0.9M248.5 605.5h0.9M251 606h0.9M335.5 606h0.9M345 606h0.9M91 606h0.9M83.5 606h0.9M329 606.5h0.9M83 606.5h0.9M243 606.5h0.9M83.5 606.5h0.9M107.5 607h0.9M87.5 607h0.9M324.5 607h0.9M78.5 607h0.9M146 607h0.9M82.5 607h0.9M77.5 607h0.9M231 607h0.9M89 607.5h0.9M69 607.5h0.9M78 607.5h0.9M328 607.5h0.9M147.5 607.5h0.9M343.5 607.5h0.9M145.5 607.5h0.9M78 607.5h0.9M77.5 608h0.9M90 608h0.9M113.5 608h0.9M76 608h0.9M92.5 608h0.9M88.5 608h0.9M91.5 608h0.9M87 608h0.9M77.5 608.5h0.9M154.5 608.5h0.9M115.5 608.5h0.9M255 608.5h0.9M149 608.5h0.9M68 608.5h0.9M96.5 608.5h0.9M152 608.5h0.9M63 608.5h0.9M146.5 609h0.9M329 609h0.9M147 609h0.9M112.5 609h0.9M324 609h0.9M319 609h0.9M91 609h0.9M83 609h0.9M234 609.5h0.9M80.5 609.5h0.9M327.5 609.5h0.9M323 609.5h0.9M98 609.5h0.9M96.5 609.5h0.9M90 609.5h0.9M118.5 609.5h0.9M91 610h0.9M62 610h0.9M93.5 610h0.9M76.5 610h0.9M82 610h0.9M69 610h0.9M282 610.5h0.9M104 610.5h0.9M72.5 610.5h0.9M97.5 610.5h0.9M107.5 610.5h0.9M76.5 610.5h0.9M85 610.5h0.9M102.5 610.5h0.9M67.5 610.5h0.9M94 610.5h0.9M91.5 611h0.9M62 611h0.9M92 611h0.9M89.5 611h0.9M318 611.5h0.9M248 611.5h0.9M321 611.5h0.9M295.5 611.5h0.9M111 611.5h0.9M148 611.5h0.9M107.5 611.5h0.9M107 612h0.9M102 612h0.9M66.5 612h0.9M72 612h0.9M55 612h0.9M95.5 612h0.9M73.5 612h0.9M148.5 612.5h0.9M74 612.5h0.9M71.5 612.5h0.9M241.5 612.5h0.9M323 612.5h0.9M150 612.5h0.9M251 612.5h0.9M324.5 612.5h0.9M46.5 612.5h0.9M100 612.5h0.9M107 612.5h0.9M226 613h0.9M154.5 613h0.9M67 613h0.9M99 613h0.9M61.5 613h0.9M97.5 613h0.9M120 613h0.9M62.5 613h0.9M97.5 613.5h0.9M351 613.5h0.9M101.5 613.5h0.9M150 614h0.9M248 614h0.9M55.5 614h0.9M107.5 614h0.9M57 614h0.9M152.5 614h0.9M230.5 614h0.9M61.5 614h0.9M79.5 614h0.9M247 614.5h0.9M268 614.5h0.9M350.5 614.5h0.9M238.5 614.5h0.9M251 614.5h0.9M296 614.5h0.9M235.5 614.5h0.9M64 614.5h0.9M252 614.5h0.9M147.5 614.5h0.9M121.5 614.5h0.9M111.5 614.5h0.9M62 614.5h0.9M243.5 614.5h0.9M61 615h0.9M245.5 615h0.9M243 615h0.9M58.5 615h0.9M108 615h0.9M109.5 615h0.9M241 615h0.9M111.5 615h0.9M150 615.5h0.9M205 615.5h0.9M59.5 615.5h0.9M249.5 615.5h0.9M171 615.5h0.9M244 615.5h0.9M253.5 616h0.9M62.5 616h0.9M318.5 616h0.9M60.5 616h0.9M256 616h0.9M107 616h0.9M59.5 616h0.9M46 616h0.9M239 616h0.9M249.5 616h0.9M106.5 616h0.9M215 616.5h0.9M128 616.5h0.9M243.5 616.5h0.9M248.5 616.5h0.9M130 616.5h0.9M57 616.5h0.9M253.5 616.5h0.9M56.5 616.5h0.9M244 616.5h0.9M263 616.5h0.9M109.5 616.5h0.9M108.5 616.5h0.9M82.5 617h0.9M61.5 617h0.9M106 617h0.9M59.5 617h0.9M236.5 617h0.9M167.5 617h0.9M232 617h0.9M106 617h0.9M256 617h0.9M54 617h0.9M227.5 617h0.9M89.5 617.5h0.9M235.5 617.5h0.9M46 617.5h0.9M55 617.5h0.9M57 617.5h0.9M234.5 617.5h0.9M106.5 617.5h0.9M111.5 617.5h0.9M250 618h0.9M106.5 618h0.9M318.5 618h0.9M105 618h0.9M146 618h0.9M204.5 618h0.9M55.5 618h0.9M213.5 618.5h0.9M125.5 618.5h0.9M262 618.5h0.9M245 618.5h0.9M147 618.5h0.9M233 618.5h0.9M51.5 618.5h0.9M314 618.5h0.9M320 619h0.9M108.5 619h0.9M172.5 619h0.9M245 619h0.9M259.5 619.5h0.9M237 619.5h0.9M259 619.5h0.9M257.5 619.5h0.9M251 620h0.9M233.5 620h0.9M64.5 620.5h0.9M317 620.5h0.9M256.5 620.5h0.9M234 620.5h0.9M233.5 620.5h0.9M258 620.5h0.9M142 620.5h0.9M281.5 621h0.9M254 621h0.9M113.5 621h0.9M53.5 621h0.9M111.5 621h0.9M237.5 621h0.9M108 621h0.9M238.5 621h0.9M114.5 621.5h0.9M259 621.5h0.9M299 621.5h0.9M149 621.5h0.9M46.5 621.5h0.9M83 621.5h0.9M200 621.5h0.9M114 621.5h0.9M148.5 621.5h0.9M109.5 622h0.9M114 622h0.9M44.5 622h0.9M116.5 622h0.9M109 622h0.9M32 622h0.9M111.5 622h0.9M113 622h0.9M232 622h0.9M116 622h0.9M118 622h0.9M315.5 622h0.9M115.5 622h0.9M213 622h0.9M257 622h0.9M52 622.5h0.9M53 622.5h0.9M63 622.5h0.9M67 622.5h0.9M112 622.5h0.9M52.5 622.5h0.9M116 622.5h0.9M262 622.5h0.9M42 622.5h0.9M146.5 622.5h0.9M205.5 622.5h0.9M110 622.5h0.9M50 622.5h0.9M119.5 623h0.9M318.5 623h0.9M263 623h0.9M218 623h0.9M164.5 623h0.9M111 623h0.9M228.5 623h0.9M88 623h0.9M49.5 623.5h0.9M133 623.5h0.9M235 623.5h0.9M236.5 623.5h0.9M198 623.5h0.9M261.5 623.5h0.9M91 624h0.9M144.5 624h0.9M46.5 624h0.9M248 624h0.9M114 624.5h0.9M138 624.5h0.9M317.5 624.5h0.9M140.5 624.5h0.9M243 624.5h0.9M51.5 624.5h0.9M307 624.5h0.9M66 624.5h0.9M59.5 624.5h0.9M53 624.5h0.9M63.5 624.5h0.9M139 624.5h0.9M284.5 624.5h0.9M89 624.5h0.9M124 624.5h0.9M283.5 625h0.9M88 625h0.9M217 625h0.9M310 625h0.9M260.5 625h0.9M144 625.5h0.9M262.5 625.5h0.9M109.5 625.5h0.9M262 626h0.9M295 626h0.9M58.5 626h0.9M260 626h0.9M296 626h0.9M314.5 626h0.9M48 626.5h0.9M45.5 626.5h0.9M258 626.5h0.9M28 626.5h0.9M151.5 626.5h0.9M128.5 626.5h0.9M262 626.5h0.9M224.5 626.5h0.9M260 626.5h0.9M277 626.5h0.9M261.5 626.5h0.9M317.5 626.5h0.9M264 626.5h0.9M209 626.5h0.9M271.5 627h0.9M250 627h0.9M51.5 627.5h0.9M49 627.5h0.9M290.5 627.5h0.9M229.5 627.5h0.9M214 627.5h0.9M163 628h0.9M49 628h0.9M83 628h0.9M255 628h0.9M303 628h0.9M51 628h0.9M50 628h0.9M110.5 628h0.9M258 628h0.9M129.5 628.5h0.9M111 628.5h0.9M253.5 628.5h0.9M63.5 628.5h0.9M91 628.5h0.9M160.5 628.5h0.9M39 628.5h0.9M50.5 628.5h0.9M237.5 629h0.9M108.5 629h0.9M45.5 629h0.9M285.5 629h0.9M294.5 629h0.9M48 629h0.9M131 629h0.9M49.5 629h0.9M261.5 629h0.9M150.5 629h0.9M236.5 629h0.9M214 629h0.9M321 629.5h0.9M183 629.5h0.9M233 629.5h0.9M118.5 629.5h0.9M59 629.5h0.9M79 630h0.9M190 630h0.9M238.5 630h0.9M130 630h0.9M235 630h0.9M160.5 630h0.9M169.5 630h0.9M233.5 630h0.9M135 630.5h0.9M193 630.5h0.9M50.5 630.5h0.9M79 630.5h0.9M314.5 630.5h0.9M200 630.5h0.9M49 630.5h0.9M112 631h0.9M233 631h0.9M51 631h0.9M251.5 631h0.9M324 631h0.9M297 631h0.9M111 631.5h0.9M287.5 631.5h0.9M222 631.5h0.9M252.5 631.5h0.9M49.5 631.5h0.9M312.5 631.5h0.9M104.5 631.5h0.9M129.5 632h0.9M45 632h0.9M100.5 632h0.9M257.5 632h0.9M165.5 632h0.9M125.5 632h0.9M261 632h0.9M237.5 632h0.9M55 632h0.9M238.5 632.5h0.9M235.5 632.5h0.9M197 632.5h0.9M121.5 632.5h0.9M247 632.5h0.9M241 632.5h0.9M128 632.5h0.9M239.5 632.5h0.9M146 632.5h0.9M88.5 632.5h0.9M86 632.5h0.9M224.5 632.5h0.9M251.5 633h0.9M49 633h0.9M226 633h0.9M244.5 633h0.9M294 633h0.9M85 633h0.9M225 633h0.9M315 633h0.9M314 633h0.9M111 633h0.9M107.5 633h0.9M228.5 633.5h0.9M232 633.5h0.9M118.5 633.5h0.9M215.5 633.5h0.9M252 633.5h0.9M117 633.5h0.9M251 633.5h0.9M272.5 634h0.9M235.5 634h0.9M213.5 634h0.9M241.5 634h0.9M215.5 634h0.9M225.5 634h0.9M29 634h0.9M223 634h0.9M58.5 634h0.9M112.5 634.5h0.9M241.5 634.5h0.9M247.5 634.5h0.9M256 634.5h0.9M312.5 634.5h0.9M221 634.5h0.9M102 634.5h0.9M275.5 634.5h0.9M305.5 634.5h0.9M91 634.5h0.9M202 634.5h0.9M139 634.5h0.9M251.5 634.5h0.9M300.5 634.5h0.9M112.5 634.5h0.9M248.5 635h0.9M51 635h0.9M27.5 635h0.9M69.5 635h0.9M210 635h0.9M51 635h0.9M242 635h0.9M308.5 635h0.9M220 635h0.9M223.5 635h0.9M246 635h0.9M67.5 635h0.9M226 635.5h0.9M222.5 635.5h0.9M247 635.5h0.9M280 635.5h0.9M120.5 635.5h0.9M50 635.5h0.9M31 635.5h0.9M47.5 635.5h0.9M209.5 636h0.9M149 636h0.9M123 636h0.9M245.5 636h0.9M285 636h0.9M315.5 636h0.9M251.5 636h0.9M242 636h0.9M238.5 636h0.9M314.5 636.5h0.9M222 636.5h0.9M242.5 636.5h0.9M67 636.5h0.9M238 636.5h0.9M220 636.5h0.9M236.5 636.5h0.9M113.5 636.5h0.9M95 636.5h0.9M244 636.5h0.9M213.5 636.5h0.9M115.5 636.5h0.9M131 637h0.9M254 637h0.9M73 637h0.9M207 637h0.9M221 637h0.9M279 637h0.9M200 637h0.9M312 637h0.9M287 637h0.9M222.5 637h0.9M209 637.5h0.9M159.5 637.5h0.9M295.5 637.5h0.9M219.5 637.5h0.9M239 637.5h0.9M207.5 638h0.9M44.5 638h0.9M206 638h0.9M44 638h0.9M250.5 638h0.9M315.5 638h0.9M109.5 638h0.9M138 638h0.9M85.5 638.5h0.9M217.5 638.5h0.9M207 638.5h0.9M243.5 638.5h0.9M210 638.5h0.9M105.5 638.5h0.9M315 638.5h0.9M239 639h0.9M312.5 639h0.9M55.5 639h0.9M229 639h0.9M61.5 639h0.9M252 639h0.9M209.5 639h0.9M254.5 639h0.9M279 639h0.9M34 639.5h0.9M227.5 639.5h0.9M276 639.5h0.9M104 639.5h0.9M154 639.5h0.9M270.5 639.5h0.9M225 639.5h0.9M200.5 639.5h0.9M207 639.5h0.9M257 639.5h0.9M53.5 639.5h0.9M201.5 639.5h0.9M153 639.5h0.9M68 640h0.9M52 640h0.9M48 640h0.9M259.5 640h0.9M227 640h0.9M176 640h0.9M248.5 640h0.9M198 640.5h0.9M144 640.5h0.9M224 640.5h0.9M176 640.5h0.9M271.5 640.5h0.9M107.5 640.5h0.9M88.5 640.5h0.9M171 640.5h0.9M278.5 640.5h0.9M67 640.5h0.9M187.5 640.5h0.9M109.5 640.5h0.9M71.5 641h0.9M209 641h0.9M105.5 641h0.9M247 641h0.9M223.5 641h0.9M89.5 641h0.9M132.5 641h0.9M232.5 641h0.9M294.5 641h0.9M228.5 641h0.9M98 641h0.9M261 641h0.9M51.5 641h0.9M234 641.5h0.9M109 641.5h0.9M121.5 641.5h0.9M95 641.5h0.9M226 641.5h0.9M234.5 641.5h0.9M200.5 641.5h0.9M199.5 641.5h0.9M201.5 641.5h0.9M169.5 641.5h0.9M229.5 641.5h0.9M208 641.5h0.9M243.5 642h0.9M29 642h0.9M202.5 642h0.9M103.5 642h0.9M266 642h0.9M105 642h0.9M282.5 642h0.9M54 642h0.9M243 642h0.9M214 642.5h0.9M146.5 642.5h0.9M276 642.5h0.9M107.5 642.5h0.9M64 642.5h0.9M238.5 642.5h0.9M324 642.5h0.9M153.5 642.5h0.9M100.5 642.5h0.9M233 642.5h0.9M93.5 642.5h0.9M217 643h0.9M125.5 643h0.9M313 643h0.9M205.5 643h0.9M50.5 643h0.9M204.5 643h0.9M112.5 643h0.9M52.5 643h0.9M229 643h0.9M199 643.5h0.9M106.5 643.5h0.9M314 643.5h0.9M269 643.5h0.9M54.5 643.5h0.9M109 643.5h0.9M215 643.5h0.9M105.5 644h0.9M50 644h0.9M183.5 644h0.9M229 644h0.9M308.5 644h0.9M126 644h0.9M103 644h0.9M232.5 644h0.9M51.5 644h0.9M199.5 644h0.9M171 644h0.9M294.5 644.5h0.9M296 644.5h0.9M245 644.5h0.9M224.5 644.5h0.9M79 644.5h0.9M197.5 644.5h0.9M231 644.5h0.9M316.5 644.5h0.9M95.5 644.5h0.9M281.5 644.5h0.9M45.5 644.5h0.9M225.5 645h0.9M207.5 645h0.9M99.5 645h0.9M91.5 645h0.9M243.5 645h0.9M102 645h0.9M234 645h0.9M256.5 645h0.9M257.5 645h0.9M54 645h0.9M51.5 645h0.9M312.5 645.5h0.9M234.5 645.5h0.9M80 645.5h0.9M54.5 645.5h0.9M204.5 645.5h0.9M215.5 645.5h0.9M240 645.5h0.9M250.5 645.5h0.9M196 645.5h0.9M232 645.5h0.9M208 645.5h0.9M263 645.5h0.9M48.5 645.5h0.9M154.5 645.5h0.9M146.5 645.5h0.9M341.5 646h0.9M121 646h0.9M55.5 646h0.9M232.5 646h0.9M51.5 646h0.9M231 646h0.9M314 646h0.9M147 646.5h0.9M240.5 646.5h0.9M138.5 646.5h0.9M314.5 646.5h0.9M176 646.5h0.9M198 646.5h0.9M151.5 647h0.9M102 647h0.9M228.5 647h0.9M173 647h0.9M280.5 647h0.9M102 647h0.9M124.5 647h0.9M279.5 647h0.9M265 647h0.9M101 647h0.9M160.5 647h0.9M317 647h0.9M300 647h0.9M315.5 647.5h0.9M231.5 647.5h0.9M288 647.5h0.9M122.5 647.5h0.9M60 647.5h0.9M73 647.5h0.9M66.5 647.5h0.9M234 648h0.9M146.5 648h0.9M100 648h0.9M191.5 648h0.9M51.5 648h0.9M233.5 648.5h0.9M140.5 648.5h0.9M61 648.5h0.9M66.5 648.5h0.9M96 648.5h0.9M166 648.5h0.9M286 648.5h0.9M238 648.5h0.9M87.5 648.5h0.9M195.5 648.5h0.9M46.5 648.5h0.9M238 648.5h0.9M99.5 648.5h0.9M92 648.5h0.9M166 648.5h0.9M72.5 649h0.9M132 649h0.9M158 649h0.9M196.5 649h0.9M56.5 649h0.9M253 649h0.9M281.5 649h0.9M98 649h0.9M136.5 649h0.9M301.5 649h0.9M57 649h0.9M94.5 649.5h0.9M312 649.5h0.9M172 649.5h0.9M261.5 649.5h0.9M103 649.5h0.9M168 649.5h0.9M60 649.5h0.9M174.5 649.5h0.9M312 649.5h0.9M101 649.5h0.9M272.5 649.5h0.9M177.5 649.5h0.9M106.5 649.5h0.9M157 649.5h0.9M58.5 649.5h0.9M243 649.5h0.9M204.5 649.5h0.9M158.5 650h0.9M226 650h0.9M310 650h0.9M230.5 650h0.9M105.5 650h0.9M196.5 650h0.9M303 650h0.9M100 650h0.9M199.5 650h0.9M314.5 650h0.9M91.5 650h0.9M56 650h0.9M234.5 650.5h0.9M176 650.5h0.9M87.5 650.5h0.9M177.5 650.5h0.9M94.5 650.5h0.9M91 650.5h0.9M231 650.5h0.9M154 650.5h0.9M91.5 650.5h0.9M236.5 650.5h0.9M233 650.5h0.9M163.5 651h0.9M175.5 651h0.9M155 651h0.9M64.5 651h0.9M86 651h0.9M268 651h0.9M97 651h0.9M89 651h0.9M61 651h0.9M172 651h0.9M184.5 651h0.9M51 651h0.9M52.5 651h0.9M235.5 651h0.9M289.5 651h0.9M178 651h0.9M231 651.5h0.9M233.5 651.5h0.9M234.5 651.5h0.9M151 651.5h0.9M162.5 651.5h0.9M82.5 651.5h0.9M197.5 651.5h0.9M340 651.5h0.9M233.5 651.5h0.9M94 651.5h0.9M165 651.5h0.9M69.5 651.5h0.9M153.5 651.5h0.9M193.5 651.5h0.9M232.5 652h0.9M318.5 652h0.9M174 652h0.9M84.5 652h0.9M75.5 652h0.9M192.5 652h0.9M314 652h0.9M230 652h0.9M171 652h0.9M181.5 652h0.9M213 652h0.9M74.5 652h0.9M151 652h0.9M191.5 652h0.9M83.5 652h0.9M194.5 652h0.9M155 652.5h0.9M147 652.5h0.9M157.5 652.5h0.9M231 652.5h0.9M315 652.5h0.9M261.5 652.5h0.9M263.5 652.5h0.9M154 652.5h0.9M296.5 652.5h0.9M179 652.5h0.9M207.5 652.5h0.9M302.5 653h0.9M57.5 653h0.9M148 653h0.9M137.5 653h0.9M160.5 653h0.9M210 653h0.9M89.5 653h0.9M75.5 653h0.9M171 653h0.9M185.5 653h0.9M155.5 653h0.9M247 653h0.9M287.5 653h0.9M92 653h0.9M131.5 653h0.9M176 653.5h0.9M105 653.5h0.9M88.5 653.5h0.9M81 653.5h0.9M252 653.5h0.9M127.5 653.5h0.9M144.5 653.5h0.9M284.5 653.5h0.9M176.5 653.5h0.9M73 653.5h0.9M62.5 653.5h0.9M167 654h0.9M61.5 654h0.9M333.5 654h0.9M32 654h0.9M153.5 654h0.9M297.5 654h0.9M291 654h0.9M318 654h0.9M238.5 654h0.9M176.5 654h0.9M67.5 654h0.9M276 654h0.9M140 654h0.9M75.5 654.5h0.9M144 654.5h0.9M80 654.5h0.9M157 654.5h0.9M232.5 654.5h0.9M182.5 654.5h0.9M276 654.5h0.9M55 654.5h0.9M204.5 654.5h0.9M83.5 654.5h0.9M237 654.5h0.9M81.5 654.5h0.9M232 654.5h0.9M266 654.5h0.9M80 655h0.9M166.5 655h0.9M134 655h0.9M237 655h0.9M337.5 655h0.9M315.5 655h0.9M188.5 655h0.9M285 655h0.9M182 655.5h0.9M194.5 655.5h0.9M84.5 655.5h0.9M106 655.5h0.9M61 655.5h0.9M142 655.5h0.9M269.5 655.5h0.9M315 655.5h0.9M180.5 655.5h0.9M76 655.5h0.9M255 655.5h0.9M318.5 655.5h0.9M148.5 656h0.9M178.5 656h0.9M263.5 656h0.9M205.5 656h0.9M275.5 656h0.9M268.5 656h0.9M265.5 656h0.9M235.5 656h0.9M257 656h0.9M232.5 656h0.9M215.5 656h0.9M110.5 656h0.9M248.5 656h0.9M55.5 656.5h0.9M256.5 656.5h0.9M260 656.5h0.9M237 656.5h0.9M79 656.5h0.9M73.5 656.5h0.9M274 656.5h0.9M159 656.5h0.9M243.5 656.5h0.9M346.5 656.5h0.9M191 656.5h0.9M232.5 656.5h0.9M236.5 656.5h0.9M191.5 657h0.9M250.5 657h0.9M205 657h0.9M178 657h0.9M277.5 657h0.9M192.5 657h0.9M265 657h0.9M39 657h0.9M267.5 657h0.9M271.5 657h0.9M186 657.5h0.9M142 657.5h0.9M82 657.5h0.9M227.5 657.5h0.9M193.5 657.5h0.9M171.5 657.5h0.9M75 657.5h0.9M273 657.5h0.9M145.5 657.5h0.9M103 657.5h0.9M185 657.5h0.9M298.5 657.5h0.9M273.5 657.5h0.9M315 657.5h0.9M153 658h0.9M236.5 658h0.9M188 658h0.9M148 658h0.9M280 658h0.9M150 658h0.9M234 658h0.9M40.5 658h0.9M256.5 658h0.9M237 658h0.9M158 658h0.9M291.5 658.5h0.9M194 658.5h0.9M190.5 658.5h0.9M273.5 658.5h0.9M125 658.5h0.9M226 658.5h0.9M49 658.5h0.9M192 658.5h0.9M256 658.5h0.9M184 658.5h0.9M237 658.5h0.9M231.5 658.5h0.9M145 658.5h0.9M184 658.5h0.9M267.5 658.5h0.9M207.5 658.5h0.9M94.5 658.5h0.9M156.5 658.5h0.9M257 658.5h0.9M255 658.5h0.9M74 658.5h0.9M190.5 659h0.9M196 659h0.9M237 659h0.9M152.5 659h0.9M261 659h0.9M261 659h0.9M293 659h0.9M260.5 659h0.9M252.5 659h0.9M271.5 659.5h0.9M329.5 659.5h0.9M193.5 659.5h0.9M271.5 659.5h0.9M77 659.5h0.9M287 659.5h0.9M254.5 659.5h0.9M252.5 659.5h0.9M54.5 659.5h0.9M235 659.5h0.9M68 659.5h0.9M254.5 659.5h0.9M194 660h0.9M169 660h0.9M279.5 660h0.9M259.5 660h0.9M190 660h0.9M134.5 660h0.9M287 660h0.9M265.5 660h0.9M303 660.5h0.9M236 660.5h0.9M271 660.5h0.9M272.5 660.5h0.9M295.5 660.5h0.9M273 661h0.9M234.5 661h0.9M215 661h0.9M255.5 661h0.9M252.5 661h0.9M148.5 661h0.9M97.5 661h0.9M119.5 661h0.9M253.5 661h0.9M272 661h0.9M91 661h0.9M287 661h0.9M273 661h0.9M253.5 661h0.9M324 661.5h0.9M238.5 661.5h0.9M103.5 661.5h0.9M132.5 661.5h0.9M139.5 661.5h0.9M265 661.5h0.9M262.5 661.5h0.9M239.5 661.5h0.9M100.5 661.5h0.9M254 661.5h0.9M88.5 661.5h0.9M84 661.5h0.9M184 661.5h0.9M274 661.5h0.9M78 661.5h0.9M146.5 661.5h0.9M262 662h0.9M290 662h0.9M190.5 662h0.9M271.5 662h0.9M273 662h0.9M185 662h0.9M280.5 662h0.9M69.5 662h0.9M91 662h0.9M265 662h0.9M85 662h0.9M78.5 662h0.9M74 662h0.9M307 662h0.9M283.5 662.5h0.9M274 662.5h0.9M57.5 662.5h0.9M294 662.5h0.9M191 662.5h0.9M57.5 662.5h0.9M295.5 662.5h0.9M288.5 662.5h0.9M86 662.5h0.9M255.5 662.5h0.9M278 662.5h0.9M194.5 662.5h0.9M64.5 662.5h0.9M69.5 662.5h0.9M268 662.5h0.9M210.5 663h0.9M107.5 663h0.9M236 663h0.9M133 663h0.9M278 663h0.9M248 663h0.9M190 663h0.9M252.5 663h0.9M74.5 663h0.9M104 663h0.9M66 663h0.9M80.5 663h0.9M239 663h0.9M79.5 663h0.9M135.5 663h0.9M195.5 663h0.9M98 663.5h0.9M253 663.5h0.9M274.5 663.5h0.9M188 663.5h0.9M250.5 663.5h0.9M250.5 663.5h0.9M93 663.5h0.9M188.5 663.5h0.9M342.5 663.5h0.9M242.5 663.5h0.9M265.5 663.5h0.9M97.5 663.5h0.9M85 663.5h0.9M282.5 663.5h0.9M276.5 663.5h0.9M58 663.5h0.9M84.5 663.5h0.9M286.5 663.5h0.9M78.5 663.5h0.9M256 663.5h0.9M294.5 663.5h0.9M265 663.5h0.9M280 663.5h0.9M64 664h0.9M90.5 664h0.9M236 664h0.9M83.5 664h0.9M77.5 664h0.9M277.5 664h0.9M66 664h0.9M197 664h0.9M161 664h0.9M193.5 664h0.9M243.5 664h0.9M83.5 664h0.9M67.5 664h0.9M235 664h0.9M254 664h0.9M275.5 664h0.9M61.5 664h0.9M270 664h0.9M247 664h0.9M77.5 664h0.9M249 664.5h0.9M94.5 664.5h0.9M221 664.5h0.9M291 664.5h0.9M237 664.5h0.9M184.5 664.5h0.9M63.5 664.5h0.9M84.5 664.5h0.9M77.5 664.5h0.9M232 664.5h0.9M198 664.5h0.9M238 664.5h0.9M268 664.5h0.9M262.5 665h0.9M248 665h0.9M97 665h0.9M75.5 665h0.9M94 665h0.9M321 665h0.9M66 665h0.9M235 665h0.9M87 665h0.9M83 665h0.9M269.5 665h0.9M250 665.5h0.9M52 665.5h0.9M270 665.5h0.9M62.5 665.5h0.9M195 665.5h0.9M304.5 665.5h0.9M75 665.5h0.9M59 665.5h0.9M63 665.5h0.9M243.5 665.5h0.9M45 665.5h0.9M294.5 665.5h0.9M256 665.5h0.9M272 665.5h0.9M279.5 665.5h0.9M60 666h0.9M281.5 666h0.9M262.5 666h0.9M80 666h0.9M248 666h0.9M32 666h0.9M194.5 666h0.9M66.5 666h0.9M249 666h0.9M226 666h0.9M209 666h0.9M93 666h0.9M270 666h0.9M83.5 666h0.9M271.5 666h0.9M198.5 666h0.9M278 666h0.9M245 666h0.9M233 666h0.9M261 666.5h0.9M187 666.5h0.9M300 666.5h0.9M59.5 666.5h0.9M315.5 666.5h0.9M158.5 666.5h0.9M55.5 666.5h0.9M60 666.5h0.9M284.5 666.5h0.9M90 666.5h0.9M307.5 666.5h0.9M193.5 666.5h0.9M282.5 666.5h0.9M308.5 666.5h0.9M263.5 666.5h0.9M318 667h0.9M219.5 667h0.9M97 667h0.9M266.5 667h0.9M86.5 667h0.9M281 667h0.9M132.5 667h0.9M123.5 667h0.9M53.5 667h0.9M291.5 667h0.9M49.5 667h0.9M197 667h0.9M55 667h0.9M277.5 667h0.9M352 667h0.9M280 667h0.9M101 667h0.9M140.5 667h0.9M168 667h0.9M245.5 667.5h0.9M319 667.5h0.9M122 667.5h0.9M174.5 667.5h0.9M276 667.5h0.9M273 667.5h0.9M94.5 667.5h0.9M53.5 667.5h0.9M310 667.5h0.9M322 667.5h0.9M133 667.5h0.9M317 667.5h0.9M104 667.5h0.9M248 667.5h0.9M255.5 667.5h0.9M58 668h0.9M225.5 668h0.9M352.5 668h0.9M123.5 668h0.9M197 668h0.9M236.5 668h0.9M99 668h0.9M351.5 668h0.9M246.5 668h0.9M337 668h0.9M102 668h0.9M191 668h0.9M289.5 668.5h0.9M281.5 668.5h0.9M321 668.5h0.9M262 668.5h0.9M55.5 668.5h0.9M69 668.5h0.9M323.5 668.5h0.9M164.5 668.5h0.9M268.5 668.5h0.9M266 668.5h0.9M259 668.5h0.9M189.5 668.5h0.9M268 668.5h0.9M139 668.5h0.9M132.5 668.5h0.9M284 668.5h0.9M194 668.5h0.9M309.5 668.5h0.9M192.5 668.5h0.9M249.5 668.5h0.9M91 668.5h0.9M50 668.5h0.9M109 669h0.9M262 669h0.9M240.5 669h0.9M276 669h0.9M280 669h0.9M353 669h0.9M254 669h0.9M219.5 669h0.9M98 669h0.9M284.5 669h0.9M197.5 669h0.9M282.5 669h0.9M192 669h0.9M247.5 669h0.9M47.5 669h0.9M248 669h0.9M351.5 669.5h0.9M235 669.5h0.9M46 669.5h0.9M188.5 669.5h0.9M196.5 669.5h0.9M283 669.5h0.9M257.5 669.5h0.9M194 669.5h0.9M171.5 669.5h0.9M234 669.5h0.9M105 669.5h0.9M217 669.5h0.9M252 669.5h0.9M192.5 669.5h0.9M270 669.5h0.9M285 669.5h0.9M208.5 669.5h0.9M352.5 669.5h0.9M106.5 670h0.9M268 670h0.9M205 670h0.9M347.5 670h0.9M209 670h0.9M88.5 670h0.9M349 670h0.9M72.5 670h0.9M157 670h0.9M278 670h0.9M199 670h0.9M281 670h0.9M110.5 670.5h0.9M233 670.5h0.9M197 670.5h0.9M110.5 670.5h0.9M350.5 670.5h0.9M250.5 670.5h0.9M286 670.5h0.9M143.5 670.5h0.9M283.5 670.5h0.9M246.5 670.5h0.9M281 670.5h0.9M199.5 670.5h0.9M200.5 671h0.9M273.5 671h0.9M245 671h0.9M274 671h0.9M251 671h0.9M49 671h0.9M257 671h0.9M107.5 671h0.9M277.5 671h0.9M283 671h0.9M286 671h0.9M289 671h0.9M321 671h0.9M237 671h0.9M43 671h0.9M91.5 671h0.9M133 671h0.9M296 671h0.9M316 671h0.9M291 671h0.9M114 671h0.9M280 671h0.9M278.5 671.5h0.9M130 671.5h0.9M300.5 671.5h0.9M109 671.5h0.9M94.5 671.5h0.9M238 671.5h0.9M254 671.5h0.9M193 671.5h0.9M322 671.5h0.9M259 671.5h0.9M111.5 671.5h0.9M199.5 671.5h0.9M277.5 671.5h0.9M298 671.5h0.9M280 671.5h0.9M296 671.5h0.9M261 672h0.9M277.5 672h0.9M201 672h0.9M112.5 672h0.9M303.5 672h0.9M278 672h0.9M311.5 672h0.9M276 672h0.9M245.5 672h0.9M190.5 672h0.9M127.5 672.5h0.9M43.5 672.5h0.9M278.5 672.5h0.9M242 672.5h0.9M71.5 672.5h0.9M110 672.5h0.9M247 672.5h0.9M127.5 672.5h0.9M236 672.5h0.9M231.5 672.5h0.9M305.5 672.5h0.9M143.5 672.5h0.9M272.5 672.5h0.9M272.5 672.5h0.9M44.5 672.5h0.9M181.5 672.5h0.9M325.5 672.5h0.9M48 672.5h0.9M246 672.5h0.9M259 672.5h0.9M130.5 672.5h0.9M246 672.5h0.9M249 672.5h0.9M270 673h0.9M64.5 673h0.9M286 673h0.9M195.5 673h0.9M233.5 673h0.9M280.5 673h0.9M328 673h0.9M152 673h0.9M231.5 673h0.9M309.5 673h0.9M194 673h0.9M29.5 673h0.9M292.5 673.5h0.9M41.5 673.5h0.9M344.5 673.5h0.9M113 673.5h0.9M304 673.5h0.9M256 673.5h0.9M316.5 673.5h0.9M285 673.5h0.9M134.5 673.5h0.9M200.5 673.5h0.9M192 673.5h0.9M180 673.5h0.9M109.5 673.5h0.9M342 673.5h0.9M256.5 673.5h0.9M202 673.5h0.9M285.5 673.5h0.9M283.5 673.5h0.9M43 673.5h0.9M197.5 673.5h0.9M79.5 674h0.9M244 674h0.9M282.5 674h0.9M234 674h0.9M181 674h0.9M327 674h0.9M178.5 674h0.9M52 674h0.9M246 674h0.9M182.5 674h0.9M246.5 674.5h0.9M242.5 674.5h0.9M327 674.5h0.9M253 674.5h0.9M233.5 674.5h0.9M245 674.5h0.9M112.5 674.5h0.9M306.5 674.5h0.9M346.5 674.5h0.9M274 674.5h0.9M315 674.5h0.9M254.5 674.5h0.9M197 674.5h0.9M190.5 674.5h0.9M329 674.5h0.9M36 674.5h0.9M235 675h0.9M340.5 675h0.9M315 675h0.9M237 675h0.9M236.5 675h0.9M247.5 675h0.9M280.5 675h0.9M40.5 675h0.9M131.5 675h0.9M232.5 675h0.9M42.5 675h0.9M284.5 675h0.9M316 675h0.9M69 675h0.9M301.5 675h0.9M232 675.5h0.9M257.5 675.5h0.9M322.5 675.5h0.9M313 675.5h0.9M133.5 675.5h0.9M189 675.5h0.9M350 675.5h0.9M284.5 675.5h0.9M135 675.5h0.9M309.5 675.5h0.9M241.5 675.5h0.9M278 675.5h0.9M342.5 675.5h0.9M190.5 675.5h0.9M217.5 676h0.9M248.5 676h0.9M253.5 676h0.9M139 676h0.9M285.5 676h0.9M170.5 676h0.9M96.5 676h0.9M342 676h0.9M337.5 676h0.9M351 676h0.9M285.5 676h0.9M341 676h0.9M311.5 676h0.9M234.5 676h0.9M244.5 676h0.9M133 676.5h0.9M289 676.5h0.9M200.5 676.5h0.9M117.5 676.5h0.9M230 676.5h0.9M353 676.5h0.9M341 676.5h0.9M249 676.5h0.9M272.5 676.5h0.9M39.5 676.5h0.9M306.5 676.5h0.9M40.5 676.5h0.9M289 676.5h0.9M215 676.5h0.9M284.5 677h0.9M38 677h0.9M121 677h0.9M190.5 677h0.9M135 677h0.9M310.5 677h0.9M341.5 677h0.9M190.5 677h0.9M319 677h0.9M118 677h0.9M248.5 677h0.9M190.5 677h0.9M252 677h0.9M191 677h0.9M233.5 677h0.9M118.5 677.5h0.9M38.5 677.5h0.9M229 677.5h0.9M287.5 677.5h0.9M259.5 677.5h0.9M34 677.5h0.9M37 677.5h0.9M252 677.5h0.9M117 677.5h0.9M191 677.5h0.9M281.5 677.5h0.9M197.5 677.5h0.9M241.5 677.5h0.9M346.5 677.5h0.9M339 678h0.9M113 678h0.9M198 678h0.9M238 678h0.9M231 678h0.9M233 678h0.9M286 678h0.9M141 678h0.9M258 678h0.9M277.5 678h0.9M259.5 678h0.9M166 678h0.9M332.5 678h0.9M242 678.5h0.9M283.5 678.5h0.9M235.5 678.5h0.9M329.5 678.5h0.9M247.5 678.5h0.9M117 678.5h0.9M38 678.5h0.9M307 678.5h0.9M38.5 678.5h0.9M315 678.5h0.9M195.5 678.5h0.9M336.5 678.5h0.9M200.5 678.5h0.9M151 678.5h0.9M285 678.5h0.9M332.5 678.5h0.9M116.5 678.5h0.9M114.5 678.5h0.9M344 678.5h0.9M184.5 678.5h0.9M292.5 679h0.9M40 679h0.9M233 679h0.9M50 679h0.9M312 679h0.9M37.5 679h0.9M92.5 679h0.9M209 679h0.9M298.5 679h0.9M40 679h0.9M119.5 679h0.9M133 679h0.9M192 679.5h0.9M141.5 679.5h0.9M118.5 679.5h0.9M35 679.5h0.9M251 679.5h0.9M314 679.5h0.9M286.5 679.5h0.9M197.5 679.5h0.9M264 679.5h0.9M113 679.5h0.9M279.5 679.5h0.9M193 679.5h0.9M169 679.5h0.9M233 679.5h0.9M37.5 679.5h0.9M342 679.5h0.9M244.5 679.5h0.9M257 680h0.9M97 680h0.9M36.5 680h0.9M268.5 680h0.9M194.5 680h0.9M262.5 680h0.9M129.5 680h0.9M199 680h0.9M278 680h0.9M40 680h0.9M248 680h0.9M150 680h0.9M339.5 680h0.9M76 680h0.9M254 680h0.9M38 680h0.9M296 680h0.9M343 680h0.9M195 680h0.9M235 680.5h0.9M258 680.5h0.9M128.5 680.5h0.9M120 680.5h0.9M352.5 680.5h0.9M264.5 680.5h0.9M195 680.5h0.9M283 680.5h0.9M36.5 680.5h0.9M288.5 680.5h0.9M296.5 680.5h0.9M71 680.5h0.9M335 681h0.9M285 681h0.9M248 681h0.9M290 681h0.9M199 681h0.9M133.5 681h0.9M133.5 681h0.9M284.5 681h0.9M34.5 681h0.9M336 681h0.9M130 681h0.9M284.5 681h0.9M224.5 681h0.9M199 681h0.9M187.5 681h0.9M116 681h0.9M279 681.5h0.9M342 681.5h0.9M130 681.5h0.9M258.5 681.5h0.9M119.5 681.5h0.9M119 681.5h0.9M246 681.5h0.9M148 681.5h0.9M121.5 681.5h0.9M205.5 681.5h0.9M121.5 681.5h0.9M288 681.5h0.9M260 681.5h0.9M140 681.5h0.9M257.5 681.5h0.9M41.5 681.5h0.9M193 682h0.9M209 682h0.9M171 682h0.9M290 682h0.9M132 682h0.9M243.5 682h0.9M136 682h0.9M249 682h0.9M250 682h0.9M259 682h0.9M258 682h0.9M130 682h0.9M196.5 682h0.9M131.5 682h0.9M294 682h0.9M167 682.5h0.9M283.5 682.5h0.9M243.5 682.5h0.9M249.5 682.5h0.9M191.5 682.5h0.9M136.5 682.5h0.9M194.5 682.5h0.9M279.5 682.5h0.9M334.5 682.5h0.9M200.5 682.5h0.9M201.5 682.5h0.9M121.5 682.5h0.9M130.5 682.5h0.9M195.5 682.5h0.9M143 682.5h0.9M252.5 683h0.9M139 683h0.9M244.5 683h0.9M130 683h0.9M61 683h0.9M284 683h0.9M252.5 683h0.9M328.5 683h0.9M267 683h0.9M232.5 683h0.9M242 683h0.9M281.5 683.5h0.9M272 683.5h0.9M247 683.5h0.9M134.5 683.5h0.9M281.5 683.5h0.9M247 683.5h0.9M137 683.5h0.9M200 683.5h0.9M243.5 683.5h0.9M27.5 683.5h0.9M196.5 683.5h0.9M280 684h0.9M327 684h0.9M254 684h0.9M271.5 684h0.9M122 684h0.9M267 684h0.9M163 684h0.9M252 684h0.9M279.5 684h0.9M272 684h0.9M100 684h0.9M195.5 684h0.9M286.5 684h0.9M119.5 684h0.9M271.5 684h0.9M140 684h0.9M279.5 684h0.9M192 684h0.9M37 684.5h0.9M197 684.5h0.9M329.5 684.5h0.9M286.5 684.5h0.9M251.5 684.5h0.9M88.5 684.5h0.9M198 684.5h0.9M277 684.5h0.9M170 684.5h0.9M121.5 684.5h0.9M38 684.5h0.9M195 684.5h0.9M114.5 684.5h0.9M125 684.5h0.9M244.5 684.5h0.9M255 684.5h0.9M40 684.5h0.9M135 684.5h0.9M191.5 684.5h0.9M199 684.5h0.9M279.5 684.5h0.9M278.5 685h0.9M232.5 685h0.9M129.5 685h0.9M115 685h0.9M77.5 685h0.9M251 685h0.9M246 685h0.9M59 685h0.9M111.5 685h0.9M141 685h0.9M99 685h0.9M259 685h0.9M276.5 685h0.9M283 685h0.9M41 685h0.9M314.5 685h0.9M53 685.5h0.9M263.5 685.5h0.9M232 685.5h0.9M284 685.5h0.9M239.5 685.5h0.9M193 685.5h0.9M258.5 685.5h0.9M274.5 685.5h0.9M252.5 685.5h0.9M171.5 685.5h0.9M231.5 685.5h0.9M191 685.5h0.9M252.5 685.5h0.9M261 685.5h0.9M274 685.5h0.9M260 685.5h0.9M261.5 686h0.9M273.5 686h0.9M278.5 686h0.9M48.5 686h0.9M232 686h0.9M206.5 686h0.9M230.5 686h0.9M252 686h0.9M122.5 686h0.9M278 686h0.9M274.5 686h0.9M280.5 686h0.9M280.5 686h0.9M36.5 686h0.9M79 686h0.9M284.5 686h0.9M156.5 686.5h0.9M122.5 686.5h0.9M273.5 686.5h0.9M157 686.5h0.9M123.5 686.5h0.9M124 686.5h0.9M269.5 686.5h0.9M193 686.5h0.9M257 687h0.9M256.5 687h0.9M281.5 687h0.9M36.5 687h0.9M153 687h0.9M96.5 687h0.9M131 687h0.9M320 687h0.9M273 687h0.9M266 687h0.9M142 687h0.9M115 687h0.9M192.5 687.5h0.9M270.5 687.5h0.9M339.5 687.5h0.9M279 687.5h0.9M229 687.5h0.9M57.5 687.5h0.9M193.5 687.5h0.9M227 687.5h0.9M123 687.5h0.9M118.5 687.5h0.9M69 687.5h0.9M269.5 687.5h0.9M132.5 687.5h0.9M193 687.5h0.9M194 688h0.9M251.5 688h0.9M258 688h0.9M61 688h0.9M285.5 688h0.9M161.5 688h0.9M144.5 688h0.9M190.5 688h0.9M36 688h0.9M309.5 688h0.9M223.5 688h0.9M210 688h0.9M140.5 688h0.9M197.5 688h0.9M232.5 688h0.9M124 688h0.9M229 688h0.9M245.5 688h0.9M191 688.5h0.9M310.5 688.5h0.9M33.5 688.5h0.9M197 688.5h0.9M167.5 688.5h0.9M277.5 688.5h0.9M337 688.5h0.9M192.5 688.5h0.9M269 688.5h0.9M227 688.5h0.9M34 688.5h0.9M266.5 688.5h0.9M117.5 688.5h0.9M280 688.5h0.9M141.5 689h0.9M36.5 689h0.9M191 689h0.9M254 689h0.9M210.5 689h0.9M321 689h0.9M135.5 689h0.9M249.5 689h0.9M135.5 689h0.9M132.5 689h0.9M33 689h0.9M228.5 689h0.9M232.5 689.5h0.9M162 689.5h0.9M54 689.5h0.9M55 689.5h0.9M198.5 689.5h0.9M111 689.5h0.9M278.5 689.5h0.9M221.5 689.5h0.9M226 689.5h0.9M245.5 689.5h0.9M268 689.5h0.9M104.5 689.5h0.9M121 690h0.9M224 690h0.9M249.5 690h0.9M121.5 690h0.9M236 690h0.9M193.5 690h0.9M324.5 690h0.9M151 690h0.9M53 690h0.9M134.5 690h0.9M279.5 690h0.9M141 690.5h0.9M118 690.5h0.9M273 690.5h0.9M283 690.5h0.9M70.5 690.5h0.9M282 690.5h0.9M92 690.5h0.9M96 690.5h0.9M260.5 690.5h0.9M307.5 690.5h0.9M250.5 690.5h0.9M220.5 690.5h0.9M182 690.5h0.9M342.5 690.5h0.9M251.5 690.5h0.9M277.5 690.5h0.9M175.5 691h0.9M265.5 691h0.9M34.5 691h0.9M135 691h0.9M111 691h0.9M241.5 691h0.9M120.5 691h0.9M126 691h0.9M193 691h0.9M266.5 691h0.9M227.5 691h0.9M270 691h0.9M193.5 691.5h0.9M141.5 691.5h0.9M193.5 691.5h0.9M147 691.5h0.9M134.5 691.5h0.9M252 691.5h0.9M193 691.5h0.9M197 691.5h0.9M277.5 691.5h0.9M213.5 691.5h0.9M253 691.5h0.9M281 691.5h0.9M199 691.5h0.9M278.5 691.5h0.9M193 691.5h0.9M39 691.5h0.9M280.5 691.5h0.9M191.5 691.5h0.9M136.5 691.5h0.9M263.5 691.5h0.9M195.5 692h0.9M271 692h0.9M228.5 692h0.9M282.5 692h0.9M255 692h0.9M79 692h0.9M261 692h0.9M278 692h0.9M253 692h0.9M272.5 692h0.9M97.5 692h0.9M277 692h0.9M195 692h0.9M326 692h0.9M257.5 692h0.9M123 692.5h0.9M194.5 692.5h0.9M224.5 692.5h0.9M278.5 692.5h0.9M267 692.5h0.9M262.5 692.5h0.9M34 692.5h0.9M193 692.5h0.9M198.5 692.5h0.9M137.5 692.5h0.9M228 692.5h0.9M197 692.5h0.9M229 692.5h0.9M250 692.5h0.9M154.5 693h0.9M288.5 693h0.9M254 693h0.9M105.5 693h0.9M257.5 693h0.9M255.5 693h0.9M312.5 693h0.9M272 693.5h0.9M205 693.5h0.9M196.5 693.5h0.9M138.5 693.5h0.9M189 693.5h0.9M228.5 693.5h0.9M135 693.5h0.9M55 693.5h0.9M256.5 693.5h0.9M250.5 693.5h0.9M156 693.5h0.9M135.5 693.5h0.9M337.5 693.5h0.9M310.5 693.5h0.9M135.5 693.5h0.9M196.5 693.5h0.9M187.5 693.5h0.9M255 693.5h0.9M193 693.5h0.9M30 694h0.9M38 694h0.9M293 694h0.9M231.5 694h0.9M256.5 694h0.9M271.5 694h0.9M285.5 694h0.9M263.5 694h0.9M33.5 694h0.9M186 694h0.9M197 694h0.9M189.5 694h0.9M264.5 694.5h0.9M137.5 694.5h0.9M140.5 694.5h0.9M223.5 694.5h0.9M83.5 694.5h0.9M140.5 694.5h0.9M140.5 694.5h0.9M263.5 694.5h0.9M123.5 694.5h0.9M288 694.5h0.9M115.5 694.5h0.9M274.5 695h0.9M224 695h0.9M299 695h0.9M257.5 695h0.9M139.5 695h0.9M227.5 695h0.9M256.5 695h0.9M223 695h0.9M198.5 695h0.9M329 695h0.9M257 695h0.9M282.5 695h0.9M279 695h0.9M269 695h0.9M333 695h0.9M51 695h0.9M188 695h0.9M263 695h0.9M221 695h0.9M138 695h0.9M143.5 695.5h0.9M262.5 695.5h0.9M183.5 695.5h0.9M314.5 695.5h0.9M259.5 695.5h0.9M32.5 695.5h0.9M121 695.5h0.9M200 695.5h0.9M33.5 695.5h0.9M250 695.5h0.9M198.5 695.5h0.9M282.5 695.5h0.9M140.5 695.5h0.9M287 695.5h0.9M307.5 696h0.9M235.5 696h0.9M34 696h0.9M228 696h0.9M120.5 696h0.9M121 696h0.9M252 696h0.9M336.5 696h0.9M313 696h0.9M184.5 696h0.9M145 696h0.9M264 696h0.9M295 696h0.9M200.5 696h0.9M175 696.5h0.9M277.5 696.5h0.9M266 696.5h0.9M199.5 696.5h0.9M261 696.5h0.9M216.5 696.5h0.9M33.5 696.5h0.9M209.5 696.5h0.9M187.5 696.5h0.9M292.5 696.5h0.9M145 697h0.9M37 697h0.9M140 697h0.9M224 697h0.9M261 697h0.9M62 697h0.9M37.5 697h0.9M199.5 697h0.9M221 697h0.9M143.5 697h0.9M143.5 697h0.9M263.5 697h0.9M34.5 697h0.9M257 697.5h0.9M303 697.5h0.9M116 697.5h0.9M260 697.5h0.9M34.5 697.5h0.9M140.5 697.5h0.9M212.5 697.5h0.9M72.5 697.5h0.9M118 697.5h0.9M254.5 697.5h0.9M143 698h0.9M251 698h0.9M198 698h0.9M265.5 698h0.9M40.5 698h0.9M216.5 698h0.9M204 698h0.9M118 698h0.9M39.5 698h0.9M216.5 698h0.9M153.5 698.5h0.9M120 698.5h0.9M259.5 698.5h0.9M212.5 698.5h0.9M224.5 698.5h0.9M72 698.5h0.9M219.5 698.5h0.9M266.5 698.5h0.9M209.5 698.5h0.9M117 699h0.9M205.5 699h0.9M178.5 699h0.9M327 699h0.9M263 699h0.9M152 699h0.9M119 699h0.9M222 699h0.9M120 699h0.9M150 699h0.9M146.5 699h0.9M36.5 699h0.9M191 699h0.9M202 699h0.9M33.5 699h0.9M199 699h0.9M156.5 699h0.9M262 699h0.9M213 699.5h0.9M303 699.5h0.9M203 699.5h0.9M199 699.5h0.9M216.5 699.5h0.9M113.5 699.5h0.9M177.5 699.5h0.9M190 699.5h0.9M217.5 699.5h0.9M149.5 699.5h0.9M242.5 699.5h0.9M36 699.5h0.9M178.5 700h0.9M37.5 700h0.9M119.5 700h0.9M263 700h0.9M117 700h0.9M152.5 700h0.9M221 700h0.9M215.5 700h0.9M213.5 700.5h0.9M115 700.5h0.9M171.5 700.5h0.9M36.5 700.5h0.9M176 700.5h0.9M215.5 700.5h0.9M210.5 700.5h0.9M207 700.5h0.9M274.5 700.5h0.9M119 700.5h0.9M117.5 700.5h0.9M262 701h0.9M142 701h0.9M159.5 701h0.9M220.5 701h0.9M181 701h0.9M207.5 701h0.9M115 701h0.9M152 701h0.9M304 701h0.9M122 701h0.9M278.5 701h0.9M116 701h0.9M209.5 701h0.9M183.5 701.5h0.9M207.5 701.5h0.9M283 701.5h0.9M152 701.5h0.9M161 701.5h0.9M179.5 701.5h0.9M38 701.5h0.9M173.5 701.5h0.9M52 701.5h0.9M158.5 701.5h0.9M149.5 701.5h0.9M342.5 702h0.9M270.5 702h0.9M215 702h0.9M215 702h0.9M221 702h0.9M179.5 702h0.9M222.5 702h0.9M304 702h0.9M82 702h0.9M115 702h0.9M183 702h0.9M310 702h0.9M66 702h0.9M215 702h0.9M158 702h0.9M152 702.5h0.9M210 702.5h0.9M216.5 702.5h0.9M180.5 702.5h0.9M178 702.5h0.9M236.5 702.5h0.9M171.5 702.5h0.9M211.5 702.5h0.9M160.5 702.5h0.9M116 702.5h0.9M114.5 703h0.9M267.5 703h0.9M285.5 703h0.9M272.5 703h0.9M152.5 703h0.9M162 703h0.9M215.5 703.5h0.9M109.5 703.5h0.9M248.5 703.5h0.9M115.5 703.5h0.9M320 703.5h0.9M36.5 703.5h0.9M117 704h0.9M168 704h0.9M40 704h0.9M218.5 704h0.9M175 704h0.9M120.5 704h0.9M156 704h0.9M109 704.5h0.9M117 704.5h0.9" stroke="#22c05a" stroke-width="0.9" stroke-opacity="0.85" fill="none"/>
<path d="M174 602.5h1M60.5 602.5h1M226.5 603.5h1M148.5 603.5h1M242 604.5h1M156 605h1M324.5 605.5h1M129 605.5h1M105.5 605.5h1M288.5 606.5h1M220 607h1M232 607h1M258.5 607.5h1M248.5 607.5h1M280 608.5h1M60.5 608.5h1M225.5 609h1M166.5 609.5h1M247.5 609.5h1M310 609.5h1M323.5 609.5h1M262 609.5h1M248 610h1M124 610.5h1M293 610.5h1M270 611h1M249 611h1M62 611.5h1M261.5 611.5h1M249.5 612h1M213.5 612.5h1M265.5 613h1M238 613h1M106.5 613h1M150 613h1M247 613h1M137 613.5h1M170.5 613.5h1M257.5 614h1M83.5 614.5h1M247.5 614.5h1M87.5 614.5h1M242 614.5h1M196 615h1M188 615h1M352.5 615h1M45.5 615h1M292 615.5h1M262.5 615.5h1M88.5 615.5h1M219 615.5h1M251.5 615.5h1M273.5 616h1M77 616h1M40.5 616h1M108 616h1M261.5 616h1M163.5 616.5h1M253 616.5h1M179 616.5h1M309.5 616.5h1M234 617h1M70.5 617h1M344 617.5h1M92 617.5h1M64 617.5h1M114.5 618h1M154 618h1M286.5 618h1M227.5 618h1M59 618.5h1M223.5 618.5h1M195 619h1M65.5 619h1M322.5 619.5h1M127.5 619.5h1M317.5 620h1M326.5 620h1M148 620h1M251 620.5h1M284 620.5h1M262 620.5h1M103.5 620.5h1M312.5 620.5h1M339.5 620.5h1M310 620.5h1M313.5 621.5h1M255.5 621.5h1M314.5 621.5h1M143 621.5h1M147 621.5h1M152.5 621.5h1M337.5 622h1M286.5 622.5h1M247 623h1M301 623h1M100 623.5h1M150.5 623.5h1M348.5 623.5h1M220.5 624h1M58.5 624.5h1M193 624.5h1M143 625h1M287.5 625h1M175 625h1M58.5 625h1M68 625h1M197 625.5h1M237 625.5h1M185 625.5h1M296 625.5h1M205.5 625.5h1M218.5 625.5h1M247 625.5h1M225.5 626h1M74.5 626h1M305 626.5h1M252.5 626.5h1M187 626.5h1M320 626.5h1M39.5 627h1M292.5 627h1M274.5 627h1M269.5 627h1M85.5 627h1M303.5 627.5h1M180.5 627.5h1M219.5 627.5h1M207 627.5h1M237 628h1M82.5 628h1M162.5 628h1M123 628h1M28 628h1M270.5 628h1M80.5 628h1M108.5 628h1M308.5 629h1M247.5 629h1M162 629h1M170 629.5h1M98 629.5h1M239.5 629.5h1M240 630h1M207 630.5h1M226 630.5h1M242 630.5h1M158 630.5h1M300.5 630.5h1M33 631h1M215.5 631h1M123.5 631h1M290 631.5h1M312.5 631.5h1M52.5 631.5h1M263 631.5h1M279 631.5h1M313 631.5h1M305.5 632h1M221.5 632h1M343 632h1M42.5 632h1M110 632h1M212 632h1M287.5 632.5h1M47.5 633h1M317.5 633h1M301.5 633.5h1M91 633.5h1M215 633.5h1M197.5 633.5h1M147.5 633.5h1M200 633.5h1M339 633.5h1M288 633.5h1M261 634h1M158.5 634h1M129.5 634h1M260.5 634h1M188 634h1M213 634h1M263 634h1M82.5 634h1M238 634.5h1M267.5 634.5h1M73 634.5h1M193 634.5h1M178.5 635h1M174 635h1M262 635h1M203.5 635h1M179.5 635h1M62 635.5h1M146 635.5h1M59.5 635.5h1M86.5 635.5h1M139 635.5h1M238 635.5h1M137.5 635.5h1M129 636h1M198.5 636h1M120.5 636h1M301 636h1M95 636.5h1M288 636.5h1M231 636.5h1M157 636.5h1M160.5 636.5h1M261.5 637h1M28 637h1M264.5 637h1M305 637.5h1M238.5 637.5h1M287.5 637.5h1M61 637.5h1M62.5 637.5h1M136 637.5h1M279 637.5h1M258 638h1M92.5 638h1M243.5 638h1M69 638.5h1M233 638.5h1M244.5 638.5h1M100.5 638.5h1M156 638.5h1M126 638.5h1M200 639h1M300 639h1M149.5 639h1M270 639.5h1M253 639.5h1M178.5 639.5h1M36.5 639.5h1M281.5 639.5h1M268 639.5h1M237 639.5h1M42 639.5h1M343.5 640h1M186.5 640h1M197.5 640h1M121 640h1M96 640h1M152 640h1M175 640.5h1M115.5 640.5h1M160 640.5h1M260.5 640.5h1M111.5 640.5h1M212 641h1M181 641h1M231.5 641h1M47 641h1M290.5 641.5h1M78 641.5h1M271 642h1M202 642h1M209.5 642.5h1M197.5 642.5h1M286 642.5h1M276 642.5h1M171.5 642.5h1M173.5 642.5h1M241 643h1M164 643h1M248.5 643h1M258 643h1M217 643.5h1M271 643.5h1M134 643.5h1M180 643.5h1M298.5 643.5h1M60.5 643.5h1M273 643.5h1M110.5 644h1M344 644h1M145.5 644h1M160 644h1M272.5 644h1M144.5 644h1M247 644h1M312 644h1M312 644h1M199.5 644h1M229 644h1M192 644.5h1M276 644.5h1M178.5 644.5h1M308 645h1M264.5 645h1M157 645h1M249 645h1M174.5 645h1M144.5 645h1M123.5 645.5h1M321 645.5h1M276.5 645.5h1M207 645.5h1M182.5 645.5h1M226 646h1M141 646h1M191 646h1M133 646h1M325 646.5h1M105.5 646.5h1M244.5 646.5h1M91 646.5h1M80 646.5h1M273 646.5h1M211.5 646.5h1M237 646.5h1M45.5 646.5h1M110 646.5h1M198 647h1M36.5 647h1M161.5 647h1M247.5 647h1M85.5 647h1M230.5 647h1M274.5 647.5h1M194 647.5h1M265.5 647.5h1M264 648h1M221 648h1M277 648h1M266.5 648h1M274 648.5h1M297.5 648.5h1M131.5 648.5h1M279.5 648.5h1M262.5 648.5h1M307 648.5h1M281 649h1M289.5 649h1M302.5 649h1M192 649.5h1M279 649.5h1M216 649.5h1M243.5 649.5h1M41 650h1M39 650h1M165.5 650h1M148 650h1M175.5 650.5h1M235.5 650.5h1M309.5 650.5h1M209 650.5h1M121.5 651h1M265 651h1M258 651h1M206.5 651h1M208 651h1M96 651h1M253.5 651h1M236 651.5h1M265.5 651.5h1M229.5 651.5h1M299.5 651.5h1M270.5 651.5h1M179.5 651.5h1M56 651.5h1M81 652h1M233.5 652h1M129.5 652h1M279.5 652h1M75.5 652h1M206.5 652h1M80 652h1M143.5 652h1M260.5 652.5h1M248.5 652.5h1M110.5 652.5h1M66 652.5h1M43 653h1M201.5 653h1M192 653h1M102.5 653h1M335 653h1M310.5 653h1M155.5 653h1M70.5 653h1M260 653h1M161 653.5h1M110.5 653.5h1M220 653.5h1M114.5 653.5h1M105.5 653.5h1M232 653.5h1M143 653.5h1M150 653.5h1M142.5 654h1M197 654h1M139 654h1M267.5 654h1M293 654h1M294 654h1M81.5 654h1M186 654h1M58.5 654.5h1M65.5 654.5h1M127.5 655h1M134 655h1M281 655h1M152.5 655h1M107.5 655h1M154 655.5h1M303 655.5h1M53.5 655.5h1M298.5 656h1M188.5 656h1M226.5 656h1M287.5 656h1M175.5 656h1M255 656h1M157 656h1M115.5 656h1M338 656h1M237.5 656.5h1M200 656.5h1M144 656.5h1M235.5 656.5h1M27.5 656.5h1M295.5 656.5h1M107.5 656.5h1M230.5 656.5h1M188 656.5h1M235.5 656.5h1M205 657h1M297.5 657h1M65.5 657h1M306.5 657h1M273 657h1M252 657h1M191 657.5h1M214 657.5h1M251 657.5h1M233 657.5h1M164 657.5h1M266 658h1M176.5 658h1M142 658h1M164.5 658h1M229.5 658h1M195.5 658.5h1M319 658.5h1M230.5 658.5h1M154.5 658.5h1M218 658.5h1M297 658.5h1M251.5 658.5h1M229 659h1M231 659h1M300.5 659h1M300 659h1M108.5 659h1M275.5 659h1M276 659h1M164.5 659h1M225.5 659h1M308 659h1M114.5 659h1M294.5 659.5h1M287.5 659.5h1M90.5 660h1M211 660h1M51.5 660h1M246 660h1M210.5 660h1M81 660h1M122.5 660h1M284 660.5h1M143 660.5h1M311.5 660.5h1M263 660.5h1M164 660.5h1M113 661h1M69.5 661h1M95.5 661h1M201.5 661h1M244.5 661h1M327 661h1M201 661h1M279.5 661h1M188.5 661h1M307.5 661h1M241 661h1M122 661.5h1M99.5 661.5h1M311.5 661.5h1M230.5 661.5h1M164.5 661.5h1M247.5 661.5h1M73 661.5h1M238 661.5h1M253 661.5h1M56 662h1M201 662h1M235.5 662h1M86.5 662h1M272 662h1M92 662h1M267.5 662h1M235.5 662.5h1M65 662.5h1M234 662.5h1M260.5 662.5h1M128 663h1M206.5 663h1M298 663h1M231 663h1M316.5 663.5h1M157 663.5h1M147 663.5h1M75 663.5h1M257.5 663.5h1M93 663.5h1M189.5 664h1M212.5 664h1M58 664h1M250.5 664h1M28.5 664h1M127.5 664h1M267 664h1M291 664h1M237.5 664.5h1M289 664.5h1M27.5 664.5h1M233.5 664.5h1M247.5 664.5h1M194 664.5h1M155.5 665h1M62 665h1M248.5 665h1M78 665h1M219.5 665.5h1M262 665.5h1M307.5 665.5h1M241.5 666h1M181 666h1M217.5 666h1M73 666h1M251.5 666h1M185 666h1M95.5 666h1M151.5 666.5h1M215 666.5h1M221 666.5h1M242 666.5h1M324 666.5h1M66.5 666.5h1M99.5 666.5h1M279 667h1M248 667h1M219 667h1M330.5 667h1M194 667h1M239.5 667h1M152.5 667.5h1M223 667.5h1M219 667.5h1M317 668h1M173 668h1M112.5 668h1M64.5 668h1M241.5 668h1M107 668h1M271.5 668h1M214 668.5h1M62 668.5h1M70 668.5h1M28 668.5h1M160.5 668.5h1M88.5 668.5h1M248.5 668.5h1M113 669h1M252 669h1M333.5 669h1M219.5 669h1M153 669h1M321.5 669h1M213 669.5h1M56 669.5h1M284 669.5h1M211.5 669.5h1M249 669.5h1M245 669.5h1M347.5 670h1M267 670h1M128.5 670h1M111.5 670h1M292.5 670h1M284.5 670h1M128 670h1M203 670.5h1M186.5 670.5h1M79.5 671h1M242 671h1M128.5 671h1M321.5 671h1M86.5 671h1M183 671h1M289 671.5h1M224 671.5h1M78 671.5h1M31 671.5h1M276 671.5h1M39 671.5h1M214 672h1M237 672h1M81 672h1M222 672h1M197 672h1M283 672h1M89 672.5h1M52.5 672.5h1M76 672.5h1M123 672.5h1M121.5 672.5h1M346.5 672.5h1M77.5 673h1M160 673h1M148 673h1M308.5 673h1M259 673h1M82.5 673h1M147 673h1M232 673h1M274 673h1M310.5 673.5h1M252 673.5h1M94.5 673.5h1M137.5 673.5h1M107 673.5h1M270 673.5h1M258 674h1M254.5 674h1M219 674h1M108.5 674h1M173 674h1M154.5 674h1M158.5 674.5h1M159.5 674.5h1M238.5 674.5h1M308 674.5h1M194.5 674.5h1M198.5 675h1M264 675h1M303.5 675h1M222.5 675h1M261.5 675h1M117 675.5h1M233.5 675.5h1M182 675.5h1M33 675.5h1M295.5 675.5h1M324.5 675.5h1M291.5 675.5h1M236.5 676h1M115.5 676h1M267.5 676h1M268 676h1M196.5 676h1M261 676h1M296 676h1M109 676h1M177 676h1M68.5 676h1M184 676.5h1M289 676.5h1M47 676.5h1M307.5 676.5h1M321 676.5h1M68 676.5h1M199 677h1M233 677h1M194.5 677h1M91 677h1M115.5 677h1M267 677.5h1M327 677.5h1M162 677.5h1M252.5 677.5h1M77.5 677.5h1M84.5 678h1M310.5 678h1M97.5 678h1M179.5 678h1M268.5 678h1M137 678h1M80 679h1M130 679h1M212.5 679h1M176 679h1M100 679h1M225.5 679.5h1M198 680h1M85.5 680h1M148.5 680h1M47 680h1M148 680h1M308 680h1M223 680h1M221.5 680h1M295.5 680h1M69 680h1M305.5 680.5h1M283 680.5h1M145 680.5h1M258.5 680.5h1M309.5 681h1M218 681h1M264.5 681h1M176.5 681h1M306 681.5h1M253.5 681.5h1M118 681.5h1M122 681.5h1M206 681.5h1M218 681.5h1M279 682h1M244.5 682h1M212.5 682h1M159.5 682.5h1M116.5 682.5h1M262 682.5h1M78 683h1M199.5 683h1M297.5 683h1M96 683h1M117.5 683h1M103 683.5h1M248.5 683.5h1M299.5 683.5h1M252 684h1M250.5 684h1M144 684h1M285 684h1M254 684h1M338 684h1M112 684.5h1M85 684.5h1M290.5 684.5h1M200 684.5h1M84 684.5h1M224 685h1M243.5 685h1M287.5 685h1M112 685h1M238 685h1M108 685.5h1M237 685.5h1M129 685.5h1M285 686h1M344 686h1M120 686h1M250.5 686h1M349 686h1M123.5 686h1M116.5 686h1M228 686.5h1M79 686.5h1M233 687h1M261.5 687h1M277 687h1M294 687h1M155 687.5h1M140.5 687.5h1M187.5 687.5h1M166 688h1M243 688h1M163 688h1M253 688h1M275.5 688h1M306 688h1M153.5 688h1M141.5 688h1M52.5 688h1M316 688h1M156.5 688h1M261 688.5h1M126 688.5h1M270.5 688.5h1M71 688.5h1M109.5 688.5h1M143 688.5h1M213.5 689h1M319 689h1M124.5 689.5h1M258.5 689.5h1M62 689.5h1M68 689.5h1M163 690h1M258.5 690h1M245 690h1M171 690h1M48 690h1M172.5 690h1M106.5 690h1M172 690h1M218.5 690h1M273 690h1M233 691h1M271 691h1M247.5 691h1M90 691.5h1M283.5 691.5h1M156 691.5h1M222.5 692h1M195.5 692h1M268 692h1M156.5 692h1M149.5 692.5h1M156.5 692.5h1M88 692.5h1M128.5 692.5h1M216 692.5h1M146.5 693h1M148 693h1M129.5 693h1M250.5 693h1M233 693h1M248.5 693.5h1M119.5 693.5h1M271.5 693.5h1M248.5 694h1M173.5 694h1M283.5 694h1M296 694h1M111 694.5h1M233.5 694.5h1M248.5 694.5h1M109 694.5h1M276.5 694.5h1M229.5 694.5h1M228.5 694.5h1M28.5 694.5h1M151.5 694.5h1M133.5 695h1M131 695h1M250.5 695h1M39 695h1M155 695h1M186.5 695.5h1M303 695.5h1M182.5 696h1M92.5 696h1M253 696h1M45.5 696h1M115 696.5h1M175 696.5h1M352 697h1M138 697h1M79 697h1M297.5 697.5h1M320.5 697.5h1M229.5 697.5h1M175.5 697.5h1M97 697.5h1M72 697.5h1M268.5 698h1M47.5 698h1M154 698h1M276.5 698h1M267.5 698.5h1M262 698.5h1M235 699h1M211.5 699h1M127.5 699h1M119.5 699h1M36.5 699h1M104.5 699.5h1M123.5 699.5h1M247 699.5h1M123 699.5h1M265 700h1M117 700h1M249.5 700h1M270 700h1M103.5 700h1M101 700.5h1M71.5 700.5h1M332.5 700.5h1M195.5 700.5h1M213 700.5h1M303.5 700.5h1M96 700.5h1M222.5 701h1M148.5 701h1M175 701h1M304 701.5h1M240 701.5h1M59.5 701.5h1M253.5 701.5h1M216.5 701.5h1M231.5 701.5h1M316 701.5h1M146.5 701.5h1M289.5 702h1M120 702h1M151 702h1M281.5 702.5h1M241.5 702.5h1M318 702.5h1M269 702.5h1M326 703h1M304 703h1M137 703.5h1M198.5 703.5h1M278 703.5h1M185.5 704h1M249 704h1" stroke="#1fa7a0" stroke-width="1" stroke-opacity="0.85" fill="none"/>
<path d="M101.5 602.5h1M231.5 602.5h1M158 602.5h1M338 603h1M328.5 603h1M185.5 603h1M97.5 603h1M144 603h1M145 603.5h1M163 603.5h1M76.5 603.5h1M147.5 604h1M184 604h1M349.5 604h1M290.5 604h1M88 604h1M129 604h1M236 604h1M128.5 604h1M73 604h1M83 604h1M281 604.5h1M58 604.5h1M125 604.5h1M348 604.5h1M267.5 604.5h1M112 604.5h1M232 605h1M272 605h1M38 605h1M227.5 605h1M314 605h1M94.5 605h1M174 605h1M70.5 605h1M177.5 605.5h1M292 605.5h1M142.5 605.5h1M137 605.5h1M140.5 605.5h1M291 605.5h1M265.5 605.5h1M147 605.5h1M315.5 605.5h1M94 605.5h1M222 605.5h1M107 606h1M115 606h1M56 606h1M119 606h1M285.5 606h1M295.5 606.5h1M249 606.5h1M288 606.5h1M278 606.5h1M208.5 606.5h1M160.5 606.5h1M347.5 606.5h1M156.5 606.5h1M154 607h1M309 607h1M33 607h1M240 607h1M294.5 607h1M123 607h1M173 607.5h1M92.5 607.5h1M53 607.5h1M131.5 607.5h1M323.5 607.5h1M246 607.5h1M219.5 608h1M188 608h1M207.5 608h1M114 608h1M83.5 608h1M91.5 608h1M68.5 608h1M351 608h1M206 608h1M244.5 608h1M59 608h1M163 608.5h1M244 608.5h1M161.5 608.5h1M268.5 608.5h1M316.5 608.5h1M150 608.5h1M102.5 608.5h1M69 608.5h1M151.5 608.5h1M262.5 608.5h1M129.5 608.5h1M224 608.5h1M85.5 609h1M321.5 609h1M135.5 609h1M41 609h1M143.5 609h1M242 609h1M212 609h1M135 609h1M292 609h1M215.5 609h1M317 609.5h1M351.5 609.5h1M76 609.5h1M250.5 609.5h1M130.5 609.5h1M324.5 609.5h1M45.5 610h1M287.5 610h1M310.5 610h1M43.5 610h1M272.5 610h1M202 610h1M175 610.5h1M172 610.5h1M90 610.5h1M242 610.5h1M283 610.5h1M191.5 610.5h1M27.5 610.5h1M86 610.5h1M210.5 610.5h1M272 611h1M332.5 611h1M324 611h1M113 611h1M70 611h1M180 611h1M113 611h1M136.5 611h1M94 611h1M60.5 611h1M98 611h1M277.5 611h1M178 611.5h1M93.5 611.5h1M127.5 611.5h1M293.5 611.5h1M41.5 611.5h1M117 611.5h1M212.5 611.5h1M248 612h1M141 612h1M237.5 612h1M304 612h1M320.5 612h1M98 612h1M66 612h1M146.5 612.5h1M194.5 612.5h1M203 612.5h1M346 612.5h1M260.5 612.5h1M136.5 612.5h1M31 612.5h1M78.5 612.5h1M320 612.5h1M195.5 612.5h1M272 612.5h1M290.5 612.5h1M174 613h1M280 613h1M344.5 613h1M144 613.5h1M258.5 613.5h1M303.5 613.5h1M229 613.5h1M187.5 613.5h1M57 613.5h1M329.5 613.5h1M242 613.5h1M238.5 613.5h1M240 614h1M263 614h1M107 614h1M282 614h1M234 614h1M64 614.5h1M303.5 614.5h1M301.5 614.5h1M310.5 614.5h1M346 614.5h1M153 614.5h1M213 614.5h1M235 615h1M302.5 615h1M184 615h1M291 615h1M180 615h1M289 615h1M32.5 615h1M226 615.5h1M105 615.5h1M313.5 615.5h1M192 615.5h1M217 615.5h1M289 615.5h1M264 615.5h1M185.5 615.5h1M214.5 616h1M96 616h1M52 616h1M60 616h1M53 616h1M142 616h1M269.5 616h1M160.5 616.5h1M332.5 616.5h1M295.5 616.5h1M176.5 616.5h1M150 616.5h1M63 617h1M330.5 617h1M305 617h1M190.5 617h1M111.5 617h1M269 617h1M106.5 617h1M164.5 617h1M282.5 617h1M284 617h1M114.5 617.5h1M173.5 617.5h1M171.5 617.5h1M181.5 617.5h1M256 617.5h1M331.5 617.5h1M282 617.5h1M236.5 617.5h1M282.5 617.5h1M317 617.5h1M246 618h1M103 618h1M199 618h1M95.5 618h1M250 618h1M119.5 618h1M95.5 618h1M80 618h1M189.5 618.5h1M101 618.5h1M210 618.5h1M217 618.5h1M94.5 618.5h1M52 618.5h1M70.5 619h1M168 619h1M66.5 619h1M269.5 619h1M234 619h1M286.5 619h1M284.5 619h1M67.5 619h1M299.5 619h1M209.5 619h1M133.5 619.5h1M278.5 619.5h1M342.5 619.5h1M250 619.5h1M94 619.5h1M348 619.5h1M104.5 619.5h1M194.5 619.5h1M147.5 620h1M217 620h1M29 620h1M168.5 620h1M172 620h1M91.5 620h1M270.5 620h1M256.5 620h1M69 620.5h1M171 620.5h1M309.5 620.5h1M98.5 620.5h1M310 620.5h1M313.5 620.5h1M314.5 620.5h1M74.5 620.5h1M170 620.5h1M167.5 620.5h1M154.5 621h1M261 621h1M162.5 621h1M198.5 621h1M337.5 621h1M78.5 621h1M251 621h1M272.5 621.5h1M153.5 621.5h1M160 621.5h1M57.5 621.5h1M342.5 622h1M188 622h1M273 622h1M233 622h1M128.5 622h1M216.5 622h1M67.5 622h1M287.5 622h1M40.5 622h1M182 622h1M113.5 622h1M242 622.5h1M291 622.5h1M200 622.5h1M199 622.5h1M140.5 622.5h1M188.5 623h1M329.5 623h1M189 623h1M285.5 623h1M196 623h1M39.5 623h1M199.5 623h1M238 623.5h1M335 623.5h1M213.5 623.5h1M172 623.5h1M31 623.5h1M291.5 623.5h1M245.5 623.5h1M85 623.5h1M102 623.5h1M185 624h1M119.5 624h1M322.5 624h1M292 624h1M148.5 624h1M29 624h1M226 624h1M99.5 624.5h1M168 624.5h1M209 624.5h1M126.5 624.5h1M90.5 624.5h1M56.5 624.5h1M118.5 624.5h1M221.5 625h1M332 625h1M125.5 625h1M68.5 625h1M33.5 625.5h1M273.5 625.5h1M213 625.5h1M102.5 625.5h1M77 625.5h1M51.5 625.5h1M296 625.5h1M108 625.5h1M200.5 626h1M277.5 626h1M262 626h1M81.5 626h1M278 626h1M261 626.5h1M226.5 626.5h1M255.5 626.5h1M166 626.5h1M352.5 626.5h1M277.5 626.5h1M329.5 627h1M236 627h1M103 627h1M69.5 627h1M229 627h1M163.5 627h1M36 627h1M260 627.5h1M78.5 627.5h1M255 627.5h1M283 627.5h1M274.5 627.5h1M61 627.5h1M177.5 627.5h1M339 628h1M288.5 628h1M310.5 628h1M89.5 628h1M345.5 628h1M172.5 628h1M289.5 628h1M244 628h1M77.5 628.5h1M221 628.5h1M286 628.5h1M74 628.5h1M84 628.5h1M34 628.5h1M186.5 628.5h1M298.5 628.5h1M263.5 628.5h1M277.5 628.5h1M128 628.5h1M133 629h1M125.5 629h1M325 629h1M307 629h1M276 629h1M224 629h1M153 629.5h1M263.5 629.5h1M324 629.5h1M272 629.5h1M149 629.5h1M156.5 629.5h1M290.5 629.5h1M96 629.5h1M261.5 629.5h1M259.5 630h1M101.5 630h1M280 630h1M277 630h1M195 630h1M272 630h1M148 630h1M283 630.5h1M248 630.5h1M181.5 630.5h1M191.5 630.5h1M49 630.5h1M268 630.5h1M107.5 630.5h1M330 630.5h1M241.5 630.5h1M138.5 630.5h1M196 630.5h1M146 630.5h1M200 631h1M282.5 631h1M137.5 631h1M89 631h1M261 631h1M150 631h1M249.5 631h1M292.5 631h1M172 631h1M319 631h1M265.5 631.5h1M234 631.5h1M210 631.5h1M322.5 631.5h1M136 631.5h1M311.5 631.5h1M47.5 631.5h1M189 632h1M119 632h1M79.5 632h1M339.5 632h1M346.5 632h1M223 632h1M228 632h1M315.5 632h1M204 632h1M44.5 632.5h1M158.5 632.5h1M54 632.5h1M278.5 632.5h1M98.5 632.5h1M143 632.5h1M230 632.5h1M248.5 632.5h1M81.5 632.5h1M28 632.5h1M196 632.5h1M158 632.5h1M73.5 632.5h1M302.5 632.5h1M224.5 632.5h1M151 632.5h1M147 633h1M293.5 633h1M81 633h1M344.5 633h1M202.5 633h1M244.5 633.5h1M138.5 633.5h1M257.5 634h1M218 634h1M212 634h1M72.5 634h1M262 634h1M325 634.5h1M293.5 634.5h1M34.5 634.5h1M281.5 635h1M51.5 635h1M142.5 635h1M229 635h1M334 635h1M222 635h1M70 635h1M315 635.5h1M327 635.5h1M114 635.5h1M121.5 635.5h1M298.5 635.5h1M123.5 635.5h1M78 635.5h1M296 635.5h1M234.5 635.5h1M111.5 636h1M51 636h1M42.5 636h1M256 636h1M105.5 636h1M269.5 636h1M224.5 636h1M47 636h1M256.5 636h1M114 636.5h1M62.5 636.5h1M293 636.5h1M184.5 636.5h1M48 636.5h1M329.5 636.5h1M127.5 636.5h1M78.5 636.5h1M222.5 636.5h1M273 637h1M255.5 637h1M229.5 637h1M323 637h1M185.5 637h1M79.5 637h1M244 637.5h1M278 637.5h1M313 637.5h1M63 637.5h1M35.5 637.5h1M198 637.5h1M100 637.5h1M173.5 637.5h1M222.5 637.5h1M322.5 637.5h1M306 638h1M36 638h1M268.5 638h1M221 638h1M290 638h1M220.5 638h1M346 638h1M86.5 638h1M178.5 638h1M180.5 638h1M311.5 638h1M72 638h1M224.5 638h1M238.5 638.5h1M348.5 638.5h1M57.5 638.5h1M127.5 638.5h1M345 639h1M287 639h1M342.5 639h1M107.5 639h1M276.5 639h1M308.5 639.5h1M155.5 639.5h1M183.5 639.5h1M272 639.5h1M159.5 639.5h1M295 639.5h1M91 639.5h1M157 639.5h1M41.5 640h1M67 640h1M124 640h1M76 640h1M37.5 640h1M226 640.5h1M185 640.5h1M167.5 640.5h1M102.5 640.5h1M226 640.5h1M60 640.5h1M142 640.5h1M175.5 641h1M283.5 641h1M153.5 641h1M296 641h1M41 641h1M68.5 641.5h1M102 642h1M232.5 642h1M140.5 642h1M201 642h1M51 642h1M42.5 642h1M339 642h1M315.5 642h1M177.5 642h1M330 642.5h1M78 642.5h1M348.5 642.5h1M149.5 642.5h1M244.5 642.5h1M240 643h1M300.5 643h1M240 643h1M349 643h1M111 643h1M211 643.5h1M220 643.5h1M238.5 643.5h1M276 643.5h1M249.5 643.5h1M145.5 643.5h1M231.5 643.5h1M196.5 643.5h1M104 643.5h1M295 644h1M27.5 644h1M46 644h1M196.5 644h1M218.5 644h1M128 644h1M199.5 644h1M174 644h1M45.5 644h1M67 644h1M310.5 644h1M166.5 644h1M350 644h1M122.5 644h1M192 644.5h1M274 644.5h1M172 644.5h1M272.5 644.5h1M307 644.5h1M140 644.5h1M33 644.5h1M107 644.5h1M253 644.5h1M341 644.5h1M282 644.5h1M154 645h1M203.5 645h1M278 645h1M207.5 645h1M300.5 645h1M317.5 645h1M284.5 645h1M296 645h1M142.5 645h1M176.5 645h1M212.5 645h1M261 645h1M256.5 645h1M238 645h1M42.5 645.5h1M80 645.5h1M69 645.5h1M50.5 645.5h1M94 645.5h1M63.5 646h1M167 646h1M208 646h1M64.5 646h1M193 646h1M196 646h1M74 646h1M60 646.5h1M85.5 646.5h1M236.5 646.5h1M87.5 646.5h1M245 646.5h1M62.5 646.5h1M38.5 646.5h1M240 647h1M175.5 647h1M64 647h1M276.5 647h1M225 647h1M267.5 647h1M89 647h1M262 647h1M216.5 647h1M179 647.5h1M194 647.5h1M45 647.5h1M30 647.5h1M179 647.5h1M308.5 647.5h1M331 648h1M254.5 648h1M31.5 648h1M124 648h1M256 648h1M160 648h1M191.5 648h1M206 648h1M114 648h1M187 648.5h1M250 648.5h1M78.5 648.5h1M62.5 648.5h1M209 648.5h1M323 649h1M35 649h1M273.5 649h1M325 649h1M280 649h1M274.5 649h1M90.5 649h1M281.5 649h1M188.5 649.5h1M137.5 649.5h1M127 649.5h1M330 650h1M130 650h1M238 650h1M178.5 650h1M175 650h1M67 650h1M65.5 650.5h1M205 650.5h1M332 651h1M155.5 651h1M212 651h1M202.5 651h1M166.5 651h1M286.5 651h1M39.5 651h1M28.5 651h1M217.5 651h1M256 651.5h1M59 651.5h1M129 651.5h1M240 651.5h1M122 651.5h1M111 651.5h1M161.5 651.5h1M151.5 651.5h1M307.5 651.5h1M145 652h1M321 652h1M304 652h1M50 652h1M215.5 652h1M300.5 652h1M220.5 652h1M114 652h1M266 652.5h1M184 652.5h1M212 652.5h1M296 652.5h1M87 652.5h1M95.5 652.5h1M139.5 652.5h1M252.5 652.5h1M340.5 652.5h1M114 653h1M235.5 653h1M61.5 653h1M230.5 653h1M199 653h1M261.5 653h1M51.5 653h1M210 653.5h1M150.5 653.5h1M123.5 653.5h1M32.5 653.5h1M294.5 653.5h1M244.5 653.5h1M142.5 653.5h1M136.5 653.5h1M347 653.5h1M220 653.5h1M272 653.5h1M143 653.5h1M181 654h1M28.5 654h1M55 654h1M246.5 654h1M86 654h1M289 654h1M261.5 654h1M337 654h1M217.5 654h1M276 654h1M337.5 654.5h1M75.5 654.5h1M201.5 654.5h1M248.5 654.5h1M265 655h1M152.5 655h1M199.5 655h1M157.5 655h1M211 655.5h1M128 655.5h1M124.5 655.5h1M151.5 655.5h1M248.5 655.5h1M325 655.5h1M296.5 655.5h1M338 656h1M277 656h1M305.5 656h1M27.5 656h1M292 656h1M83 656h1M40.5 656h1M311 656h1M136 656h1M176 656h1M319 656.5h1M232.5 656.5h1M248 656.5h1M39.5 656.5h1M302.5 656.5h1M327.5 656.5h1M147 656.5h1M43 656.5h1M33 656.5h1M276 656.5h1M298 656.5h1M164 656.5h1M341.5 656.5h1M120.5 656.5h1M346 657h1M78 657h1M161.5 657h1M82 657h1M237.5 657h1M334.5 657h1M139 657.5h1M222 657.5h1M138 657.5h1M74.5 657.5h1M233.5 657.5h1M120.5 657.5h1M124.5 657.5h1M138 657.5h1M135 657.5h1M142.5 658h1M78 658h1M337 658h1M292.5 658h1M183 658.5h1M61.5 658.5h1M261.5 658.5h1M164.5 658.5h1M350 658.5h1M34 658.5h1M273 658.5h1M277 658.5h1M110 658.5h1M213.5 658.5h1M253 659h1M190.5 659h1M189 659h1M220.5 659h1M323 659.5h1M175 659.5h1M218 659.5h1M171 659.5h1M195.5 659.5h1M293.5 659.5h1M214 659.5h1M189 659.5h1M208.5 660h1M113.5 660h1M88 660h1M142.5 660h1M220.5 660.5h1M323 660.5h1M212 660.5h1M341.5 660.5h1M265 660.5h1M206.5 660.5h1M192.5 660.5h1M68 660.5h1M260.5 660.5h1M155 660.5h1M96 661h1M123.5 661h1M58 661h1M84.5 661h1M51.5 661h1M139 661h1M119 661h1M131.5 661.5h1M94 661.5h1M222 661.5h1M62.5 661.5h1M251.5 661.5h1M247 662h1M235.5 662h1M104 662h1M100 662h1M60.5 662h1M188 662h1M236 662h1M178.5 662h1M180 662.5h1M233 662.5h1M324.5 662.5h1M40.5 662.5h1M200.5 662.5h1M43 662.5h1M131.5 662.5h1M251.5 663h1M51.5 663h1M82 663h1M307 663h1M302 663.5h1M33.5 663.5h1M108 663.5h1M146.5 663.5h1M298 663.5h1M165 663.5h1M167 663.5h1M119.5 663.5h1M109.5 664h1M30.5 664h1M329.5 664h1M140.5 664h1M126.5 664h1M219 664h1M136.5 664h1M132 664.5h1M128 664.5h1M83 664.5h1M62 664.5h1M81 664.5h1M28.5 664.5h1M318 665h1M38.5 665h1M264.5 665h1M150.5 665h1M254.5 665h1M81.5 665h1M304.5 665h1M349.5 665.5h1M115 665.5h1M235.5 665.5h1M130 665.5h1M94.5 665.5h1M264.5 665.5h1M201 665.5h1M60 665.5h1M229 666h1M256.5 666h1M28.5 666h1M56 666h1M159 666h1M29 666h1M195.5 666h1M195 666h1M303.5 666h1M129 666h1M234.5 666h1M265 666h1M186 666.5h1M317 666.5h1M315.5 666.5h1M77 666.5h1M307 666.5h1M299 667h1M286.5 667h1M117.5 667h1M51.5 667h1M120 667h1M133 667.5h1M244.5 667.5h1M327 667.5h1M173.5 667.5h1M79.5 667.5h1M113.5 668h1M162 668h1M99 668h1M235.5 668h1M279 668h1M128.5 668h1M139.5 668h1M349.5 668.5h1M111 668.5h1M81.5 668.5h1M295 668.5h1M274 668.5h1M315 668.5h1M201.5 668.5h1M86.5 668.5h1M46.5 669h1M152.5 669h1M136.5 669h1M83.5 669h1M308 669h1M347 669h1M275.5 669h1M93 669h1M35 669h1M36.5 669.5h1M37 669.5h1M299 669.5h1M108.5 669.5h1M266 669.5h1M314 669.5h1M300 669.5h1M349.5 669.5h1M185.5 670h1M50 670h1M159 670h1M341 670h1M37.5 670h1M50 670h1M232.5 670h1M172.5 670.5h1M213.5 670.5h1M168.5 670.5h1M325.5 671h1M330 671h1M65 671h1M34.5 671h1M351.5 671h1M320.5 671h1M109.5 671.5h1M270 671.5h1M237.5 671.5h1M263.5 671.5h1M329 671.5h1M308 671.5h1M352 671.5h1M290.5 671.5h1M328.5 672h1M155.5 672h1M134 672h1M47.5 672h1M237 672h1M122 672h1M123 672h1M270.5 672h1M278.5 672h1M114 672h1M268 672h1M82 672h1M86 672h1M104.5 672h1M71 672.5h1M93 672.5h1M33 672.5h1M273 672.5h1M225 673h1M122 673h1M140 673h1M301 673h1M90.5 673h1M248.5 673h1M169.5 673h1M349 673h1M219 673.5h1M79 673.5h1M98.5 673.5h1M141 673.5h1M236 673.5h1M230.5 674h1M97.5 674h1M334 674h1M292.5 674h1M309.5 674h1M161.5 674h1M160.5 674h1M169 674h1M151.5 674h1M218.5 674h1M187 674h1M269.5 674.5h1M304 674.5h1M126 674.5h1M255 675h1M86 675h1M140 675h1M326.5 675h1M300.5 675h1M270 675h1M214.5 675.5h1M285 675.5h1M174.5 675.5h1M37.5 675.5h1M156 675.5h1M304.5 675.5h1M335.5 676h1M302.5 676h1M235.5 676h1M74 676h1M305 676h1M164 676h1M96 676h1M353 676.5h1M243 676.5h1M58 676.5h1M275 676.5h1M228.5 676.5h1M157 677h1M59.5 677h1M330.5 677h1M220.5 677h1M338 677h1M38 677h1M160 677h1M53 677h1M332.5 677h1M351.5 677h1M333 677.5h1M137 677.5h1M81.5 677.5h1M256.5 677.5h1M56.5 677.5h1M337 678h1M60 678h1M44.5 678h1M115.5 678h1M49 678h1M45.5 678h1M323 678h1M242 678h1M68.5 678h1M166.5 678h1M81 678h1M31 678h1M286 678.5h1M232 678.5h1M337 678.5h1M179.5 678.5h1M339 678.5h1M263 678.5h1M327 678.5h1M231.5 678.5h1M221 678.5h1M267.5 679h1M331.5 679h1M287.5 679h1M310 679h1M207.5 679h1M241 679h1M153.5 679h1M59.5 679.5h1M125.5 679.5h1M139 679.5h1M156 679.5h1M194.5 679.5h1M150.5 680h1M246.5 680h1M304 680h1M148.5 680h1M285 680h1M160.5 680h1M350.5 680h1M103 680h1M210.5 680.5h1M242 680.5h1M121.5 680.5h1M288 680.5h1M103 680.5h1M82 680.5h1M274 680.5h1M241.5 681h1M291.5 681h1M265 681h1M93.5 681h1M29.5 681h1M231.5 681h1M152 681h1M312 681h1M259.5 681h1M37.5 681.5h1M144 681.5h1M76 681.5h1M299 682h1M207 682h1M262 682h1M113.5 682h1M148.5 682h1M228 682h1M300 682h1M161.5 682.5h1M287.5 682.5h1M81 682.5h1M221.5 682.5h1M259.5 682.5h1M51.5 682.5h1M113 682.5h1M234 682.5h1M98 682.5h1M86 682.5h1M175.5 683h1M267.5 683h1M123 683h1M204 683h1M136.5 683h1M83.5 683h1M231.5 683h1M53 683h1M84.5 683h1M138.5 683.5h1M245 683.5h1M129.5 683.5h1M210.5 683.5h1M141.5 683.5h1M347 683.5h1M34.5 683.5h1M123.5 684h1M345 684h1M291.5 684h1M195 684h1M34 684h1M69.5 684h1M305.5 684h1M59 684h1M186 684h1M247.5 684h1M292 684.5h1M295 684.5h1M220.5 684.5h1M132 684.5h1M83 684.5h1M161.5 684.5h1M71.5 684.5h1M320.5 684.5h1M74 684.5h1M326.5 684.5h1M351.5 685h1M246.5 685h1M268 685h1M325.5 685h1M53 685h1M78 685.5h1M299.5 685.5h1M255 685.5h1M322.5 685.5h1M197 685.5h1M79 685.5h1M65 686h1M207 686h1M271 686h1M324.5 686h1M41.5 686h1M169.5 686h1M190 686.5h1M177.5 686.5h1M47.5 686.5h1M322 686.5h1M207.5 686.5h1M173 686.5h1M44 686.5h1M254 686.5h1M300.5 686.5h1M44 687h1M146.5 687h1M177 687h1M87 687h1M173.5 687h1M261 687h1M274 687h1M269.5 687h1M349 687h1M286.5 687h1M310 687h1M167 687h1M294.5 687.5h1M35 687.5h1M158.5 687.5h1M80 687.5h1M79.5 687.5h1M144.5 688h1M205.5 688h1M67 688h1M328.5 688h1M107.5 688h1M78.5 688.5h1M110.5 688.5h1M169.5 688.5h1M308.5 688.5h1M289 688.5h1M43.5 688.5h1M316 688.5h1M94.5 688.5h1M256 688.5h1M76 688.5h1M132.5 689h1M49 689h1M197 689h1M305.5 689h1M303.5 689.5h1M346.5 689.5h1M251 689.5h1M158.5 689.5h1M108 689.5h1M212.5 689.5h1M332.5 689.5h1M223.5 689.5h1M311 689.5h1M29 689.5h1M186 690h1M343.5 690h1M251.5 690h1M348 690h1M162.5 690h1M204.5 690h1M347.5 690.5h1M152.5 690.5h1M82.5 690.5h1M118.5 690.5h1M215 690.5h1M76.5 690.5h1M316.5 691h1M343 691h1M192.5 691h1M218 691h1M170.5 691h1M170 691h1M82 691h1M106.5 691.5h1M232 691.5h1M45.5 691.5h1M88 691.5h1M130 691.5h1M68.5 691.5h1M143.5 691.5h1M160.5 691.5h1M234.5 691.5h1M314.5 692h1M82.5 692h1M258 692h1M27.5 692h1M174.5 692h1M281.5 692h1M242.5 692h1M129.5 692h1M67 692h1M258.5 692.5h1M317 692.5h1M324 692.5h1M332 693h1M288.5 693h1M296 693h1M60 693h1M167.5 693h1M162.5 693h1M70.5 693.5h1M60 693.5h1M299.5 693.5h1M322.5 693.5h1M350 693.5h1M291 693.5h1M213 694h1M72.5 694h1M74.5 694h1M238 694h1M294 694h1M38 694h1M121.5 694h1M203 694h1M190.5 694h1M131 694.5h1M201.5 694.5h1M273 694.5h1M131 694.5h1M311 695h1M29.5 695h1M204.5 695h1M204 695h1M271.5 695h1M316 695h1M303.5 695h1M271 695.5h1M212.5 695.5h1M36.5 695.5h1M338.5 695.5h1M52.5 695.5h1M323 695.5h1M192.5 695.5h1M188.5 695.5h1M257.5 696h1M266 696h1M96.5 696h1M343.5 696h1M344.5 696.5h1M144 696.5h1M294.5 696.5h1M223.5 696.5h1M50.5 697h1M330.5 697h1M140 697h1M131 697h1M131 697h1M192.5 697h1M165.5 697h1M148.5 697h1M125 697.5h1M195 697.5h1M108 697.5h1M249.5 697.5h1M113.5 697.5h1M37 697.5h1M106 697.5h1M82.5 697.5h1M247.5 698h1M277 698h1M114.5 698h1M128 698h1M289.5 698h1M72.5 698h1M317 698h1M277.5 698.5h1M334 698.5h1M49 698.5h1M332.5 698.5h1M251.5 698.5h1M297 698.5h1M235 698.5h1M343.5 698.5h1M55.5 698.5h1M180.5 699h1M262 699h1M115.5 699h1M314 699h1M178 699h1M316.5 699h1M35 699h1M137.5 699h1M148.5 699h1M230 699.5h1M192 699.5h1M155 699.5h1M132.5 699.5h1M53 699.5h1M340.5 699.5h1M100 699.5h1M112.5 700h1M75.5 700h1M130 700h1M302 700h1M244 700h1M158.5 700h1M113 700h1M84 700.5h1M244.5 700.5h1M172 700.5h1M35.5 700.5h1M222.5 700.5h1M106.5 701h1M327.5 701h1M347.5 701h1M272 701h1M32 701h1M324 701h1M212.5 701h1M147 701h1M238 701.5h1M269.5 701.5h1M107.5 701.5h1M127 701.5h1M143 701.5h1M38 701.5h1M118 701.5h1M75.5 701.5h1M146.5 701.5h1M41.5 701.5h1M235.5 702h1M327.5 702h1M145.5 702h1M237.5 702h1M116.5 702h1M264 702h1M306 702h1M94.5 702.5h1M201.5 702.5h1M334.5 702.5h1M239.5 702.5h1M345.5 702.5h1M165 702.5h1M42 702.5h1M190 703h1M138.5 703h1M338.5 703h1M174.5 703h1M151.5 703h1M251.5 703h1M321 703h1M289 703h1M88.5 703h1M250 703h1M277 703.5h1M55.5 703.5h1M339.5 703.5h1M321.5 703.5h1M65.5 703.5h1M157 703.5h1M228 703.5h1M180 704h1M121.5 704h1M320 704h1M267 704h1M244.5 704h1M121.5 704h1" stroke="#2390a8" stroke-width="1" stroke-opacity="0.6" fill="none"/>
<path d="M61 602.5h1M159.5 602.5h1M183.5 603h1M204 603.5h1M153 603.5h1M47 603.5h1M154 603.5h1M281 604h1M131 604h1M180.5 604h1M289 604h1M263.5 604h1M165 604h1M202.5 604h1M115 604.5h1M248 604.5h1M95.5 604.5h1M258.5 605h1M119.5 605h1M193 605h1M281 605h1M58 605h1M351 605h1M99.5 605.5h1M251.5 605.5h1M226.5 605.5h1M333.5 605.5h1M164 605.5h1M317.5 605.5h1M159.5 606h1M348 606h1M282.5 606h1M115 606h1M66 606.5h1M305 606.5h1M124.5 606.5h1M57 607h1M72.5 607h1M253.5 607.5h1M165.5 607.5h1M272.5 607.5h1M307 607.5h1M212.5 607.5h1M113.5 608h1M149.5 608h1M78 608h1M214.5 608.5h1M50 608.5h1M150.5 608.5h1M79.5 608.5h1M207 608.5h1M130 609h1M117.5 609h1M50 609h1M285.5 609h1M316 609h1M139 609h1M307.5 609.5h1M48 609.5h1M53 609.5h1M152 609.5h1M217 609.5h1M215.5 609.5h1M63.5 609.5h1M46.5 610h1M324.5 610h1M122.5 610h1M307.5 610h1M203 610h1M56 610.5h1M123.5 610.5h1M79 610.5h1M274.5 610.5h1M187 610.5h1M106 610.5h1M305.5 611h1M154.5 611h1M190.5 611.5h1M154.5 611.5h1M74.5 612h1M345 612h1M48 612h1M78.5 613h1M186.5 613.5h1M303 613.5h1M237 613.5h1M345.5 613.5h1M142 613.5h1M211 614h1M169.5 614h1M121.5 614h1M344.5 614h1M246.5 614h1M315 614.5h1M102.5 614.5h1M251.5 614.5h1M308 615h1M184 615h1M339 615h1M341 615h1M215.5 615.5h1M276 615.5h1M277.5 615.5h1M300.5 615.5h1M213.5 616h1M307.5 616h1M227 616h1M139 616h1M352.5 616h1M103.5 616.5h1M27.5 616.5h1M353 616.5h1M72.5 616.5h1M255.5 616.5h1M130.5 617h1M45.5 617h1M347.5 617h1M98 617.5h1M109.5 617.5h1M57 617.5h1M149.5 617.5h1M235.5 617.5h1M173.5 618h1M330 618h1M115 618h1M346 618h1M209.5 618h1M82 618.5h1M128.5 618.5h1M38 618.5h1M252.5 618.5h1M130 618.5h1M108 618.5h1M126 619.5h1M121 619.5h1M131 620h1M115.5 620h1M119 620h1M138 620h1M339.5 620h1M302.5 620h1M315.5 620h1M273.5 620.5h1M257 620.5h1M271 620.5h1M89 620.5h1M61 620.5h1M275.5 620.5h1M43 620.5h1M171 621h1M68 621h1M272.5 621h1M338.5 621h1M218 621h1M137.5 621.5h1M60 621.5h1M285 621.5h1M104.5 621.5h1M80.5 621.5h1M80 621.5h1M245.5 622h1M317 622h1M101.5 622h1M74.5 622h1M87.5 622h1M193 622.5h1M284.5 623h1M240.5 623h1M27.5 623h1M260 623h1M270 623h1M150.5 623h1M117 624h1M294.5 624h1M31.5 624h1M277.5 624h1M78 624h1M335 624.5h1M199.5 624.5h1M74 624.5h1M351 624.5h1M115 624.5h1M353.5 624.5h1M260.5 624.5h1M270.5 624.5h1M230 625h1M156.5 625h1M111 625h1M189 625h1M284.5 625h1M60.5 625.5h1M61 625.5h1M302.5 626h1M73.5 626h1M206 626h1M121 626h1M343 626.5h1M70.5 626.5h1M345 627h1M328.5 627h1M231.5 627h1M254 627h1M315.5 627h1M252.5 627.5h1M41.5 627.5h1M144.5 627.5h1M64.5 627.5h1M90 627.5h1M62 628h1M348.5 628h1M157.5 628.5h1M49 628.5h1M104 629h1M155.5 629h1M341 629h1M272.5 629h1M337.5 629h1M195 629.5h1M82 629.5h1M164.5 629.5h1M241.5 629.5h1M223 629.5h1M286 629.5h1M282 629.5h1M41 629.5h1M289 629.5h1M168.5 629.5h1M290 629.5h1M56.5 629.5h1M300 630h1M260.5 630h1M345 630h1M72 630h1M257 630.5h1M213.5 630.5h1M264 630.5h1M338 630.5h1M174.5 631h1M80 631h1M146.5 631h1M227.5 631h1M234 631h1M78.5 631.5h1M207.5 631.5h1M274.5 631.5h1M326.5 631.5h1M33 632h1M313 632h1M90.5 632h1M143.5 632h1M320 632h1M292.5 632h1M29.5 632h1M35 632.5h1M291.5 632.5h1M180 632.5h1M245 632.5h1M259.5 632.5h1M279.5 633h1M285.5 633h1M346 633h1M119.5 633h1M263.5 633h1M166.5 633.5h1M138 633.5h1M156.5 634h1M121 634h1M224.5 634h1M144.5 634h1M308 634h1M226 634h1M194 634.5h1M35 634.5h1M153 634.5h1M225.5 635h1M171.5 635h1M99 635h1M285.5 635.5h1M259.5 635.5h1M316.5 635.5h1M66.5 635.5h1M84 635.5h1M268.5 635.5h1M41.5 635.5h1M65 636h1M157 636h1M344 636.5h1M100.5 636.5h1M34.5 636.5h1M209 636.5h1M331.5 637h1M48.5 637h1M161.5 637.5h1M34.5 637.5h1M160 637.5h1M242 637.5h1M104.5 638h1M84.5 638h1M80 638h1M329 638h1M46 638.5h1M118 638.5h1M190.5 638.5h1M333 638.5h1M103.5 639h1M293.5 639h1M326 639h1M122 639h1M291.5 639h1M281.5 639h1M164.5 639.5h1M230 639.5h1M230 639.5h1M67 640h1M249.5 640h1M136 640.5h1M62 640.5h1M57 640.5h1M183.5 640.5h1M113.5 640.5h1M246.5 640.5h1M310.5 640.5h1M72.5 641h1M133 641h1M258.5 641h1M298.5 641h1M281.5 641h1M164.5 641.5h1M77 641.5h1M278.5 641.5h1M285.5 641.5h1M310.5 641.5h1M230.5 642h1M207 642h1M133 642h1M125.5 642h1M280 642h1M173 642.5h1M325 642.5h1M30.5 643h1M273 643h1M296.5 643h1M249 643h1M27 643h1M62 643.5h1M300 643.5h1M306.5 643.5h1M334 643.5h1M141 644h1M292 644h1M70.5 644h1M229.5 644h1M277.5 644.5h1M36.5 644.5h1M204 644.5h1M35.5 644.5h1M60.5 644.5h1M332 644.5h1M127.5 644.5h1M206 645h1M177 645h1M170.5 645h1M193 645h1M116.5 645h1M105 645h1M224 645.5h1M59 645.5h1M294 645.5h1M233 646h1M300.5 646h1M86.5 646h1M299.5 646.5h1M232.5 646.5h1M327.5 646.5h1M327 646.5h1M157 647h1M111.5 647h1M313.5 647h1M301 647h1M90 647h1M182 647h1M31 647.5h1M325 647.5h1M120.5 648h1M95.5 648h1M125 648h1M197 648.5h1M312 648.5h1M51 648.5h1M298.5 648.5h1M43.5 648.5h1M91 648.5h1M343 648.5h1M41 648.5h1M101 648.5h1M174 649h1M136 649.5h1M147 649.5h1M230 649.5h1M314 650h1M54 650h1M96 650h1M124.5 650h1M203.5 650.5h1M155.5 650.5h1M181.5 651h1M205.5 651h1M235 651h1M128.5 651.5h1M44 651.5h1M339 651.5h1M324 651.5h1M200 652h1M81 652h1M142.5 652h1M147.5 652h1M74 652.5h1M224.5 653h1M121.5 653h1M193.5 653h1M299 653h1M231.5 653h1M183 653h1M297.5 653.5h1M279.5 653.5h1M61 653.5h1M212.5 653.5h1M264 653.5h1M160 653.5h1M297 654h1M312 654h1M227 654h1M182.5 654h1M297 654.5h1M264.5 654.5h1M202 654.5h1M65.5 654.5h1M315.5 655h1M281 655h1M109.5 655h1M331 655h1M244 655h1M156.5 655h1M115 655h1M352.5 655h1M65 655h1M283.5 655h1M313.5 655.5h1M353 655.5h1M154.5 655.5h1M313.5 655.5h1M282 655.5h1M192.5 656h1M157 656h1M139 656h1M93 657h1M301 657h1M298.5 657h1M302.5 657.5h1M210.5 657.5h1M49 657.5h1M163 657.5h1M108 657.5h1M265 657.5h1M284 658h1M319.5 658h1M274.5 658h1M125.5 658h1M163.5 658h1M85 658.5h1M88.5 658.5h1M224 658.5h1M218 659h1M245 659h1M204.5 659h1M174.5 659h1M337 659h1M96 659h1M145 659h1M249.5 659h1M310 659h1M219 659.5h1M241 659.5h1M267.5 659.5h1M238 660h1M140.5 660h1M80 660h1M148 660h1M191 660h1M323.5 660h1M276 660h1M349.5 660h1M318 660h1M139.5 660h1M334.5 660.5h1M248 660.5h1M321 661h1M80.5 661h1M124 661h1M87.5 661h1M346 661h1M183.5 661.5h1M299 661.5h1M250.5 662h1M236.5 662h1M255 662h1M113 662h1M192 662.5h1M280 662.5h1M285 662.5h1M207.5 662.5h1M53.5 662.5h1M261 663h1M62 663h1M205 663.5h1M332 663.5h1M170 663.5h1M303.5 663.5h1M144 664h1M339.5 664h1M253 664h1M313 664h1M78.5 664h1M68 664h1M213.5 664.5h1M316.5 664.5h1M111.5 664.5h1M341 664.5h1M169.5 664.5h1M298 664.5h1M254 665h1M278.5 665h1M312.5 665h1M215 665h1M234.5 665h1M292.5 665.5h1M245.5 665.5h1M300 665.5h1M78.5 665.5h1M232.5 665.5h1M147 665.5h1M28.5 666h1M53 666h1M168.5 666h1M283 666h1M54.5 666h1M58 666.5h1M311.5 666.5h1M260 667h1M49.5 667h1M154.5 667h1M142 667h1M135 667h1M214.5 667h1M94.5 667h1M54.5 667.5h1M309 668h1M283.5 668h1M281 668h1M350.5 668h1M131.5 668h1M93 668.5h1M118.5 668.5h1M36 668.5h1M56.5 668.5h1M116 668.5h1M207 669h1M154.5 669h1M104 669h1M146 669h1M162 669h1M241.5 669.5h1M220.5 669.5h1M52 669.5h1M342.5 669.5h1M45.5 669.5h1M28 670h1M342 670h1M73 670h1M97.5 670h1M194.5 670h1M171 670h1M211 670.5h1M29.5 670.5h1M228 670.5h1M86 670.5h1M240 671h1M260.5 671h1M251 671h1M74.5 671h1M80 671h1M129.5 671.5h1M136 671.5h1M137 671.5h1M315 671.5h1M259 671.5h1M352.5 671.5h1M345.5 671.5h1M113 671.5h1M151 672h1M220 672h1M271.5 672h1M109 672h1M198 672.5h1M83.5 672.5h1M193.5 672.5h1M158.5 672.5h1M123.5 672.5h1M298.5 672.5h1M305 672.5h1M40.5 672.5h1M83.5 673h1M203.5 673h1M335 673h1M133.5 673.5h1M326.5 673.5h1M52.5 673.5h1M42 673.5h1M31 674h1M117 674h1M152 674h1M147 674h1M247 674h1M260.5 674h1M146 674h1M173.5 674h1M49.5 674h1M67 674.5h1M202 674.5h1M312.5 674.5h1M113.5 674.5h1M310 674.5h1M154 675h1M307 675h1M83.5 675h1M220.5 675h1M282 675.5h1M337 675.5h1M106 675.5h1M308 676.5h1M333.5 676.5h1M300.5 676.5h1M88 676.5h1M139.5 677h1M94.5 677h1M340 677h1M106.5 677h1M298.5 677h1M98.5 677.5h1M338.5 677.5h1M289.5 677.5h1M140.5 677.5h1M142 677.5h1M202 677.5h1M160 678h1M134.5 678h1M144 678h1M323 678h1M112.5 678.5h1M94.5 678.5h1M127.5 678.5h1M139.5 678.5h1M190.5 678.5h1M33.5 678.5h1M37.5 678.5h1M146 678.5h1M77.5 678.5h1M148.5 678.5h1M229.5 679h1M216 679.5h1M333 679.5h1M193.5 679.5h1M328 679.5h1M227 679.5h1M239.5 680h1M313.5 680h1M340 680h1M86 680.5h1M271.5 680.5h1M181.5 680.5h1M252.5 680.5h1M348.5 680.5h1M235 681h1M116 681.5h1M132.5 681.5h1M347 681.5h1M170.5 681.5h1M94 682h1M90 682h1M213.5 682h1M133.5 682.5h1M266 682.5h1M203.5 682.5h1M185 683h1M58.5 683h1M180.5 683h1M63.5 683h1M269 683h1M120 683h1M32 683.5h1M198.5 683.5h1M178.5 683.5h1M341.5 683.5h1M275 683.5h1M50.5 683.5h1M53 683.5h1M46.5 683.5h1M186.5 684h1M90 684h1M151.5 684h1M257 684h1M216.5 684h1M153.5 684h1M129 684h1M249.5 684h1M250 684.5h1M271.5 684.5h1M88 684.5h1M73 684.5h1M159 684.5h1M144 684.5h1M224.5 684.5h1M224 685h1M90.5 685h1M117 685h1M114 685h1M130 685h1M280 685h1M149 685.5h1M109.5 685.5h1M310.5 685.5h1M210 685.5h1M67 685.5h1M34 686h1M314 686h1M86 686h1M200.5 686h1M179.5 686.5h1M232.5 686.5h1M163.5 686.5h1M108.5 686.5h1M170 686.5h1M218 686.5h1M293 686.5h1M336 686.5h1M310 686.5h1M120.5 687h1M198 687h1M61.5 687.5h1M303.5 687.5h1M39.5 687.5h1M123.5 687.5h1M259.5 687.5h1M350 687.5h1M348.5 687.5h1M209.5 688h1M195 688h1M97 688.5h1M329.5 688.5h1M63 688.5h1M264.5 688.5h1M161 688.5h1M232 688.5h1M50 688.5h1M169 688.5h1M309 689h1M318.5 689h1M305.5 689h1M352 689h1M52.5 689h1M158 689.5h1M45 689.5h1M92 689.5h1M120.5 690h1M38.5 690h1M307 690h1M247 690h1M228.5 690h1M295 690h1M307.5 690.5h1M137.5 690.5h1M337.5 690.5h1M288 690.5h1M200 690.5h1M96 691h1M226.5 691h1M99.5 691h1M115.5 691h1M291.5 691h1M64 691h1M329 691h1M200 691.5h1M218 691.5h1M31.5 691.5h1M295.5 692h1M191 692h1M294 692h1M340.5 692h1M81 692h1M290 692h1M40 692.5h1M141.5 692.5h1M223 692.5h1M92 692.5h1M244 692.5h1M65.5 693h1M185 693.5h1M279.5 693.5h1M281.5 693.5h1M28.5 693.5h1M73 693.5h1M303.5 693.5h1M193 694h1M353 694h1M276 694h1M79.5 694h1M336 694h1M348.5 694h1M132 694.5h1M43 694.5h1M193 694.5h1M86 694.5h1M67.5 695h1M159 695h1M247.5 695h1M195 695.5h1M331.5 695.5h1M219 695.5h1M219.5 696h1M170 696h1M174 696h1M265 696h1M55 696h1M240 696h1M95.5 696h1M336 696h1M255.5 696.5h1M305.5 696.5h1M311.5 696.5h1M52 696.5h1M155 696.5h1M278 696.5h1M226 696.5h1M52.5 697h1M73.5 697h1M222.5 697h1M291.5 697h1M222 697h1M67.5 697.5h1M196 697.5h1M161.5 697.5h1M313.5 697.5h1M164 697.5h1M138.5 697.5h1M45 697.5h1M225.5 698h1M346 698h1M69.5 698h1M60.5 698h1M65 698.5h1M330.5 698.5h1M173.5 699h1M213 699h1M345.5 699h1M172.5 699h1M296.5 699.5h1M218.5 699.5h1M179 699.5h1M156.5 699.5h1M178 699.5h1M119 700.5h1M271 700.5h1M319 700.5h1M101.5 700.5h1M183 701h1M290.5 701h1M323.5 701h1M331 701.5h1M182 701.5h1M251 701.5h1M323.5 702h1M268.5 702h1M146 702h1M121.5 702h1M305 702h1M227 702.5h1M184 702.5h1M126.5 702.5h1M129.5 702.5h1M74.5 703h1M228.5 703h1M60.5 703h1M118.5 703h1M249 703.5h1M147 704h1M111 704h1M241 704h1M339.5 704h1M144 704h1M349 704.5h1" stroke="#a02478" stroke-width="1" stroke-opacity="0.6" fill="none"/>
<path d="M98 603h1M29.5 603h1M222 603h1M261.5 603.5h1M306 604h1M136 604.5h1M319 605h1M279.5 605h1M331.5 605h1M206.5 605h1M52.5 606h1M117 606.5h1M206.5 607h1M98.5 607h1M186.5 607h1M251.5 607h1M317.5 607.5h1M84 607.5h1M172.5 607.5h1M199 607.5h1M332 608h1M285.5 608h1M316.5 608h1M42.5 608.5h1M307.5 608.5h1M160 608.5h1M138 609h1M35 609h1M74.5 609.5h1M314.5 610h1M142 610.5h1M330.5 610.5h1M149.5 610.5h1M326 611h1M35.5 611h1M114 611h1M125 611.5h1M293.5 611.5h1M205.5 611.5h1M228.5 611.5h1M191.5 611.5h1M83 613h1M319 613h1M221 613h1M52 614h1M184 614h1M220 614h1M293.5 614h1M265.5 614h1M126 614h1M276 614h1M275.5 614.5h1M88.5 614.5h1M207 615h1M257 615h1M170 615h1M74 615h1M91.5 615.5h1M95.5 615.5h1M256.5 615.5h1M61 616h1M287 616.5h1M285 616.5h1M213.5 617h1M145 617h1M230 617h1M278.5 617h1M232.5 617.5h1M37.5 617.5h1M307.5 617.5h1M105 618h1M75.5 618.5h1M157 618.5h1M100.5 619h1M37 619h1M111 619.5h1M237.5 619.5h1M176 620.5h1M252 620.5h1M265 621h1M323 621.5h1M163 621.5h1M281 622h1M189 622h1M168.5 622h1M67.5 622.5h1M60.5 622.5h1M302 622.5h1M134 622.5h1M330 623h1M280 623h1M352 623h1M96 623h1M42 623h1M113.5 623h1M245 623.5h1M91.5 624h1M71.5 624h1M162 624h1M41.5 624h1M176 624.5h1M352 624.5h1M323.5 625h1M33.5 625h1M267 625.5h1M345.5 625.5h1M213.5 625.5h1M242.5 625.5h1M117.5 626h1M186 626h1M46.5 626.5h1M199 626.5h1M169.5 626.5h1M340.5 626.5h1M341 627h1M135 627h1M316 627.5h1M147 627.5h1M225 627.5h1M143.5 628h1M101 628h1M230.5 628.5h1M28 628.5h1M69 628.5h1M212 628.5h1M239 628.5h1M170.5 628.5h1M97 629h1M35.5 629.5h1M309.5 630h1M136.5 630h1M143 630h1M132 630h1M166 630.5h1M287 630.5h1M129 631h1M139 631h1M199 631h1M337.5 631h1M211 631.5h1M27.5 631.5h1M108 632h1M251.5 632h1M88 632.5h1M137 632.5h1M269.5 633h1M303.5 633h1M279.5 633h1M198 633h1M149.5 633h1M64.5 633.5h1M74 633.5h1M70 633.5h1M74 633.5h1M346.5 633.5h1M39.5 634h1M90.5 634h1M100.5 634.5h1M118.5 634.5h1M54 635h1M326.5 635h1M65.5 635.5h1M329 636h1M40.5 636h1M105 636h1M212.5 636.5h1M92 636.5h1M325 636.5h1M46.5 637h1M28.5 637h1M314 637.5h1M341.5 637.5h1M178.5 637.5h1M317.5 637.5h1M85.5 638h1M141.5 638h1M316.5 638.5h1M163.5 638.5h1M182 638.5h1M269.5 639h1M185.5 639h1M126.5 639h1M253 640h1M311.5 640h1M115.5 640h1M65 640.5h1M148.5 640.5h1M87.5 641h1M118 642.5h1M58.5 642.5h1M284.5 642.5h1M70 643h1M193 643.5h1M81 643.5h1M210 643.5h1M287.5 644h1M105 644h1M327 644h1M130.5 644.5h1M235.5 644.5h1M191.5 645h1M33 645h1M271.5 645h1M204.5 645h1M87.5 646h1M235 646h1M339.5 646h1M292 646h1M245 646.5h1M271 646.5h1M235.5 646.5h1M128.5 646.5h1M59.5 647h1M152 647.5h1M265 647.5h1M276 647.5h1M166 648h1M308.5 648h1M75.5 648h1M80.5 648.5h1M157 649h1M295.5 649h1M103.5 649.5h1M137 649.5h1M128.5 649.5h1M74 651h1M296 651h1M154.5 651h1M249 651h1M300.5 651h1M350.5 651.5h1M219.5 651.5h1M330 651.5h1M292 652h1M338 652h1M62.5 653h1M334 653h1M73 653h1M150.5 653h1M175.5 653h1M81.5 653.5h1M76.5 654h1M221.5 654h1M245 654.5h1M51.5 654.5h1M70 654.5h1M115 654.5h1M324.5 654.5h1M245 655h1M147.5 655h1M52 655.5h1M136 655.5h1M231.5 655.5h1M239.5 655.5h1M125 656h1M316.5 656h1M256.5 656h1M175 656h1M205 656h1M203 656.5h1M320.5 656.5h1M231.5 656.5h1M55.5 657h1M172.5 657.5h1M69.5 657.5h1M274 658.5h1M93 658.5h1M329 658.5h1M227.5 658.5h1M264.5 659h1M120 659h1M160 659.5h1M65.5 659.5h1M242 659.5h1M45 660h1M273 660.5h1M351 660.5h1M101 661h1M48.5 661h1M45 661h1M185 661h1M170.5 661h1M350 661.5h1M128.5 661.5h1M313 661.5h1M169.5 662h1M94.5 662h1M284 662.5h1M155.5 662.5h1M137.5 663h1M263.5 663h1M191.5 663.5h1M105 663.5h1M335.5 664h1M138.5 664h1M326.5 664.5h1M214.5 665.5h1M44 665.5h1M202 665.5h1M241.5 665.5h1M100 665.5h1M188.5 666.5h1M65 666.5h1M126 666.5h1M176.5 667h1M252.5 667.5h1M247 668h1M187.5 668h1M64 668.5h1M48 669h1M183.5 669h1M93.5 669h1M59 669.5h1M224 669.5h1M137.5 670h1M253 670h1M274.5 670h1M111.5 670.5h1M270 671h1M234 671h1M238.5 671h1M339 671h1M169 671h1M209 671h1M208.5 671.5h1M292.5 671.5h1M31.5 672h1M319.5 672h1M87.5 672h1M34.5 672h1M69.5 672.5h1M260.5 673h1M264.5 673.5h1M147.5 673.5h1M69 673.5h1M336.5 673.5h1M243 673.5h1M73 674.5h1M345 674.5h1M185 675h1M100 675.5h1M203 676h1M118.5 676.5h1M172 676.5h1M207.5 677h1M69.5 677h1M51 677.5h1M55.5 678h1M257 678h1M97 678.5h1M76 678.5h1M218.5 678.5h1M245.5 678.5h1M112.5 679h1M194.5 679.5h1M256 679.5h1M256 680h1M163 680h1M124.5 680h1M238.5 680h1M304.5 680h1M40 680.5h1M167.5 680.5h1M279.5 680.5h1M131 680.5h1M81 681h1M196 681h1M271.5 681h1M294 681h1M241.5 681h1M104.5 681.5h1M230 681.5h1M57.5 681.5h1M322.5 682h1M308.5 682h1M312.5 682h1M193.5 682h1M126.5 682h1M235 682.5h1M300.5 682.5h1M217 683h1M83 683.5h1M44 683.5h1M260 684h1M281 684h1M134 684h1M246 684h1M93.5 684h1M121 684.5h1M33 684.5h1M197.5 685h1M126 685h1M353 685h1M179.5 685h1M324.5 685.5h1M347.5 686h1M344 686h1M313.5 686h1M290.5 686h1M50.5 686.5h1M35.5 687h1M294.5 687h1M303 687h1M353 687h1M307.5 687h1M246 687.5h1M252.5 688h1M322 688h1M192.5 688.5h1M266 688.5h1M246.5 688.5h1M352.5 689h1M312 689h1M325.5 689h1M58 689h1M126 689h1M205 689h1M53 689h1M97.5 689.5h1M91.5 689.5h1M285.5 689.5h1M277.5 690h1M222 690.5h1M321.5 690.5h1M299 691h1M180 691h1M283.5 691h1M75 691h1M301 691h1M38.5 691h1M274.5 691.5h1M159 692h1M148 692h1M124 692h1M45.5 692h1M169 692.5h1M260 692.5h1M351 692.5h1M304.5 693h1M63.5 693h1M209 693.5h1M30.5 693.5h1M320 693.5h1M110.5 694h1M177 694h1M338.5 694.5h1M136.5 694.5h1M307 695h1M59 695h1M140 695h1M287 695h1M173 695.5h1M200.5 695.5h1M310.5 696h1M142.5 696h1M155 696.5h1M172 697h1M187 697h1M152.5 697h1M257.5 697h1M341 697.5h1M215.5 697.5h1M81.5 698h1M88.5 698h1M334 698h1M269 698.5h1M119 698.5h1M163.5 698.5h1M315.5 698.5h1M56 699h1M288 699h1M186 699.5h1M171 699.5h1M313.5 700h1M167 700h1M132 700.5h1M301.5 700.5h1M250 700.5h1M291 701h1M235 701h1M160 701h1M295 701h1M324.5 701.5h1M325.5 702h1M259 702h1M72.5 702.5h1M128 702.5h1M214.5 702.5h1M104 702.5h1M224.5 703h1M317.5 703h1M58 703.5h1M59 703.5h1M347.5 703.5h1M291 703.5h1M314 704h1M268 704h1M261.5 704h1M192 704h1M57 704.5h1" stroke="#28c060" stroke-width="1" stroke-opacity="0.7" fill="none"/>
</g>
<rect x="27" y="602.6" width="327.3" height="101.8" filter="url(#grain)"/>
<rect x="27" y="602.6" width="327.3" height="101.8" filter="url(#grainL)" opacity=".22"/>
<path d="M80 645q4-3.500 9-3.800q2 .6-1.500 2.200-3.500 2.200-7.500 1.600zM198 664l22 1.500M258 671l17-3.500M330 668l8 3" fill="#050510" stroke="#050510" stroke-width="1"/>
<path d="M242 650q4-2 6-7l3 3 4-9" fill="none" stroke="#7ab8f0" stroke-width="1.200" opacity=".9"/><path d="M249 640l3 3 4-9" fill="none" stroke="#e070c0" stroke-width=".9" opacity=".85"/><path d="M328 663q9 2 14 1.500l12 1" fill="none" stroke="#58c0e8" stroke-width="1.200" opacity=".9"/><path d="M340 665.500l13 3.500" fill="none" stroke="#e060c0" stroke-width=".8" opacity=".8"/>
<rect x="190.2" y="602.6" width="1.2" height="101.8" fill="#cfd0e6"/>
<rect x="27.6" y="700.6" width="84.5" height="1.1" fill="#f4f4ff"/>
<rect x="192" y="700.6" width="75" height="1.1" fill="#f4f4ff"/>
<rect x="47" y="702.3" width="2.5" height="0.8" fill="#c8c8e0"/>
<rect x="66" y="702.3" width="2.5" height="0.8" fill="#c8c8e0"/>
<rect x="85" y="702.3" width="2.5" height="0.8" fill="#c8c8e0"/>
<rect x="104" y="702.3" width="2.5" height="0.8" fill="#c8c8e0"/>
<rect x="212" y="702.3" width="2.5" height="0.8" fill="#c8c8e0"/>
<rect x="231" y="702.3" width="2.5" height="0.8" fill="#c8c8e0"/>
<rect x="250" y="702.3" width="2.5" height="0.8" fill="#c8c8e0"/>
<rect x="264" y="702.3" width="2.5" height="0.8" fill="#c8c8e0"/>
</g>
<text transform="translate(35.8 614.9) scale(1.03 1)" font-size="8.2" font-weight="bold" fill="#fff">WT</text>
<text transform="translate(323.4 617.9)" font-size="8.5" font-weight="bold" fill="#fff">+/1013</text>
<text transform="translate(177.5 611) scale(0.91 1)" font-size="9.3" font-weight="bold" fill="#e02c22">IgM</text>
<text transform="translate(177.8 621.3) scale(0.91 1)" font-size="9.3" font-weight="bold" fill="#2fa543">Laminin</text>
<text transform="translate(177.8 632) scale(0.91 1)" font-size="9.3" font-weight="bold" fill="#2aa2da">Hoechst</text>
</g>
<rect x="0" y="0" width="520" height="1.3" fill="#000"/>
<rect x="0" y="0" width="1.25" height="823" fill="#000"/>
<rect x="518.2" y="0" width="1.8" height="823" fill="#000"/>
<rect x="0" y="821.3" width="520" height="1.7" fill="#000"/>
</svg></body></html>
